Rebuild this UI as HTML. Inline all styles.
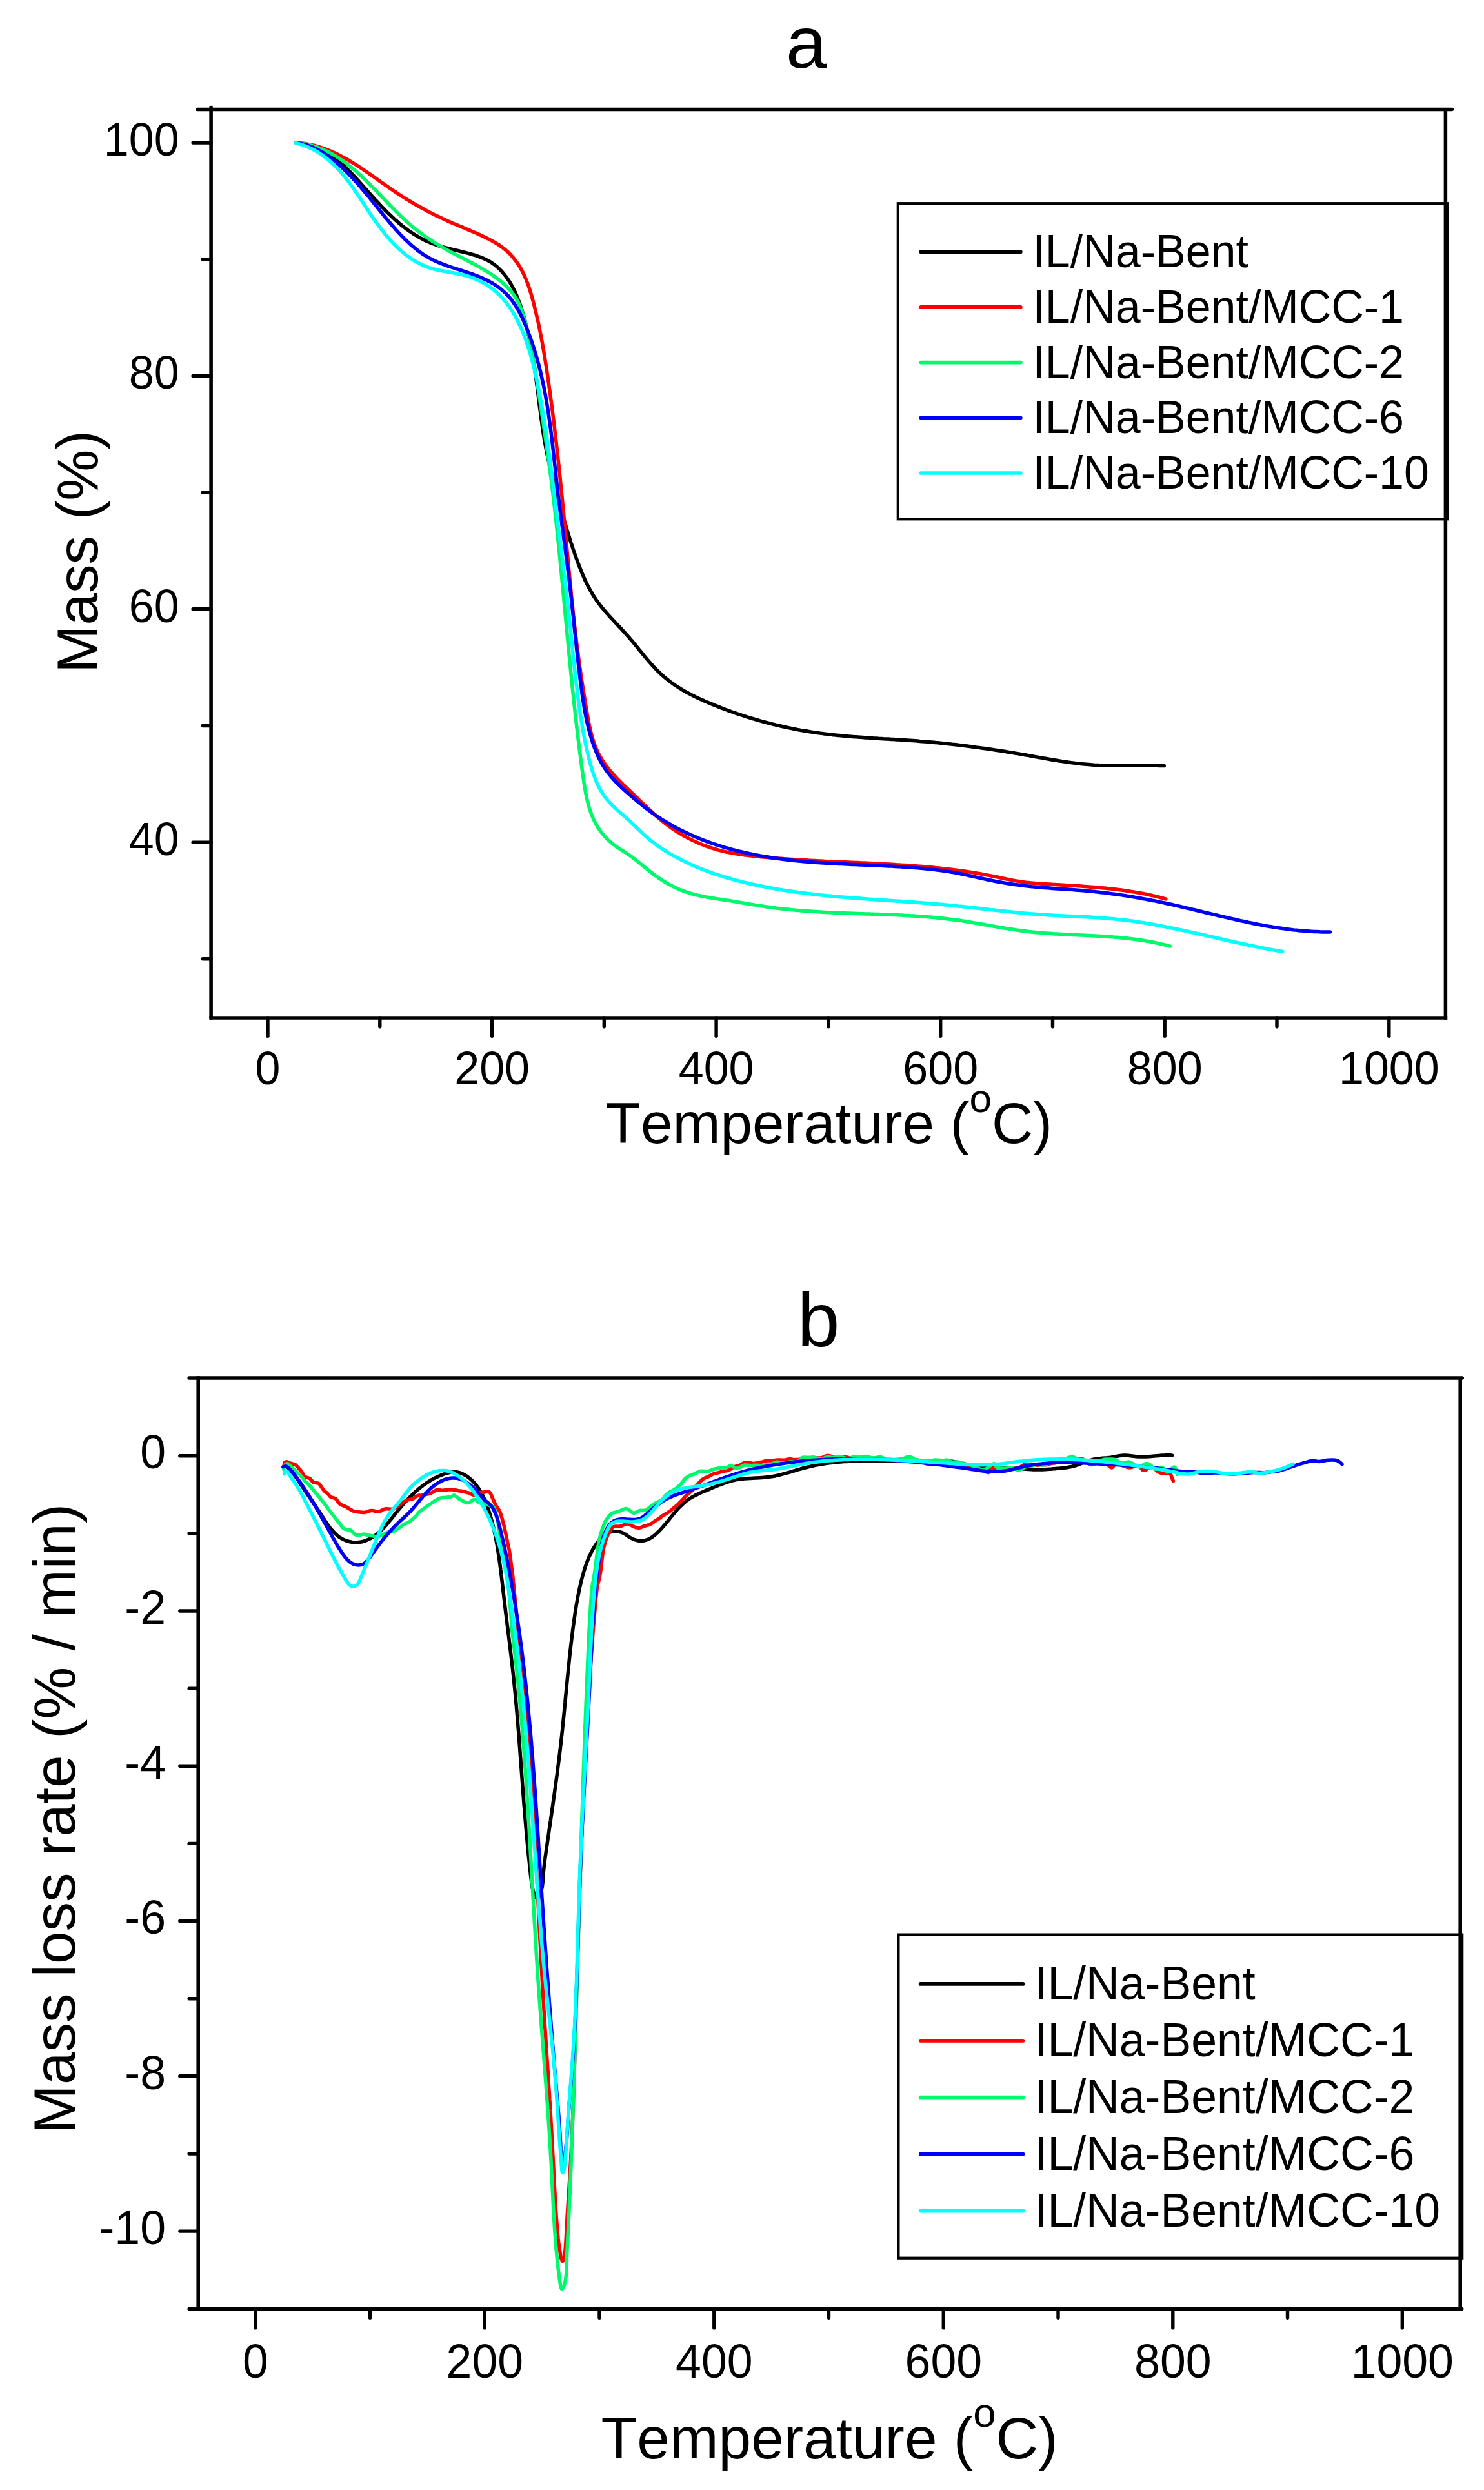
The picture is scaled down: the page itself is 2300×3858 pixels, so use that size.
<!DOCTYPE html>
<html lang="en"><head><meta charset="utf-8"><title>TGA and DTG curves</title>
<style>html,body{margin:0;padding:0;background:#fff}svg{display:block}text{font-family:"Liberation Sans", Arial, Helvetica, sans-serif;fill:#000;font-kerning:none}</style>
</head><body>
<svg width="2300" height="3858" viewBox="0 0 2300 3858">
<rect width="2300" height="3858" fill="#fff"/>
<g id="panel-a">
<path d="M458.8 221.0C460.1 221.2 461.4 221.3 462.7 221.5C464.1 221.7 465.4 221.9 466.7 222.2C468.0 222.4 469.3 222.7 470.6 222.9C471.9 223.2 473.2 223.5 474.5 223.9C475.8 224.2 477.1 224.6 478.4 224.9C479.7 225.3 481.0 225.7 482.3 226.1C483.5 226.5 484.8 227.0 486.0 227.4C487.3 227.9 488.6 228.4 489.8 228.9C491.0 229.4 492.3 229.9 493.5 230.4C494.7 231.0 495.9 231.5 497.1 232.1C498.4 232.7 499.6 233.3 500.7 233.9C501.9 234.5 503.1 235.1 504.3 235.8C505.5 236.4 506.6 237.1 507.8 237.8C508.9 238.5 510.0 239.2 511.2 239.9C512.3 240.7 513.4 241.4 514.5 242.1C515.6 242.9 516.7 243.7 517.8 244.5C518.9 245.3 519.9 246.1 521.0 246.9C522.1 247.7 523.1 248.5 524.2 249.4C525.2 250.2 526.2 251.1 527.2 251.9C528.3 252.8 529.3 253.7 530.3 254.6C531.3 255.5 532.3 256.4 533.3 257.3C534.2 258.2 535.2 259.1 536.2 260.0C537.1 260.9 538.1 261.9 539.1 262.8C540.0 263.8 540.9 264.7 541.9 265.7C542.8 266.6 543.8 267.6 544.7 268.5C545.6 269.5 546.5 270.5 547.4 271.5C548.4 272.4 549.3 273.4 550.2 274.4C551.1 275.4 552.0 276.4 552.9 277.4C553.8 278.4 554.7 279.3 555.6 280.3C556.5 281.3 557.4 282.3 558.3 283.3C559.2 284.3 560.0 285.3 560.9 286.3C561.8 287.3 562.7 288.3 563.6 289.3C564.5 290.3 565.4 291.3 566.3 292.3C567.2 293.3 568.1 294.3 568.9 295.3C569.8 296.3 570.7 297.3 571.6 298.3C572.5 299.3 573.4 300.3 574.3 301.3C575.2 302.3 576.1 303.3 577.0 304.3C577.9 305.3 578.8 306.3 579.7 307.3C580.6 308.3 581.5 309.3 582.4 310.2C583.3 311.2 584.2 312.2 585.1 313.2C586.0 314.2 586.9 315.2 587.9 316.1C588.8 317.1 589.7 318.1 590.6 319.1C591.5 320.0 592.5 321.0 593.4 321.9C594.3 322.9 595.3 323.9 596.2 324.8C597.1 325.8 598.1 326.7 599.0 327.7C600.0 328.6 600.9 329.6 601.9 330.5C602.8 331.4 603.8 332.4 604.8 333.3C605.7 334.2 606.7 335.1 607.7 336.0C608.7 337.0 609.6 337.9 610.6 338.8C611.6 339.7 612.6 340.6 613.6 341.5C614.6 342.3 615.6 343.2 616.6 344.1C617.7 345.0 618.7 345.8 619.7 346.7C620.7 347.6 621.8 348.4 622.8 349.3C623.8 350.1 624.9 350.9 626.0 351.7C627.0 352.6 628.1 353.4 629.1 354.2C630.2 355.0 631.3 355.8 632.4 356.6C633.5 357.4 634.6 358.1 635.7 358.9C636.8 359.7 637.9 360.4 639.0 361.1C640.1 361.9 641.2 362.6 642.4 363.3C643.5 364.0 644.6 364.7 645.8 365.4C646.9 366.1 648.1 366.8 649.2 367.4C650.4 368.1 651.6 368.8 652.8 369.4C653.9 370.0 655.1 370.6 656.3 371.2C657.5 371.8 658.7 372.4 659.9 373.0C661.1 373.6 662.4 374.1 663.6 374.6C664.8 375.2 666.1 375.7 667.3 376.2C668.5 376.7 669.8 377.2 671.0 377.7C672.3 378.1 673.6 378.6 674.8 379.0C676.1 379.5 677.4 379.9 678.6 380.3C679.9 380.7 681.2 381.1 682.5 381.5C683.7 381.9 685.0 382.2 686.3 382.6C687.6 383.0 688.9 383.3 690.2 383.7C691.5 384.0 692.8 384.4 694.1 384.7C695.4 385.0 696.7 385.4 698.0 385.7C699.3 386.0 700.6 386.3 701.9 386.6C703.2 387.0 704.5 387.3 705.8 387.6C707.1 387.9 708.4 388.2 709.7 388.5C711.0 388.8 712.3 389.1 713.6 389.5C714.9 389.8 716.2 390.1 717.5 390.4C718.8 390.7 720.1 391.1 721.4 391.4C722.7 391.7 724.0 392.1 725.3 392.4C726.6 392.7 727.8 393.1 729.1 393.4C730.4 393.8 731.7 394.2 733.0 394.5C734.3 394.9 735.6 395.3 736.8 395.7C738.1 396.1 739.4 396.6 740.6 397.0C741.9 397.4 743.2 397.9 744.4 398.4C745.7 398.8 746.9 399.3 748.2 399.9C749.4 400.4 750.6 400.9 751.8 401.5C753.0 402.0 754.2 402.6 755.4 403.3C756.6 403.9 757.8 404.5 758.9 405.2C760.1 405.9 761.2 406.6 762.4 407.3C763.5 408.0 764.6 408.8 765.6 409.6C766.7 410.4 767.8 411.2 768.8 412.1C769.8 412.9 770.9 413.8 771.8 414.7C772.8 415.6 773.8 416.5 774.7 417.5C775.7 418.4 776.6 419.4 777.5 420.4C778.4 421.4 779.3 422.4 780.2 423.4C781.0 424.4 781.9 425.5 782.7 426.5C783.5 427.6 784.3 428.7 785.1 429.7C785.9 430.8 786.7 431.9 787.4 433.0C788.2 434.1 788.9 435.3 789.6 436.4C790.3 437.5 791.0 438.7 791.7 439.8C792.4 441.0 793.0 442.2 793.7 443.3C794.3 444.5 794.9 445.7 795.5 446.9C796.1 448.1 796.7 449.3 797.3 450.5C797.9 451.7 798.5 452.9 799.0 454.1C799.6 455.3 800.1 456.6 800.6 457.8C801.2 459.0 801.7 460.3 802.2 461.5C802.7 462.7 803.2 464.0 803.6 465.2C804.1 466.5 804.6 467.7 805.0 469.0C805.5 470.3 805.9 471.5 806.4 472.8C806.8 474.1 807.2 475.3 807.6 476.6C808.1 477.9 808.5 479.2 808.9 480.4C809.3 481.7 809.7 483.0 810.0 484.3C810.4 485.5 810.8 486.8 811.2 488.1C811.6 489.4 811.9 490.7 812.3 492.0C812.7 493.3 813.0 494.6 813.4 495.8C813.7 497.1 814.1 498.4 814.4 499.7C814.8 501.0 815.1 502.3 815.4 503.6C815.8 504.9 816.1 506.2 816.4 507.5C816.7 508.8 817.0 510.1 817.3 511.4C817.6 512.7 818.0 514.0 818.3 515.3C818.6 516.6 818.8 517.9 819.1 519.2C819.4 520.5 819.7 521.9 820.0 523.2C820.3 524.5 820.6 525.8 820.8 527.1C821.1 528.4 821.4 529.7 821.6 531.0C821.9 532.3 822.2 533.6 822.4 535.0C822.7 536.3 822.9 537.6 823.2 538.9C823.4 540.2 823.7 541.5 823.9 542.9C824.1 544.2 824.4 545.5 824.6 546.8C824.8 548.1 825.1 549.4 825.3 550.8C825.5 552.1 825.7 553.4 826.0 554.7C826.2 556.0 826.4 557.4 826.6 558.7C826.8 560.0 827.0 561.3 827.3 562.7C827.5 564.0 827.7 565.3 827.9 566.6C828.1 567.9 828.3 569.3 828.5 570.6C828.7 571.9 828.9 573.2 829.1 574.6C829.3 575.9 829.4 577.2 829.6 578.5C829.8 579.9 830.0 581.2 830.2 582.5C830.4 583.8 830.6 585.2 830.8 586.5C830.9 587.8 831.1 589.1 831.3 590.5C831.5 591.8 831.7 593.1 831.8 594.5C832.0 595.8 832.2 597.1 832.4 598.4C832.5 599.8 832.7 601.1 832.9 602.4C833.0 603.7 833.2 605.1 833.4 606.4C833.6 607.7 833.7 609.1 833.9 610.4C834.1 611.7 834.2 613.0 834.4 614.4C834.6 615.7 834.7 617.0 834.9 618.3C835.1 619.7 835.2 621.0 835.4 622.3C835.6 623.7 835.8 625.0 835.9 626.3C836.1 627.6 836.3 629.0 836.4 630.3C836.6 631.6 836.8 633.0 836.9 634.3C837.1 635.6 837.3 636.9 837.5 638.3C837.6 639.6 837.8 640.9 838.0 642.2C838.1 643.6 838.3 644.9 838.5 646.2C838.7 647.6 838.9 648.9 839.0 650.2C839.2 651.5 839.4 652.9 839.6 654.2C839.8 655.5 840.0 656.8 840.1 658.2C840.3 659.5 840.5 660.8 840.7 662.1C840.9 663.5 841.1 664.8 841.3 666.1C841.5 667.4 841.7 668.8 841.9 670.1C842.1 671.4 842.3 672.7 842.5 674.0C842.8 675.4 843.0 676.7 843.2 678.0C843.4 679.3 843.6 680.7 843.9 682.0C844.1 683.3 844.3 684.6 844.5 685.9C844.8 687.2 845.0 688.6 845.3 689.9C845.5 691.2 845.7 692.5 846.0 693.8C846.2 695.1 846.5 696.5 846.8 697.8C847.0 699.1 847.3 700.4 847.6 701.7C847.8 703.0 848.1 704.3 848.4 705.6C848.6 706.9 848.9 708.3 849.2 709.6C849.5 710.9 849.8 712.2 850.1 713.5C850.4 714.8 850.7 716.1 851.0 717.4C851.3 718.7 851.6 720.0 851.9 721.3C852.2 722.6 852.5 723.9 852.8 725.2C853.1 726.5 853.4 727.8 853.7 729.1C854.0 730.4 854.4 731.7 854.7 733.0C855.0 734.3 855.3 735.6 855.6 736.9C856.0 738.2 856.3 739.5 856.6 740.8C857.0 742.1 857.3 743.4 857.6 744.7C858.0 746.0 858.3 747.3 858.6 748.6C859.0 749.9 859.3 751.2 859.6 752.5C860.0 753.8 860.3 755.1 860.7 756.4C861.0 757.7 861.4 759.0 861.7 760.2C862.1 761.5 862.4 762.8 862.8 764.1C863.1 765.4 863.5 766.7 863.8 768.0C864.2 769.3 864.5 770.6 864.9 771.9C865.2 773.2 865.6 774.5 865.9 775.8C866.3 777.0 866.6 778.3 867.0 779.6C867.3 780.9 867.7 782.2 868.0 783.5C868.4 784.8 868.8 786.1 869.1 787.4C869.5 788.7 869.8 789.9 870.2 791.2C870.6 792.5 870.9 793.8 871.3 795.1C871.6 796.4 872.0 797.7 872.4 799.0C872.7 800.3 873.1 801.5 873.5 802.8C873.8 804.1 874.2 805.4 874.6 806.7C874.9 808.0 875.3 809.3 875.7 810.5C876.1 811.8 876.4 813.1 876.8 814.4C877.2 815.7 877.6 817.0 878.0 818.2C878.4 819.5 878.7 820.8 879.1 822.1C879.5 823.4 879.9 824.7 880.3 825.9C880.7 827.2 881.1 828.5 881.5 829.8C881.9 831.1 882.3 832.3 882.7 833.6C883.1 834.9 883.5 836.2 883.9 837.4C884.3 838.7 884.7 840.0 885.1 841.3C885.5 842.5 885.9 843.8 886.4 845.1C886.8 846.3 887.2 847.6 887.6 848.9C888.1 850.2 888.5 851.4 888.9 852.7C889.3 854.0 889.8 855.2 890.2 856.5C890.7 857.8 891.1 859.0 891.5 860.3C892.0 861.5 892.4 862.8 892.9 864.1C893.3 865.3 893.8 866.6 894.3 867.8C894.7 869.1 895.2 870.4 895.6 871.6C896.1 872.9 896.6 874.1 897.1 875.4C897.5 876.6 898.0 877.9 898.5 879.1C899.0 880.4 899.5 881.6 900.0 882.8C900.5 884.1 901.0 885.3 901.5 886.6C902.0 887.8 902.5 889.0 903.0 890.3C903.6 891.5 904.1 892.7 904.6 894.0C905.2 895.2 905.7 896.4 906.3 897.6C906.8 898.8 907.4 900.1 908.0 901.3C908.6 902.5 909.1 903.7 909.7 904.9C910.3 906.1 910.9 907.3 911.5 908.5C912.2 909.7 912.8 910.8 913.4 912.0C914.1 913.2 914.7 914.4 915.4 915.5C916.0 916.7 916.7 917.9 917.4 919.0C918.0 920.2 918.7 921.3 919.5 922.4C920.2 923.6 920.9 924.7 921.6 925.8C922.3 926.9 923.1 928.1 923.9 929.2C924.6 930.3 925.4 931.3 926.2 932.4C927.0 933.5 927.8 934.6 928.6 935.7C929.4 936.7 930.2 937.8 931.0 938.8C931.8 939.9 932.7 940.9 933.5 942.0C934.4 943.0 935.2 944.0 936.1 945.1C937.0 946.1 937.8 947.1 938.7 948.1C939.6 949.1 940.5 950.1 941.4 951.1C942.2 952.1 943.1 953.1 944.0 954.1C944.9 955.1 945.8 956.1 946.7 957.1C947.6 958.1 948.5 959.1 949.5 960.0C950.4 961.0 951.3 962.0 952.2 963.0C953.1 964.0 954.0 964.9 954.9 965.9C955.9 966.9 956.8 967.9 957.7 968.8C958.6 969.8 959.5 970.8 960.4 971.8C961.4 972.7 962.3 973.7 963.2 974.7C964.1 975.7 965.0 976.7 965.9 977.6C966.8 978.6 967.7 979.6 968.6 980.6C969.5 981.6 970.4 982.6 971.3 983.6C972.2 984.6 973.1 985.6 974.0 986.6C974.9 987.6 975.8 988.6 976.6 989.6C977.5 990.6 978.4 991.6 979.2 992.7C980.1 993.7 981.0 994.7 981.8 995.7C982.7 996.8 983.5 997.8 984.4 998.8C985.2 999.9 986.1 1000.9 986.9 1002.0C987.8 1003.0 988.6 1004.0 989.4 1005.1C990.3 1006.1 991.1 1007.2 992.0 1008.2C992.8 1009.2 993.7 1010.3 994.5 1011.3C995.3 1012.3 996.2 1013.4 997.0 1014.4C997.9 1015.5 998.7 1016.5 999.6 1017.5C1000.4 1018.6 1001.3 1019.6 1002.2 1020.6C1003.0 1021.6 1003.9 1022.7 1004.8 1023.7C1005.6 1024.7 1006.5 1025.7 1007.4 1026.7C1008.3 1027.7 1009.1 1028.7 1010.0 1029.7C1010.9 1030.7 1011.8 1031.7 1012.7 1032.7C1013.7 1033.7 1014.6 1034.7 1015.5 1035.6C1016.4 1036.6 1017.4 1037.5 1018.3 1038.5C1019.2 1039.4 1020.2 1040.4 1021.2 1041.3C1022.1 1042.2 1023.1 1043.2 1024.1 1044.1C1025.1 1045.0 1026.0 1045.9 1027.1 1046.8C1028.1 1047.7 1029.1 1048.5 1030.1 1049.4C1031.1 1050.3 1032.1 1051.1 1033.2 1051.9C1034.2 1052.8 1035.3 1053.6 1036.3 1054.4C1037.4 1055.3 1038.5 1056.1 1039.5 1056.9C1040.6 1057.7 1041.7 1058.4 1042.8 1059.2C1043.9 1060.0 1045.0 1060.8 1046.1 1061.5C1047.2 1062.3 1048.3 1063.0 1049.4 1063.7C1050.6 1064.5 1051.7 1065.2 1052.8 1065.9C1053.9 1066.6 1055.1 1067.3 1056.2 1068.0C1057.4 1068.7 1058.5 1069.4 1059.7 1070.0C1060.9 1070.7 1062.0 1071.4 1063.2 1072.0C1064.4 1072.7 1065.5 1073.3 1066.7 1074.0C1067.9 1074.6 1069.1 1075.2 1070.3 1075.8C1071.4 1076.5 1072.6 1077.1 1073.8 1077.7C1075.0 1078.3 1076.2 1078.9 1077.4 1079.5C1078.6 1080.0 1079.8 1080.6 1081.0 1081.2C1082.3 1081.8 1083.5 1082.3 1084.7 1082.9C1085.9 1083.5 1087.1 1084.0 1088.3 1084.6C1089.6 1085.1 1090.8 1085.6 1092.0 1086.2C1093.2 1086.7 1094.5 1087.3 1095.7 1087.8C1096.9 1088.3 1098.2 1088.8 1099.4 1089.4C1100.6 1089.9 1101.9 1090.4 1103.1 1090.9C1104.3 1091.4 1105.6 1091.9 1106.8 1092.4C1108.1 1092.9 1109.3 1093.4 1110.5 1093.9C1111.8 1094.4 1113.0 1094.9 1114.3 1095.4C1115.5 1095.9 1116.8 1096.4 1118.0 1096.9C1119.3 1097.3 1120.5 1097.8 1121.8 1098.3C1123.0 1098.8 1124.3 1099.2 1125.5 1099.7C1126.8 1100.2 1128.0 1100.6 1129.3 1101.1C1130.6 1101.6 1131.8 1102.0 1133.1 1102.5C1134.3 1102.9 1135.6 1103.4 1136.9 1103.8C1138.1 1104.2 1139.4 1104.7 1140.6 1105.1C1141.9 1105.6 1143.2 1106.0 1144.4 1106.4C1145.7 1106.9 1147.0 1107.3 1148.3 1107.7C1149.5 1108.1 1150.8 1108.5 1152.1 1109.0C1153.3 1109.4 1154.6 1109.8 1155.9 1110.2C1157.2 1110.6 1158.4 1111.0 1159.7 1111.4C1161.0 1111.8 1162.3 1112.2 1163.6 1112.6C1164.8 1113.0 1166.1 1113.4 1167.4 1113.7C1168.7 1114.1 1170.0 1114.5 1171.3 1114.9C1172.5 1115.3 1173.8 1115.6 1175.1 1116.0C1176.4 1116.4 1177.7 1116.7 1179.0 1117.1C1180.3 1117.4 1181.6 1117.8 1182.8 1118.2C1184.1 1118.5 1185.4 1118.9 1186.7 1119.2C1188.0 1119.6 1189.3 1119.9 1190.6 1120.2C1191.9 1120.6 1193.2 1120.9 1194.5 1121.2C1195.8 1121.6 1197.1 1121.9 1198.4 1122.2C1199.7 1122.5 1201.0 1122.9 1202.3 1123.2C1203.6 1123.5 1204.9 1123.8 1206.2 1124.1C1207.5 1124.4 1208.8 1124.7 1210.1 1125.0C1211.4 1125.3 1212.7 1125.6 1214.0 1125.9C1215.3 1126.2 1216.6 1126.5 1217.9 1126.8C1219.3 1127.1 1220.6 1127.3 1221.9 1127.6C1223.2 1127.9 1224.5 1128.2 1225.8 1128.4C1227.1 1128.7 1228.4 1129.0 1229.7 1129.2C1231.1 1129.5 1232.4 1129.7 1233.7 1130.0C1235.0 1130.2 1236.3 1130.5 1237.6 1130.7C1238.9 1131.0 1240.3 1131.2 1241.6 1131.5C1242.9 1131.7 1244.2 1131.9 1245.5 1132.2C1246.8 1132.4 1248.2 1132.6 1249.5 1132.8C1250.8 1133.1 1252.1 1133.3 1253.5 1133.5C1254.8 1133.7 1256.1 1133.9 1257.4 1134.1C1258.7 1134.3 1260.1 1134.5 1261.4 1134.7C1262.7 1134.9 1264.0 1135.1 1265.4 1135.3C1266.7 1135.5 1268.0 1135.7 1269.3 1135.9C1270.7 1136.1 1272.0 1136.2 1273.3 1136.4C1274.6 1136.6 1276.0 1136.8 1277.3 1136.9C1278.6 1137.1 1280.0 1137.3 1281.3 1137.4C1282.6 1137.6 1283.9 1137.7 1285.3 1137.9C1286.6 1138.1 1287.9 1138.2 1289.3 1138.4C1290.6 1138.5 1291.9 1138.6 1293.3 1138.8C1294.6 1138.9 1295.9 1139.1 1297.2 1139.2C1298.6 1139.3 1299.9 1139.5 1301.2 1139.6C1302.6 1139.7 1303.9 1139.9 1305.2 1140.0C1306.6 1140.1 1307.9 1140.2 1309.2 1140.4C1310.6 1140.5 1311.9 1140.6 1313.2 1140.7C1314.6 1140.8 1315.9 1140.9 1317.2 1141.1C1318.6 1141.2 1319.9 1141.3 1321.2 1141.4C1322.6 1141.5 1323.9 1141.6 1325.2 1141.7C1326.6 1141.8 1327.9 1141.9 1329.3 1142.0C1330.6 1142.1 1331.9 1142.2 1333.3 1142.3C1334.6 1142.4 1335.9 1142.5 1337.3 1142.6C1338.6 1142.7 1339.9 1142.8 1341.3 1142.9C1342.6 1143.0 1343.9 1143.0 1345.3 1143.1C1346.6 1143.2 1347.9 1143.3 1349.3 1143.4C1350.6 1143.5 1352.0 1143.6 1353.3 1143.7C1354.6 1143.7 1356.0 1143.8 1357.3 1143.9C1358.6 1144.0 1360.0 1144.1 1361.3 1144.2C1362.6 1144.2 1364.0 1144.3 1365.3 1144.4C1366.7 1144.5 1368.0 1144.6 1369.3 1144.7C1370.7 1144.7 1372.0 1144.8 1373.3 1144.9C1374.7 1145.0 1376.0 1145.1 1377.3 1145.1C1378.7 1145.2 1380.0 1145.3 1381.3 1145.4C1382.7 1145.5 1384.0 1145.6 1385.4 1145.6C1386.7 1145.7 1388.0 1145.8 1389.4 1145.9C1390.7 1146.0 1392.0 1146.0 1393.4 1146.1C1394.7 1146.2 1396.0 1146.3 1397.4 1146.4C1398.7 1146.5 1400.1 1146.6 1401.4 1146.6C1402.7 1146.7 1404.1 1146.8 1405.4 1146.9C1406.7 1147.0 1408.1 1147.1 1409.4 1147.2C1410.7 1147.3 1412.1 1147.4 1413.4 1147.5C1414.7 1147.6 1416.1 1147.6 1417.4 1147.7C1418.7 1147.8 1420.1 1147.9 1421.4 1148.0C1422.8 1148.1 1424.1 1148.2 1425.4 1148.4C1426.8 1148.5 1428.1 1148.6 1429.4 1148.7C1430.8 1148.8 1432.1 1148.9 1433.4 1149.0C1434.8 1149.1 1436.1 1149.2 1437.4 1149.3C1438.8 1149.5 1440.1 1149.6 1441.4 1149.7C1442.8 1149.8 1444.1 1149.9 1445.4 1150.1C1446.8 1150.2 1448.1 1150.3 1449.4 1150.4C1450.8 1150.6 1452.1 1150.7 1453.4 1150.8C1454.8 1150.9 1456.1 1151.1 1457.4 1151.2C1458.8 1151.3 1460.1 1151.5 1461.4 1151.6C1462.7 1151.8 1464.1 1151.9 1465.4 1152.0C1466.7 1152.2 1468.1 1152.3 1469.4 1152.5C1470.7 1152.6 1472.1 1152.8 1473.4 1152.9C1474.7 1153.1 1476.1 1153.2 1477.4 1153.4C1478.7 1153.5 1480.0 1153.7 1481.4 1153.8C1482.7 1154.0 1484.0 1154.1 1485.4 1154.3C1486.7 1154.4 1488.0 1154.6 1489.4 1154.8C1490.7 1154.9 1492.0 1155.1 1493.3 1155.3C1494.7 1155.4 1496.0 1155.6 1497.3 1155.8C1498.6 1155.9 1500.0 1156.1 1501.3 1156.3C1502.6 1156.4 1504.0 1156.6 1505.3 1156.8C1506.6 1157.0 1507.9 1157.1 1509.3 1157.3C1510.6 1157.5 1511.9 1157.7 1513.2 1157.9C1514.6 1158.0 1515.9 1158.2 1517.2 1158.4C1518.6 1158.6 1519.9 1158.8 1521.2 1159.0C1522.5 1159.1 1523.9 1159.3 1525.2 1159.5C1526.5 1159.7 1527.8 1159.9 1529.2 1160.1C1530.5 1160.3 1531.8 1160.5 1533.1 1160.7C1534.5 1160.9 1535.8 1161.1 1537.1 1161.3C1538.4 1161.5 1539.7 1161.7 1541.1 1161.9C1542.4 1162.1 1543.7 1162.3 1545.0 1162.5C1546.4 1162.7 1547.7 1162.9 1549.0 1163.1C1550.3 1163.3 1551.7 1163.5 1553.0 1163.7C1554.3 1163.9 1555.6 1164.1 1556.9 1164.3C1558.3 1164.6 1559.6 1164.8 1560.9 1165.0C1562.2 1165.2 1563.5 1165.4 1564.9 1165.6C1566.2 1165.9 1567.5 1166.1 1568.8 1166.3C1570.2 1166.5 1571.5 1166.7 1572.8 1167.0C1574.1 1167.2 1575.4 1167.4 1576.8 1167.6C1578.1 1167.9 1579.4 1168.1 1580.7 1168.3C1582.0 1168.5 1583.3 1168.8 1584.7 1169.0C1586.0 1169.2 1587.3 1169.4 1588.6 1169.7C1589.9 1169.9 1591.3 1170.1 1592.6 1170.4C1593.9 1170.6 1595.2 1170.8 1596.5 1171.1C1597.8 1171.3 1599.2 1171.6 1600.5 1171.8C1601.8 1172.0 1603.1 1172.3 1604.4 1172.5C1605.8 1172.7 1607.1 1173.0 1608.4 1173.2C1609.7 1173.5 1611.0 1173.7 1612.3 1173.9C1613.7 1174.2 1615.0 1174.4 1616.3 1174.6C1617.6 1174.9 1618.9 1175.1 1620.2 1175.3C1621.6 1175.6 1622.9 1175.8 1624.2 1176.0C1625.5 1176.3 1626.8 1176.5 1628.2 1176.7C1629.5 1176.9 1630.8 1177.2 1632.1 1177.4C1633.4 1177.6 1634.8 1177.8 1636.1 1178.0C1637.4 1178.3 1638.7 1178.5 1640.0 1178.7C1641.4 1178.9 1642.7 1179.1 1644.0 1179.3C1645.3 1179.5 1646.7 1179.7 1648.0 1179.9C1649.3 1180.1 1650.6 1180.3 1652.0 1180.5C1653.3 1180.7 1654.6 1180.9 1655.9 1181.1C1657.3 1181.3 1658.6 1181.4 1659.9 1181.6C1661.2 1181.8 1662.6 1182.0 1663.9 1182.1C1665.2 1182.3 1666.5 1182.5 1667.9 1182.6C1669.2 1182.8 1670.5 1182.9 1671.9 1183.1C1673.2 1183.2 1674.5 1183.4 1675.9 1183.5C1677.2 1183.7 1678.5 1183.8 1679.9 1183.9C1681.2 1184.0 1682.5 1184.2 1683.9 1184.3C1685.2 1184.4 1686.5 1184.5 1687.9 1184.6C1689.2 1184.7 1690.5 1184.8 1691.9 1184.9C1693.2 1185.0 1694.5 1185.1 1695.9 1185.2C1697.2 1185.2 1698.5 1185.3 1699.9 1185.4C1701.2 1185.5 1702.6 1185.5 1703.9 1185.6C1705.2 1185.6 1706.6 1185.7 1707.9 1185.7C1709.2 1185.8 1710.6 1185.8 1711.9 1185.9C1713.3 1185.9 1714.6 1186.0 1715.9 1186.0C1717.3 1186.0 1718.6 1186.1 1719.9 1186.1C1721.3 1186.1 1722.6 1186.1 1724.0 1186.2C1725.3 1186.2 1726.6 1186.2 1728.0 1186.2C1729.3 1186.2 1730.7 1186.2 1732.0 1186.2C1733.3 1186.2 1734.7 1186.3 1736.0 1186.3C1737.3 1186.3 1738.7 1186.3 1740.0 1186.3C1741.4 1186.3 1742.7 1186.3 1744.0 1186.3C1745.4 1186.3 1746.7 1186.3 1748.1 1186.3C1749.4 1186.3 1750.7 1186.2 1752.1 1186.2C1753.4 1186.2 1754.7 1186.2 1756.1 1186.2C1757.4 1186.2 1758.8 1186.2 1760.1 1186.2C1761.4 1186.2 1762.8 1186.2 1764.1 1186.2C1765.5 1186.2 1766.8 1186.2 1768.1 1186.2C1769.5 1186.2 1770.8 1186.2 1772.1 1186.2C1773.5 1186.2 1774.8 1186.2 1776.2 1186.2C1777.5 1186.2 1778.8 1186.2 1780.2 1186.2C1781.5 1186.2 1782.9 1186.2 1784.2 1186.2C1785.5 1186.2 1786.9 1186.2 1788.2 1186.3C1789.6 1186.3 1790.9 1186.3 1792.2 1186.3C1793.6 1186.3 1794.9 1186.4 1796.2 1186.4C1797.6 1186.4 1798.9 1186.4 1800.3 1186.5C1801.6 1186.5 1802.9 1186.6 1804.3 1186.6" fill="none" stroke="#000000" stroke-width="5.5" stroke-linecap="round" stroke-linejoin="round"/>
<path d="M458.6 221.1C460.0 221.1 461.3 221.2 462.6 221.3C464.0 221.5 465.3 221.6 466.6 221.7C468.0 221.9 469.3 222.1 470.6 222.2C471.9 222.4 473.3 222.6 474.6 222.8C475.9 223.1 477.2 223.3 478.5 223.6C479.8 223.8 481.2 224.1 482.5 224.4C483.8 224.7 485.1 225.0 486.4 225.3C487.7 225.6 489.0 226.0 490.2 226.3C491.5 226.7 492.8 227.1 494.1 227.4C495.4 227.8 496.7 228.2 497.9 228.7C499.2 229.1 500.5 229.5 501.7 229.9C503.0 230.4 504.2 230.9 505.5 231.3C506.7 231.8 508.0 232.3 509.2 232.8C510.5 233.3 511.7 233.8 512.9 234.3C514.2 234.9 515.4 235.4 516.6 236.0C517.8 236.5 519.0 237.1 520.2 237.6C521.5 238.2 522.7 238.8 523.9 239.4C525.1 240.0 526.2 240.6 527.4 241.2C528.6 241.8 529.8 242.5 531.0 243.1C532.2 243.7 533.3 244.4 534.5 245.0C535.7 245.7 536.8 246.3 538.0 247.0C539.2 247.7 540.3 248.3 541.5 249.0C542.6 249.7 543.8 250.4 544.9 251.1C546.0 251.8 547.2 252.5 548.3 253.2C549.5 253.9 550.6 254.6 551.7 255.3C552.8 256.0 554.0 256.8 555.1 257.5C556.2 258.2 557.3 259.0 558.4 259.7C559.6 260.4 560.7 261.2 561.8 261.9C562.9 262.7 564.0 263.4 565.1 264.2C566.2 264.9 567.3 265.7 568.4 266.4C569.5 267.2 570.6 268.0 571.7 268.7C572.8 269.5 573.9 270.3 575.0 271.0C576.1 271.8 577.2 272.6 578.3 273.3C579.4 274.1 580.5 274.9 581.6 275.6C582.7 276.4 583.8 277.2 584.9 278.0C585.9 278.7 587.0 279.5 588.1 280.3C589.2 281.1 590.3 281.8 591.4 282.6C592.5 283.4 593.6 284.2 594.7 284.9C595.8 285.7 596.9 286.5 598.0 287.2C599.1 288.0 600.1 288.8 601.2 289.5C602.3 290.3 603.4 291.1 604.5 291.8C605.6 292.6 606.7 293.3 607.9 294.1C609.0 294.9 610.1 295.6 611.2 296.4C612.3 297.1 613.4 297.8 614.5 298.6C615.6 299.3 616.7 300.1 617.9 300.8C619.0 301.5 620.1 302.3 621.2 303.0C622.3 303.7 623.5 304.4 624.6 305.1C625.7 305.9 626.9 306.6 628.0 307.3C629.1 308.0 630.3 308.7 631.4 309.4C632.6 310.1 633.7 310.8 634.8 311.5C636.0 312.2 637.1 312.8 638.3 313.5C639.4 314.2 640.6 314.9 641.8 315.6C642.9 316.2 644.1 316.9 645.2 317.6C646.4 318.2 647.6 318.9 648.7 319.5C649.9 320.2 651.1 320.9 652.2 321.5C653.4 322.2 654.6 322.8 655.7 323.4C656.9 324.1 658.1 324.7 659.3 325.3C660.5 326.0 661.6 326.6 662.8 327.2C664.0 327.8 665.2 328.5 666.4 329.1C667.6 329.7 668.8 330.3 670.0 330.9C671.1 331.5 672.3 332.1 673.5 332.7C674.7 333.3 675.9 333.9 677.1 334.5C678.3 335.1 679.5 335.6 680.8 336.2C682.0 336.8 683.2 337.4 684.4 337.9C685.6 338.5 686.8 339.1 688.0 339.6C689.2 340.2 690.4 340.8 691.7 341.3C692.9 341.9 694.1 342.4 695.3 343.0C696.5 343.5 697.8 344.0 699.0 344.6C700.2 345.1 701.5 345.6 702.7 346.2C703.9 346.7 705.1 347.2 706.4 347.8C707.6 348.3 708.8 348.8 710.1 349.3C711.3 349.8 712.5 350.4 713.8 350.9C715.0 351.4 716.2 351.9 717.5 352.4C718.7 353.0 719.9 353.5 721.2 354.0C722.4 354.5 723.6 355.0 724.9 355.6C726.1 356.1 727.3 356.6 728.6 357.1C729.8 357.7 731.0 358.2 732.2 358.7C733.5 359.2 734.7 359.8 735.9 360.3C737.1 360.9 738.4 361.4 739.6 361.9C740.8 362.5 742.0 363.0 743.2 363.6C744.5 364.2 745.7 364.7 746.9 365.3C748.1 365.8 749.3 366.4 750.5 367.0C751.7 367.6 752.9 368.2 754.1 368.8C755.3 369.4 756.5 370.0 757.7 370.6C758.9 371.2 760.1 371.8 761.2 372.4C762.4 373.1 763.6 373.7 764.8 374.4C765.9 375.0 767.1 375.7 768.2 376.4C769.4 377.1 770.5 377.8 771.6 378.5C772.8 379.2 773.9 380.0 775.0 380.7C776.1 381.5 777.2 382.3 778.3 383.1C779.3 383.9 780.4 384.7 781.4 385.5C782.5 386.3 783.5 387.2 784.5 388.1C785.5 388.9 786.5 389.8 787.5 390.8C788.5 391.7 789.4 392.6 790.4 393.6C791.3 394.5 792.2 395.5 793.1 396.5C794.0 397.5 794.9 398.5 795.7 399.5C796.6 400.6 797.4 401.6 798.2 402.7C799.1 403.7 799.9 404.8 800.6 405.9C801.4 407.0 802.2 408.1 802.9 409.2C803.7 410.3 804.4 411.4 805.1 412.6C805.8 413.7 806.5 414.9 807.1 416.0C807.8 417.2 808.4 418.4 809.1 419.5C809.7 420.7 810.3 421.9 810.9 423.1C811.5 424.3 812.1 425.5 812.6 426.7C813.2 428.0 813.7 429.2 814.2 430.4C814.8 431.6 815.3 432.9 815.8 434.1C816.3 435.4 816.8 436.6 817.2 437.9C817.7 439.1 818.2 440.4 818.6 441.6C819.1 442.9 819.5 444.1 819.9 445.4C820.4 446.7 820.8 448.0 821.2 449.2C821.6 450.5 822.0 451.8 822.4 453.1C822.8 454.3 823.2 455.6 823.5 456.9C823.9 458.2 824.3 459.5 824.6 460.8C825.0 462.1 825.3 463.3 825.7 464.6C826.0 465.9 826.4 467.2 826.7 468.5C827.1 469.8 827.4 471.1 827.7 472.4C828.1 473.7 828.4 475.0 828.7 476.3C829.0 477.6 829.4 478.9 829.7 480.2C830.0 481.5 830.3 482.8 830.6 484.1C830.9 485.4 831.2 486.7 831.5 488.0C831.8 489.3 832.1 490.6 832.4 491.9C832.7 493.2 833.0 494.5 833.3 495.8C833.6 497.1 833.9 498.4 834.2 499.7C834.5 501.0 834.7 502.4 835.0 503.7C835.3 505.0 835.6 506.3 835.8 507.6C836.1 508.9 836.4 510.2 836.6 511.5C836.9 512.8 837.2 514.2 837.4 515.5C837.7 516.8 837.9 518.1 838.2 519.4C838.5 520.7 838.7 522.0 839.0 523.3C839.2 524.7 839.4 526.0 839.7 527.3C839.9 528.6 840.2 529.9 840.4 531.2C840.7 532.6 840.9 533.9 841.1 535.2C841.4 536.5 841.6 537.8 841.8 539.1C842.0 540.5 842.3 541.8 842.5 543.1C842.7 544.4 843.0 545.7 843.2 547.1C843.4 548.4 843.6 549.7 843.8 551.0C844.0 552.3 844.3 553.6 844.5 555.0C844.7 556.3 844.9 557.6 845.1 558.9C845.3 560.3 845.5 561.6 845.7 562.9C846.0 564.2 846.2 565.5 846.4 566.9C846.6 568.2 846.8 569.5 847.0 570.8C847.2 572.2 847.4 573.5 847.6 574.8C847.8 576.1 848.0 577.4 848.2 578.8C848.4 580.1 848.6 581.4 848.8 582.7C849.0 584.1 849.1 585.4 849.3 586.7C849.5 588.0 849.7 589.4 849.9 590.7C850.1 592.0 850.3 593.3 850.5 594.7C850.7 596.0 850.9 597.3 851.0 598.6C851.2 599.9 851.4 601.3 851.6 602.6C851.8 603.9 852.0 605.2 852.2 606.6C852.3 607.9 852.5 609.2 852.7 610.6C852.9 611.9 853.1 613.2 853.2 614.5C853.4 615.9 853.6 617.2 853.8 618.5C854.0 619.8 854.1 621.2 854.3 622.5C854.5 623.8 854.7 625.1 854.8 626.5C855.0 627.8 855.2 629.1 855.4 630.4C855.5 631.8 855.7 633.1 855.9 634.4C856.0 635.7 856.2 637.1 856.4 638.4C856.6 639.7 856.7 641.1 856.9 642.4C857.1 643.7 857.2 645.0 857.4 646.4C857.6 647.7 857.7 649.0 857.9 650.3C858.1 651.7 858.2 653.0 858.4 654.3C858.5 655.7 858.7 657.0 858.9 658.3C859.0 659.6 859.2 661.0 859.4 662.3C859.5 663.6 859.7 665.0 859.8 666.3C860.0 667.6 860.1 668.9 860.3 670.3C860.5 671.6 860.6 672.9 860.8 674.3C860.9 675.6 861.1 676.9 861.2 678.2C861.4 679.6 861.5 680.9 861.7 682.2C861.9 683.6 862.0 684.9 862.2 686.2C862.3 687.5 862.5 688.9 862.6 690.2C862.8 691.5 862.9 692.9 863.1 694.2C863.2 695.5 863.4 696.8 863.5 698.2C863.7 699.5 863.8 700.8 864.0 702.2C864.1 703.5 864.2 704.8 864.4 706.2C864.5 707.5 864.7 708.8 864.8 710.1C865.0 711.5 865.1 712.8 865.3 714.1C865.4 715.5 865.5 716.8 865.7 718.1C865.8 719.5 866.0 720.8 866.1 722.1C866.3 723.4 866.4 724.8 866.5 726.1C866.7 727.4 866.8 728.8 867.0 730.1C867.1 731.4 867.2 732.8 867.4 734.1C867.5 735.4 867.7 736.8 867.8 738.1C867.9 739.4 868.1 740.7 868.2 742.1C868.3 743.4 868.5 744.7 868.6 746.1C868.8 747.4 868.9 748.7 869.0 750.1C869.2 751.4 869.3 752.7 869.4 754.1C869.6 755.4 869.7 756.7 869.8 758.0C870.0 759.4 870.1 760.7 870.2 762.0C870.4 763.4 870.5 764.7 870.6 766.0C870.8 767.4 870.9 768.7 871.0 770.0C871.2 771.4 871.3 772.7 871.4 774.0C871.6 775.4 871.7 776.7 871.8 778.0C871.9 779.3 872.1 780.7 872.2 782.0C872.3 783.3 872.5 784.7 872.6 786.0C872.7 787.3 872.8 788.7 873.0 790.0C873.1 791.3 873.2 792.7 873.4 794.0C873.5 795.3 873.6 796.7 873.7 798.0C873.9 799.3 874.0 800.7 874.1 802.0C874.3 803.3 874.4 804.6 874.5 806.0C874.6 807.3 874.8 808.6 874.9 810.0C875.0 811.3 875.1 812.6 875.3 814.0C875.4 815.3 875.5 816.6 875.6 818.0C875.8 819.3 875.9 820.6 876.0 822.0C876.1 823.3 876.3 824.6 876.4 826.0C876.5 827.3 876.7 828.6 876.8 830.0C876.9 831.3 877.0 832.6 877.2 833.9C877.3 835.3 877.4 836.6 877.5 837.9C877.6 839.3 877.8 840.6 877.9 841.9C878.0 843.3 878.1 844.6 878.3 845.9C878.4 847.3 878.5 848.6 878.6 849.9C878.8 851.3 878.9 852.6 879.0 853.9C879.1 855.3 879.3 856.6 879.4 857.9C879.5 859.3 879.6 860.6 879.8 861.9C879.9 863.3 880.0 864.6 880.1 865.9C880.3 867.2 880.4 868.6 880.5 869.9C880.6 871.2 880.8 872.6 880.9 873.9C881.0 875.2 881.1 876.6 881.3 877.9C881.4 879.2 881.5 880.6 881.6 881.9C881.8 883.2 881.9 884.6 882.0 885.9C882.1 887.2 882.3 888.6 882.4 889.9C882.5 891.2 882.7 892.6 882.8 893.9C882.9 895.2 883.0 896.5 883.2 897.9C883.3 899.2 883.4 900.5 883.5 901.9C883.7 903.2 883.8 904.5 883.9 905.9C884.1 907.2 884.2 908.5 884.3 909.9C884.5 911.2 884.6 912.5 884.7 913.9C884.9 915.2 885.0 916.5 885.1 917.9C885.2 919.2 885.4 920.5 885.5 921.8C885.6 923.2 885.8 924.5 885.9 925.8C886.0 927.2 886.2 928.5 886.3 929.8C886.5 931.2 886.6 932.5 886.7 933.8C886.9 935.2 887.0 936.5 887.1 937.8C887.3 939.1 887.4 940.5 887.6 941.8C887.7 943.1 887.8 944.5 888.0 945.8C888.1 947.1 888.3 948.5 888.4 949.8C888.5 951.1 888.7 952.5 888.8 953.8C889.0 955.1 889.1 956.4 889.3 957.8C889.4 959.1 889.6 960.4 889.7 961.8C889.8 963.1 890.0 964.4 890.1 965.7C890.3 967.1 890.4 968.4 890.6 969.7C890.7 971.1 890.9 972.4 891.0 973.7C891.2 975.1 891.3 976.4 891.5 977.7C891.7 979.0 891.8 980.4 892.0 981.7C892.1 983.0 892.3 984.4 892.4 985.7C892.6 987.0 892.8 988.3 892.9 989.7C893.1 991.0 893.2 992.3 893.4 993.7C893.6 995.0 893.7 996.3 893.9 997.6C894.0 999.0 894.2 1000.3 894.4 1001.6C894.5 1002.9 894.7 1004.3 894.9 1005.6C895.1 1006.9 895.2 1008.3 895.4 1009.6C895.6 1010.9 895.7 1012.2 895.9 1013.6C896.1 1014.9 896.3 1016.2 896.4 1017.5C896.6 1018.9 896.8 1020.2 897.0 1021.5C897.1 1022.8 897.3 1024.2 897.5 1025.5C897.7 1026.8 897.9 1028.1 898.1 1029.5C898.2 1030.8 898.4 1032.1 898.6 1033.4C898.8 1034.8 899.0 1036.1 899.2 1037.4C899.4 1038.7 899.6 1040.1 899.7 1041.4C899.9 1042.7 900.1 1044.0 900.3 1045.4C900.5 1046.7 900.7 1048.0 900.9 1049.3C901.1 1050.7 901.3 1052.0 901.5 1053.3C901.7 1054.6 901.9 1055.9 902.1 1057.3C902.3 1058.6 902.5 1059.9 902.7 1061.2C902.9 1062.6 903.1 1063.9 903.3 1065.2C903.6 1066.5 903.8 1067.8 904.0 1069.2C904.2 1070.5 904.4 1071.8 904.6 1073.1C904.8 1074.5 905.0 1075.8 905.2 1077.1C905.5 1078.4 905.7 1079.7 905.9 1081.1C906.1 1082.4 906.3 1083.7 906.5 1085.0C906.7 1086.3 907.0 1087.7 907.2 1089.0C907.4 1090.3 907.6 1091.6 907.8 1092.9C908.1 1094.3 908.3 1095.6 908.5 1096.9C908.7 1098.2 909.0 1099.5 909.2 1100.8C909.4 1102.2 909.6 1103.5 909.9 1104.8C910.1 1106.1 910.3 1107.4 910.5 1108.8C910.8 1110.1 911.0 1111.4 911.2 1112.7C911.5 1114.0 911.7 1115.3 912.0 1116.7C912.2 1118.0 912.5 1119.3 912.7 1120.6C913.0 1121.9 913.3 1123.2 913.5 1124.5C913.8 1125.8 914.1 1127.1 914.4 1128.5C914.7 1129.8 915.0 1131.1 915.3 1132.4C915.6 1133.7 915.9 1135.0 916.3 1136.3C916.6 1137.6 916.9 1138.8 917.3 1140.1C917.6 1141.4 918.0 1142.7 918.4 1144.0C918.8 1145.3 919.2 1146.6 919.6 1147.8C920.0 1149.1 920.4 1150.4 920.9 1151.6C921.3 1152.9 921.8 1154.2 922.2 1155.4C922.7 1156.7 923.2 1157.9 923.7 1159.1C924.2 1160.4 924.8 1161.6 925.3 1162.8C925.9 1164.0 926.4 1165.2 927.0 1166.4C927.6 1167.6 928.2 1168.8 928.9 1170.0C929.5 1171.2 930.2 1172.4 930.8 1173.5C931.5 1174.7 932.2 1175.8 932.9 1176.9C933.6 1178.1 934.3 1179.2 935.1 1180.3C935.8 1181.4 936.6 1182.5 937.4 1183.6C938.2 1184.7 938.9 1185.8 939.7 1186.8C940.6 1187.9 941.4 1189.0 942.2 1190.0C943.0 1191.1 943.9 1192.1 944.7 1193.1C945.6 1194.2 946.4 1195.2 947.3 1196.2C948.2 1197.2 949.1 1198.2 950.0 1199.2C950.9 1200.2 951.8 1201.2 952.7 1202.2C953.6 1203.2 954.5 1204.2 955.4 1205.1C956.3 1206.1 957.3 1207.1 958.2 1208.0C959.1 1209.0 960.1 1209.9 961.0 1210.9C961.9 1211.8 962.9 1212.8 963.8 1213.7C964.8 1214.7 965.8 1215.6 966.7 1216.5C967.7 1217.5 968.6 1218.4 969.6 1219.3C970.6 1220.2 971.5 1221.2 972.5 1222.1C973.5 1223.0 974.4 1223.9 975.4 1224.9C976.4 1225.8 977.3 1226.7 978.3 1227.6C979.3 1228.5 980.3 1229.5 981.2 1230.4C982.2 1231.3 983.2 1232.2 984.1 1233.1C985.1 1234.1 986.1 1235.0 987.0 1235.9C988.0 1236.8 989.0 1237.8 989.9 1238.7C990.9 1239.6 991.8 1240.6 992.8 1241.5C993.8 1242.4 994.7 1243.3 995.7 1244.3C996.7 1245.2 997.6 1246.1 998.6 1247.0C999.6 1248.0 1000.5 1248.9 1001.5 1249.8C1002.5 1250.7 1003.4 1251.7 1004.4 1252.6C1005.4 1253.5 1006.4 1254.4 1007.4 1255.3C1008.3 1256.2 1009.3 1257.1 1010.3 1258.0C1011.3 1258.9 1012.3 1259.8 1013.3 1260.7C1014.3 1261.6 1015.3 1262.5 1016.3 1263.4C1017.3 1264.3 1018.3 1265.2 1019.3 1266.1C1020.3 1266.9 1021.3 1267.8 1022.3 1268.7C1023.4 1269.5 1024.4 1270.4 1025.4 1271.2C1026.4 1272.1 1027.5 1272.9 1028.5 1273.8C1029.6 1274.6 1030.6 1275.4 1031.7 1276.2C1032.7 1277.1 1033.8 1277.9 1034.9 1278.7C1036.0 1279.5 1037.0 1280.3 1038.1 1281.0C1039.2 1281.8 1040.3 1282.6 1041.4 1283.4C1042.5 1284.1 1043.6 1284.9 1044.7 1285.6C1045.8 1286.4 1046.9 1287.1 1048.1 1287.8C1049.2 1288.6 1050.3 1289.3 1051.5 1290.0C1052.6 1290.7 1053.7 1291.4 1054.9 1292.1C1056.0 1292.7 1057.2 1293.4 1058.3 1294.1C1059.5 1294.8 1060.7 1295.4 1061.8 1296.1C1063.0 1296.7 1064.2 1297.3 1065.4 1298.0C1066.6 1298.6 1067.7 1299.2 1068.9 1299.8C1070.1 1300.4 1071.3 1301.0 1072.5 1301.6C1073.7 1302.2 1074.9 1302.8 1076.1 1303.3C1077.4 1303.9 1078.6 1304.5 1079.8 1305.0C1081.0 1305.6 1082.2 1306.1 1083.5 1306.6C1084.7 1307.1 1085.9 1307.7 1087.2 1308.2C1088.4 1308.7 1089.7 1309.2 1090.9 1309.6C1092.2 1310.1 1093.4 1310.6 1094.7 1311.0C1095.9 1311.5 1097.2 1312.0 1098.4 1312.4C1099.7 1312.8 1101.0 1313.3 1102.3 1313.7C1103.5 1314.1 1104.8 1314.5 1106.1 1314.9C1107.4 1315.3 1108.6 1315.7 1109.9 1316.0C1111.2 1316.4 1112.5 1316.8 1113.8 1317.1C1115.1 1317.5 1116.4 1317.8 1117.7 1318.1C1119.0 1318.5 1120.3 1318.8 1121.6 1319.1C1122.9 1319.4 1124.2 1319.7 1125.5 1320.0C1126.8 1320.3 1128.1 1320.5 1129.4 1320.8C1130.7 1321.1 1132.0 1321.3 1133.4 1321.5C1134.7 1321.8 1136.0 1322.0 1137.3 1322.3C1138.6 1322.5 1139.9 1322.7 1141.3 1322.9C1142.6 1323.1 1143.9 1323.3 1145.2 1323.5C1146.6 1323.7 1147.9 1323.9 1149.2 1324.1C1150.5 1324.3 1151.9 1324.5 1153.2 1324.7C1154.5 1324.8 1155.8 1325.0 1157.2 1325.2C1158.5 1325.3 1159.8 1325.5 1161.1 1325.6C1162.5 1325.8 1163.8 1326.0 1165.1 1326.1C1166.5 1326.3 1167.8 1326.4 1169.1 1326.5C1170.4 1326.7 1171.8 1326.8 1173.1 1327.0C1174.4 1327.1 1175.8 1327.2 1177.1 1327.4C1178.4 1327.5 1179.8 1327.6 1181.1 1327.8C1182.4 1327.9 1183.8 1328.0 1185.1 1328.2C1186.4 1328.3 1187.8 1328.4 1189.1 1328.5C1190.4 1328.7 1191.8 1328.8 1193.1 1328.9C1194.4 1329.0 1195.8 1329.1 1197.1 1329.2C1198.4 1329.3 1199.7 1329.5 1201.1 1329.6C1202.4 1329.7 1203.7 1329.8 1205.1 1329.9C1206.4 1330.0 1207.7 1330.1 1209.1 1330.2C1210.4 1330.3 1211.8 1330.4 1213.1 1330.5C1214.4 1330.6 1215.8 1330.7 1217.1 1330.8C1218.4 1330.9 1219.8 1331.0 1221.1 1331.1C1222.4 1331.2 1223.8 1331.3 1225.1 1331.4C1226.4 1331.5 1227.8 1331.5 1229.1 1331.6C1230.4 1331.7 1231.8 1331.8 1233.1 1331.9C1234.4 1332.0 1235.8 1332.1 1237.1 1332.1C1238.4 1332.2 1239.8 1332.3 1241.1 1332.4C1242.5 1332.5 1243.8 1332.5 1245.1 1332.6C1246.5 1332.7 1247.8 1332.8 1249.1 1332.8C1250.5 1332.9 1251.8 1333.0 1253.1 1333.1C1254.5 1333.1 1255.8 1333.2 1257.1 1333.3C1258.5 1333.4 1259.8 1333.4 1261.2 1333.5C1262.5 1333.6 1263.8 1333.6 1265.2 1333.7C1266.5 1333.8 1267.8 1333.8 1269.2 1333.9C1270.5 1334.0 1271.8 1334.0 1273.2 1334.1C1274.5 1334.2 1275.9 1334.2 1277.2 1334.3C1278.5 1334.3 1279.9 1334.4 1281.2 1334.5C1282.5 1334.5 1283.9 1334.6 1285.2 1334.7C1286.5 1334.7 1287.9 1334.8 1289.2 1334.8C1290.6 1334.9 1291.9 1335.0 1293.2 1335.0C1294.6 1335.1 1295.9 1335.1 1297.2 1335.2C1298.6 1335.3 1299.9 1335.3 1301.2 1335.4C1302.6 1335.4 1303.9 1335.5 1305.3 1335.6C1306.6 1335.6 1307.9 1335.7 1309.3 1335.7C1310.6 1335.8 1311.9 1335.8 1313.3 1335.9C1314.6 1336.0 1315.9 1336.0 1317.3 1336.1C1318.6 1336.1 1320.0 1336.2 1321.3 1336.2C1322.6 1336.3 1324.0 1336.4 1325.3 1336.4C1326.6 1336.5 1328.0 1336.5 1329.3 1336.6C1330.6 1336.7 1332.0 1336.7 1333.3 1336.8C1334.7 1336.8 1336.0 1336.9 1337.3 1337.0C1338.7 1337.0 1340.0 1337.1 1341.3 1337.1C1342.7 1337.2 1344.0 1337.3 1345.3 1337.3C1346.7 1337.4 1348.0 1337.4 1349.4 1337.5C1350.7 1337.6 1352.0 1337.6 1353.4 1337.7C1354.7 1337.8 1356.0 1337.8 1357.4 1337.9C1358.7 1338.0 1360.0 1338.0 1361.4 1338.1C1362.7 1338.2 1364.1 1338.2 1365.4 1338.3C1366.7 1338.4 1368.1 1338.4 1369.4 1338.5C1370.7 1338.6 1372.1 1338.7 1373.4 1338.7C1374.7 1338.8 1376.1 1338.9 1377.4 1338.9C1378.7 1339.0 1380.1 1339.1 1381.4 1339.2C1382.8 1339.3 1384.1 1339.3 1385.4 1339.4C1386.8 1339.5 1388.1 1339.6 1389.4 1339.7C1390.8 1339.7 1392.1 1339.8 1393.4 1339.9C1394.8 1340.0 1396.1 1340.1 1397.4 1340.2C1398.8 1340.2 1400.1 1340.3 1401.4 1340.4C1402.8 1340.5 1404.1 1340.6 1405.5 1340.7C1406.8 1340.8 1408.1 1340.9 1409.5 1341.0C1410.8 1341.1 1412.1 1341.2 1413.5 1341.3C1414.8 1341.4 1416.1 1341.5 1417.5 1341.6C1418.8 1341.7 1420.1 1341.8 1421.5 1341.9C1422.8 1342.0 1424.1 1342.1 1425.5 1342.2C1426.8 1342.3 1428.1 1342.4 1429.5 1342.5C1430.8 1342.7 1432.1 1342.8 1433.5 1342.9C1434.8 1343.0 1436.1 1343.1 1437.5 1343.2C1438.8 1343.4 1440.1 1343.5 1441.5 1343.6C1442.8 1343.7 1444.1 1343.9 1445.4 1344.0C1446.8 1344.1 1448.1 1344.3 1449.4 1344.4C1450.8 1344.5 1452.1 1344.7 1453.4 1344.8C1454.8 1344.9 1456.1 1345.1 1457.4 1345.2C1458.8 1345.4 1460.1 1345.5 1461.4 1345.7C1462.7 1345.8 1464.1 1346.0 1465.4 1346.1C1466.7 1346.3 1468.1 1346.4 1469.4 1346.6C1470.7 1346.7 1472.0 1346.9 1473.4 1347.1C1474.7 1347.2 1476.0 1347.4 1477.4 1347.6C1478.7 1347.7 1480.0 1347.9 1481.3 1348.1C1482.7 1348.2 1484.0 1348.4 1485.3 1348.6C1486.6 1348.8 1488.0 1349.0 1489.3 1349.1C1490.6 1349.3 1491.9 1349.5 1493.3 1349.7C1494.6 1349.9 1495.9 1350.1 1497.2 1350.3C1498.6 1350.5 1499.9 1350.7 1501.2 1350.9C1502.5 1351.1 1503.8 1351.3 1505.2 1351.5C1506.5 1351.7 1507.8 1351.9 1509.1 1352.1C1510.5 1352.4 1511.8 1352.6 1513.1 1352.8C1514.4 1353.0 1515.7 1353.3 1517.0 1353.5C1518.4 1353.7 1519.7 1353.9 1521.0 1354.2C1522.3 1354.4 1523.6 1354.6 1524.9 1354.9C1526.3 1355.1 1527.6 1355.4 1528.9 1355.6C1530.2 1355.9 1531.5 1356.1 1532.8 1356.4C1534.1 1356.6 1535.5 1356.9 1536.8 1357.2C1538.1 1357.4 1539.4 1357.7 1540.7 1358.0C1542.0 1358.2 1543.3 1358.5 1544.6 1358.8C1545.9 1359.0 1547.3 1359.3 1548.6 1359.6C1549.9 1359.9 1551.2 1360.1 1552.5 1360.4C1553.8 1360.7 1555.1 1361.0 1556.4 1361.2C1557.7 1361.5 1559.0 1361.8 1560.4 1362.1C1561.7 1362.3 1563.0 1362.6 1564.3 1362.8C1565.6 1363.1 1566.9 1363.4 1568.2 1363.6C1569.5 1363.9 1570.9 1364.1 1572.2 1364.4C1573.5 1364.6 1574.8 1364.8 1576.1 1365.1C1577.4 1365.3 1578.8 1365.5 1580.1 1365.7C1581.4 1365.9 1582.7 1366.1 1584.0 1366.3C1585.4 1366.5 1586.7 1366.7 1588.0 1366.9C1589.3 1367.1 1590.7 1367.2 1592.0 1367.4C1593.3 1367.5 1594.7 1367.7 1596.0 1367.8C1597.3 1368.0 1598.7 1368.1 1600.0 1368.2C1601.3 1368.3 1602.7 1368.4 1604.0 1368.5C1605.3 1368.6 1606.7 1368.7 1608.0 1368.8C1609.3 1368.9 1610.7 1369.0 1612.0 1369.1C1613.3 1369.2 1614.7 1369.3 1616.0 1369.4C1617.3 1369.5 1618.7 1369.5 1620.0 1369.6C1621.3 1369.7 1622.7 1369.8 1624.0 1369.9C1625.3 1370.0 1626.7 1370.0 1628.0 1370.1C1629.3 1370.2 1630.7 1370.3 1632.0 1370.4C1633.4 1370.4 1634.7 1370.5 1636.0 1370.6C1637.4 1370.7 1638.7 1370.8 1640.0 1370.8C1641.4 1370.9 1642.7 1371.0 1644.0 1371.1C1645.4 1371.2 1646.7 1371.2 1648.0 1371.3C1649.4 1371.4 1650.7 1371.5 1652.1 1371.6C1653.4 1371.6 1654.7 1371.7 1656.1 1371.8C1657.4 1371.9 1658.7 1372.0 1660.1 1372.1C1661.4 1372.1 1662.7 1372.2 1664.1 1372.3C1665.4 1372.4 1666.7 1372.5 1668.1 1372.6C1669.4 1372.7 1670.7 1372.7 1672.1 1372.8C1673.4 1372.9 1674.7 1373.0 1676.1 1373.1C1677.4 1373.2 1678.7 1373.3 1680.1 1373.4C1681.4 1373.5 1682.8 1373.6 1684.1 1373.7C1685.4 1373.8 1686.8 1373.9 1688.1 1374.0C1689.4 1374.1 1690.8 1374.2 1692.1 1374.3C1693.4 1374.4 1694.8 1374.5 1696.1 1374.6C1697.4 1374.7 1698.8 1374.8 1700.1 1375.0C1701.4 1375.1 1702.8 1375.2 1704.1 1375.3C1705.4 1375.4 1706.8 1375.6 1708.1 1375.7C1709.4 1375.8 1710.7 1375.9 1712.1 1376.1C1713.4 1376.2 1714.7 1376.3 1716.1 1376.5C1717.4 1376.6 1718.7 1376.7 1720.1 1376.9C1721.4 1377.0 1722.7 1377.2 1724.1 1377.3C1725.4 1377.5 1726.7 1377.6 1728.0 1377.8C1729.4 1377.9 1730.7 1378.1 1732.0 1378.3C1733.4 1378.4 1734.7 1378.6 1736.0 1378.8C1737.3 1379.0 1738.7 1379.1 1740.0 1379.3C1741.3 1379.5 1742.6 1379.7 1744.0 1379.9C1745.3 1380.1 1746.6 1380.2 1747.9 1380.4C1749.3 1380.6 1750.6 1380.8 1751.9 1381.1C1753.2 1381.3 1754.5 1381.5 1755.9 1381.7C1757.2 1381.9 1758.5 1382.1 1759.8 1382.4C1761.1 1382.6 1762.5 1382.8 1763.8 1383.0C1765.1 1383.3 1766.4 1383.5 1767.7 1383.8C1769.0 1384.0 1770.3 1384.3 1771.7 1384.5C1773.0 1384.8 1774.3 1385.0 1775.6 1385.3C1776.9 1385.6 1778.2 1385.9 1779.5 1386.1C1780.8 1386.4 1782.1 1386.7 1783.4 1387.0C1784.7 1387.3 1786.1 1387.6 1787.4 1387.9C1788.7 1388.2 1790.0 1388.5 1791.3 1388.8C1792.6 1389.1 1793.9 1389.5 1795.2 1389.8C1796.5 1390.1 1797.7 1390.5 1799.0 1390.8C1800.3 1391.1 1801.6 1391.5 1802.9 1391.8C1804.2 1392.2 1805.5 1392.6 1806.8 1392.9" fill="none" stroke="#ff0000" stroke-width="5.5" stroke-linecap="round" stroke-linejoin="round"/>
<path d="M458.6 221.1C459.9 221.2 461.3 221.3 462.6 221.5C463.9 221.6 465.2 221.8 466.6 222.0C467.9 222.2 469.2 222.4 470.5 222.6C471.8 222.8 473.1 223.1 474.5 223.3C475.8 223.6 477.1 223.9 478.4 224.2C479.7 224.5 481.0 224.8 482.3 225.2C483.5 225.5 484.8 225.9 486.1 226.3C487.4 226.7 488.7 227.1 489.9 227.5C491.2 227.9 492.5 228.4 493.7 228.8C495.0 229.3 496.2 229.8 497.4 230.3C498.7 230.8 499.9 231.3 501.1 231.8C502.4 232.4 503.6 232.9 504.8 233.5C506.0 234.1 507.2 234.7 508.4 235.3C509.6 235.9 510.8 236.5 511.9 237.1C513.1 237.7 514.3 238.4 515.5 239.0C516.6 239.7 517.8 240.4 518.9 241.1C520.1 241.7 521.2 242.4 522.3 243.2C523.5 243.9 524.6 244.6 525.7 245.3C526.8 246.1 527.9 246.8 529.0 247.6C530.1 248.3 531.2 249.1 532.3 249.9C533.4 250.7 534.5 251.4 535.5 252.2C536.6 253.0 537.7 253.9 538.7 254.7C539.8 255.5 540.8 256.3 541.9 257.1C542.9 258.0 544.0 258.8 545.0 259.7C546.0 260.5 547.0 261.4 548.1 262.2C549.1 263.1 550.1 264.0 551.1 264.9C552.1 265.7 553.1 266.6 554.1 267.5C555.1 268.4 556.1 269.3 557.1 270.2C558.1 271.1 559.0 272.0 560.0 272.9C561.0 273.8 562.0 274.8 562.9 275.7C563.9 276.6 564.9 277.5 565.8 278.4C566.8 279.4 567.7 280.3 568.7 281.2C569.7 282.2 570.6 283.1 571.6 284.1C572.5 285.0 573.4 286.0 574.4 286.9C575.3 287.9 576.3 288.8 577.2 289.8C578.1 290.7 579.1 291.7 580.0 292.6C580.9 293.6 581.9 294.5 582.8 295.5C583.7 296.5 584.6 297.4 585.6 298.4C586.5 299.4 587.4 300.3 588.3 301.3C589.3 302.2 590.2 303.2 591.1 304.2C592.0 305.1 593.0 306.1 593.9 307.1C594.8 308.0 595.7 309.0 596.7 310.0C597.6 310.9 598.5 311.9 599.4 312.9C600.4 313.8 601.3 314.8 602.2 315.8C603.1 316.7 604.1 317.7 605.0 318.6C605.9 319.6 606.9 320.6 607.8 321.5C608.7 322.5 609.7 323.4 610.6 324.4C611.5 325.3 612.5 326.3 613.4 327.2C614.4 328.2 615.3 329.1 616.3 330.0C617.2 331.0 618.2 331.9 619.1 332.8C620.1 333.8 621.1 334.7 622.0 335.6C623.0 336.5 624.0 337.5 624.9 338.4C625.9 339.3 626.9 340.2 627.9 341.1C628.9 342.0 629.8 342.9 630.8 343.8C631.8 344.7 632.8 345.6 633.8 346.4C634.8 347.3 635.9 348.2 636.9 349.1C637.9 349.9 638.9 350.8 639.9 351.6C641.0 352.5 642.0 353.3 643.0 354.2C644.1 355.0 645.1 355.9 646.2 356.7C647.2 357.5 648.3 358.3 649.4 359.1C650.4 359.9 651.5 360.7 652.6 361.5C653.6 362.3 654.7 363.1 655.8 363.9C656.9 364.7 658.0 365.4 659.1 366.2C660.2 367.0 661.3 367.7 662.4 368.5C663.5 369.2 664.6 370.0 665.7 370.7C666.8 371.5 667.9 372.2 669.0 372.9C670.2 373.7 671.3 374.4 672.4 375.1C673.6 375.8 674.7 376.5 675.8 377.2C677.0 377.9 678.1 378.6 679.2 379.3C680.4 380.0 681.5 380.7 682.7 381.4C683.8 382.0 685.0 382.7 686.1 383.4C687.3 384.1 688.5 384.7 689.6 385.4C690.8 386.0 691.9 386.7 693.1 387.3C694.3 388.0 695.4 388.6 696.6 389.3C697.8 389.9 699.0 390.5 700.2 391.2C701.3 391.8 702.5 392.4 703.7 393.1C704.9 393.7 706.1 394.3 707.2 394.9C708.4 395.5 709.6 396.2 710.8 396.8C712.0 397.4 713.2 398.0 714.4 398.6C715.5 399.2 716.7 399.8 717.9 400.4C719.1 401.0 720.3 401.7 721.5 402.3C722.7 402.9 723.9 403.5 725.0 404.1C726.2 404.7 727.4 405.3 728.6 406.0C729.8 406.6 731.0 407.2 732.1 407.8C733.3 408.5 734.5 409.1 735.7 409.7C736.9 410.4 738.0 411.0 739.2 411.6C740.4 412.3 741.5 412.9 742.7 413.6C743.9 414.2 745.0 414.9 746.2 415.6C747.4 416.2 748.5 416.9 749.7 417.6C750.8 418.3 751.9 419.0 753.1 419.7C754.2 420.4 755.4 421.1 756.5 421.8C757.6 422.5 758.7 423.2 759.9 423.9C761.0 424.7 762.1 425.4 763.2 426.2C764.3 426.9 765.4 427.7 766.5 428.5C767.6 429.3 768.6 430.0 769.7 430.8C770.8 431.6 771.8 432.4 772.9 433.3C774.0 434.1 775.0 434.9 776.0 435.8C777.1 436.6 778.1 437.5 779.1 438.4C780.1 439.2 781.1 440.1 782.1 441.0C783.1 441.9 784.0 442.8 785.0 443.8C785.9 444.7 786.9 445.7 787.8 446.6C788.7 447.6 789.6 448.6 790.5 449.6C791.4 450.6 792.3 451.6 793.1 452.7C793.9 453.7 794.8 454.8 795.5 455.8C796.3 456.9 797.1 458.0 797.8 459.1C798.6 460.2 799.3 461.4 800.0 462.5C800.7 463.7 801.3 464.8 801.9 466.0C802.6 467.2 803.2 468.4 803.8 469.6C804.3 470.8 804.9 472.0 805.4 473.2C806.0 474.4 806.5 475.7 807.0 476.9C807.5 478.2 807.9 479.4 808.4 480.7C808.8 481.9 809.3 483.2 809.7 484.4C810.1 485.7 810.6 487.0 811.0 488.3C811.4 489.5 811.7 490.8 812.1 492.1C812.5 493.4 812.9 494.7 813.2 495.9C813.6 497.2 814.0 498.5 814.3 499.8C814.7 501.1 815.0 502.4 815.3 503.7C815.7 505.0 816.0 506.3 816.3 507.6C816.7 508.9 817.0 510.2 817.3 511.5C817.6 512.8 817.9 514.0 818.2 515.4C818.5 516.7 818.8 518.0 819.1 519.3C819.4 520.6 819.7 521.9 820.0 523.2C820.3 524.5 820.6 525.8 820.8 527.1C821.1 528.4 821.4 529.7 821.7 531.0C821.9 532.3 822.2 533.6 822.5 534.9C822.7 536.2 823.0 537.6 823.2 538.9C823.5 540.2 823.7 541.5 824.0 542.8C824.2 544.1 824.5 545.4 824.7 546.7C825.0 548.1 825.2 549.4 825.5 550.7C825.7 552.0 825.9 553.3 826.2 554.6C826.4 555.9 826.7 557.3 826.9 558.6C827.1 559.9 827.3 561.2 827.6 562.5C827.8 563.8 828.0 565.2 828.3 566.5C828.5 567.8 828.7 569.1 828.9 570.4C829.2 571.7 829.4 573.1 829.6 574.4C829.8 575.7 830.0 577.0 830.3 578.3C830.5 579.7 830.7 581.0 830.9 582.3C831.1 583.6 831.3 584.9 831.5 586.2C831.8 587.6 832.0 588.9 832.2 590.2C832.4 591.5 832.6 592.8 832.8 594.2C833.0 595.5 833.2 596.8 833.4 598.1C833.6 599.4 833.8 600.8 834.0 602.1C834.2 603.4 834.4 604.7 834.6 606.0C834.8 607.4 835.0 608.7 835.2 610.0C835.4 611.3 835.6 612.7 835.8 614.0C836.0 615.3 836.2 616.6 836.4 617.9C836.6 619.3 836.8 620.6 837.0 621.9C837.2 623.2 837.4 624.5 837.6 625.9C837.8 627.2 838.0 628.5 838.2 629.8C838.4 631.2 838.6 632.5 838.8 633.8C839.0 635.1 839.2 636.4 839.4 637.8C839.6 639.1 839.8 640.4 839.9 641.7C840.1 643.0 840.3 644.4 840.5 645.7C840.7 647.0 840.9 648.3 841.1 649.7C841.3 651.0 841.5 652.3 841.7 653.6C841.9 654.9 842.1 656.3 842.3 657.6C842.5 658.9 842.7 660.2 842.9 661.6C843.0 662.9 843.2 664.2 843.4 665.5C843.6 666.8 843.8 668.2 844.0 669.5C844.2 670.8 844.4 672.1 844.6 673.5C844.8 674.8 845.0 676.1 845.2 677.4C845.4 678.7 845.6 680.1 845.8 681.4C845.9 682.7 846.1 684.0 846.3 685.4C846.5 686.7 846.7 688.0 846.9 689.3C847.1 690.6 847.3 692.0 847.5 693.3C847.7 694.6 847.8 695.9 848.0 697.3C848.2 698.6 848.4 699.9 848.6 701.2C848.8 702.5 849.0 703.9 849.2 705.2C849.3 706.5 849.5 707.8 849.7 709.2C849.9 710.5 850.1 711.8 850.3 713.1C850.4 714.5 850.6 715.8 850.8 717.1C851.0 718.4 851.2 719.8 851.3 721.1C851.5 722.4 851.7 723.7 851.9 725.1C852.1 726.4 852.2 727.7 852.4 729.0C852.6 730.3 852.8 731.7 852.9 733.0C853.1 734.3 853.3 735.6 853.4 737.0C853.6 738.3 853.8 739.6 854.0 740.9C854.1 742.3 854.3 743.6 854.5 744.9C854.6 746.2 854.8 747.6 855.0 748.9C855.1 750.2 855.3 751.6 855.5 752.9C855.6 754.2 855.8 755.5 856.0 756.9C856.1 758.2 856.3 759.5 856.4 760.8C856.6 762.2 856.8 763.5 856.9 764.8C857.1 766.1 857.2 767.5 857.4 768.8C857.6 770.1 857.7 771.4 857.9 772.8C858.0 774.1 858.2 775.4 858.3 776.8C858.5 778.1 858.6 779.4 858.8 780.7C859.0 782.1 859.1 783.4 859.3 784.7C859.4 786.0 859.6 787.4 859.7 788.7C859.9 790.0 860.0 791.4 860.2 792.7C860.3 794.0 860.5 795.3 860.6 796.7C860.8 798.0 860.9 799.3 861.0 800.7C861.2 802.0 861.3 803.3 861.5 804.6C861.6 806.0 861.8 807.3 861.9 808.6C862.1 809.9 862.2 811.3 862.4 812.6C862.5 813.9 862.6 815.3 862.8 816.6C862.9 817.9 863.1 819.2 863.2 820.6C863.4 821.9 863.5 823.2 863.6 824.6C863.8 825.9 863.9 827.2 864.1 828.5C864.2 829.9 864.3 831.2 864.5 832.5C864.6 833.9 864.7 835.2 864.9 836.5C865.0 837.9 865.2 839.2 865.3 840.5C865.4 841.8 865.6 843.2 865.7 844.5C865.8 845.8 866.0 847.2 866.1 848.5C866.2 849.8 866.4 851.1 866.5 852.5C866.6 853.8 866.8 855.1 866.9 856.5C867.0 857.8 867.2 859.1 867.3 860.4C867.4 861.8 867.6 863.1 867.7 864.4C867.8 865.8 868.0 867.1 868.1 868.4C868.2 869.8 868.4 871.1 868.5 872.4C868.6 873.7 868.8 875.1 868.9 876.4C869.0 877.7 869.1 879.1 869.3 880.4C869.4 881.7 869.5 883.1 869.7 884.4C869.8 885.7 869.9 887.0 870.0 888.4C870.2 889.7 870.3 891.0 870.4 892.4C870.6 893.7 870.7 895.0 870.8 896.4C870.9 897.7 871.1 899.0 871.2 900.3C871.3 901.7 871.5 903.0 871.6 904.3C871.7 905.7 871.8 907.0 872.0 908.3C872.1 909.7 872.2 911.0 872.3 912.3C872.5 913.6 872.6 915.0 872.7 916.3C872.8 917.6 873.0 919.0 873.1 920.3C873.2 921.6 873.4 923.0 873.5 924.3C873.6 925.6 873.7 926.9 873.9 928.3C874.0 929.6 874.1 930.9 874.2 932.3C874.4 933.6 874.5 934.9 874.6 936.3C874.7 937.6 874.9 938.9 875.0 940.2C875.1 941.6 875.2 942.9 875.4 944.2C875.5 945.6 875.6 946.9 875.7 948.2C875.9 949.6 876.0 950.9 876.1 952.2C876.2 953.5 876.4 954.9 876.5 956.2C876.6 957.5 876.7 958.9 876.9 960.2C877.0 961.5 877.1 962.9 877.2 964.2C877.4 965.5 877.5 966.8 877.6 968.2C877.7 969.5 877.9 970.8 878.0 972.2C878.1 973.5 878.3 974.8 878.4 976.2C878.5 977.5 878.6 978.8 878.8 980.2C878.9 981.5 879.0 982.8 879.1 984.1C879.3 985.5 879.4 986.8 879.5 988.1C879.6 989.5 879.8 990.8 879.9 992.1C880.0 993.5 880.2 994.8 880.3 996.1C880.4 997.4 880.5 998.8 880.7 1000.1C880.8 1001.4 880.9 1002.8 881.1 1004.1C881.2 1005.4 881.3 1006.7 881.4 1008.1C881.6 1009.4 881.7 1010.7 881.8 1012.1C882.0 1013.4 882.1 1014.7 882.2 1016.1C882.3 1017.4 882.5 1018.7 882.6 1020.0C882.7 1021.4 882.9 1022.7 883.0 1024.0C883.1 1025.4 883.3 1026.7 883.4 1028.0C883.5 1029.4 883.7 1030.7 883.8 1032.0C883.9 1033.3 884.1 1034.7 884.2 1036.0C884.3 1037.3 884.4 1038.7 884.6 1040.0C884.7 1041.3 884.8 1042.7 885.0 1044.0C885.1 1045.3 885.3 1046.6 885.4 1048.0C885.5 1049.3 885.7 1050.6 885.8 1052.0C885.9 1053.3 886.1 1054.6 886.2 1055.9C886.3 1057.3 886.5 1058.6 886.6 1059.9C886.7 1061.3 886.9 1062.6 887.0 1063.9C887.2 1065.2 887.3 1066.6 887.4 1067.9C887.6 1069.2 887.7 1070.6 887.9 1071.9C888.0 1073.2 888.1 1074.5 888.3 1075.9C888.4 1077.2 888.6 1078.5 888.7 1079.9C888.8 1081.2 889.0 1082.5 889.1 1083.8C889.3 1085.2 889.4 1086.5 889.6 1087.8C889.7 1089.2 889.8 1090.5 890.0 1091.8C890.1 1093.1 890.3 1094.5 890.4 1095.8C890.6 1097.1 890.7 1098.5 890.9 1099.8C891.0 1101.1 891.2 1102.4 891.3 1103.8C891.5 1105.1 891.6 1106.4 891.8 1107.8C891.9 1109.1 892.1 1110.4 892.2 1111.7C892.4 1113.1 892.5 1114.4 892.7 1115.7C892.8 1117.0 893.0 1118.4 893.1 1119.7C893.3 1121.0 893.4 1122.4 893.6 1123.7C893.7 1125.0 893.9 1126.3 894.0 1127.7C894.2 1129.0 894.4 1130.3 894.5 1131.6C894.7 1133.0 894.8 1134.3 895.0 1135.6C895.1 1137.0 895.3 1138.3 895.5 1139.6C895.6 1140.9 895.8 1142.3 895.9 1143.6C896.1 1144.9 896.3 1146.2 896.4 1147.6C896.6 1148.9 896.7 1150.2 896.9 1151.5C897.1 1152.9 897.2 1154.2 897.4 1155.5C897.6 1156.8 897.7 1158.2 897.9 1159.5C898.1 1160.8 898.2 1162.1 898.4 1163.5C898.6 1164.8 898.7 1166.1 898.9 1167.4C899.1 1168.8 899.3 1170.1 899.4 1171.4C899.6 1172.7 899.8 1174.1 899.9 1175.4C900.1 1176.7 900.3 1178.0 900.5 1179.4C900.6 1180.7 900.8 1182.0 901.0 1183.3C901.2 1184.7 901.3 1186.0 901.5 1187.3C901.7 1188.6 901.9 1190.0 902.1 1191.3C902.2 1192.6 902.4 1193.9 902.6 1195.3C902.8 1196.6 903.0 1197.9 903.2 1199.2C903.3 1200.6 903.5 1201.9 903.7 1203.2C903.9 1204.5 904.1 1205.8 904.3 1207.2C904.5 1208.5 904.7 1209.8 904.8 1211.1C905.0 1212.5 905.2 1213.8 905.4 1215.1C905.7 1216.4 905.9 1217.7 906.1 1219.1C906.3 1220.4 906.5 1221.7 906.7 1223.0C907.0 1224.3 907.2 1225.6 907.4 1227.0C907.7 1228.3 907.9 1229.6 908.2 1230.9C908.5 1232.2 908.7 1233.5 909.0 1234.8C909.3 1236.1 909.6 1237.4 909.9 1238.7C910.2 1240.0 910.5 1241.3 910.8 1242.6C911.1 1243.9 911.5 1245.2 911.8 1246.5C912.2 1247.8 912.5 1249.1 912.9 1250.4C913.3 1251.6 913.7 1252.9 914.1 1254.2C914.5 1255.5 915.0 1256.7 915.4 1258.0C915.8 1259.2 916.3 1260.5 916.8 1261.8C917.3 1263.0 917.8 1264.2 918.3 1265.5C918.8 1266.7 919.3 1267.9 919.9 1269.1C920.4 1270.4 921.0 1271.6 921.6 1272.8C922.2 1274.0 922.8 1275.1 923.5 1276.3C924.1 1277.5 924.8 1278.6 925.4 1279.8C926.1 1280.9 926.8 1282.1 927.6 1283.2C928.3 1284.3 929.0 1285.4 929.8 1286.5C930.6 1287.6 931.4 1288.7 932.2 1289.8C933.0 1290.8 933.8 1291.9 934.7 1292.9C935.5 1293.9 936.4 1294.9 937.3 1295.9C938.2 1296.9 939.1 1297.9 940.0 1298.8C941.0 1299.8 941.9 1300.7 942.9 1301.7C943.9 1302.6 944.8 1303.5 945.9 1304.4C946.9 1305.2 947.9 1306.1 948.9 1306.9C949.9 1307.8 951.0 1308.6 952.1 1309.4C953.1 1310.2 954.2 1311.0 955.3 1311.8C956.4 1312.5 957.5 1313.3 958.6 1314.0C959.7 1314.8 960.9 1315.5 962.0 1316.2C963.1 1316.9 964.2 1317.6 965.4 1318.4C966.5 1319.1 967.6 1319.8 968.8 1320.5C969.9 1321.2 971.0 1322.0 972.1 1322.7C973.2 1323.4 974.3 1324.2 975.4 1325.0C976.5 1325.7 977.6 1326.5 978.7 1327.3C979.8 1328.1 980.8 1328.9 981.9 1329.7C983.0 1330.5 984.0 1331.3 985.1 1332.1C986.1 1333.0 987.2 1333.8 988.2 1334.6C989.3 1335.5 990.3 1336.3 991.3 1337.1C992.4 1338.0 993.4 1338.8 994.4 1339.7C995.5 1340.5 996.5 1341.4 997.5 1342.2C998.6 1343.1 999.6 1343.9 1000.6 1344.8C1001.7 1345.6 1002.7 1346.5 1003.7 1347.3C1004.8 1348.1 1005.8 1349.0 1006.9 1349.8C1007.9 1350.6 1009.0 1351.5 1010.0 1352.3C1011.1 1353.1 1012.1 1353.9 1013.2 1354.7C1014.3 1355.5 1015.3 1356.3 1016.4 1357.1C1017.5 1357.9 1018.6 1358.7 1019.7 1359.4C1020.8 1360.2 1021.9 1361.0 1023.0 1361.7C1024.1 1362.4 1025.2 1363.2 1026.3 1363.9C1027.5 1364.6 1028.6 1365.3 1029.7 1366.0C1030.9 1366.7 1032.0 1367.4 1033.2 1368.1C1034.3 1368.8 1035.5 1369.4 1036.7 1370.1C1037.8 1370.7 1039.0 1371.4 1040.2 1372.0C1041.4 1372.6 1042.6 1373.2 1043.7 1373.8C1044.9 1374.4 1046.1 1375.0 1047.4 1375.5C1048.6 1376.1 1049.8 1376.7 1051.0 1377.2C1052.2 1377.7 1053.5 1378.2 1054.7 1378.7C1055.9 1379.3 1057.2 1379.7 1058.4 1380.2C1059.7 1380.7 1060.9 1381.1 1062.2 1381.6C1063.5 1382.0 1064.7 1382.4 1066.0 1382.8C1067.3 1383.3 1068.6 1383.6 1069.8 1384.0C1071.1 1384.4 1072.4 1384.8 1073.7 1385.1C1075.0 1385.5 1076.3 1385.8 1077.6 1386.1C1078.9 1386.5 1080.2 1386.8 1081.5 1387.1C1082.8 1387.4 1084.1 1387.7 1085.4 1388.0C1086.7 1388.3 1088.0 1388.5 1089.3 1388.8C1090.6 1389.1 1091.9 1389.3 1093.2 1389.6C1094.5 1389.8 1095.9 1390.1 1097.2 1390.3C1098.5 1390.5 1099.8 1390.8 1101.1 1391.0C1102.4 1391.2 1103.8 1391.4 1105.1 1391.6C1106.4 1391.9 1107.7 1392.1 1109.0 1392.3C1110.3 1392.5 1111.7 1392.7 1113.0 1392.9C1114.3 1393.1 1115.6 1393.3 1117.0 1393.5C1118.3 1393.7 1119.6 1393.9 1120.9 1394.1C1122.2 1394.3 1123.6 1394.5 1124.9 1394.7C1126.2 1394.9 1127.5 1395.1 1128.8 1395.3C1130.2 1395.5 1131.5 1395.7 1132.8 1395.9C1134.1 1396.2 1135.4 1396.4 1136.8 1396.6C1138.1 1396.8 1139.4 1397.0 1140.7 1397.2C1142.0 1397.5 1143.3 1397.7 1144.7 1397.9C1146.0 1398.1 1147.3 1398.4 1148.6 1398.6C1149.9 1398.8 1151.2 1399.0 1152.6 1399.2C1153.9 1399.5 1155.2 1399.7 1156.5 1399.9C1157.8 1400.1 1159.1 1400.4 1160.5 1400.6C1161.8 1400.8 1163.1 1401.0 1164.4 1401.3C1165.7 1401.5 1167.1 1401.7 1168.4 1401.9C1169.7 1402.1 1171.0 1402.3 1172.3 1402.6C1173.6 1402.8 1175.0 1403.0 1176.3 1403.2C1177.6 1403.4 1178.9 1403.6 1180.2 1403.8C1181.6 1404.0 1182.9 1404.2 1184.2 1404.4C1185.5 1404.6 1186.9 1404.8 1188.2 1405.0C1189.5 1405.2 1190.8 1405.4 1192.1 1405.5C1193.5 1405.7 1194.8 1405.9 1196.1 1406.1C1197.4 1406.3 1198.8 1406.4 1200.1 1406.6C1201.4 1406.8 1202.7 1406.9 1204.1 1407.1C1205.4 1407.3 1206.7 1407.4 1208.1 1407.6C1209.4 1407.7 1210.7 1407.9 1212.0 1408.0C1213.4 1408.2 1214.7 1408.3 1216.0 1408.5C1217.3 1408.6 1218.7 1408.8 1220.0 1408.9C1221.3 1409.0 1222.7 1409.2 1224.0 1409.3C1225.3 1409.4 1226.6 1409.6 1228.0 1409.7C1229.3 1409.8 1230.6 1410.0 1232.0 1410.1C1233.3 1410.2 1234.6 1410.3 1236.0 1410.4C1237.3 1410.6 1238.6 1410.7 1240.0 1410.8C1241.3 1410.9 1242.6 1411.0 1243.9 1411.1C1245.3 1411.2 1246.6 1411.3 1247.9 1411.4C1249.3 1411.5 1250.6 1411.6 1251.9 1411.7C1253.3 1411.8 1254.6 1411.9 1255.9 1412.0C1257.3 1412.1 1258.6 1412.2 1259.9 1412.3C1261.3 1412.4 1262.6 1412.5 1263.9 1412.5C1265.3 1412.6 1266.6 1412.7 1267.9 1412.8C1269.3 1412.9 1270.6 1413.0 1271.9 1413.0C1273.3 1413.1 1274.6 1413.2 1275.9 1413.3C1277.3 1413.3 1278.6 1413.4 1279.9 1413.5C1281.3 1413.5 1282.6 1413.6 1283.9 1413.7C1285.3 1413.7 1286.6 1413.8 1288.0 1413.9C1289.3 1413.9 1290.6 1414.0 1292.0 1414.1C1293.3 1414.1 1294.6 1414.2 1296.0 1414.2C1297.3 1414.3 1298.6 1414.4 1300.0 1414.4C1301.3 1414.5 1302.6 1414.5 1304.0 1414.6C1305.3 1414.6 1306.6 1414.7 1308.0 1414.7C1309.3 1414.8 1310.6 1414.8 1312.0 1414.9C1313.3 1414.9 1314.6 1415.0 1316.0 1415.0C1317.3 1415.1 1318.7 1415.1 1320.0 1415.2C1321.3 1415.2 1322.7 1415.3 1324.0 1415.3C1325.3 1415.4 1326.7 1415.4 1328.0 1415.5C1329.3 1415.5 1330.7 1415.6 1332.0 1415.6C1333.3 1415.6 1334.7 1415.7 1336.0 1415.7C1337.3 1415.8 1338.7 1415.8 1340.0 1415.9C1341.4 1415.9 1342.7 1416.0 1344.0 1416.0C1345.4 1416.0 1346.7 1416.1 1348.0 1416.1C1349.4 1416.2 1350.7 1416.2 1352.0 1416.3C1353.4 1416.3 1354.7 1416.4 1356.0 1416.4C1357.4 1416.4 1358.7 1416.5 1360.1 1416.5C1361.4 1416.6 1362.7 1416.6 1364.1 1416.7C1365.4 1416.7 1366.7 1416.8 1368.1 1416.8C1369.4 1416.9 1370.7 1416.9 1372.1 1417.0C1373.4 1417.0 1374.7 1417.1 1376.1 1417.1C1377.4 1417.2 1378.7 1417.2 1380.1 1417.3C1381.4 1417.3 1382.7 1417.4 1384.1 1417.5C1385.4 1417.5 1386.8 1417.6 1388.1 1417.6C1389.4 1417.7 1390.8 1417.8 1392.1 1417.8C1393.4 1417.9 1394.8 1417.9 1396.1 1418.0C1397.4 1418.1 1398.8 1418.1 1400.1 1418.2C1401.4 1418.3 1402.8 1418.4 1404.1 1418.4C1405.4 1418.5 1406.8 1418.6 1408.1 1418.6C1409.4 1418.7 1410.8 1418.8 1412.1 1418.9C1413.4 1419.0 1414.8 1419.0 1416.1 1419.1C1417.4 1419.2 1418.8 1419.3 1420.1 1419.4C1421.4 1419.5 1422.8 1419.6 1424.1 1419.7C1425.4 1419.7 1426.8 1419.8 1428.1 1419.9C1429.4 1420.0 1430.8 1420.1 1432.1 1420.2C1433.4 1420.3 1434.8 1420.4 1436.1 1420.5C1437.4 1420.7 1438.8 1420.8 1440.1 1420.9C1441.4 1421.0 1442.8 1421.1 1444.1 1421.2C1445.4 1421.3 1446.7 1421.5 1448.1 1421.6C1449.4 1421.7 1450.7 1421.8 1452.1 1422.0C1453.4 1422.1 1454.7 1422.2 1456.1 1422.4C1457.4 1422.5 1458.7 1422.7 1460.0 1422.8C1461.4 1422.9 1462.7 1423.1 1464.0 1423.2C1465.4 1423.4 1466.7 1423.5 1468.0 1423.7C1469.3 1423.9 1470.7 1424.0 1472.0 1424.2C1473.3 1424.3 1474.6 1424.5 1476.0 1424.7C1477.3 1424.9 1478.6 1425.0 1479.9 1425.2C1481.3 1425.4 1482.6 1425.6 1483.9 1425.8C1485.2 1426.0 1486.5 1426.1 1487.9 1426.3C1489.2 1426.5 1490.5 1426.7 1491.8 1426.9C1493.2 1427.1 1494.5 1427.3 1495.8 1427.5C1497.1 1427.8 1498.4 1428.0 1499.8 1428.2C1501.1 1428.4 1502.4 1428.6 1503.7 1428.8C1505.0 1429.0 1506.3 1429.3 1507.7 1429.5C1509.0 1429.7 1510.3 1429.9 1511.6 1430.2C1512.9 1430.4 1514.2 1430.6 1515.6 1430.8C1516.9 1431.1 1518.2 1431.3 1519.5 1431.5C1520.8 1431.8 1522.1 1432.0 1523.5 1432.2C1524.8 1432.4 1526.1 1432.7 1527.4 1432.9C1528.7 1433.1 1530.0 1433.4 1531.4 1433.6C1532.7 1433.8 1534.0 1434.1 1535.3 1434.3C1536.6 1434.5 1537.9 1434.8 1539.2 1435.0C1540.6 1435.2 1541.9 1435.5 1543.2 1435.7C1544.5 1435.9 1545.8 1436.2 1547.1 1436.4C1548.5 1436.6 1549.8 1436.8 1551.1 1437.1C1552.4 1437.3 1553.7 1437.5 1555.0 1437.7C1556.4 1438.0 1557.7 1438.2 1559.0 1438.4C1560.3 1438.6 1561.6 1438.8 1563.0 1439.0C1564.3 1439.3 1565.6 1439.5 1566.9 1439.7C1568.2 1439.9 1569.6 1440.1 1570.9 1440.3C1572.2 1440.5 1573.5 1440.7 1574.8 1440.9C1576.2 1441.1 1577.5 1441.3 1578.8 1441.4C1580.1 1441.6 1581.5 1441.8 1582.8 1442.0C1584.1 1442.2 1585.4 1442.3 1586.8 1442.5C1588.1 1442.7 1589.4 1442.9 1590.7 1443.0C1592.1 1443.2 1593.4 1443.3 1594.7 1443.5C1596.0 1443.6 1597.4 1443.8 1598.7 1443.9C1600.0 1444.1 1601.4 1444.2 1602.7 1444.3C1604.0 1444.5 1605.3 1444.6 1606.7 1444.7C1608.0 1444.8 1609.3 1445.0 1610.7 1445.1C1612.0 1445.2 1613.3 1445.3 1614.7 1445.4C1616.0 1445.5 1617.3 1445.6 1618.7 1445.8C1620.0 1445.9 1621.3 1446.0 1622.6 1446.1C1624.0 1446.2 1625.3 1446.2 1626.6 1446.3C1628.0 1446.4 1629.3 1446.5 1630.6 1446.6C1632.0 1446.7 1633.3 1446.8 1634.6 1446.9C1636.0 1446.9 1637.3 1447.0 1638.6 1447.1C1640.0 1447.2 1641.3 1447.3 1642.6 1447.3C1644.0 1447.4 1645.3 1447.5 1646.7 1447.6C1648.0 1447.6 1649.3 1447.7 1650.7 1447.8C1652.0 1447.8 1653.3 1447.9 1654.7 1448.0C1656.0 1448.0 1657.3 1448.1 1658.7 1448.2C1660.0 1448.2 1661.3 1448.3 1662.7 1448.4C1664.0 1448.4 1665.3 1448.5 1666.7 1448.5C1668.0 1448.6 1669.3 1448.7 1670.7 1448.7C1672.0 1448.8 1673.3 1448.9 1674.7 1448.9C1676.0 1449.0 1677.3 1449.0 1678.7 1449.1C1680.0 1449.2 1681.3 1449.2 1682.7 1449.3C1684.0 1449.4 1685.4 1449.4 1686.7 1449.5C1688.0 1449.6 1689.4 1449.6 1690.7 1449.7C1692.0 1449.8 1693.4 1449.8 1694.7 1449.9C1696.0 1450.0 1697.4 1450.0 1698.7 1450.1C1700.0 1450.2 1701.4 1450.3 1702.7 1450.3C1704.0 1450.4 1705.4 1450.5 1706.7 1450.6C1708.0 1450.7 1709.4 1450.7 1710.7 1450.8C1712.0 1450.9 1713.4 1451.0 1714.7 1451.1C1716.0 1451.2 1717.4 1451.3 1718.7 1451.4C1720.0 1451.4 1721.4 1451.5 1722.7 1451.6C1724.0 1451.7 1725.4 1451.8 1726.7 1452.0C1728.0 1452.1 1729.4 1452.2 1730.7 1452.3C1732.0 1452.4 1733.4 1452.5 1734.7 1452.6C1736.0 1452.8 1737.3 1452.9 1738.7 1453.0C1740.0 1453.1 1741.3 1453.3 1742.7 1453.4C1744.0 1453.5 1745.3 1453.7 1746.6 1453.8C1748.0 1454.0 1749.3 1454.1 1750.6 1454.3C1752.0 1454.4 1753.3 1454.6 1754.6 1454.8C1755.9 1454.9 1757.3 1455.1 1758.6 1455.3C1759.9 1455.4 1761.2 1455.6 1762.6 1455.8C1763.9 1456.0 1765.2 1456.2 1766.5 1456.4C1767.8 1456.6 1769.2 1456.8 1770.5 1457.0C1771.8 1457.2 1773.1 1457.4 1774.4 1457.6C1775.8 1457.8 1777.1 1458.1 1778.4 1458.3C1779.7 1458.5 1781.0 1458.8 1782.3 1459.0C1783.7 1459.2 1785.0 1459.5 1786.3 1459.7C1787.6 1460.0 1788.9 1460.3 1790.2 1460.5C1791.5 1460.8 1792.8 1461.1 1794.1 1461.4C1795.4 1461.7 1796.7 1461.9 1798.0 1462.2C1799.3 1462.5 1800.6 1462.8 1801.9 1463.2C1803.2 1463.5 1804.5 1463.8 1805.8 1464.1C1807.1 1464.5 1808.4 1464.8 1809.7 1465.1C1811.0 1465.5 1812.3 1465.8 1813.6 1466.2" fill="none" stroke="#00f96c" stroke-width="5.5" stroke-linecap="round" stroke-linejoin="round"/>
<path d="M458.8 221.1C460.1 221.3 461.4 221.5 462.7 221.7C464.1 221.9 465.4 222.2 466.7 222.5C468.0 222.7 469.3 223.0 470.6 223.4C471.9 223.7 473.2 224.1 474.4 224.5C475.7 224.8 477.0 225.3 478.2 225.7C479.5 226.1 480.8 226.6 482.0 227.1C483.2 227.6 484.5 228.1 485.7 228.6C486.9 229.2 488.1 229.7 489.4 230.3C490.6 230.9 491.7 231.5 492.9 232.1C494.1 232.7 495.3 233.4 496.5 234.0C497.6 234.7 498.8 235.3 499.9 236.0C501.1 236.7 502.2 237.4 503.3 238.2C504.4 238.9 505.5 239.6 506.6 240.4C507.7 241.1 508.8 241.9 509.9 242.7C511.0 243.5 512.1 244.3 513.1 245.1C514.2 245.9 515.3 246.7 516.3 247.5C517.4 248.4 518.4 249.2 519.4 250.1C520.4 250.9 521.5 251.8 522.5 252.7C523.5 253.5 524.5 254.4 525.5 255.3C526.5 256.2 527.5 257.1 528.5 258.0C529.4 258.9 530.4 259.8 531.4 260.7C532.4 261.7 533.3 262.6 534.3 263.5C535.2 264.4 536.2 265.4 537.1 266.3C538.1 267.3 539.0 268.2 540.0 269.2C540.9 270.1 541.8 271.1 542.7 272.1C543.7 273.0 544.6 274.0 545.5 275.0C546.4 275.9 547.3 276.9 548.2 277.9C549.1 278.9 550.0 279.9 550.9 280.9C551.8 281.8 552.7 282.8 553.6 283.8C554.5 284.8 555.4 285.8 556.3 286.8C557.1 287.9 558.0 288.9 558.9 289.9C559.8 290.9 560.6 291.9 561.5 292.9C562.4 293.9 563.2 295.0 564.1 296.0C564.9 297.0 565.8 298.0 566.7 299.1C567.5 300.1 568.4 301.1 569.2 302.1C570.1 303.2 570.9 304.2 571.8 305.2C572.6 306.3 573.5 307.3 574.3 308.3C575.1 309.4 576.0 310.4 576.8 311.5C577.7 312.5 578.5 313.5 579.3 314.6C580.2 315.6 581.0 316.7 581.9 317.7C582.7 318.7 583.5 319.8 584.4 320.8C585.2 321.9 586.0 322.9 586.9 323.9C587.7 325.0 588.6 326.0 589.4 327.1C590.2 328.1 591.1 329.1 591.9 330.2C592.8 331.2 593.6 332.3 594.4 333.3C595.3 334.3 596.1 335.4 597.0 336.4C597.8 337.4 598.7 338.5 599.5 339.5C600.4 340.5 601.2 341.5 602.1 342.6C602.9 343.6 603.8 344.6 604.7 345.6C605.5 346.7 606.4 347.7 607.3 348.7C608.1 349.7 609.0 350.7 609.9 351.7C610.8 352.7 611.7 353.7 612.6 354.7C613.4 355.7 614.3 356.7 615.2 357.7C616.1 358.7 617.0 359.7 617.9 360.7C618.9 361.6 619.8 362.6 620.7 363.6C621.6 364.5 622.5 365.5 623.5 366.5C624.4 367.4 625.3 368.4 626.3 369.3C627.2 370.3 628.2 371.2 629.2 372.1C630.1 373.0 631.1 374.0 632.1 374.9C633.0 375.8 634.0 376.7 635.0 377.6C636.0 378.5 637.0 379.4 638.0 380.2C639.0 381.1 640.0 382.0 641.1 382.8C642.1 383.7 643.1 384.6 644.2 385.4C645.2 386.2 646.3 387.0 647.3 387.9C648.4 388.7 649.5 389.5 650.5 390.2C651.6 391.0 652.7 391.8 653.8 392.6C654.9 393.3 656.0 394.1 657.1 394.8C658.3 395.5 659.4 396.2 660.5 396.9C661.7 397.6 662.8 398.3 664.0 399.0C665.1 399.6 666.3 400.3 667.5 400.9C668.7 401.6 669.9 402.2 671.0 402.8C672.2 403.3 673.5 403.9 674.7 404.5C675.9 405.0 677.1 405.6 678.3 406.1C679.6 406.6 680.8 407.2 682.0 407.7C683.3 408.2 684.5 408.7 685.8 409.1C687.0 409.6 688.3 410.1 689.5 410.5C690.8 411.0 692.0 411.4 693.3 411.9C694.5 412.3 695.8 412.8 697.1 413.2C698.3 413.6 699.6 414.0 700.9 414.5C702.1 414.9 703.4 415.3 704.7 415.7C706.0 416.1 707.2 416.5 708.5 416.9C709.8 417.3 711.0 417.7 712.3 418.1C713.6 418.5 714.9 419.0 716.1 419.4C717.4 419.8 718.7 420.2 720.0 420.6C721.2 421.0 722.5 421.4 723.8 421.9C725.0 422.3 726.3 422.7 727.5 423.2C728.8 423.6 730.1 424.0 731.3 424.5C732.6 424.9 733.8 425.4 735.1 425.9C736.3 426.3 737.6 426.8 738.8 427.3C740.1 427.8 741.3 428.3 742.6 428.8C743.8 429.3 745.0 429.8 746.2 430.4C747.5 430.9 748.7 431.4 749.9 432.0C751.1 432.6 752.3 433.1 753.5 433.7C754.7 434.3 755.9 434.9 757.1 435.5C758.3 436.1 759.5 436.8 760.6 437.4C761.8 438.1 763.0 438.7 764.1 439.4C765.3 440.1 766.4 440.8 767.5 441.5C768.6 442.3 769.7 443.0 770.8 443.8C771.9 444.5 773.0 445.3 774.1 446.1C775.2 446.9 776.2 447.7 777.2 448.6C778.3 449.4 779.3 450.3 780.3 451.2C781.3 452.1 782.3 453.0 783.2 453.9C784.2 454.9 785.1 455.8 786.0 456.8C787.0 457.8 787.9 458.7 788.7 459.8C789.6 460.8 790.5 461.8 791.3 462.8C792.2 463.9 793.0 464.9 793.8 466.0C794.6 467.1 795.4 468.1 796.1 469.2C796.9 470.3 797.6 471.4 798.4 472.5C799.1 473.7 799.8 474.8 800.5 475.9C801.2 477.1 801.9 478.2 802.6 479.4C803.3 480.5 803.9 481.7 804.6 482.9C805.2 484.0 805.8 485.2 806.4 486.4C807.0 487.6 807.6 488.8 808.2 490.0C808.8 491.2 809.4 492.4 810.0 493.6C810.5 494.8 811.1 496.0 811.6 497.3C812.2 498.5 812.7 499.7 813.2 500.9C813.7 502.2 814.2 503.4 814.8 504.6C815.3 505.9 815.8 507.1 816.3 508.3C816.8 509.6 817.2 510.8 817.7 512.1C818.2 513.3 818.7 514.6 819.2 515.8C819.6 517.1 820.1 518.3 820.6 519.6C821.0 520.8 821.5 522.1 821.9 523.3C822.4 524.6 822.8 525.9 823.3 527.1C823.7 528.4 824.2 529.6 824.6 530.9C825.0 532.2 825.4 533.4 825.9 534.7C826.3 536.0 826.7 537.2 827.1 538.5C827.5 539.8 827.9 541.1 828.3 542.3C828.7 543.6 829.1 544.9 829.5 546.2C829.9 547.4 830.3 548.7 830.7 550.0C831.0 551.3 831.4 552.6 831.8 553.8C832.2 555.1 832.5 556.4 832.9 557.7C833.2 559.0 833.6 560.3 833.9 561.6C834.3 562.9 834.6 564.1 835.0 565.4C835.3 566.7 835.7 568.0 836.0 569.3C836.3 570.6 836.6 571.9 837.0 573.2C837.3 574.5 837.6 575.8 837.9 577.1C838.2 578.4 838.5 579.7 838.8 581.0C839.1 582.3 839.4 583.6 839.7 584.9C840.0 586.2 840.3 587.5 840.6 588.8C840.9 590.1 841.2 591.4 841.5 592.7C841.7 594.0 842.0 595.4 842.3 596.7C842.6 598.0 842.8 599.3 843.1 600.6C843.3 601.9 843.6 603.2 843.9 604.5C844.1 605.8 844.4 607.1 844.6 608.5C844.9 609.8 845.1 611.1 845.4 612.4C845.6 613.7 845.8 615.0 846.1 616.3C846.3 617.7 846.5 619.0 846.8 620.3C847.0 621.6 847.2 622.9 847.4 624.2C847.7 625.6 847.9 626.9 848.1 628.2C848.3 629.5 848.5 630.8 848.7 632.2C848.9 633.5 849.1 634.8 849.4 636.1C849.6 637.4 849.8 638.8 850.0 640.1C850.2 641.4 850.4 642.7 850.5 644.0C850.7 645.4 850.9 646.7 851.1 648.0C851.3 649.3 851.5 650.7 851.7 652.0C851.9 653.3 852.0 654.6 852.2 655.9C852.4 657.3 852.6 658.6 852.8 659.9C852.9 661.2 853.1 662.6 853.3 663.9C853.5 665.2 853.6 666.5 853.8 667.9C854.0 669.2 854.1 670.5 854.3 671.8C854.5 673.2 854.6 674.5 854.8 675.8C855.0 677.2 855.1 678.5 855.3 679.8C855.4 681.1 855.6 682.5 855.7 683.8C855.9 685.1 856.1 686.4 856.2 687.8C856.4 689.1 856.5 690.4 856.7 691.7C856.8 693.1 857.0 694.4 857.1 695.7C857.3 697.1 857.4 698.4 857.6 699.7C857.7 701.0 857.9 702.4 858.0 703.7C858.2 705.0 858.3 706.4 858.5 707.7C858.6 709.0 858.8 710.3 858.9 711.7C859.1 713.0 859.2 714.3 859.3 715.7C859.5 717.0 859.6 718.3 859.8 719.6C859.9 721.0 860.1 722.3 860.2 723.6C860.4 724.9 860.5 726.3 860.6 727.6C860.8 728.9 860.9 730.3 861.1 731.6C861.2 732.9 861.4 734.2 861.5 735.6C861.7 736.9 861.8 738.2 862.0 739.6C862.1 740.9 862.2 742.2 862.4 743.5C862.5 744.9 862.7 746.2 862.8 747.5C863.0 748.9 863.1 750.2 863.3 751.5C863.4 752.8 863.6 754.2 863.7 755.5C863.9 756.8 864.0 758.1 864.2 759.5C864.4 760.8 864.5 762.1 864.7 763.5C864.8 764.8 865.0 766.1 865.1 767.4C865.3 768.8 865.5 770.1 865.6 771.4C865.8 772.7 865.9 774.1 866.1 775.4C866.3 776.7 866.4 778.0 866.6 779.4C866.8 780.7 866.9 782.0 867.1 783.4C867.3 784.7 867.4 786.0 867.6 787.3C867.8 788.7 867.9 790.0 868.1 791.3C868.3 792.6 868.4 794.0 868.6 795.3C868.8 796.6 869.0 797.9 869.1 799.3C869.3 800.6 869.5 801.9 869.7 803.2C869.8 804.6 870.0 805.9 870.2 807.2C870.3 808.5 870.5 809.9 870.7 811.2C870.9 812.5 871.0 813.8 871.2 815.2C871.4 816.5 871.6 817.8 871.8 819.1C871.9 820.5 872.1 821.8 872.3 823.1C872.5 824.4 872.6 825.7 872.8 827.1C873.0 828.4 873.2 829.7 873.3 831.0C873.5 832.4 873.7 833.7 873.9 835.0C874.1 836.3 874.2 837.7 874.4 839.0C874.6 840.3 874.8 841.6 874.9 843.0C875.1 844.3 875.3 845.6 875.5 846.9C875.7 848.3 875.8 849.6 876.0 850.9C876.2 852.2 876.4 853.6 876.5 854.9C876.7 856.2 876.9 857.5 877.1 858.9C877.2 860.2 877.4 861.5 877.6 862.8C877.7 864.2 877.9 865.5 878.1 866.8C878.3 868.1 878.4 869.5 878.6 870.8C878.8 872.1 878.9 873.4 879.1 874.8C879.3 876.1 879.5 877.4 879.6 878.7C879.8 880.1 880.0 881.4 880.1 882.7C880.3 884.0 880.5 885.4 880.6 886.7C880.8 888.0 881.0 889.3 881.1 890.7C881.3 892.0 881.4 893.3 881.6 894.6C881.8 896.0 881.9 897.3 882.1 898.6C882.2 900.0 882.4 901.3 882.5 902.6C882.7 903.9 882.9 905.3 883.0 906.6C883.2 907.9 883.3 909.2 883.5 910.6C883.6 911.9 883.8 913.2 883.9 914.6C884.1 915.9 884.2 917.2 884.4 918.5C884.5 919.9 884.7 921.2 884.8 922.5C885.0 923.8 885.1 925.2 885.3 926.5C885.4 927.8 885.6 929.2 885.7 930.5C885.9 931.8 886.0 933.1 886.1 934.5C886.3 935.8 886.4 937.1 886.6 938.5C886.7 939.8 886.9 941.1 887.0 942.4C887.2 943.8 887.3 945.1 887.4 946.4C887.6 947.8 887.7 949.1 887.9 950.4C888.0 951.7 888.1 953.1 888.3 954.4C888.4 955.7 888.6 957.1 888.7 958.4C888.9 959.7 889.0 961.0 889.1 962.4C889.3 963.7 889.4 965.0 889.6 966.4C889.7 967.7 889.8 969.0 890.0 970.3C890.1 971.7 890.3 973.0 890.4 974.3C890.5 975.7 890.7 977.0 890.8 978.3C891.0 979.6 891.1 981.0 891.3 982.3C891.4 983.6 891.5 985.0 891.7 986.3C891.8 987.6 892.0 988.9 892.1 990.3C892.2 991.6 892.4 992.9 892.5 994.3C892.7 995.6 892.8 996.9 893.0 998.2C893.1 999.6 893.3 1000.9 893.4 1002.2C893.5 1003.6 893.7 1004.9 893.8 1006.2C894.0 1007.5 894.1 1008.9 894.3 1010.2C894.4 1011.5 894.6 1012.9 894.7 1014.2C894.9 1015.5 895.0 1016.8 895.2 1018.2C895.3 1019.5 895.5 1020.8 895.6 1022.2C895.8 1023.5 895.9 1024.8 896.1 1026.1C896.2 1027.5 896.4 1028.8 896.5 1030.1C896.7 1031.4 896.8 1032.8 897.0 1034.1C897.1 1035.4 897.3 1036.7 897.5 1038.1C897.6 1039.4 897.8 1040.7 897.9 1042.1C898.1 1043.4 898.3 1044.7 898.4 1046.0C898.6 1047.4 898.8 1048.7 898.9 1050.0C899.1 1051.3 899.2 1052.7 899.4 1054.0C899.6 1055.3 899.7 1056.6 899.9 1058.0C900.1 1059.3 900.3 1060.6 900.4 1061.9C900.6 1063.3 900.8 1064.6 900.9 1065.9C901.1 1067.2 901.3 1068.6 901.5 1069.9C901.7 1071.2 901.8 1072.5 902.0 1073.9C902.2 1075.2 902.4 1076.5 902.6 1077.8C902.8 1079.2 903.0 1080.5 903.2 1081.8C903.4 1083.1 903.6 1084.4 903.8 1085.8C904.0 1087.1 904.2 1088.4 904.4 1089.7C904.6 1091.0 904.8 1092.4 905.0 1093.7C905.2 1095.0 905.5 1096.3 905.7 1097.6C905.9 1098.9 906.2 1100.3 906.4 1101.6C906.6 1102.9 906.9 1104.2 907.1 1105.5C907.4 1106.8 907.6 1108.1 907.9 1109.5C908.1 1110.8 908.4 1112.1 908.7 1113.4C909.0 1114.7 909.2 1116.0 909.5 1117.3C909.8 1118.6 910.1 1119.9 910.4 1121.2C910.7 1122.5 911.0 1123.8 911.3 1125.1C911.6 1126.4 911.9 1127.7 912.3 1129.0C912.6 1130.3 912.9 1131.6 913.3 1132.9C913.6 1134.2 914.0 1135.5 914.3 1136.8C914.7 1138.0 915.0 1139.3 915.4 1140.6C915.8 1141.9 916.2 1143.2 916.6 1144.5C917.0 1145.7 917.4 1147.0 917.8 1148.3C918.2 1149.5 918.6 1150.8 919.1 1152.1C919.5 1153.3 919.9 1154.6 920.4 1155.9C920.8 1157.1 921.3 1158.4 921.8 1159.6C922.3 1160.9 922.8 1162.1 923.3 1163.3C923.8 1164.6 924.3 1165.8 924.8 1167.0C925.3 1168.3 925.9 1169.5 926.4 1170.7C927.0 1171.9 927.6 1173.1 928.2 1174.3C928.8 1175.5 929.4 1176.7 930.0 1177.9C930.6 1179.1 931.2 1180.3 931.9 1181.4C932.5 1182.6 933.2 1183.7 933.9 1184.9C934.6 1186.0 935.3 1187.2 936.0 1188.3C936.7 1189.4 937.4 1190.5 938.2 1191.6C939.0 1192.7 939.7 1193.8 940.5 1194.9C941.3 1196.0 942.1 1197.1 942.9 1198.1C943.8 1199.2 944.6 1200.2 945.4 1201.2C946.3 1202.3 947.1 1203.3 948.0 1204.3C948.9 1205.3 949.8 1206.3 950.7 1207.3C951.6 1208.3 952.5 1209.3 953.4 1210.3C954.3 1211.2 955.3 1212.2 956.2 1213.1C957.1 1214.1 958.1 1215.0 959.0 1216.0C960.0 1216.9 960.9 1217.8 961.9 1218.8C962.9 1219.7 963.8 1220.6 964.8 1221.5C965.8 1222.4 966.8 1223.3 967.8 1224.2C968.8 1225.1 969.8 1226.0 970.8 1226.9C971.8 1227.8 972.8 1228.6 973.8 1229.5C974.8 1230.4 975.8 1231.3 976.8 1232.1C977.8 1233.0 978.8 1233.9 979.9 1234.8C980.9 1235.6 981.9 1236.5 982.9 1237.3C983.9 1238.2 985.0 1239.1 986.0 1239.9C987.0 1240.8 988.0 1241.6 989.1 1242.5C990.1 1243.3 991.1 1244.2 992.2 1245.0C993.2 1245.9 994.2 1246.7 995.3 1247.6C996.3 1248.4 997.4 1249.2 998.4 1250.1C999.5 1250.9 1000.5 1251.7 1001.6 1252.5C1002.6 1253.3 1003.7 1254.1 1004.8 1254.9C1005.8 1255.8 1006.9 1256.6 1008.0 1257.3C1009.1 1258.1 1010.1 1258.9 1011.2 1259.7C1012.3 1260.5 1013.4 1261.2 1014.5 1262.0C1015.6 1262.8 1016.7 1263.5 1017.8 1264.3C1018.9 1265.0 1020.0 1265.8 1021.1 1266.5C1022.3 1267.2 1023.4 1268.0 1024.5 1268.7C1025.6 1269.4 1026.8 1270.1 1027.9 1270.8C1029.0 1271.5 1030.2 1272.2 1031.3 1272.9C1032.4 1273.6 1033.6 1274.3 1034.7 1275.0C1035.9 1275.7 1037.0 1276.4 1038.2 1277.0C1039.4 1277.7 1040.5 1278.3 1041.7 1279.0C1042.8 1279.7 1044.0 1280.3 1045.2 1280.9C1046.4 1281.6 1047.5 1282.2 1048.7 1282.8C1049.9 1283.5 1051.1 1284.1 1052.3 1284.7C1053.5 1285.3 1054.6 1285.9 1055.8 1286.5C1057.0 1287.1 1058.2 1287.7 1059.4 1288.3C1060.6 1288.9 1061.8 1289.5 1063.0 1290.0C1064.2 1290.6 1065.5 1291.2 1066.7 1291.7C1067.9 1292.3 1069.1 1292.9 1070.3 1293.4C1071.5 1294.0 1072.8 1294.5 1074.0 1295.0C1075.2 1295.6 1076.4 1296.1 1077.7 1296.6C1078.9 1297.1 1080.1 1297.7 1081.4 1298.2C1082.6 1298.7 1083.8 1299.2 1085.1 1299.7C1086.3 1300.2 1087.6 1300.7 1088.8 1301.2C1090.0 1301.6 1091.3 1302.1 1092.5 1302.6C1093.8 1303.1 1095.0 1303.5 1096.3 1304.0C1097.5 1304.5 1098.8 1304.9 1100.1 1305.4C1101.3 1305.8 1102.6 1306.3 1103.8 1306.7C1105.1 1307.1 1106.4 1307.6 1107.6 1308.0C1108.9 1308.4 1110.2 1308.8 1111.4 1309.2C1112.7 1309.7 1114.0 1310.1 1115.3 1310.5C1116.5 1310.9 1117.8 1311.3 1119.1 1311.7C1120.4 1312.1 1121.6 1312.4 1122.9 1312.8C1124.2 1313.2 1125.5 1313.6 1126.8 1313.9C1128.1 1314.3 1129.3 1314.7 1130.6 1315.0C1131.9 1315.4 1133.2 1315.7 1134.5 1316.1C1135.8 1316.4 1137.1 1316.8 1138.4 1317.1C1139.7 1317.5 1141.0 1317.8 1142.3 1318.1C1143.5 1318.5 1144.8 1318.8 1146.1 1319.1C1147.4 1319.4 1148.7 1319.7 1150.0 1320.0C1151.3 1320.3 1152.6 1320.6 1153.9 1320.9C1155.2 1321.2 1156.5 1321.5 1157.9 1321.8C1159.2 1322.1 1160.5 1322.4 1161.8 1322.7C1163.1 1322.9 1164.4 1323.2 1165.7 1323.5C1167.0 1323.8 1168.3 1324.0 1169.6 1324.3C1170.9 1324.5 1172.2 1324.8 1173.6 1325.0C1174.9 1325.3 1176.2 1325.5 1177.5 1325.8C1178.8 1326.0 1180.1 1326.3 1181.4 1326.5C1182.8 1326.7 1184.1 1327.0 1185.4 1327.2C1186.7 1327.4 1188.0 1327.6 1189.3 1327.8C1190.7 1328.1 1192.0 1328.3 1193.3 1328.5C1194.6 1328.7 1195.9 1328.9 1197.3 1329.1C1198.6 1329.3 1199.9 1329.5 1201.2 1329.7C1202.6 1329.9 1203.9 1330.1 1205.2 1330.2C1206.5 1330.4 1207.8 1330.6 1209.2 1330.8C1210.5 1331.0 1211.8 1331.1 1213.1 1331.3C1214.5 1331.5 1215.8 1331.6 1217.1 1331.8C1218.5 1332.0 1219.8 1332.1 1221.1 1332.3C1222.4 1332.4 1223.8 1332.6 1225.1 1332.7C1226.4 1332.9 1227.7 1333.0 1229.1 1333.2C1230.4 1333.3 1231.7 1333.4 1233.1 1333.6C1234.4 1333.7 1235.7 1333.8 1237.0 1334.0C1238.4 1334.1 1239.7 1334.2 1241.0 1334.3C1242.4 1334.5 1243.7 1334.6 1245.0 1334.7C1246.4 1334.8 1247.7 1334.9 1249.0 1335.1C1250.4 1335.2 1251.7 1335.3 1253.0 1335.4C1254.4 1335.5 1255.7 1335.6 1257.0 1335.7C1258.3 1335.8 1259.7 1335.9 1261.0 1336.0C1262.3 1336.1 1263.7 1336.2 1265.0 1336.3C1266.3 1336.4 1267.7 1336.5 1269.0 1336.6C1270.3 1336.7 1271.7 1336.8 1273.0 1336.8C1274.3 1336.9 1275.7 1337.0 1277.0 1337.1C1278.3 1337.2 1279.7 1337.3 1281.0 1337.3C1282.3 1337.4 1283.7 1337.5 1285.0 1337.6C1286.3 1337.7 1287.7 1337.7 1289.0 1337.8C1290.3 1337.9 1291.7 1337.9 1293.0 1338.0C1294.4 1338.1 1295.7 1338.2 1297.0 1338.2C1298.4 1338.3 1299.7 1338.4 1301.0 1338.4C1302.4 1338.5 1303.7 1338.6 1305.0 1338.6C1306.4 1338.7 1307.7 1338.7 1309.0 1338.8C1310.4 1338.9 1311.7 1338.9 1313.0 1339.0C1314.4 1339.1 1315.7 1339.1 1317.0 1339.2C1318.4 1339.2 1319.7 1339.3 1321.0 1339.4C1322.4 1339.4 1323.7 1339.5 1325.0 1339.5C1326.4 1339.6 1327.7 1339.6 1329.1 1339.7C1330.4 1339.8 1331.7 1339.8 1333.1 1339.9C1334.4 1339.9 1335.7 1340.0 1337.1 1340.0C1338.4 1340.1 1339.7 1340.2 1341.1 1340.2C1342.4 1340.3 1343.7 1340.3 1345.1 1340.4C1346.4 1340.4 1347.7 1340.5 1349.1 1340.6C1350.4 1340.6 1351.7 1340.7 1353.1 1340.7C1354.4 1340.8 1355.8 1340.8 1357.1 1340.9C1358.4 1341.0 1359.8 1341.0 1361.1 1341.1C1362.4 1341.1 1363.8 1341.2 1365.1 1341.3C1366.4 1341.3 1367.8 1341.4 1369.1 1341.5C1370.4 1341.5 1371.8 1341.6 1373.1 1341.7C1374.4 1341.7 1375.8 1341.8 1377.1 1341.9C1378.4 1341.9 1379.8 1342.0 1381.1 1342.1C1382.4 1342.1 1383.8 1342.2 1385.1 1342.3C1386.4 1342.4 1387.8 1342.4 1389.1 1342.5C1390.4 1342.6 1391.8 1342.7 1393.1 1342.7C1394.4 1342.8 1395.8 1342.9 1397.1 1343.0C1398.4 1343.1 1399.8 1343.2 1401.1 1343.2C1402.4 1343.3 1403.8 1343.4 1405.1 1343.5C1406.4 1343.6 1407.8 1343.7 1409.1 1343.8C1410.4 1343.9 1411.8 1344.0 1413.1 1344.1C1414.4 1344.2 1415.8 1344.3 1417.1 1344.4C1418.4 1344.5 1419.8 1344.6 1421.1 1344.7C1422.4 1344.8 1423.8 1344.9 1425.1 1345.0C1426.4 1345.2 1427.8 1345.3 1429.1 1345.4C1430.4 1345.5 1431.8 1345.7 1433.1 1345.8C1434.4 1345.9 1435.7 1346.0 1437.1 1346.2C1438.4 1346.3 1439.7 1346.5 1441.1 1346.6C1442.4 1346.7 1443.7 1346.9 1445.0 1347.0C1446.4 1347.2 1447.7 1347.4 1449.0 1347.5C1450.3 1347.7 1451.7 1347.8 1453.0 1348.0C1454.3 1348.2 1455.7 1348.4 1457.0 1348.5C1458.3 1348.7 1459.6 1348.9 1460.9 1349.1C1462.3 1349.3 1463.6 1349.5 1464.9 1349.7C1466.2 1349.9 1467.6 1350.1 1468.9 1350.3C1470.2 1350.5 1471.5 1350.7 1472.8 1350.9C1474.1 1351.1 1475.5 1351.3 1476.8 1351.6C1478.1 1351.8 1479.4 1352.0 1480.7 1352.3C1482.0 1352.5 1483.4 1352.8 1484.7 1353.0C1486.0 1353.3 1487.3 1353.5 1488.6 1353.8C1489.9 1354.1 1491.2 1354.3 1492.5 1354.6C1493.8 1354.9 1495.1 1355.1 1496.5 1355.4C1497.8 1355.7 1499.1 1356.0 1500.4 1356.3C1501.7 1356.6 1503.0 1356.8 1504.3 1357.1C1505.6 1357.4 1506.9 1357.7 1508.2 1358.0C1509.5 1358.3 1510.8 1358.6 1512.1 1358.9C1513.4 1359.2 1514.7 1359.5 1516.0 1359.7C1517.3 1360.0 1518.6 1360.3 1519.9 1360.6C1521.2 1360.9 1522.5 1361.2 1523.8 1361.5C1525.2 1361.8 1526.5 1362.1 1527.8 1362.3C1529.1 1362.6 1530.4 1362.9 1531.7 1363.2C1533.0 1363.5 1534.3 1363.7 1535.6 1364.0C1536.9 1364.3 1538.2 1364.5 1539.5 1364.8C1540.8 1365.1 1542.2 1365.3 1543.5 1365.6C1544.8 1365.8 1546.1 1366.1 1547.4 1366.3C1548.7 1366.5 1550.0 1366.8 1551.4 1367.0C1552.7 1367.2 1554.0 1367.5 1555.3 1367.7C1556.6 1367.9 1557.9 1368.1 1559.3 1368.4C1560.6 1368.6 1561.9 1368.8 1563.2 1369.0C1564.5 1369.2 1565.9 1369.4 1567.2 1369.6C1568.5 1369.8 1569.8 1370.0 1571.1 1370.2C1572.5 1370.4 1573.8 1370.6 1575.1 1370.8C1576.4 1371.0 1577.8 1371.1 1579.1 1371.3C1580.4 1371.5 1581.7 1371.7 1583.1 1371.8C1584.4 1372.0 1585.7 1372.2 1587.0 1372.3C1588.4 1372.5 1589.7 1372.6 1591.0 1372.8C1592.3 1373.0 1593.7 1373.1 1595.0 1373.3C1596.3 1373.4 1597.7 1373.5 1599.0 1373.7C1600.3 1373.8 1601.6 1374.0 1603.0 1374.1C1604.3 1374.2 1605.6 1374.4 1607.0 1374.5C1608.3 1374.6 1609.6 1374.7 1611.0 1374.9C1612.3 1375.0 1613.6 1375.1 1614.9 1375.2C1616.3 1375.3 1617.6 1375.4 1618.9 1375.5C1620.3 1375.6 1621.6 1375.7 1622.9 1375.8C1624.3 1375.9 1625.6 1376.0 1626.9 1376.1C1628.3 1376.2 1629.6 1376.3 1630.9 1376.4C1632.3 1376.5 1633.6 1376.6 1634.9 1376.7C1636.3 1376.8 1637.6 1376.9 1638.9 1377.0C1640.3 1377.1 1641.6 1377.1 1642.9 1377.2C1644.3 1377.3 1645.6 1377.4 1646.9 1377.5C1648.3 1377.6 1649.6 1377.7 1650.9 1377.7C1652.3 1377.8 1653.6 1377.9 1654.9 1378.0C1656.3 1378.1 1657.6 1378.2 1658.9 1378.3C1660.3 1378.4 1661.6 1378.5 1662.9 1378.6C1664.3 1378.7 1665.6 1378.8 1666.9 1378.9C1668.3 1379.0 1669.6 1379.1 1670.9 1379.2C1672.3 1379.3 1673.6 1379.4 1674.9 1379.5C1676.2 1379.6 1677.6 1379.7 1678.9 1379.8C1680.2 1379.9 1681.6 1380.1 1682.9 1380.2C1684.2 1380.3 1685.6 1380.4 1686.9 1380.6C1688.2 1380.7 1689.6 1380.8 1690.9 1380.9C1692.2 1381.1 1693.5 1381.2 1694.9 1381.3C1696.2 1381.5 1697.5 1381.6 1698.9 1381.8C1700.2 1381.9 1701.5 1382.1 1702.8 1382.2C1704.2 1382.4 1705.5 1382.5 1706.8 1382.7C1708.2 1382.8 1709.5 1383.0 1710.8 1383.1C1712.1 1383.3 1713.5 1383.5 1714.8 1383.6C1716.1 1383.8 1717.4 1384.0 1718.8 1384.1C1720.1 1384.3 1721.4 1384.5 1722.7 1384.7C1724.1 1384.8 1725.4 1385.0 1726.7 1385.2C1728.0 1385.4 1729.4 1385.6 1730.7 1385.8C1732.0 1385.9 1733.3 1386.1 1734.6 1386.3C1736.0 1386.5 1737.3 1386.7 1738.6 1386.9C1739.9 1387.1 1741.3 1387.3 1742.6 1387.5C1743.9 1387.7 1745.2 1387.9 1746.5 1388.1C1747.9 1388.3 1749.2 1388.6 1750.5 1388.8C1751.8 1389.0 1753.1 1389.2 1754.4 1389.4C1755.8 1389.6 1757.1 1389.9 1758.4 1390.1C1759.7 1390.3 1761.0 1390.5 1762.3 1390.8C1763.7 1391.0 1765.0 1391.2 1766.3 1391.5C1767.6 1391.7 1768.9 1391.9 1770.2 1392.2C1771.6 1392.4 1772.9 1392.7 1774.2 1392.9C1775.5 1393.1 1776.8 1393.4 1778.1 1393.6C1779.4 1393.9 1780.7 1394.1 1782.1 1394.4C1783.4 1394.6 1784.7 1394.9 1786.0 1395.2C1787.3 1395.4 1788.6 1395.7 1789.9 1395.9C1791.2 1396.2 1792.5 1396.5 1793.9 1396.7C1795.2 1397.0 1796.5 1397.3 1797.8 1397.6C1799.1 1397.8 1800.4 1398.1 1801.7 1398.4C1803.0 1398.7 1804.3 1398.9 1805.6 1399.2C1806.9 1399.5 1808.2 1399.8 1809.5 1400.1C1810.8 1400.4 1812.1 1400.6 1813.5 1400.9C1814.8 1401.2 1816.1 1401.5 1817.4 1401.8C1818.7 1402.1 1820.0 1402.4 1821.3 1402.7C1822.6 1403.0 1823.9 1403.3 1825.2 1403.6C1826.5 1403.9 1827.8 1404.2 1829.1 1404.5C1830.4 1404.8 1831.7 1405.1 1833.0 1405.4C1834.3 1405.7 1835.6 1406.0 1836.9 1406.3C1838.2 1406.6 1839.5 1406.9 1840.8 1407.2C1842.1 1407.5 1843.4 1407.9 1844.7 1408.2C1846.0 1408.5 1847.3 1408.8 1848.6 1409.1C1849.9 1409.4 1851.2 1409.7 1852.5 1410.0C1853.8 1410.3 1855.1 1410.7 1856.4 1411.0C1857.7 1411.3 1859.0 1411.6 1860.3 1411.9C1861.6 1412.2 1862.9 1412.5 1864.2 1412.8C1865.5 1413.2 1866.8 1413.5 1868.1 1413.8C1869.4 1414.1 1870.7 1414.4 1872.0 1414.7C1873.3 1415.0 1874.6 1415.4 1875.9 1415.7C1877.2 1416.0 1878.5 1416.3 1879.8 1416.6C1881.1 1416.9 1882.4 1417.2 1883.7 1417.5C1885.0 1417.8 1886.3 1418.2 1887.6 1418.5C1888.9 1418.8 1890.2 1419.1 1891.5 1419.4C1892.8 1419.7 1894.1 1420.0 1895.4 1420.3C1896.7 1420.6 1898.0 1420.9 1899.3 1421.2C1900.6 1421.5 1901.9 1421.8 1903.2 1422.1C1904.5 1422.4 1905.8 1422.7 1907.1 1423.0C1908.4 1423.3 1909.7 1423.6 1911.0 1423.9C1912.3 1424.2 1913.6 1424.5 1914.9 1424.8C1916.2 1425.1 1917.5 1425.4 1918.8 1425.7C1920.1 1426.0 1921.4 1426.3 1922.7 1426.6C1924.0 1426.9 1925.3 1427.1 1926.6 1427.4C1927.9 1427.7 1929.2 1428.0 1930.6 1428.3C1931.9 1428.5 1933.2 1428.8 1934.5 1429.1C1935.8 1429.4 1937.1 1429.6 1938.4 1429.9C1939.7 1430.2 1941.0 1430.4 1942.3 1430.7C1943.6 1431.0 1945.0 1431.2 1946.3 1431.5C1947.6 1431.8 1948.9 1432.0 1950.2 1432.3C1951.5 1432.5 1952.8 1432.8 1954.1 1433.0C1955.4 1433.3 1956.8 1433.5 1958.1 1433.8C1959.4 1434.0 1960.7 1434.2 1962.0 1434.5C1963.3 1434.7 1964.6 1434.9 1966.0 1435.2C1967.3 1435.4 1968.6 1435.6 1969.9 1435.8C1971.2 1436.1 1972.6 1436.3 1973.9 1436.5C1975.2 1436.7 1976.5 1436.9 1977.8 1437.1C1979.1 1437.3 1980.5 1437.5 1981.8 1437.7C1983.1 1437.9 1984.4 1438.1 1985.8 1438.3C1987.1 1438.5 1988.4 1438.7 1989.7 1438.9C1991.0 1439.1 1992.4 1439.3 1993.7 1439.4C1995.0 1439.6 1996.3 1439.8 1997.7 1439.9C1999.0 1440.1 2000.3 1440.3 2001.7 1440.4C2003.0 1440.6 2004.3 1440.7 2005.6 1440.9C2007.0 1441.0 2008.3 1441.2 2009.6 1441.3C2010.9 1441.4 2012.3 1441.6 2013.6 1441.7C2014.9 1441.8 2016.3 1442.0 2017.6 1442.1C2018.9 1442.2 2020.3 1442.3 2021.6 1442.4C2022.9 1442.5 2024.3 1442.6 2025.6 1442.7C2026.9 1442.8 2028.3 1442.9 2029.6 1443.0C2030.9 1443.1 2032.3 1443.2 2033.6 1443.2C2034.9 1443.3 2036.3 1443.4 2037.6 1443.4C2038.9 1443.5 2040.3 1443.6 2041.6 1443.6C2042.9 1443.7 2044.3 1443.7 2045.6 1443.8C2046.9 1443.8 2048.3 1443.8 2049.6 1443.9C2050.9 1443.9 2052.3 1443.9 2053.6 1443.9C2055.0 1443.9 2056.3 1443.9 2057.6 1444.0C2059.0 1444.0 2060.3 1443.9 2061.6 1443.9" fill="none" stroke="#0000fa" stroke-width="5.5" stroke-linecap="round" stroke-linejoin="round"/>
<path d="M458.3 221.4C459.6 221.8 460.9 222.1 462.2 222.5C463.5 222.8 464.8 223.2 466.0 223.6C467.3 224.1 468.6 224.5 469.8 224.9C471.1 225.4 472.3 225.9 473.6 226.3C474.8 226.8 476.1 227.3 477.3 227.9C478.5 228.4 479.7 229.0 480.9 229.5C482.1 230.1 483.3 230.7 484.5 231.3C485.7 231.9 486.9 232.5 488.1 233.2C489.2 233.8 490.4 234.5 491.5 235.2C492.7 235.9 493.8 236.6 495.0 237.3C496.1 238.0 497.2 238.8 498.3 239.5C499.4 240.3 500.5 241.0 501.6 241.8C502.6 242.6 503.7 243.4 504.8 244.2C505.8 245.1 506.9 245.9 507.9 246.7C508.9 247.6 509.9 248.4 511.0 249.3C512.0 250.2 513.0 251.1 513.9 252.0C514.9 252.9 515.9 253.8 516.9 254.7C517.8 255.7 518.8 256.6 519.7 257.5C520.7 258.5 521.6 259.5 522.5 260.4C523.4 261.4 524.3 262.4 525.2 263.4C526.1 264.3 527.0 265.3 527.9 266.3C528.8 267.3 529.7 268.4 530.5 269.4C531.4 270.4 532.2 271.4 533.1 272.5C533.9 273.5 534.8 274.5 535.6 275.6C536.4 276.6 537.2 277.7 538.1 278.7C538.9 279.8 539.7 280.9 540.5 281.9C541.3 283.0 542.1 284.1 542.9 285.2C543.7 286.2 544.4 287.3 545.2 288.4C546.0 289.5 546.8 290.6 547.5 291.7C548.3 292.8 549.1 293.9 549.8 295.0C550.6 296.1 551.3 297.2 552.1 298.3C552.8 299.4 553.6 300.5 554.3 301.6C555.1 302.7 555.8 303.8 556.6 304.9C557.3 306.0 558.0 307.2 558.8 308.3C559.5 309.4 560.2 310.5 561.0 311.6C561.7 312.7 562.4 313.8 563.2 315.0C563.9 316.1 564.6 317.2 565.4 318.3C566.1 319.4 566.8 320.5 567.6 321.7C568.3 322.8 569.0 323.9 569.8 325.0C570.5 326.1 571.3 327.2 572.0 328.3C572.7 329.5 573.5 330.6 574.2 331.7C575.0 332.8 575.7 333.9 576.5 335.0C577.2 336.1 578.0 337.2 578.7 338.3C579.5 339.4 580.2 340.5 581.0 341.6C581.8 342.7 582.5 343.8 583.3 344.9C584.1 346.0 584.9 347.0 585.7 348.1C586.4 349.2 587.2 350.3 588.0 351.4C588.8 352.4 589.6 353.5 590.4 354.6C591.3 355.6 592.1 356.7 592.9 357.7C593.7 358.8 594.5 359.8 595.4 360.9C596.2 361.9 597.1 363.0 597.9 364.0C598.8 365.0 599.6 366.0 600.5 367.1C601.3 368.1 602.2 369.1 603.1 370.1C604.0 371.1 604.9 372.1 605.8 373.1C606.7 374.1 607.6 375.0 608.5 376.0C609.4 377.0 610.3 378.0 611.3 378.9C612.2 379.9 613.2 380.8 614.1 381.7C615.1 382.7 616.0 383.6 617.0 384.5C618.0 385.4 619.0 386.3 619.9 387.2C620.9 388.1 621.9 389.0 623.0 389.9C624.0 390.7 625.0 391.6 626.0 392.4C627.1 393.3 628.1 394.1 629.2 394.9C630.2 395.8 631.3 396.6 632.4 397.3C633.5 398.1 634.5 398.9 635.6 399.7C636.7 400.4 637.9 401.2 639.0 401.9C640.1 402.6 641.2 403.3 642.4 404.0C643.5 404.7 644.7 405.4 645.8 406.0C647.0 406.7 648.2 407.3 649.4 407.9C650.6 408.5 651.8 409.1 653.0 409.7C654.2 410.3 655.4 410.8 656.6 411.4C657.8 411.9 659.1 412.4 660.3 412.9C661.6 413.4 662.8 413.8 664.1 414.3C665.3 414.7 666.6 415.1 667.9 415.5C669.2 415.9 670.4 416.3 671.7 416.7C673.0 417.0 674.3 417.3 675.6 417.7C676.9 418.0 678.2 418.3 679.5 418.6C680.8 418.8 682.1 419.1 683.4 419.4C684.7 419.6 686.1 419.9 687.4 420.1C688.7 420.4 690.0 420.6 691.3 420.8C692.6 421.1 693.9 421.3 695.3 421.5C696.6 421.8 697.9 422.0 699.2 422.2C700.5 422.4 701.8 422.7 703.2 422.9C704.5 423.1 705.8 423.4 707.1 423.6C708.4 423.9 709.7 424.1 711.0 424.4C712.3 424.7 713.6 425.0 714.9 425.3C716.2 425.6 717.5 425.9 718.8 426.2C720.1 426.5 721.4 426.9 722.7 427.2C724.0 427.6 725.3 428.0 726.5 428.4C727.8 428.8 729.1 429.2 730.3 429.7C731.6 430.1 732.9 430.6 734.1 431.1C735.3 431.6 736.6 432.1 737.8 432.6C739.0 433.2 740.2 433.7 741.4 434.3C742.6 434.9 743.8 435.5 745.0 436.1C746.2 436.7 747.4 437.3 748.6 438.0C749.7 438.6 750.9 439.3 752.0 440.0C753.2 440.7 754.3 441.4 755.4 442.1C756.5 442.8 757.6 443.6 758.7 444.4C759.8 445.1 760.9 445.9 762.0 446.7C763.1 447.5 764.1 448.3 765.2 449.2C766.2 450.0 767.2 450.8 768.2 451.7C769.3 452.6 770.2 453.5 771.2 454.4C772.2 455.3 773.2 456.2 774.1 457.1C775.1 458.1 776.0 459.0 777.0 460.0C777.9 461.0 778.8 461.9 779.7 462.9C780.6 463.9 781.4 465.0 782.3 466.0C783.1 467.0 784.0 468.0 784.8 469.1C785.6 470.1 786.4 471.2 787.2 472.3C788.0 473.4 788.8 474.4 789.6 475.5C790.3 476.6 791.1 477.7 791.8 478.9C792.5 480.0 793.3 481.1 794.0 482.2C794.7 483.4 795.4 484.5 796.1 485.7C796.7 486.8 797.4 488.0 798.1 489.1C798.7 490.3 799.4 491.5 800.0 492.6C800.6 493.8 801.2 495.0 801.8 496.2C802.4 497.4 803.0 498.6 803.6 499.8C804.2 501.0 804.8 502.2 805.4 503.4C805.9 504.6 806.5 505.8 807.0 507.0C807.6 508.3 808.1 509.5 808.6 510.7C809.2 511.9 809.7 513.2 810.2 514.4C810.7 515.6 811.2 516.9 811.7 518.1C812.2 519.4 812.6 520.6 813.1 521.9C813.6 523.1 814.0 524.4 814.5 525.6C815.0 526.9 815.4 528.1 815.8 529.4C816.3 530.7 816.7 531.9 817.1 533.2C817.6 534.5 818.0 535.7 818.4 537.0C818.8 538.3 819.2 539.5 819.6 540.8C820.0 542.1 820.4 543.4 820.8 544.7C821.1 545.9 821.5 547.2 821.9 548.5C822.3 549.8 822.6 551.1 823.0 552.4C823.4 553.6 823.7 554.9 824.1 556.2C824.4 557.5 824.8 558.8 825.1 560.1C825.5 561.4 825.8 562.7 826.1 564.0C826.5 565.3 826.8 566.6 827.1 567.8C827.4 569.1 827.8 570.4 828.1 571.7C828.4 573.0 828.7 574.3 829.0 575.6C829.3 576.9 829.6 578.2 829.9 579.5C830.2 580.8 830.5 582.1 830.8 583.4C831.1 584.8 831.4 586.1 831.7 587.4C831.9 588.7 832.2 590.0 832.5 591.3C832.8 592.6 833.0 593.9 833.3 595.2C833.6 596.5 833.9 597.8 834.1 599.1C834.4 600.4 834.6 601.7 834.9 603.1C835.2 604.4 835.4 605.7 835.7 607.0C835.9 608.3 836.2 609.6 836.4 610.9C836.7 612.2 836.9 613.6 837.2 614.9C837.4 616.2 837.7 617.5 837.9 618.8C838.1 620.1 838.4 621.4 838.6 622.7C838.9 624.1 839.1 625.4 839.3 626.7C839.6 628.0 839.8 629.3 840.0 630.6C840.2 632.0 840.5 633.3 840.7 634.6C840.9 635.9 841.1 637.2 841.4 638.5C841.6 639.9 841.8 641.2 842.0 642.5C842.2 643.8 842.5 645.1 842.7 646.4C842.9 647.8 843.1 649.1 843.3 650.4C843.5 651.7 843.7 653.0 844.0 654.4C844.2 655.7 844.4 657.0 844.6 658.3C844.8 659.6 845.0 661.0 845.2 662.3C845.4 663.6 845.6 664.9 845.8 666.2C846.0 667.6 846.2 668.9 846.4 670.2C846.6 671.5 846.8 672.8 847.0 674.2C847.2 675.5 847.4 676.8 847.6 678.1C847.8 679.5 848.0 680.8 848.1 682.1C848.3 683.4 848.5 684.7 848.7 686.1C848.9 687.4 849.1 688.7 849.3 690.0C849.5 691.4 849.6 692.7 849.8 694.0C850.0 695.3 850.2 696.6 850.4 698.0C850.6 699.3 850.7 700.6 850.9 701.9C851.1 703.3 851.3 704.6 851.5 705.9C851.6 707.2 851.8 708.6 852.0 709.9C852.2 711.2 852.3 712.5 852.5 713.9C852.7 715.2 852.9 716.5 853.0 717.8C853.2 719.2 853.4 720.5 853.6 721.8C853.7 723.1 853.9 724.5 854.1 725.8C854.2 727.1 854.4 728.4 854.6 729.8C854.8 731.1 854.9 732.4 855.1 733.7C855.3 735.1 855.4 736.4 855.6 737.7C855.8 739.0 855.9 740.4 856.1 741.7C856.3 743.0 856.4 744.3 856.6 745.7C856.8 747.0 856.9 748.3 857.1 749.6C857.3 751.0 857.4 752.3 857.6 753.6C857.8 754.9 857.9 756.3 858.1 757.6C858.3 758.9 858.4 760.2 858.6 761.6C858.7 762.9 858.9 764.2 859.1 765.5C859.2 766.9 859.4 768.2 859.6 769.5C859.7 770.8 859.9 772.2 860.1 773.5C860.2 774.8 860.4 776.1 860.5 777.5C860.7 778.8 860.9 780.1 861.0 781.5C861.2 782.8 861.4 784.1 861.5 785.4C861.7 786.8 861.9 788.1 862.0 789.4C862.2 790.7 862.3 792.1 862.5 793.4C862.7 794.7 862.8 796.0 863.0 797.4C863.2 798.7 863.3 800.0 863.5 801.3C863.7 802.7 863.8 804.0 864.0 805.3C864.2 806.6 864.3 808.0 864.5 809.3C864.7 810.6 864.8 811.9 865.0 813.3C865.2 814.6 865.3 815.9 865.5 817.2C865.7 818.6 865.8 819.9 866.0 821.2C866.2 822.5 866.3 823.9 866.5 825.2C866.7 826.5 866.9 827.8 867.0 829.2C867.2 830.5 867.4 831.8 867.5 833.1C867.7 834.5 867.9 835.8 868.0 837.1C868.2 838.4 868.4 839.8 868.5 841.1C868.7 842.4 868.9 843.7 869.1 845.1C869.2 846.4 869.4 847.7 869.6 849.0C869.7 850.4 869.9 851.7 870.1 853.0C870.2 854.3 870.4 855.7 870.6 857.0C870.7 858.3 870.9 859.6 871.1 861.0C871.2 862.3 871.4 863.6 871.6 864.9C871.7 866.3 871.9 867.6 872.1 868.9C872.3 870.2 872.4 871.6 872.6 872.9C872.8 874.2 872.9 875.5 873.1 876.9C873.2 878.2 873.4 879.5 873.6 880.8C873.7 882.2 873.9 883.5 874.1 884.8C874.2 886.2 874.4 887.5 874.6 888.8C874.7 890.1 874.9 891.5 875.1 892.8C875.2 894.1 875.4 895.4 875.5 896.8C875.7 898.1 875.9 899.4 876.0 900.7C876.2 902.1 876.3 903.4 876.5 904.7C876.7 906.0 876.8 907.4 877.0 908.7C877.1 910.0 877.3 911.3 877.4 912.7C877.6 914.0 877.7 915.3 877.9 916.7C878.1 918.0 878.2 919.3 878.4 920.6C878.5 922.0 878.7 923.3 878.8 924.6C879.0 925.9 879.1 927.3 879.3 928.6C879.4 929.9 879.6 931.3 879.7 932.6C879.9 933.9 880.0 935.2 880.1 936.6C880.3 937.9 880.4 939.2 880.6 940.6C880.7 941.9 880.9 943.2 881.0 944.5C881.2 945.9 881.3 947.2 881.4 948.5C881.6 949.8 881.7 951.2 881.9 952.5C882.0 953.8 882.1 955.2 882.3 956.5C882.4 957.8 882.6 959.1 882.7 960.5C882.8 961.8 883.0 963.1 883.1 964.5C883.3 965.8 883.4 967.1 883.5 968.4C883.7 969.8 883.8 971.1 883.9 972.4C884.1 973.8 884.2 975.1 884.3 976.4C884.5 977.7 884.6 979.1 884.8 980.4C884.9 981.7 885.0 983.1 885.2 984.4C885.3 985.7 885.4 987.1 885.6 988.4C885.7 989.7 885.8 991.0 886.0 992.4C886.1 993.7 886.3 995.0 886.4 996.4C886.5 997.7 886.7 999.0 886.8 1000.3C886.9 1001.7 887.1 1003.0 887.2 1004.3C887.3 1005.7 887.5 1007.0 887.6 1008.3C887.8 1009.6 887.9 1011.0 888.0 1012.3C888.2 1013.6 888.3 1015.0 888.5 1016.3C888.6 1017.6 888.7 1018.9 888.9 1020.3C889.0 1021.6 889.2 1022.9 889.3 1024.3C889.4 1025.6 889.6 1026.9 889.7 1028.2C889.9 1029.6 890.0 1030.9 890.2 1032.2C890.3 1033.6 890.4 1034.9 890.6 1036.2C890.7 1037.5 890.9 1038.9 891.0 1040.2C891.2 1041.5 891.3 1042.8 891.5 1044.2C891.6 1045.5 891.8 1046.8 891.9 1048.2C892.1 1049.5 892.2 1050.8 892.4 1052.1C892.5 1053.5 892.7 1054.8 892.9 1056.1C893.0 1057.4 893.2 1058.8 893.3 1060.1C893.5 1061.4 893.6 1062.7 893.8 1064.1C894.0 1065.4 894.1 1066.7 894.3 1068.1C894.5 1069.4 894.6 1070.7 894.8 1072.0C895.0 1073.4 895.1 1074.7 895.3 1076.0C895.5 1077.3 895.6 1078.7 895.8 1080.0C896.0 1081.3 896.1 1082.6 896.3 1084.0C896.5 1085.3 896.7 1086.6 896.8 1087.9C897.0 1089.3 897.2 1090.6 897.4 1091.9C897.6 1093.2 897.7 1094.5 897.9 1095.9C898.1 1097.2 898.3 1098.5 898.5 1099.8C898.7 1101.2 898.9 1102.5 899.1 1103.8C899.3 1105.1 899.4 1106.4 899.6 1107.8C899.8 1109.1 900.0 1110.4 900.2 1111.7C900.4 1113.1 900.6 1114.4 900.9 1115.7C901.1 1117.0 901.3 1118.3 901.5 1119.6C901.7 1121.0 901.9 1122.3 902.1 1123.6C902.3 1124.9 902.6 1126.2 902.8 1127.6C903.0 1128.9 903.2 1130.2 903.5 1131.5C903.7 1132.8 903.9 1134.1 904.2 1135.5C904.4 1136.8 904.6 1138.1 904.9 1139.4C905.1 1140.7 905.4 1142.0 905.6 1143.3C905.9 1144.6 906.1 1146.0 906.4 1147.3C906.7 1148.6 906.9 1149.9 907.2 1151.2C907.5 1152.5 907.7 1153.8 908.0 1155.1C908.3 1156.4 908.6 1157.7 908.9 1159.0C909.2 1160.3 909.5 1161.6 909.8 1162.9C910.1 1164.2 910.4 1165.5 910.7 1166.8C911.0 1168.1 911.3 1169.4 911.6 1170.7C911.9 1172.0 912.2 1173.3 912.6 1174.6C912.9 1175.9 913.2 1177.2 913.6 1178.5C913.9 1179.8 914.3 1181.1 914.6 1182.4C915.0 1183.7 915.3 1184.9 915.7 1186.2C916.1 1187.5 916.5 1188.8 916.8 1190.1C917.2 1191.4 917.6 1192.6 918.0 1193.9C918.4 1195.2 918.8 1196.5 919.3 1197.7C919.7 1199.0 920.1 1200.2 920.6 1201.5C921.0 1202.8 921.5 1204.0 922.0 1205.3C922.4 1206.5 922.9 1207.8 923.4 1209.0C923.9 1210.2 924.5 1211.5 925.0 1212.7C925.5 1213.9 926.1 1215.1 926.7 1216.3C927.2 1217.5 927.8 1218.7 928.4 1219.9C929.0 1221.1 929.7 1222.3 930.3 1223.4C931.0 1224.6 931.7 1225.8 932.3 1226.9C933.0 1228.1 933.8 1229.2 934.5 1230.3C935.2 1231.4 936.0 1232.5 936.8 1233.6C937.6 1234.7 938.4 1235.7 939.2 1236.8C940.0 1237.8 940.9 1238.9 941.7 1239.9C942.6 1240.9 943.5 1241.9 944.4 1242.9C945.3 1243.9 946.2 1244.8 947.1 1245.8C948.1 1246.8 949.0 1247.7 950.0 1248.6C950.9 1249.6 951.9 1250.5 952.8 1251.4C953.8 1252.3 954.8 1253.3 955.8 1254.2C956.8 1255.1 957.8 1256.0 958.7 1256.8C959.7 1257.7 960.7 1258.6 961.7 1259.5C962.7 1260.4 963.7 1261.3 964.8 1262.2C965.8 1263.0 966.8 1263.9 967.8 1264.8C968.8 1265.7 969.8 1266.6 970.8 1267.5C971.8 1268.3 972.8 1269.2 973.8 1270.1C974.7 1271.0 975.7 1271.9 976.7 1272.8C977.7 1273.7 978.7 1274.6 979.6 1275.6C980.6 1276.5 981.6 1277.4 982.5 1278.3C983.5 1279.3 984.5 1280.2 985.4 1281.1C986.4 1282.0 987.3 1283.0 988.3 1283.9C989.3 1284.8 990.2 1285.8 991.2 1286.7C992.2 1287.6 993.1 1288.5 994.1 1289.4C995.1 1290.4 996.0 1291.3 997.0 1292.2C998.0 1293.1 999.0 1294.0 1000.0 1294.9C1001.0 1295.8 1002.0 1296.7 1003.0 1297.5C1004.0 1298.4 1005.0 1299.3 1006.0 1300.1C1007.0 1301.0 1008.1 1301.9 1009.1 1302.7C1010.2 1303.5 1011.2 1304.4 1012.3 1305.2C1013.3 1306.0 1014.4 1306.8 1015.5 1307.6C1016.5 1308.4 1017.6 1309.2 1018.7 1310.0C1019.8 1310.7 1020.9 1311.5 1022.0 1312.3C1023.1 1313.0 1024.2 1313.8 1025.3 1314.5C1026.4 1315.3 1027.5 1316.0 1028.6 1316.7C1029.7 1317.5 1030.9 1318.2 1032.0 1318.9C1033.1 1319.6 1034.3 1320.3 1035.4 1321.0C1036.5 1321.7 1037.7 1322.4 1038.8 1323.1C1040.0 1323.7 1041.2 1324.4 1042.3 1325.1C1043.5 1325.7 1044.6 1326.4 1045.8 1327.0C1047.0 1327.7 1048.2 1328.3 1049.3 1328.9C1050.5 1329.6 1051.7 1330.2 1052.9 1330.8C1054.1 1331.4 1055.2 1332.0 1056.4 1332.6C1057.6 1333.2 1058.8 1333.8 1060.0 1334.4C1061.2 1335.0 1062.4 1335.6 1063.6 1336.2C1064.8 1336.7 1066.1 1337.3 1067.3 1337.9C1068.5 1338.4 1069.7 1339.0 1070.9 1339.5C1072.1 1340.1 1073.3 1340.6 1074.6 1341.2C1075.8 1341.7 1077.0 1342.2 1078.3 1342.7C1079.5 1343.3 1080.7 1343.8 1081.9 1344.3C1083.2 1344.8 1084.4 1345.3 1085.7 1345.8C1086.9 1346.3 1088.1 1346.8 1089.4 1347.3C1090.6 1347.8 1091.9 1348.2 1093.1 1348.7C1094.4 1349.2 1095.6 1349.7 1096.9 1350.1C1098.1 1350.6 1099.4 1351.0 1100.7 1351.5C1101.9 1351.9 1103.2 1352.4 1104.4 1352.8C1105.7 1353.3 1107.0 1353.7 1108.2 1354.1C1109.5 1354.5 1110.8 1355.0 1112.0 1355.4C1113.3 1355.8 1114.6 1356.2 1115.8 1356.6C1117.1 1357.0 1118.4 1357.4 1119.7 1357.8C1120.9 1358.2 1122.2 1358.6 1123.5 1359.0C1124.8 1359.4 1126.1 1359.8 1127.3 1360.1C1128.6 1360.5 1129.9 1360.9 1131.2 1361.2C1132.5 1361.6 1133.8 1362.0 1135.0 1362.3C1136.3 1362.7 1137.6 1363.0 1138.9 1363.4C1140.2 1363.7 1141.5 1364.1 1142.8 1364.4C1144.1 1364.8 1145.4 1365.1 1146.7 1365.4C1148.0 1365.8 1149.2 1366.1 1150.5 1366.4C1151.8 1366.7 1153.1 1367.0 1154.4 1367.4C1155.7 1367.7 1157.0 1368.0 1158.3 1368.3C1159.6 1368.6 1160.9 1368.9 1162.2 1369.2C1163.5 1369.5 1164.8 1369.8 1166.1 1370.1C1167.5 1370.4 1168.8 1370.7 1170.1 1370.9C1171.4 1371.2 1172.7 1371.5 1174.0 1371.8C1175.3 1372.1 1176.6 1372.3 1177.9 1372.6C1179.2 1372.9 1180.5 1373.1 1181.8 1373.4C1183.1 1373.7 1184.5 1373.9 1185.8 1374.2C1187.1 1374.4 1188.4 1374.7 1189.7 1374.9C1191.0 1375.2 1192.3 1375.4 1193.6 1375.7C1194.9 1375.9 1196.3 1376.1 1197.6 1376.4C1198.9 1376.6 1200.2 1376.8 1201.5 1377.1C1202.8 1377.3 1204.2 1377.5 1205.5 1377.8C1206.8 1378.0 1208.1 1378.2 1209.4 1378.4C1210.7 1378.6 1212.1 1378.8 1213.4 1379.1C1214.7 1379.3 1216.0 1379.5 1217.3 1379.7C1218.7 1379.9 1220.0 1380.1 1221.3 1380.3C1222.6 1380.5 1223.9 1380.7 1225.3 1380.9C1226.6 1381.1 1227.9 1381.3 1229.2 1381.5C1230.6 1381.7 1231.9 1381.8 1233.2 1382.0C1234.5 1382.2 1235.8 1382.4 1237.2 1382.6C1238.5 1382.8 1239.8 1382.9 1241.1 1383.1C1242.5 1383.3 1243.8 1383.4 1245.1 1383.6C1246.4 1383.8 1247.8 1384.0 1249.1 1384.1C1250.4 1384.3 1251.7 1384.4 1253.1 1384.6C1254.4 1384.8 1255.7 1384.9 1257.0 1385.1C1258.4 1385.2 1259.7 1385.4 1261.0 1385.5C1262.4 1385.7 1263.7 1385.8 1265.0 1386.0C1266.3 1386.1 1267.7 1386.3 1269.0 1386.4C1270.3 1386.6 1271.7 1386.7 1273.0 1386.9C1274.3 1387.0 1275.6 1387.1 1277.0 1387.3C1278.3 1387.4 1279.6 1387.5 1281.0 1387.7C1282.3 1387.8 1283.6 1387.9 1284.9 1388.1C1286.3 1388.2 1287.6 1388.3 1288.9 1388.4C1290.3 1388.6 1291.6 1388.7 1292.9 1388.8C1294.3 1388.9 1295.6 1389.1 1296.9 1389.2C1298.2 1389.3 1299.6 1389.4 1300.9 1389.5C1302.2 1389.7 1303.6 1389.8 1304.9 1389.9C1306.2 1390.0 1307.6 1390.1 1308.9 1390.2C1310.2 1390.3 1311.6 1390.5 1312.9 1390.6C1314.2 1390.7 1315.5 1390.8 1316.9 1390.9C1318.2 1391.0 1319.5 1391.1 1320.9 1391.2C1322.2 1391.3 1323.5 1391.4 1324.9 1391.5C1326.2 1391.6 1327.5 1391.7 1328.9 1391.8C1330.2 1391.9 1331.5 1392.0 1332.9 1392.1C1334.2 1392.2 1335.5 1392.3 1336.9 1392.4C1338.2 1392.5 1339.5 1392.6 1340.9 1392.7C1342.2 1392.8 1343.5 1392.9 1344.8 1393.0C1346.2 1393.1 1347.5 1393.2 1348.8 1393.3C1350.2 1393.4 1351.5 1393.5 1352.8 1393.6C1354.2 1393.7 1355.5 1393.8 1356.8 1393.9C1358.2 1394.0 1359.5 1394.0 1360.8 1394.1C1362.2 1394.2 1363.5 1394.3 1364.8 1394.4C1366.2 1394.5 1367.5 1394.6 1368.8 1394.7C1370.2 1394.8 1371.5 1394.9 1372.8 1395.0C1374.2 1395.1 1375.5 1395.1 1376.8 1395.2C1378.2 1395.3 1379.5 1395.4 1380.8 1395.5C1382.2 1395.6 1383.5 1395.7 1384.8 1395.8C1386.2 1395.9 1387.5 1396.0 1388.8 1396.0C1390.2 1396.1 1391.5 1396.2 1392.8 1396.3C1394.2 1396.4 1395.5 1396.5 1396.8 1396.6C1398.2 1396.7 1399.5 1396.8 1400.8 1396.9C1402.2 1397.0 1403.5 1397.1 1404.8 1397.2C1406.1 1397.2 1407.5 1397.3 1408.8 1397.4C1410.1 1397.5 1411.5 1397.6 1412.8 1397.7C1414.1 1397.8 1415.5 1397.9 1416.8 1398.0C1418.1 1398.1 1419.5 1398.2 1420.8 1398.3C1422.1 1398.4 1423.5 1398.5 1424.8 1398.6C1426.1 1398.7 1427.5 1398.8 1428.8 1398.9C1430.1 1399.0 1431.5 1399.1 1432.8 1399.2C1434.1 1399.3 1435.5 1399.4 1436.8 1399.5C1438.1 1399.6 1439.5 1399.7 1440.8 1399.8C1442.1 1400.0 1443.4 1400.1 1444.8 1400.2C1446.1 1400.3 1447.4 1400.4 1448.8 1400.5C1450.1 1400.6 1451.4 1400.7 1452.8 1400.8C1454.1 1401.0 1455.4 1401.1 1456.8 1401.2C1458.1 1401.3 1459.4 1401.4 1460.7 1401.5C1462.1 1401.7 1463.4 1401.8 1464.7 1401.9C1466.1 1402.0 1467.4 1402.2 1468.7 1402.3C1470.1 1402.4 1471.4 1402.5 1472.7 1402.7C1474.0 1402.8 1475.4 1402.9 1476.7 1403.1C1478.0 1403.2 1479.4 1403.3 1480.7 1403.5C1482.0 1403.6 1483.4 1403.7 1484.7 1403.9C1486.0 1404.0 1487.3 1404.1 1488.7 1404.3C1490.0 1404.4 1491.3 1404.6 1492.7 1404.7C1494.0 1404.9 1495.3 1405.0 1496.6 1405.1C1498.0 1405.3 1499.3 1405.4 1500.6 1405.6C1501.9 1405.7 1503.3 1405.9 1504.6 1406.0C1505.9 1406.2 1507.3 1406.3 1508.6 1406.4C1509.9 1406.6 1511.2 1406.7 1512.6 1406.9C1513.9 1407.0 1515.2 1407.2 1516.6 1407.3C1517.9 1407.5 1519.2 1407.6 1520.5 1407.8C1521.9 1407.9 1523.2 1408.1 1524.5 1408.2C1525.8 1408.4 1527.2 1408.5 1528.5 1408.7C1529.8 1408.8 1531.2 1409.0 1532.5 1409.1C1533.8 1409.3 1535.1 1409.4 1536.5 1409.6C1537.8 1409.7 1539.1 1409.9 1540.4 1410.0C1541.8 1410.2 1543.1 1410.3 1544.4 1410.5C1545.8 1410.6 1547.1 1410.7 1548.4 1410.9C1549.7 1411.0 1551.1 1411.2 1552.4 1411.3C1553.7 1411.5 1555.1 1411.6 1556.4 1411.8C1557.7 1411.9 1559.0 1412.0 1560.4 1412.2C1561.7 1412.3 1563.0 1412.5 1564.4 1412.6C1565.7 1412.7 1567.0 1412.9 1568.3 1413.0C1569.7 1413.2 1571.0 1413.3 1572.3 1413.4C1573.7 1413.6 1575.0 1413.7 1576.3 1413.8C1577.6 1414.0 1579.0 1414.1 1580.3 1414.2C1581.6 1414.3 1583.0 1414.5 1584.3 1414.6C1585.6 1414.7 1587.0 1414.8 1588.3 1415.0C1589.6 1415.1 1590.9 1415.2 1592.3 1415.3C1593.6 1415.4 1594.9 1415.6 1596.3 1415.7C1597.6 1415.8 1598.9 1415.9 1600.3 1416.0C1601.6 1416.1 1602.9 1416.2 1604.3 1416.3C1605.6 1416.4 1606.9 1416.5 1608.2 1416.6C1609.6 1416.7 1610.9 1416.8 1612.2 1416.9C1613.6 1417.0 1614.9 1417.1 1616.2 1417.2C1617.6 1417.3 1618.9 1417.4 1620.2 1417.5C1621.6 1417.6 1622.9 1417.7 1624.2 1417.7C1625.6 1417.8 1626.9 1417.9 1628.2 1418.0C1629.6 1418.1 1630.9 1418.1 1632.2 1418.2C1633.6 1418.3 1634.9 1418.4 1636.2 1418.4C1637.6 1418.5 1638.9 1418.6 1640.2 1418.6C1641.6 1418.7 1642.9 1418.8 1644.2 1418.9C1645.6 1418.9 1646.9 1419.0 1648.2 1419.1C1649.6 1419.1 1650.9 1419.2 1652.3 1419.2C1653.6 1419.3 1654.9 1419.4 1656.3 1419.4C1657.6 1419.5 1658.9 1419.6 1660.3 1419.6C1661.6 1419.7 1662.9 1419.8 1664.3 1419.8C1665.6 1419.9 1666.9 1419.9 1668.3 1420.0C1669.6 1420.1 1670.9 1420.1 1672.3 1420.2C1673.6 1420.3 1674.9 1420.3 1676.3 1420.4C1677.6 1420.5 1678.9 1420.5 1680.3 1420.6C1681.6 1420.7 1682.9 1420.7 1684.3 1420.8C1685.6 1420.9 1686.9 1421.0 1688.3 1421.0C1689.6 1421.1 1690.9 1421.2 1692.3 1421.3C1693.6 1421.3 1694.9 1421.4 1696.3 1421.5C1697.6 1421.6 1698.9 1421.7 1700.3 1421.7C1701.6 1421.8 1702.9 1421.9 1704.3 1422.0C1705.6 1422.1 1706.9 1422.2 1708.3 1422.3C1709.6 1422.4 1710.9 1422.5 1712.3 1422.6C1713.6 1422.7 1714.9 1422.8 1716.3 1422.9C1717.6 1423.0 1718.9 1423.1 1720.3 1423.2C1721.6 1423.4 1722.9 1423.5 1724.2 1423.6C1725.6 1423.7 1726.9 1423.8 1728.2 1424.0C1729.6 1424.1 1730.9 1424.2 1732.2 1424.4C1733.6 1424.5 1734.9 1424.7 1736.2 1424.8C1737.5 1425.0 1738.9 1425.1 1740.2 1425.3C1741.5 1425.4 1742.8 1425.6 1744.2 1425.7C1745.5 1425.9 1746.8 1426.1 1748.1 1426.2C1749.5 1426.4 1750.8 1426.6 1752.1 1426.8C1753.4 1426.9 1754.8 1427.1 1756.1 1427.3C1757.4 1427.5 1758.7 1427.7 1760.1 1427.9C1761.4 1428.1 1762.7 1428.3 1764.0 1428.5C1765.3 1428.7 1766.7 1428.9 1768.0 1429.1C1769.3 1429.3 1770.6 1429.5 1771.9 1429.7C1773.3 1429.9 1774.6 1430.1 1775.9 1430.4C1777.2 1430.6 1778.5 1430.8 1779.8 1431.0C1781.2 1431.3 1782.5 1431.5 1783.8 1431.7C1785.1 1431.9 1786.4 1432.2 1787.7 1432.4C1789.1 1432.6 1790.4 1432.9 1791.7 1433.1C1793.0 1433.4 1794.3 1433.6 1795.6 1433.9C1796.9 1434.1 1798.2 1434.4 1799.6 1434.6C1800.9 1434.9 1802.2 1435.1 1803.5 1435.4C1804.8 1435.6 1806.1 1435.9 1807.4 1436.1C1808.7 1436.4 1810.0 1436.7 1811.4 1436.9C1812.7 1437.2 1814.0 1437.5 1815.3 1437.7C1816.6 1438.0 1817.9 1438.3 1819.2 1438.5C1820.5 1438.8 1821.8 1439.1 1823.1 1439.4C1824.4 1439.6 1825.7 1439.9 1827.1 1440.2C1828.4 1440.5 1829.7 1440.7 1831.0 1441.0C1832.3 1441.3 1833.6 1441.6 1834.9 1441.9C1836.2 1442.2 1837.5 1442.4 1838.8 1442.7C1840.1 1443.0 1841.4 1443.3 1842.7 1443.6C1844.0 1443.9 1845.3 1444.2 1846.6 1444.5C1847.9 1444.7 1849.2 1445.0 1850.5 1445.3C1851.8 1445.6 1853.1 1445.9 1854.4 1446.2C1855.8 1446.5 1857.1 1446.8 1858.4 1447.1C1859.7 1447.4 1861.0 1447.7 1862.3 1448.0C1863.6 1448.3 1864.9 1448.6 1866.2 1448.9C1867.5 1449.2 1868.8 1449.5 1870.1 1449.8C1871.4 1450.1 1872.7 1450.4 1874.0 1450.6C1875.3 1450.9 1876.6 1451.2 1877.9 1451.5C1879.2 1451.8 1880.5 1452.1 1881.8 1452.4C1883.1 1452.7 1884.4 1453.0 1885.7 1453.3C1887.0 1453.6 1888.3 1453.9 1889.6 1454.2C1890.9 1454.5 1892.2 1454.8 1893.5 1455.1C1894.8 1455.4 1896.1 1455.7 1897.4 1456.0C1898.7 1456.3 1900.0 1456.6 1901.3 1456.9C1902.6 1457.2 1903.9 1457.5 1905.2 1457.8C1906.5 1458.1 1907.9 1458.4 1909.2 1458.7C1910.5 1458.9 1911.8 1459.2 1913.1 1459.5C1914.4 1459.8 1915.7 1460.1 1917.0 1460.4C1918.3 1460.7 1919.6 1461.0 1920.9 1461.3C1922.2 1461.5 1923.5 1461.8 1924.8 1462.1C1926.1 1462.4 1927.4 1462.7 1928.7 1463.0C1930.0 1463.2 1931.3 1463.5 1932.6 1463.8C1933.9 1464.1 1935.3 1464.4 1936.6 1464.6C1937.9 1464.9 1939.2 1465.2 1940.5 1465.5C1941.8 1465.7 1943.1 1466.0 1944.4 1466.3C1945.7 1466.5 1947.0 1466.8 1948.3 1467.1C1949.6 1467.3 1951.0 1467.6 1952.3 1467.8C1953.6 1468.1 1954.9 1468.4 1956.2 1468.6C1957.5 1468.9 1958.8 1469.1 1960.1 1469.4C1961.4 1469.6 1962.8 1469.9 1964.1 1470.1C1965.4 1470.4 1966.7 1470.6 1968.0 1470.9C1969.3 1471.1 1970.6 1471.3 1972.0 1471.6C1973.3 1471.8 1974.6 1472.0 1975.9 1472.3C1977.2 1472.5 1978.5 1472.7 1979.8 1473.0C1981.2 1473.2 1982.5 1473.4 1983.8 1473.6C1985.1 1473.8 1986.4 1474.1 1987.8 1474.3" fill="none" stroke="#00ffff" stroke-width="5.5" stroke-linecap="round" stroke-linejoin="round"/>
<line x1="327.1" y1="166.5" x2="327.1" y2="1577.0" stroke="#000" stroke-width="5.6" stroke-linecap="round"/>
<line x1="2240.4" y1="169.5" x2="2240.4" y2="1579.8" stroke="#000" stroke-width="5.5" stroke-linecap="butt"/>
<line x1="324.3" y1="1577.0" x2="2243.2" y2="1577.0" stroke="#000" stroke-width="5.5" stroke-linecap="butt"/>
<line x1="305.8" y1="169.5" x2="2250.3" y2="169.5" stroke="#000" stroke-width="5.5" stroke-linecap="round"/>
<line x1="327.1" y1="1485.8" x2="314.2" y2="1485.8" stroke="#000" stroke-width="5.4" stroke-linecap="round"/>
<line x1="327.1" y1="1305.1" x2="299.1" y2="1305.1" stroke="#000" stroke-width="5.4" stroke-linecap="round"/>
<text transform="translate(277.6 1324.8) scale(1 1.040)" font-size="70.0" text-anchor="end">40</text>
<line x1="327.1" y1="1124.5" x2="314.2" y2="1124.5" stroke="#000" stroke-width="5.4" stroke-linecap="round"/>
<line x1="327.1" y1="943.8" x2="299.1" y2="943.8" stroke="#000" stroke-width="5.4" stroke-linecap="round"/>
<text transform="translate(277.6 963.5) scale(1 1.040)" font-size="70.0" text-anchor="end">60</text>
<line x1="327.1" y1="763.1" x2="314.2" y2="763.1" stroke="#000" stroke-width="5.4" stroke-linecap="round"/>
<line x1="327.1" y1="582.4" x2="299.1" y2="582.4" stroke="#000" stroke-width="5.4" stroke-linecap="round"/>
<text transform="translate(277.6 602.1) scale(1 1.040)" font-size="70.0" text-anchor="end">80</text>
<line x1="327.1" y1="401.8" x2="314.2" y2="401.8" stroke="#000" stroke-width="5.4" stroke-linecap="round"/>
<line x1="327.1" y1="221.1" x2="299.1" y2="221.1" stroke="#000" stroke-width="5.4" stroke-linecap="round"/>
<text transform="translate(277.6 240.8) scale(1 1.040)" font-size="70.0" text-anchor="end">100</text>
<line x1="415.0" y1="1577.0" x2="415.0" y2="1605.3" stroke="#000" stroke-width="5.4" stroke-linecap="round"/>
<text transform="translate(415.0 1680.0) scale(1 1.040)" font-size="70.0" text-anchor="middle">0</text>
<line x1="588.8" y1="1577.0" x2="588.8" y2="1590.7" stroke="#000" stroke-width="5.4" stroke-linecap="round"/>
<line x1="762.6" y1="1577.0" x2="762.6" y2="1605.3" stroke="#000" stroke-width="5.4" stroke-linecap="round"/>
<text transform="translate(762.6 1680.0) scale(1 1.040)" font-size="70.0" text-anchor="middle">200</text>
<line x1="936.3" y1="1577.0" x2="936.3" y2="1590.7" stroke="#000" stroke-width="5.4" stroke-linecap="round"/>
<line x1="1110.1" y1="1577.0" x2="1110.1" y2="1605.3" stroke="#000" stroke-width="5.4" stroke-linecap="round"/>
<text transform="translate(1110.1 1680.0) scale(1 1.040)" font-size="70.0" text-anchor="middle">400</text>
<line x1="1283.9" y1="1577.0" x2="1283.9" y2="1590.7" stroke="#000" stroke-width="5.4" stroke-linecap="round"/>
<line x1="1457.7" y1="1577.0" x2="1457.7" y2="1605.3" stroke="#000" stroke-width="5.4" stroke-linecap="round"/>
<text transform="translate(1457.7 1680.0) scale(1 1.040)" font-size="70.0" text-anchor="middle">600</text>
<line x1="1631.5" y1="1577.0" x2="1631.5" y2="1590.7" stroke="#000" stroke-width="5.4" stroke-linecap="round"/>
<line x1="1805.2" y1="1577.0" x2="1805.2" y2="1605.3" stroke="#000" stroke-width="5.4" stroke-linecap="round"/>
<text transform="translate(1805.2 1680.0) scale(1 1.040)" font-size="70.0" text-anchor="middle">800</text>
<line x1="1979.0" y1="1577.0" x2="1979.0" y2="1590.7" stroke="#000" stroke-width="5.4" stroke-linecap="round"/>
<line x1="2152.8" y1="1577.0" x2="2152.8" y2="1605.3" stroke="#000" stroke-width="5.4" stroke-linecap="round"/>
<text transform="translate(2152.8 1680.0) scale(1 1.040)" font-size="70.0" text-anchor="middle">1000</text>
<text x="1249.6" y="105.0" font-size="114.0" text-anchor="middle">a</text>
<text x="938.6" y="1771.4" font-size="89">Temperature (<tspan font-size="62" dy="-48">o</tspan><tspan dy="48">C)</tspan></text>
<text transform="translate(150.5 1042.7) rotate(-90)" font-size="89">Mass (%)</text>
<rect x="1391.7" y="315.1" width="851.9" height="489.3" fill="none" stroke="#000" stroke-width="4"/>
<line x1="1427.4" y1="390.2" x2="1581.8" y2="390.2" stroke="#000000" stroke-width="5.7" stroke-linecap="round"/>
<text transform="translate(1600.4 414.3) scale(1 1.030)" font-size="70.0" text-anchor="start">IL/Na-Bent</text>
<line x1="1427.4" y1="475.9" x2="1581.8" y2="475.9" stroke="#ff0000" stroke-width="5.7" stroke-linecap="round"/>
<text transform="translate(1600.4 500.0) scale(1 1.030)" font-size="70.0" text-anchor="start">IL/Na-Bent/MCC-1</text>
<line x1="1427.4" y1="561.6" x2="1581.8" y2="561.6" stroke="#00f96c" stroke-width="5.7" stroke-linecap="round"/>
<text transform="translate(1600.4 585.7) scale(1 1.030)" font-size="70.0" text-anchor="start">IL/Na-Bent/MCC-2</text>
<line x1="1427.4" y1="647.3" x2="1581.8" y2="647.3" stroke="#0000fa" stroke-width="5.7" stroke-linecap="round"/>
<text transform="translate(1600.4 671.4) scale(1 1.030)" font-size="70.0" text-anchor="start">IL/Na-Bent/MCC-6</text>
<line x1="1427.4" y1="733.0" x2="1581.8" y2="733.0" stroke="#00ffff" stroke-width="5.7" stroke-linecap="round"/>
<text transform="translate(1600.4 757.1) scale(1 1.030)" font-size="70.0" text-anchor="start">IL/Na-Bent/MCC-10</text>
</g>
<g id="panel-b">
<path d="M438.9 2273.0C440.2 2272.7 441.5 2272.0 442.8 2272.2C444.0 2272.3 445.2 2273.2 446.3 2273.9C447.4 2274.7 448.3 2275.7 449.2 2276.7C450.1 2277.7 451.0 2278.7 451.8 2279.7C452.7 2280.7 453.5 2281.8 454.4 2282.8C455.2 2283.9 456.0 2285.0 456.8 2286.0C457.6 2287.1 458.3 2288.2 459.1 2289.3C459.9 2290.4 460.6 2291.5 461.4 2292.6C462.1 2293.7 462.9 2294.8 463.6 2295.9C464.4 2297.0 465.1 2298.1 465.8 2299.3C466.6 2300.4 467.3 2301.5 468.1 2302.6C468.8 2303.7 469.6 2304.8 470.3 2305.9C471.1 2307.0 471.8 2308.1 472.6 2309.2C473.3 2310.3 474.1 2311.4 474.8 2312.5C475.6 2313.6 476.3 2314.8 477.1 2315.9C477.8 2317.0 478.6 2318.1 479.3 2319.2C480.1 2320.3 480.8 2321.4 481.6 2322.5C482.3 2323.6 483.1 2324.7 483.8 2325.8C484.6 2326.9 485.3 2328.0 486.1 2329.1C486.8 2330.2 487.6 2331.3 488.3 2332.4C489.1 2333.5 489.8 2334.7 490.5 2335.8C491.3 2336.9 492.0 2338.0 492.8 2339.1C493.5 2340.2 494.2 2341.3 495.0 2342.5C495.7 2343.6 496.4 2344.7 497.1 2345.8C497.9 2346.9 498.6 2348.1 499.3 2349.2C500.0 2350.3 500.7 2351.4 501.5 2352.6C502.2 2353.7 502.9 2354.8 503.6 2355.9C504.4 2357.0 505.1 2358.2 505.9 2359.3C506.6 2360.4 507.4 2361.5 508.1 2362.6C508.9 2363.7 509.7 2364.7 510.5 2365.8C511.3 2366.9 512.1 2367.9 513.0 2369.0C513.8 2370.0 514.7 2371.0 515.6 2372.0C516.4 2373.0 517.4 2374.0 518.3 2375.0C519.2 2375.9 520.2 2376.8 521.2 2377.7C522.2 2378.6 523.2 2379.5 524.3 2380.3C525.3 2381.1 526.4 2381.9 527.6 2382.6C528.7 2383.3 529.8 2384.0 531.0 2384.6C532.2 2385.2 533.4 2385.8 534.6 2386.3C535.9 2386.8 537.1 2387.3 538.4 2387.7C539.7 2388.1 541.0 2388.5 542.3 2388.8C543.6 2389.1 544.9 2389.3 546.2 2389.5C547.5 2389.6 548.9 2389.8 550.2 2389.8C551.5 2389.9 552.9 2389.8 554.2 2389.8C555.5 2389.7 556.9 2389.5 558.2 2389.3C559.5 2389.1 560.8 2388.8 562.1 2388.5C563.4 2388.1 564.7 2387.7 565.9 2387.3C567.2 2386.9 568.4 2386.4 569.7 2385.8C570.9 2385.3 572.1 2384.7 573.3 2384.1C574.5 2383.5 575.6 2382.8 576.8 2382.1C577.9 2381.4 579.0 2380.7 580.1 2380.0C581.2 2379.2 582.3 2378.4 583.4 2377.6C584.4 2376.8 585.5 2375.9 586.5 2375.1C587.5 2374.2 588.5 2373.3 589.5 2372.4C590.5 2371.5 591.4 2370.6 592.4 2369.7C593.3 2368.7 594.3 2367.7 595.2 2366.8C596.1 2365.8 597.0 2364.8 597.8 2363.8C598.7 2362.8 599.6 2361.8 600.5 2360.7C601.3 2359.7 602.2 2358.7 603.0 2357.7C603.8 2356.6 604.7 2355.6 605.5 2354.5C606.3 2353.5 607.2 2352.4 608.0 2351.4C608.8 2350.3 609.6 2349.3 610.5 2348.2C611.3 2347.2 612.1 2346.1 613.0 2345.1C613.8 2344.0 614.6 2343.0 615.5 2342.0C616.3 2340.9 617.2 2339.9 618.0 2338.9C618.9 2337.8 619.7 2336.8 620.6 2335.8C621.4 2334.8 622.3 2333.8 623.2 2332.7C624.1 2331.7 624.9 2330.7 625.8 2329.7C626.7 2328.7 627.6 2327.7 628.5 2326.7C629.4 2325.8 630.3 2324.8 631.2 2323.8C632.1 2322.8 633.1 2321.9 634.0 2320.9C634.9 2319.9 635.9 2319.0 636.8 2318.1C637.8 2317.1 638.7 2316.2 639.7 2315.3C640.6 2314.3 641.6 2313.4 642.6 2312.5C643.6 2311.6 644.6 2310.7 645.6 2309.8C646.6 2308.9 647.6 2308.1 648.6 2307.2C649.6 2306.3 650.7 2305.5 651.7 2304.7C652.8 2303.8 653.8 2303.0 654.9 2302.2C655.9 2301.4 657.0 2300.6 658.1 2299.8C659.2 2299.0 660.3 2298.3 661.4 2297.5C662.5 2296.8 663.6 2296.0 664.7 2295.3C665.9 2294.6 667.0 2293.9 668.2 2293.2C669.3 2292.6 670.5 2291.9 671.6 2291.3C672.8 2290.6 674.0 2290.0 675.2 2289.4C676.4 2288.8 677.6 2288.2 678.8 2287.7C680.0 2287.1 681.3 2286.6 682.5 2286.1C683.7 2285.6 685.0 2285.1 686.2 2284.6C687.5 2284.2 688.7 2283.8 690.0 2283.3C691.3 2282.9 692.6 2282.5 693.9 2282.2C695.1 2281.8 696.4 2281.5 697.7 2281.2C699.1 2281.0 700.4 2280.7 701.7 2280.6C703.0 2280.5 704.4 2280.5 705.7 2280.6C707.0 2280.7 708.4 2280.9 709.7 2281.2C711.0 2281.5 712.3 2281.8 713.5 2282.2C714.8 2282.7 716.1 2283.2 717.3 2283.7C718.5 2284.3 719.7 2284.9 720.8 2285.6C722.0 2286.2 723.1 2286.9 724.2 2287.7C725.3 2288.5 726.4 2289.3 727.4 2290.1C728.5 2290.9 729.5 2291.8 730.5 2292.7C731.4 2293.6 732.4 2294.6 733.3 2295.5C734.2 2296.5 735.1 2297.5 736.0 2298.5C736.9 2299.5 737.7 2300.6 738.5 2301.6C739.3 2302.7 740.1 2303.8 740.9 2304.8C741.7 2305.9 742.4 2307.1 743.1 2308.2C743.8 2309.3 744.5 2310.5 745.2 2311.6C745.9 2312.8 746.5 2313.9 747.1 2315.1C747.8 2316.3 748.4 2317.5 748.9 2318.7C749.5 2319.9 750.1 2321.1 750.6 2322.3C751.2 2323.5 751.7 2324.8 752.2 2326.0C752.7 2327.2 753.2 2328.5 753.7 2329.7C754.2 2331.0 754.6 2332.2 755.1 2333.5C755.5 2334.8 756.0 2336.0 756.4 2337.3C756.8 2338.5 757.3 2339.8 757.7 2341.1C758.1 2342.4 758.5 2343.6 758.9 2344.9C759.3 2346.2 759.7 2347.5 760.0 2348.7C760.4 2350.0 760.8 2351.3 761.1 2352.6C761.5 2353.9 761.9 2355.2 762.2 2356.5C762.6 2357.7 762.9 2359.0 763.2 2360.3C763.6 2361.6 763.9 2362.9 764.2 2364.2C764.5 2365.5 764.8 2366.8 765.1 2368.1C765.4 2369.4 765.7 2370.7 766.0 2372.0C766.3 2373.3 766.6 2374.6 766.9 2375.9C767.1 2377.3 767.4 2378.6 767.7 2379.9C767.9 2381.2 768.2 2382.5 768.5 2383.8C768.7 2385.1 769.0 2386.4 769.2 2387.7C769.4 2389.1 769.7 2390.4 769.9 2391.7C770.2 2393.0 770.4 2394.3 770.6 2395.6C770.8 2396.9 771.0 2398.3 771.3 2399.6C771.5 2400.9 771.7 2402.2 771.9 2403.5C772.1 2404.9 772.3 2406.2 772.5 2407.5C772.7 2408.8 772.9 2410.1 773.1 2411.5C773.3 2412.8 773.5 2414.1 773.7 2415.4C773.9 2416.8 774.1 2418.1 774.2 2419.4C774.4 2420.7 774.6 2422.0 774.8 2423.4C775.0 2424.7 775.1 2426.0 775.3 2427.3C775.5 2428.7 775.7 2430.0 775.8 2431.3C776.0 2432.6 776.2 2434.0 776.3 2435.3C776.5 2436.6 776.7 2437.9 776.8 2439.3C777.0 2440.6 777.2 2441.9 777.3 2443.3C777.5 2444.6 777.6 2445.9 777.8 2447.2C777.9 2448.6 778.1 2449.9 778.3 2451.2C778.4 2452.5 778.6 2453.9 778.7 2455.2C778.9 2456.5 779.0 2457.8 779.2 2459.2C779.3 2460.5 779.5 2461.8 779.7 2463.2C779.8 2464.5 780.0 2465.8 780.1 2467.1C780.3 2468.5 780.4 2469.8 780.6 2471.1C780.7 2472.4 780.9 2473.8 781.0 2475.1C781.2 2476.4 781.3 2477.8 781.5 2479.1C781.7 2480.4 781.8 2481.7 782.0 2483.1C782.1 2484.4 782.3 2485.7 782.5 2487.0C782.6 2488.4 782.8 2489.7 782.9 2491.0C783.1 2492.3 783.3 2493.7 783.4 2495.0C783.6 2496.3 783.7 2497.6 783.9 2499.0C784.1 2500.3 784.2 2501.6 784.4 2503.0C784.6 2504.3 784.7 2505.6 784.9 2506.9C785.1 2508.3 785.2 2509.6 785.4 2510.9C785.5 2512.2 785.7 2513.6 785.9 2514.9C786.0 2516.2 786.2 2517.5 786.4 2518.9C786.5 2520.2 786.7 2521.5 786.9 2522.8C787.0 2524.2 787.2 2525.5 787.4 2526.8C787.5 2528.1 787.7 2529.5 787.9 2530.8C788.0 2532.1 788.2 2533.4 788.4 2534.8C788.5 2536.1 788.7 2537.4 788.8 2538.7C789.0 2540.1 789.2 2541.4 789.3 2542.7C789.5 2544.1 789.7 2545.4 789.8 2546.7C790.0 2548.0 790.2 2549.4 790.3 2550.7C790.5 2552.0 790.6 2553.3 790.8 2554.7C791.0 2556.0 791.1 2557.3 791.3 2558.6C791.4 2560.0 791.6 2561.3 791.8 2562.6C791.9 2563.9 792.1 2565.3 792.2 2566.6C792.4 2567.9 792.6 2569.3 792.7 2570.6C792.9 2571.9 793.0 2573.2 793.2 2574.6C793.3 2575.9 793.5 2577.2 793.6 2578.5C793.8 2579.9 794.0 2581.2 794.1 2582.5C794.3 2583.8 794.4 2585.2 794.6 2586.5C794.7 2587.8 794.9 2589.2 795.0 2590.5C795.2 2591.8 795.3 2593.1 795.4 2594.5C795.6 2595.8 795.7 2597.1 795.9 2598.5C796.0 2599.8 796.2 2601.1 796.3 2602.4C796.4 2603.8 796.6 2605.1 796.7 2606.4C796.9 2607.8 797.0 2609.1 797.1 2610.4C797.3 2611.7 797.4 2613.1 797.5 2614.4C797.7 2615.7 797.8 2617.1 797.9 2618.4C798.1 2619.7 798.2 2621.0 798.3 2622.4C798.5 2623.7 798.6 2625.0 798.7 2626.4C798.8 2627.7 799.0 2629.0 799.1 2630.4C799.2 2631.7 799.3 2633.0 799.5 2634.3C799.6 2635.7 799.7 2637.0 799.8 2638.3C800.0 2639.7 800.1 2641.0 800.2 2642.3C800.3 2643.7 800.4 2645.0 800.5 2646.3C800.7 2647.7 800.8 2649.0 800.9 2650.3C801.0 2651.6 801.1 2653.0 801.2 2654.3C801.4 2655.6 801.5 2657.0 801.6 2658.3C801.7 2659.6 801.8 2661.0 801.9 2662.3C802.0 2663.6 802.2 2665.0 802.3 2666.3C802.4 2667.6 802.5 2669.0 802.6 2670.3C802.7 2671.6 802.8 2672.9 802.9 2674.3C803.0 2675.6 803.1 2676.9 803.2 2678.3C803.3 2679.6 803.5 2680.9 803.6 2682.3C803.7 2683.6 803.8 2684.9 803.9 2686.3C804.0 2687.6 804.1 2688.9 804.2 2690.3C804.3 2691.6 804.4 2692.9 804.5 2694.3C804.6 2695.6 804.7 2696.9 804.8 2698.3C804.9 2699.6 805.0 2700.9 805.1 2702.2C805.2 2703.6 805.3 2704.9 805.4 2706.2C805.5 2707.6 805.6 2708.9 805.7 2710.2C805.8 2711.6 805.9 2712.9 806.0 2714.2C806.1 2715.6 806.2 2716.9 806.3 2718.2C806.4 2719.6 806.5 2720.9 806.6 2722.2C806.7 2723.6 806.8 2724.9 806.9 2726.2C807.0 2727.6 807.1 2728.9 807.2 2730.2C807.3 2731.6 807.4 2732.9 807.5 2734.2C807.6 2735.6 807.7 2736.9 807.8 2738.2C807.9 2739.6 808.0 2740.9 808.1 2742.2C808.2 2743.5 808.3 2744.9 808.4 2746.2C808.5 2747.5 808.6 2748.9 808.7 2750.2C808.8 2751.5 808.9 2752.9 809.0 2754.2C809.1 2755.5 809.2 2756.9 809.3 2758.2C809.4 2759.5 809.5 2760.9 809.6 2762.2C809.7 2763.5 809.8 2764.9 809.9 2766.2C810.0 2767.5 810.1 2768.9 810.2 2770.2C810.3 2771.5 810.4 2772.9 810.5 2774.2C810.6 2775.5 810.7 2776.9 810.8 2778.2C810.9 2779.5 811.0 2780.9 811.1 2782.2C811.2 2783.5 811.3 2784.8 811.4 2786.2C811.5 2787.5 811.6 2788.8 811.7 2790.2C811.8 2791.5 811.9 2792.8 812.0 2794.2C812.1 2795.5 812.2 2796.8 812.3 2798.2C812.5 2799.5 812.6 2800.8 812.7 2802.2C812.8 2803.5 812.9 2804.8 813.0 2806.2C813.1 2807.5 813.2 2808.8 813.3 2810.2C813.4 2811.5 813.5 2812.8 813.7 2814.1C813.8 2815.5 813.9 2816.8 814.0 2818.1C814.1 2819.5 814.2 2820.8 814.3 2822.1C814.4 2823.5 814.6 2824.8 814.7 2826.1C814.8 2827.5 814.9 2828.8 815.0 2830.1C815.1 2831.4 815.2 2832.8 815.4 2834.1C815.5 2835.4 815.6 2836.8 815.7 2838.1C815.8 2839.4 816.0 2840.8 816.1 2842.1C816.2 2843.4 816.3 2844.8 816.4 2846.1C816.6 2847.4 816.7 2848.7 816.8 2850.1C816.9 2851.4 817.1 2852.7 817.2 2854.1C817.3 2855.4 817.4 2856.7 817.6 2858.1C817.7 2859.4 817.8 2860.7 818.0 2862.0C818.1 2863.4 818.2 2864.7 818.3 2866.0C818.5 2867.4 818.6 2868.7 818.7 2870.0C818.9 2871.4 819.0 2872.7 819.1 2874.0C819.3 2875.3 819.4 2876.7 819.5 2878.0C819.7 2879.3 819.8 2880.7 820.0 2882.0C820.1 2883.3 820.2 2884.6 820.4 2886.0C820.5 2887.3 820.7 2888.6 820.8 2890.0C820.9 2891.3 821.1 2892.6 821.2 2893.9C821.4 2895.3 821.5 2896.6 821.7 2897.9C821.8 2899.3 821.9 2900.6 822.1 2901.9C822.2 2903.2 822.4 2904.6 822.5 2905.9C822.7 2907.2 822.8 2908.6 823.0 2909.9C823.1 2911.2 823.3 2912.5 823.5 2913.9C823.6 2915.2 823.8 2916.5 824.0 2917.8C824.1 2919.2 824.3 2920.5 824.5 2921.8C824.8 2923.1 825.0 2924.4 825.3 2925.7C825.6 2927.0 825.9 2928.3 826.2 2929.6C826.6 2930.9 827.0 2932.2 827.5 2933.4C827.9 2934.7 828.3 2936.0 829.0 2937.2C829.6 2938.3 830.4 2940.1 831.3 2940.3C832.2 2940.5 833.7 2939.3 834.5 2938.5C835.4 2937.6 836.0 2936.2 836.6 2935.0C837.2 2933.8 837.7 2932.6 838.2 2931.3C838.6 2930.1 839.0 2928.8 839.4 2927.5C839.7 2926.2 840.0 2924.9 840.2 2923.6C840.5 2922.3 840.7 2921.0 840.8 2919.6C841.0 2918.3 841.1 2917.0 841.2 2915.7C841.4 2914.3 841.5 2913.0 841.5 2911.7C841.6 2910.3 841.7 2909.0 841.8 2907.7C841.9 2906.3 842.0 2905.0 842.1 2903.7C842.2 2902.3 842.3 2901.0 842.4 2899.7C842.5 2898.3 842.7 2897.0 842.8 2895.7C843.0 2894.4 843.1 2893.0 843.2 2891.7C843.4 2890.4 843.6 2889.0 843.7 2887.7C843.9 2886.4 844.1 2885.1 844.2 2883.7C844.4 2882.4 844.6 2881.1 844.8 2879.8C844.9 2878.4 845.1 2877.1 845.3 2875.8C845.5 2874.5 845.7 2873.2 845.9 2871.8C846.1 2870.5 846.3 2869.2 846.5 2867.9C846.6 2866.5 846.8 2865.2 847.0 2863.9C847.2 2862.6 847.4 2861.3 847.6 2859.9C847.8 2858.6 848.0 2857.3 848.2 2856.0C848.4 2854.6 848.6 2853.3 848.7 2852.0C848.9 2850.7 849.1 2849.4 849.3 2848.0C849.5 2846.7 849.7 2845.4 849.9 2844.1C850.1 2842.7 850.3 2841.4 850.5 2840.1C850.7 2838.8 850.9 2837.5 851.0 2836.1C851.2 2834.8 851.4 2833.5 851.6 2832.2C851.8 2830.8 852.0 2829.5 852.2 2828.2C852.4 2826.9 852.6 2825.6 852.8 2824.2C853.0 2822.9 853.2 2821.6 853.4 2820.3C853.5 2818.9 853.7 2817.6 853.9 2816.3C854.1 2815.0 854.3 2813.7 854.5 2812.3C854.7 2811.0 854.9 2809.7 855.1 2808.4C855.3 2807.0 855.4 2805.7 855.6 2804.4C855.8 2803.1 856.0 2801.8 856.2 2800.4C856.4 2799.1 856.6 2797.8 856.8 2796.5C857.0 2795.1 857.2 2793.8 857.3 2792.5C857.5 2791.2 857.7 2789.8 857.9 2788.5C858.1 2787.2 858.3 2785.9 858.5 2784.6C858.6 2783.2 858.8 2781.9 859.0 2780.6C859.2 2779.3 859.4 2777.9 859.6 2776.6C859.8 2775.3 859.9 2774.0 860.1 2772.6C860.3 2771.3 860.5 2770.0 860.7 2768.7C860.9 2767.4 861.0 2766.0 861.2 2764.7C861.4 2763.4 861.6 2762.1 861.8 2760.7C861.9 2759.4 862.1 2758.1 862.3 2756.8C862.5 2755.4 862.7 2754.1 862.8 2752.8C863.0 2751.5 863.2 2750.1 863.4 2748.8C863.5 2747.5 863.7 2746.2 863.9 2744.8C864.1 2743.5 864.2 2742.2 864.4 2740.9C864.6 2739.5 864.7 2738.2 864.9 2736.9C865.1 2735.6 865.3 2734.2 865.4 2732.9C865.6 2731.6 865.8 2730.3 865.9 2728.9C866.1 2727.6 866.3 2726.3 866.4 2725.0C866.6 2723.6 866.8 2722.3 866.9 2721.0C867.1 2719.7 867.2 2718.3 867.4 2717.0C867.6 2715.7 867.7 2714.4 867.9 2713.0C868.0 2711.7 868.2 2710.4 868.4 2709.1C868.5 2707.7 868.7 2706.4 868.8 2705.1C869.0 2703.7 869.1 2702.4 869.3 2701.1C869.4 2699.8 869.6 2698.4 869.7 2697.1C869.9 2695.8 870.0 2694.5 870.2 2693.1C870.3 2691.8 870.5 2690.5 870.6 2689.1C870.8 2687.8 870.9 2686.5 871.0 2685.2C871.2 2683.8 871.3 2682.5 871.5 2681.2C871.6 2679.8 871.8 2678.5 871.9 2677.2C872.0 2675.9 872.2 2674.5 872.3 2673.2C872.4 2671.9 872.6 2670.5 872.7 2669.2C872.9 2667.9 873.0 2666.6 873.1 2665.2C873.3 2663.9 873.4 2662.6 873.5 2661.2C873.7 2659.9 873.8 2658.6 873.9 2657.2C874.1 2655.9 874.2 2654.6 874.3 2653.3C874.4 2651.9 874.6 2650.6 874.7 2649.3C874.8 2647.9 875.0 2646.6 875.1 2645.3C875.2 2644.0 875.3 2642.6 875.5 2641.3C875.6 2640.0 875.7 2638.6 875.9 2637.3C876.0 2636.0 876.1 2634.6 876.2 2633.3C876.4 2632.0 876.5 2630.7 876.6 2629.3C876.8 2628.0 876.9 2626.7 877.0 2625.3C877.1 2624.0 877.3 2622.7 877.4 2621.3C877.5 2620.0 877.6 2618.7 877.8 2617.4C877.9 2616.0 878.0 2614.7 878.2 2613.4C878.3 2612.0 878.4 2610.7 878.5 2609.4C878.7 2608.0 878.8 2606.7 878.9 2605.4C879.1 2604.1 879.2 2602.7 879.3 2601.4C879.4 2600.1 879.6 2598.7 879.7 2597.4C879.8 2596.1 880.0 2594.7 880.1 2593.4C880.2 2592.1 880.4 2590.8 880.5 2589.4C880.6 2588.1 880.8 2586.8 880.9 2585.4C881.0 2584.1 881.2 2582.8 881.3 2581.5C881.4 2580.1 881.6 2578.8 881.7 2577.5C881.9 2576.1 882.0 2574.8 882.1 2573.5C882.3 2572.2 882.4 2570.8 882.5 2569.5C882.7 2568.2 882.8 2566.8 883.0 2565.5C883.1 2564.2 883.3 2562.9 883.4 2561.5C883.6 2560.2 883.7 2558.9 883.8 2557.5C884.0 2556.2 884.1 2554.9 884.3 2553.6C884.4 2552.2 884.6 2550.9 884.7 2549.6C884.9 2548.3 885.1 2546.9 885.2 2545.6C885.4 2544.3 885.5 2542.9 885.7 2541.6C885.8 2540.3 886.0 2539.0 886.2 2537.6C886.3 2536.3 886.5 2535.0 886.7 2533.7C886.8 2532.3 887.0 2531.0 887.2 2529.7C887.3 2528.4 887.5 2527.0 887.7 2525.7C887.8 2524.4 888.0 2523.1 888.2 2521.7C888.4 2520.4 888.5 2519.1 888.7 2517.8C888.9 2516.4 889.1 2515.1 889.3 2513.8C889.4 2512.5 889.6 2511.1 889.8 2509.8C890.0 2508.5 890.2 2507.2 890.4 2505.9C890.6 2504.5 890.8 2503.2 891.0 2501.9C891.1 2500.6 891.3 2499.2 891.5 2497.9C891.7 2496.6 892.0 2495.3 892.2 2494.0C892.4 2492.6 892.6 2491.3 892.8 2490.0C893.0 2488.7 893.2 2487.4 893.4 2486.0C893.7 2484.7 893.9 2483.4 894.1 2482.1C894.4 2480.8 894.6 2479.5 894.8 2478.2C895.1 2476.8 895.3 2475.5 895.6 2474.2C895.8 2472.9 896.1 2471.6 896.3 2470.3C896.6 2469.0 896.8 2467.7 897.1 2466.3C897.4 2465.0 897.7 2463.7 897.9 2462.4C898.2 2461.1 898.5 2459.8 898.8 2458.5C899.1 2457.2 899.4 2455.9 899.7 2454.6C900.0 2453.3 900.3 2452.0 900.6 2450.7C900.9 2449.4 901.3 2448.1 901.6 2446.8C901.9 2445.5 902.3 2444.2 902.6 2442.9C903.0 2441.7 903.3 2440.4 903.7 2439.1C904.0 2437.8 904.4 2436.5 904.8 2435.2C905.2 2433.9 905.6 2432.7 905.9 2431.4C906.3 2430.1 906.7 2428.8 907.2 2427.6C907.6 2426.3 908.0 2425.0 908.5 2423.8C908.9 2422.5 909.4 2421.3 909.8 2420.0C910.3 2418.8 910.8 2417.5 911.3 2416.3C911.8 2415.0 912.3 2413.8 912.8 2412.6C913.4 2411.4 913.9 2410.1 914.5 2408.9C915.1 2407.7 915.7 2406.5 916.3 2405.3C916.9 2404.2 917.5 2403.0 918.2 2401.8C918.8 2400.6 919.5 2399.5 920.2 2398.3C920.9 2397.2 921.6 2396.1 922.3 2395.0C923.1 2393.9 923.8 2392.8 924.6 2391.7C925.4 2390.6 926.2 2389.5 927.0 2388.5C927.9 2387.4 928.7 2386.4 929.6 2385.4C930.5 2384.4 931.4 2383.4 932.4 2382.5C933.3 2381.6 934.3 2380.7 935.4 2379.8C936.4 2379.0 937.5 2378.2 938.6 2377.5C939.7 2376.7 940.9 2376.0 942.1 2375.4C943.3 2374.9 944.5 2374.3 945.8 2373.9C947.0 2373.5 948.3 2373.2 949.7 2373.0C951.0 2372.8 952.3 2372.7 953.6 2372.7C955.0 2372.7 956.3 2372.8 957.6 2372.9C959.0 2373.1 960.3 2373.4 961.6 2373.8C962.8 2374.1 964.1 2374.6 965.3 2375.1C966.5 2375.7 967.7 2376.3 968.8 2377.0C970.0 2377.7 971.1 2378.5 972.2 2379.3C973.3 2380.0 974.4 2380.8 975.5 2381.5C976.6 2382.2 977.8 2383.0 978.9 2383.6C980.1 2384.2 981.3 2384.7 982.6 2385.2C983.8 2385.7 985.1 2386.1 986.4 2386.4C987.7 2386.8 989.0 2387.0 990.3 2387.2C991.7 2387.4 993.0 2387.5 994.3 2387.4C995.7 2387.4 997.0 2387.2 998.3 2387.0C999.6 2386.7 1000.9 2386.4 1002.2 2385.9C1003.4 2385.5 1004.7 2385.0 1005.9 2384.4C1007.1 2383.8 1008.2 2383.1 1009.3 2382.4C1010.5 2381.7 1011.6 2380.9 1012.6 2380.1C1013.7 2379.3 1014.7 2378.5 1015.7 2377.6C1016.8 2376.7 1017.8 2375.8 1018.7 2374.9C1019.7 2374.0 1020.7 2373.1 1021.6 2372.1C1022.5 2371.2 1023.5 2370.2 1024.4 2369.2C1025.3 2368.2 1026.2 2367.2 1027.1 2366.2C1027.9 2365.2 1028.8 2364.2 1029.7 2363.2C1030.6 2362.2 1031.4 2361.2 1032.3 2360.1C1033.1 2359.1 1034.0 2358.1 1034.8 2357.0C1035.6 2356.0 1036.5 2355.0 1037.3 2353.9C1038.1 2352.9 1039.0 2351.8 1039.8 2350.8C1040.7 2349.8 1041.5 2348.7 1042.3 2347.7C1043.2 2346.6 1044.0 2345.6 1044.9 2344.6C1045.7 2343.6 1046.6 2342.5 1047.5 2341.5C1048.3 2340.5 1049.2 2339.5 1050.1 2338.5C1051.0 2337.5 1051.9 2336.5 1052.8 2335.6C1053.8 2334.6 1054.7 2333.6 1055.7 2332.7C1056.6 2331.8 1057.6 2330.9 1058.6 2330.0C1059.6 2329.1 1060.6 2328.2 1061.6 2327.3C1062.6 2326.5 1063.7 2325.7 1064.8 2324.9C1065.8 2324.1 1066.9 2323.3 1068.0 2322.6C1069.1 2321.8 1070.3 2321.1 1071.4 2320.4C1072.6 2319.7 1073.7 2319.1 1074.9 2318.4C1076.1 2317.8 1077.2 2317.2 1078.4 2316.5C1079.6 2315.9 1080.8 2315.4 1082.0 2314.8C1083.2 2314.2 1084.5 2313.6 1085.7 2313.1C1086.9 2312.5 1088.1 2312.0 1089.3 2311.5C1090.6 2310.9 1091.8 2310.4 1093.0 2309.9C1094.3 2309.4 1095.5 2308.9 1096.7 2308.4C1098.0 2307.9 1099.2 2307.4 1100.4 2306.9C1101.7 2306.4 1102.9 2305.8 1104.1 2305.3C1105.4 2304.8 1106.6 2304.3 1107.9 2303.8C1109.1 2303.3 1110.3 2302.8 1111.6 2302.3C1112.8 2301.8 1114.0 2301.3 1115.3 2300.8C1116.5 2300.3 1117.8 2299.8 1119.0 2299.3C1120.3 2298.9 1121.5 2298.4 1122.8 2297.9C1124.0 2297.5 1125.3 2297.1 1126.6 2296.6C1127.8 2296.2 1129.1 2295.8 1130.4 2295.4C1131.7 2295.0 1132.9 2294.7 1134.2 2294.3C1135.5 2294.0 1136.8 2293.7 1138.1 2293.4C1139.4 2293.1 1140.7 2292.8 1142.1 2292.6C1143.4 2292.4 1144.7 2292.2 1146.0 2292.0C1147.3 2291.8 1148.7 2291.6 1150.0 2291.5C1151.3 2291.3 1152.7 2291.2 1154.0 2291.1C1155.3 2291.0 1156.6 2290.9 1158.0 2290.8C1159.3 2290.7 1160.6 2290.6 1162.0 2290.5C1163.3 2290.4 1164.6 2290.4 1166.0 2290.3C1167.3 2290.2 1168.7 2290.2 1170.0 2290.1C1171.3 2290.1 1172.7 2290.0 1174.0 2289.9C1175.3 2289.8 1176.7 2289.8 1178.0 2289.7C1179.3 2289.6 1180.7 2289.5 1182.0 2289.4C1183.3 2289.3 1184.7 2289.2 1186.0 2289.1C1187.3 2288.9 1188.6 2288.8 1190.0 2288.6C1191.3 2288.5 1192.6 2288.3 1193.9 2288.1C1195.3 2287.9 1196.6 2287.7 1197.9 2287.5C1199.2 2287.3 1200.5 2287.0 1201.8 2286.7C1203.1 2286.5 1204.4 2286.2 1205.7 2285.9C1207.1 2285.6 1208.3 2285.3 1209.6 2284.9C1210.9 2284.6 1212.2 2284.3 1213.5 2283.9C1214.8 2283.6 1216.1 2283.2 1217.4 2282.9C1218.7 2282.5 1220.0 2282.1 1221.2 2281.7C1222.5 2281.4 1223.8 2281.0 1225.1 2280.6C1226.4 2280.2 1227.6 2279.8 1228.9 2279.5C1230.2 2279.1 1231.5 2278.7 1232.8 2278.3C1234.0 2277.9 1235.3 2277.6 1236.6 2277.2C1237.9 2276.8 1239.2 2276.5 1240.5 2276.1C1241.7 2275.7 1243.0 2275.4 1244.3 2275.0C1245.6 2274.7 1246.9 2274.3 1248.2 2274.0C1249.5 2273.7 1250.8 2273.3 1252.1 2273.0C1253.4 2272.7 1254.7 2272.4 1256.0 2272.1C1257.3 2271.8 1258.6 2271.5 1259.9 2271.2C1261.2 2270.9 1262.5 2270.6 1263.8 2270.4C1265.1 2270.1 1266.4 2269.8 1267.7 2269.6C1269.1 2269.3 1270.4 2269.1 1271.7 2268.9C1273.0 2268.6 1274.3 2268.4 1275.6 2268.2C1277.0 2268.0 1278.3 2267.8 1279.6 2267.6C1280.9 2267.4 1282.2 2267.2 1283.6 2267.0C1284.9 2266.9 1286.2 2266.7 1287.5 2266.5C1288.9 2266.4 1290.2 2266.2 1291.5 2266.1C1292.9 2265.9 1294.2 2265.8 1295.5 2265.7C1296.8 2265.5 1298.2 2265.4 1299.5 2265.3C1300.8 2265.2 1302.2 2265.0 1303.5 2264.9C1304.8 2264.8 1306.2 2264.7 1307.5 2264.6C1308.8 2264.6 1310.2 2264.5 1311.5 2264.4C1312.8 2264.3 1314.2 2264.2 1315.5 2264.2C1316.8 2264.1 1318.2 2264.0 1319.5 2264.0C1320.8 2263.9 1322.2 2263.8 1323.5 2263.8C1324.8 2263.7 1326.2 2263.7 1327.5 2263.6C1328.8 2263.6 1330.2 2263.6 1331.5 2263.5C1332.8 2263.5 1334.2 2263.5 1335.5 2263.4C1336.9 2263.4 1338.2 2263.4 1339.5 2263.4C1340.9 2263.3 1342.2 2263.3 1343.5 2263.3C1344.9 2263.3 1346.2 2263.3 1347.5 2263.3C1348.9 2263.3 1350.2 2263.2 1351.6 2263.2C1352.9 2263.2 1354.2 2263.2 1355.6 2263.2C1356.9 2263.2 1358.2 2263.2 1359.6 2263.2C1360.9 2263.2 1362.2 2263.2 1363.6 2263.2C1364.9 2263.2 1366.2 2263.2 1367.6 2263.2C1368.9 2263.3 1370.3 2263.3 1371.6 2263.3C1372.9 2263.3 1374.3 2263.3 1375.6 2263.3C1376.9 2263.3 1378.3 2263.3 1379.6 2263.3C1380.9 2263.3 1382.3 2263.3 1383.6 2263.3C1384.9 2263.3 1386.3 2263.3 1387.6 2263.3C1389.0 2263.4 1390.3 2263.4 1391.6 2263.4C1393.0 2263.4 1394.3 2263.4 1395.6 2263.4C1397.0 2263.4 1398.3 2263.4 1399.6 2263.4C1401.0 2263.4 1402.3 2263.4 1403.7 2263.4C1405.0 2263.4 1406.3 2263.4 1407.7 2263.5C1409.0 2263.5 1410.3 2263.5 1411.7 2263.5C1413.0 2263.5 1414.3 2263.5 1415.7 2263.5C1417.0 2263.5 1418.3 2263.5 1419.7 2263.5C1421.0 2263.5 1422.4 2263.5 1423.7 2263.5C1425.0 2263.5 1426.4 2263.5 1427.7 2263.6C1429.0 2263.6 1430.4 2263.6 1431.7 2263.6C1433.0 2263.6 1434.4 2263.6 1435.7 2263.6C1437.1 2263.6 1438.4 2263.6 1439.7 2263.6C1441.1 2263.6 1442.4 2263.6 1443.7 2263.6C1445.1 2263.6 1446.4 2263.6 1447.7 2263.6C1449.1 2263.6 1450.4 2263.6 1451.7 2263.6C1453.1 2263.6 1454.4 2263.6 1455.8 2263.7C1457.1 2263.7 1458.4 2263.7 1459.8 2263.7C1461.1 2263.7 1462.4 2263.7 1463.8 2263.7C1465.1 2263.7 1466.4 2263.8 1467.8 2263.8C1469.1 2263.9 1470.4 2263.9 1471.8 2264.0C1473.1 2264.1 1474.4 2264.2 1475.8 2264.3C1477.1 2264.4 1478.4 2264.6 1479.8 2264.8C1481.1 2264.9 1482.4 2265.2 1483.7 2265.4C1485.0 2265.6 1486.3 2265.9 1487.6 2266.2C1488.9 2266.5 1490.2 2266.8 1491.5 2267.1C1492.8 2267.5 1494.1 2267.8 1495.4 2268.2C1496.7 2268.5 1498.0 2268.9 1499.3 2269.2C1500.6 2269.5 1501.9 2269.9 1503.2 2270.2C1504.5 2270.6 1505.7 2270.9 1507.1 2271.2C1508.4 2271.5 1509.7 2271.8 1511.0 2272.0C1512.3 2272.3 1513.6 2272.5 1514.9 2272.7C1516.2 2272.9 1517.6 2273.1 1518.9 2273.3C1520.2 2273.5 1521.5 2273.6 1522.9 2273.7C1524.2 2273.8 1525.5 2274.0 1526.9 2274.0C1528.2 2274.1 1529.5 2274.2 1530.9 2274.3C1532.2 2274.3 1533.5 2274.3 1534.9 2274.4C1536.2 2274.4 1537.5 2274.4 1538.9 2274.4C1540.2 2274.4 1541.6 2274.4 1542.9 2274.3C1544.2 2274.3 1545.6 2274.3 1546.9 2274.3C1548.2 2274.2 1549.6 2274.2 1550.9 2274.2C1552.2 2274.2 1553.6 2274.1 1554.9 2274.1C1556.2 2274.1 1557.6 2274.1 1558.9 2274.1C1560.3 2274.1 1561.6 2274.1 1562.9 2274.1C1564.3 2274.2 1565.6 2274.2 1566.9 2274.3C1568.3 2274.3 1569.6 2274.4 1570.9 2274.5C1572.3 2274.6 1573.6 2274.7 1574.9 2274.8C1576.3 2274.9 1577.6 2275.0 1578.9 2275.1C1580.3 2275.3 1581.6 2275.4 1582.9 2275.5C1584.2 2275.6 1585.6 2275.8 1586.9 2275.9C1588.2 2276.0 1589.6 2276.1 1590.9 2276.3C1592.2 2276.4 1593.6 2276.5 1594.9 2276.6C1596.2 2276.7 1597.6 2276.8 1598.9 2276.8C1600.2 2276.9 1601.6 2277.0 1602.9 2277.0C1604.2 2277.1 1605.6 2277.1 1606.9 2277.1C1608.2 2277.1 1609.6 2277.1 1610.9 2277.1C1612.2 2277.1 1613.6 2277.0 1614.9 2277.0C1616.2 2277.0 1617.6 2276.9 1618.9 2276.8C1620.3 2276.8 1621.6 2276.7 1622.9 2276.6C1624.3 2276.5 1625.6 2276.4 1626.9 2276.3C1628.2 2276.2 1629.6 2276.1 1630.9 2276.0C1632.2 2275.9 1633.6 2275.8 1634.9 2275.7C1636.2 2275.5 1637.6 2275.4 1638.9 2275.3C1640.2 2275.2 1641.6 2275.1 1642.9 2274.9C1644.2 2274.8 1645.6 2274.7 1646.9 2274.6C1648.2 2274.4 1649.5 2274.3 1650.9 2274.1C1652.2 2273.9 1653.5 2273.8 1654.8 2273.5C1656.2 2273.3 1657.5 2273.1 1658.8 2272.8C1660.1 2272.6 1661.4 2272.3 1662.7 2272.0C1664.0 2271.6 1665.3 2271.3 1666.5 2270.9C1667.8 2270.5 1669.1 2270.0 1670.3 2269.6C1671.6 2269.1 1672.8 2268.6 1674.1 2268.1C1675.3 2267.6 1676.5 2267.1 1677.8 2266.6C1679.0 2266.1 1680.3 2265.6 1681.5 2265.1C1682.8 2264.7 1684.0 2264.2 1685.3 2263.8C1686.6 2263.4 1687.8 2263.0 1689.1 2262.6C1690.4 2262.3 1691.7 2261.9 1693.0 2261.6C1694.3 2261.3 1695.6 2261.0 1696.9 2260.8C1698.2 2260.5 1699.5 2260.3 1700.9 2260.1C1702.2 2259.9 1703.5 2259.8 1704.8 2259.7C1706.2 2259.5 1707.5 2259.4 1708.8 2259.3C1710.2 2259.2 1711.5 2259.1 1712.8 2259.0C1714.2 2258.9 1715.5 2258.8 1716.8 2258.6C1718.2 2258.5 1719.5 2258.3 1720.8 2258.2C1722.1 2258.0 1723.4 2257.7 1724.8 2257.5C1726.1 2257.3 1727.4 2257.0 1728.7 2256.8C1730.0 2256.5 1731.3 2256.3 1732.6 2256.0C1734.0 2255.8 1735.3 2255.6 1736.6 2255.4C1737.9 2255.3 1739.3 2255.1 1740.6 2255.0C1741.9 2255.0 1743.3 2255.0 1744.6 2255.0C1745.9 2255.0 1747.3 2255.1 1748.6 2255.2C1749.9 2255.4 1751.3 2255.5 1752.6 2255.7C1753.9 2255.9 1755.2 2256.1 1756.6 2256.2C1757.9 2256.4 1759.2 2256.6 1760.5 2256.7C1761.9 2256.8 1763.2 2256.9 1764.5 2257.0C1765.9 2257.1 1767.2 2257.1 1768.5 2257.1C1769.9 2257.1 1771.2 2257.1 1772.5 2257.1C1773.9 2257.1 1775.2 2257.0 1776.5 2257.0C1777.9 2256.9 1779.2 2256.8 1780.5 2256.7C1781.9 2256.6 1783.2 2256.5 1784.5 2256.4C1785.9 2256.3 1787.2 2256.2 1788.5 2256.1C1789.9 2256.0 1791.2 2255.8 1792.5 2255.7C1793.9 2255.6 1795.2 2255.5 1796.5 2255.4C1797.9 2255.3 1799.2 2255.2 1800.5 2255.1C1801.9 2255.0 1803.2 2255.0 1804.5 2254.9C1805.9 2254.9 1807.2 2254.8 1808.5 2254.8C1809.9 2254.8 1811.2 2254.8 1812.5 2254.8C1813.9 2254.8 1815.2 2254.9 1816.5 2255.0" fill="none" stroke="#000000" stroke-width="5.5" stroke-linecap="round" stroke-linejoin="round"/>
<path d="M440.2 2270.4C440.5 2269.0 440.3 2266.9 441.1 2266.0C441.9 2265.1 443.8 2264.8 445.1 2264.9C446.4 2265.0 447.7 2266.2 449.0 2266.7C450.3 2267.2 451.7 2267.5 453.1 2267.9C454.5 2268.3 456.0 2268.4 457.3 2269.1C458.7 2269.9 459.9 2271.4 461.1 2272.7C462.3 2273.9 463.4 2275.4 464.5 2276.6C465.5 2277.7 466.6 2278.7 467.4 2279.8C468.2 2280.9 468.7 2282.2 469.4 2283.5C470.1 2284.7 470.5 2286.2 471.6 2287.2C472.7 2288.2 474.4 2288.7 475.9 2289.3C477.2 2289.9 478.8 2289.9 480.0 2290.6C481.1 2291.3 481.7 2292.6 482.6 2293.5C483.6 2294.6 484.4 2295.9 485.6 2296.6C486.8 2297.2 488.3 2297.2 489.7 2297.5C491.1 2297.8 492.8 2297.7 494.1 2298.5C495.4 2299.4 496.4 2301.2 497.3 2302.5C498.3 2303.9 498.9 2305.3 499.9 2306.6C500.8 2308.0 501.9 2309.4 503.1 2310.5C504.3 2311.6 505.7 2312.3 506.8 2313.3C507.8 2314.2 508.7 2315.2 509.6 2316.2C510.5 2317.2 511.1 2318.6 512.2 2319.3C513.3 2320.1 514.8 2320.0 516.1 2320.5C517.6 2321.0 519.3 2321.4 520.5 2322.3C521.8 2323.4 522.6 2325.3 523.7 2326.6C524.7 2327.8 525.5 2329.1 526.6 2330.0C527.6 2330.9 528.9 2331.4 530.1 2332.0C531.5 2332.7 533.0 2333.2 534.4 2333.8C535.8 2334.5 537.3 2335.2 538.7 2336.0C540.1 2336.8 541.5 2337.9 542.8 2338.7C544.2 2339.5 545.5 2340.4 546.9 2341.0C548.2 2341.5 549.7 2341.8 551.1 2342.1C552.6 2342.4 554.1 2342.5 555.6 2342.7C557.1 2342.9 558.7 2343.1 560.2 2343.2C561.6 2343.3 563.2 2343.6 564.6 2343.5C566.1 2343.4 567.6 2342.9 569.1 2342.4C570.6 2342.0 571.9 2341.0 573.4 2340.7C574.9 2340.4 576.4 2340.4 577.8 2340.6C579.3 2340.7 580.6 2341.5 582.0 2341.7C583.4 2342.0 584.9 2342.4 586.3 2342.3C587.7 2342.1 589.1 2341.4 590.5 2340.9C591.9 2340.3 593.1 2339.2 594.6 2338.7C596.0 2338.2 597.6 2337.9 599.1 2337.8C600.5 2337.7 602.1 2338.0 603.6 2338.1C605.0 2338.2 606.4 2338.5 607.9 2338.3C609.3 2338.2 610.7 2337.8 612.0 2337.2C613.5 2336.6 614.8 2335.6 616.1 2334.6C617.4 2333.6 618.5 2332.4 619.8 2331.4C621.0 2330.4 622.3 2329.4 623.6 2328.5C624.9 2327.6 626.3 2326.6 627.7 2325.9C629.1 2325.1 630.5 2324.4 632.0 2323.9C633.4 2323.5 634.9 2323.6 636.3 2323.2C637.7 2322.9 639.2 2322.5 640.5 2321.8C642.0 2321.0 643.3 2319.5 644.7 2318.7C646.1 2318.0 647.5 2317.3 649.0 2317.0C650.4 2316.7 651.9 2317.1 653.3 2316.9C654.8 2316.8 656.3 2316.3 657.7 2316.0C659.2 2315.7 660.6 2315.4 662.1 2315.1C663.5 2314.8 664.9 2314.6 666.3 2314.1C667.7 2313.6 669.0 2312.9 670.4 2312.1C671.8 2311.3 673.2 2310.1 674.7 2309.4C676.1 2308.8 677.6 2308.4 679.1 2308.3C680.6 2308.2 682.1 2308.9 683.6 2309.1C685.2 2309.2 686.7 2309.2 688.2 2309.1C689.7 2309.0 691.2 2308.6 692.7 2308.3C694.2 2308.1 695.7 2307.8 697.2 2307.7C698.7 2307.7 700.2 2307.8 701.7 2308.0C703.2 2308.1 704.7 2308.5 706.1 2308.8C707.6 2309.0 709.0 2309.4 710.4 2309.7C711.9 2309.9 713.5 2310.0 714.9 2310.2C716.4 2310.5 717.9 2310.8 719.3 2311.2C720.7 2311.5 722.1 2311.9 723.4 2312.3C724.8 2312.7 726.3 2313.0 727.7 2313.6C729.0 2314.1 730.3 2315.0 731.7 2315.5C733.0 2316.1 734.4 2316.9 735.8 2316.9C737.2 2316.8 738.7 2315.8 739.9 2315.0C741.2 2314.3 742.2 2312.8 743.5 2312.4C744.8 2312.0 746.3 2312.5 747.8 2312.3C749.2 2312.2 750.7 2311.8 752.1 2311.5C753.6 2311.2 755.1 2310.4 756.4 2310.7C757.7 2311.0 759.0 2312.1 759.9 2313.2C760.8 2314.3 761.1 2315.8 761.6 2317.1C762.2 2318.5 762.8 2319.8 763.4 2321.2C764.0 2322.6 764.6 2324.0 765.3 2325.4C765.9 2326.8 766.5 2328.3 767.2 2329.8C767.9 2331.2 768.7 2332.7 769.5 2334.0C770.3 2335.3 771.3 2336.5 772.1 2337.7C772.9 2339.0 773.7 2340.2 774.4 2341.5C775.0 2342.8 775.5 2344.2 776.0 2345.6C776.5 2347.0 776.9 2348.4 777.3 2349.8C777.7 2351.3 778.1 2352.7 778.5 2354.2C778.9 2355.6 779.3 2357.1 779.7 2358.6C780.1 2360.0 780.5 2361.5 780.9 2363.0C781.2 2364.4 781.6 2365.9 781.9 2367.4C782.3 2368.9 782.6 2370.3 782.9 2371.8C783.2 2373.3 783.6 2374.8 783.9 2376.3C784.2 2377.8 784.5 2379.3 784.8 2380.8C785.1 2382.3 785.4 2383.7 785.7 2385.2C786.0 2386.7 786.3 2388.2 786.6 2389.6C787.0 2391.1 787.3 2392.6 787.6 2394.1C787.9 2395.6 788.3 2397.1 788.6 2398.6C788.9 2400.1 789.2 2401.5 789.5 2403.0C789.8 2404.5 790.0 2406.0 790.2 2407.5C790.5 2409.0 790.7 2410.5 790.9 2412.0C791.1 2413.5 791.2 2415.0 791.4 2416.5C791.6 2418.0 791.8 2419.5 792.0 2421.0C792.2 2422.5 792.3 2424.0 792.5 2425.5C792.7 2427.1 793.0 2428.6 793.2 2430.1C793.4 2431.6 793.6 2433.1 793.8 2434.6C794.0 2436.1 794.2 2437.6 794.4 2439.1C794.6 2440.6 794.7 2442.1 794.9 2443.6C795.1 2445.1 795.2 2446.6 795.4 2448.1C795.5 2449.6 795.7 2451.2 795.8 2452.7C796.0 2454.2 796.1 2455.7 796.2 2457.2C796.4 2458.7 796.5 2460.2 796.7 2461.7C796.8 2463.2 797.0 2464.7 797.1 2466.3C797.3 2467.8 797.4 2469.3 797.6 2470.8C797.7 2472.3 797.9 2473.8 798.0 2475.3C798.2 2476.8 798.3 2478.3 798.5 2479.8C798.6 2481.3 798.8 2482.9 798.9 2484.4C799.1 2485.9 799.3 2487.4 799.4 2488.9C799.6 2490.4 799.7 2491.9 799.9 2493.4C800.0 2494.9 800.2 2496.4 800.3 2497.9C800.5 2499.4 800.6 2501.0 800.8 2502.5C800.9 2504.0 801.0 2504.9 801.2 2507.0C801.6 2511.8 802.7 2525.7 803.3 2531.1C803.6 2533.7 803.8 2535.0 804.0 2537.0C804.2 2539.0 804.5 2541.0 804.7 2543.0C805.0 2545.0 805.2 2547.0 805.4 2549.0C805.7 2551.0 805.9 2553.0 806.1 2555.0C806.3 2557.0 806.6 2559.0 806.8 2561.0C807.0 2563.0 807.2 2565.0 807.4 2567.0C807.7 2569.0 807.9 2570.9 808.1 2572.9C808.3 2574.9 808.5 2576.9 808.7 2578.9C809.0 2580.9 809.2 2582.9 809.4 2584.9C809.6 2586.9 809.8 2588.9 810.0 2590.9C810.2 2592.9 810.4 2594.9 810.6 2596.9C810.8 2598.9 811.0 2600.9 811.2 2602.9C811.4 2604.9 811.6 2606.9 811.8 2608.9C812.0 2610.9 812.2 2612.9 812.4 2614.9C812.6 2616.9 812.7 2618.9 812.9 2620.9C813.1 2622.9 813.3 2624.9 813.5 2626.9C813.7 2628.9 813.9 2630.9 814.0 2632.9C814.2 2634.9 814.4 2636.9 814.6 2638.9C814.8 2640.9 814.9 2642.9 815.1 2644.9C815.3 2646.9 815.5 2648.9 815.6 2650.9C815.8 2652.9 816.0 2654.9 816.1 2656.9C816.3 2658.9 816.5 2660.9 816.6 2662.9C816.8 2664.9 817.0 2666.9 817.1 2668.9C817.3 2670.9 817.5 2672.9 817.6 2674.9C817.8 2676.9 817.9 2678.9 818.1 2680.9C818.3 2682.9 818.4 2684.9 818.6 2686.9C818.7 2688.9 818.9 2690.9 819.0 2692.9C819.2 2694.9 819.3 2696.9 819.5 2698.9C819.6 2700.9 819.8 2702.9 819.9 2704.9C820.1 2706.9 820.2 2708.9 820.4 2710.9C820.5 2712.9 820.7 2714.9 820.8 2717.0C821.0 2719.0 821.1 2721.0 821.2 2723.0C821.4 2725.0 821.5 2727.0 821.7 2729.0C821.8 2731.0 821.9 2733.0 822.1 2735.0C822.2 2737.0 822.4 2739.0 822.5 2741.0C822.6 2743.0 822.8 2745.0 822.9 2747.0C823.0 2749.0 823.2 2751.0 823.3 2753.0C823.4 2755.0 823.5 2757.0 823.7 2759.0C823.8 2761.0 823.9 2763.0 824.1 2765.0C824.2 2767.0 824.3 2769.0 824.4 2771.0C824.6 2773.1 824.7 2775.1 824.8 2777.1C824.9 2779.1 825.1 2781.1 825.2 2783.1C825.3 2785.1 825.4 2787.1 825.5 2789.1C825.7 2791.1 825.8 2793.1 825.9 2795.1C826.0 2797.1 826.1 2799.1 826.3 2801.1C826.4 2803.1 826.5 2805.1 826.6 2807.1C826.7 2809.1 826.8 2811.1 826.9 2813.1C827.1 2815.1 827.2 2817.1 827.3 2819.2C827.4 2821.2 827.5 2823.2 827.6 2825.2C827.7 2827.2 827.9 2829.2 828.0 2831.2C828.1 2833.2 828.2 2835.2 828.3 2837.2C828.4 2839.2 828.5 2841.2 828.6 2843.2C828.7 2845.2 828.8 2847.2 828.9 2849.2C829.1 2851.2 829.2 2853.2 829.3 2855.2C829.4 2857.2 829.5 2859.3 829.6 2861.3C829.7 2863.3 829.8 2865.3 829.9 2867.3C830.0 2869.3 830.1 2871.3 830.2 2873.3C830.3 2875.3 830.4 2877.3 830.5 2879.3C830.6 2881.3 830.7 2883.3 830.8 2885.3C830.9 2887.3 831.1 2889.3 831.2 2891.3C831.3 2893.3 831.4 2895.3 831.5 2897.4C831.6 2899.4 831.7 2901.4 831.8 2903.4C831.9 2905.4 832.0 2907.4 832.1 2909.4C832.2 2911.4 832.3 2913.4 832.4 2915.4C832.5 2917.4 832.6 2919.4 832.7 2921.4C832.8 2923.4 832.9 2925.4 833.0 2927.4C833.1 2929.4 833.2 2931.4 833.3 2933.5C833.4 2935.5 833.5 2937.5 833.6 2939.5C833.7 2941.5 833.8 2943.5 833.9 2945.5C834.0 2947.5 834.1 2949.5 834.2 2951.5C834.3 2953.5 834.4 2955.5 834.5 2957.5C834.6 2959.5 834.7 2961.5 834.8 2963.5C834.9 2965.5 835.0 2967.5 835.1 2969.6C835.2 2971.6 835.3 2973.6 835.4 2975.6C835.5 2977.6 835.6 2979.6 835.7 2981.6C835.8 2983.6 835.9 2985.6 836.0 2987.6C836.1 2989.6 836.2 2991.6 836.3 2993.6C836.4 2995.6 836.5 2997.6 836.6 2999.6C836.7 3001.6 836.8 3003.6 836.9 3005.6C837.1 3007.7 837.2 3009.7 837.3 3011.7C837.4 3013.7 837.5 3015.7 837.6 3017.7C837.7 3019.7 837.8 3021.7 837.9 3023.7C838.0 3025.7 838.1 3027.7 838.2 3029.7C838.3 3031.7 838.4 3033.7 838.5 3035.7C838.6 3037.7 838.8 3039.7 838.9 3041.7C839.0 3043.7 839.1 3045.8 839.2 3047.8C839.3 3049.8 839.4 3051.8 839.5 3053.8C839.6 3055.8 839.7 3057.8 839.9 3059.8C840.0 3061.8 840.1 3063.8 840.2 3065.8C840.3 3067.8 840.4 3069.8 840.5 3071.8C840.7 3073.8 840.8 3075.8 840.9 3077.8C841.0 3079.8 841.1 3081.8 841.2 3083.8C841.4 3085.8 841.5 3087.9 841.6 3089.9C841.7 3091.9 841.8 3093.9 842.0 3095.9C842.1 3097.9 842.2 3099.9 842.3 3101.9C842.4 3103.9 842.6 3105.9 842.7 3107.9C842.8 3109.9 842.9 3111.9 843.0 3113.9C843.2 3115.9 843.3 3117.9 843.4 3119.9C843.5 3121.9 843.7 3123.9 843.8 3125.9C843.9 3127.9 844.0 3129.9 844.2 3131.9C844.3 3133.9 844.4 3136.0 844.5 3138.0C844.7 3140.0 844.8 3142.0 844.9 3144.0C845.1 3146.0 845.2 3148.0 845.3 3150.0C845.4 3152.0 845.6 3154.0 845.7 3156.0C845.8 3158.0 845.9 3160.0 846.1 3162.0C846.2 3164.0 846.3 3166.0 846.5 3168.0C846.6 3170.0 846.7 3172.0 846.8 3174.0C847.0 3176.0 847.1 3178.0 847.2 3180.0C847.4 3182.0 847.5 3184.0 847.6 3186.1C847.7 3188.1 847.9 3190.1 848.0 3192.1C848.1 3194.1 848.3 3196.1 848.4 3198.1C848.5 3200.1 848.7 3202.1 848.8 3204.1C848.9 3206.1 849.0 3208.1 849.2 3210.1C849.3 3212.1 849.4 3214.1 849.6 3216.1C849.7 3218.1 849.8 3220.1 849.9 3222.1C850.1 3224.1 850.2 3226.1 850.3 3228.1C850.4 3230.1 850.6 3232.1 850.7 3234.1C850.8 3236.1 851.0 3238.2 851.1 3240.2C851.2 3242.2 851.3 3244.2 851.5 3246.2C851.6 3248.2 851.7 3250.2 851.8 3252.2C852.0 3254.2 852.1 3256.2 852.2 3258.2C852.3 3260.2 852.5 3262.2 852.6 3264.2C852.7 3266.2 852.8 3268.2 852.9 3270.2C853.1 3272.2 853.2 3274.2 853.3 3276.2C853.4 3278.2 853.6 3280.2 853.7 3282.2C853.8 3284.3 853.9 3286.3 854.0 3288.3C854.1 3290.3 854.3 3292.3 854.4 3294.3C854.5 3296.3 854.6 3298.3 854.7 3300.3C854.9 3302.3 855.0 3304.3 855.1 3306.3C855.2 3308.3 855.3 3310.3 855.4 3312.3C855.5 3314.3 855.6 3316.3 855.8 3318.3C855.9 3320.3 856.0 3322.3 856.1 3324.3C856.2 3326.3 856.3 3328.4 856.4 3330.4C856.5 3332.4 856.6 3334.4 856.7 3336.4C856.9 3338.4 857.0 3340.4 857.1 3342.4C857.2 3344.4 857.3 3346.4 857.4 3348.4C857.5 3350.4 857.6 3352.4 857.7 3354.4C857.8 3356.4 857.9 3358.4 858.0 3360.4C858.1 3362.4 858.2 3364.4 858.3 3366.5C858.4 3368.5 858.5 3370.5 858.6 3372.5C858.7 3374.5 858.8 3376.5 858.9 3378.5C859.0 3380.5 859.1 3382.5 859.2 3384.5C859.3 3386.5 859.4 3388.5 859.5 3390.5C859.6 3392.5 859.8 3394.5 859.9 3396.5C860.0 3398.5 860.1 3400.5 860.2 3402.5C860.3 3404.6 860.4 3406.6 860.6 3408.6C860.7 3410.6 860.8 3412.6 860.9 3414.6C861.0 3416.6 861.2 3418.6 861.3 3420.6C861.4 3422.6 861.6 3424.6 861.7 3426.6C861.8 3428.6 862.0 3430.6 862.1 3432.6C862.2 3434.6 862.4 3436.6 862.5 3438.6C862.7 3440.6 862.8 3442.6 863.0 3444.6C863.1 3446.6 863.3 3448.6 863.5 3450.6C863.6 3452.6 863.8 3454.6 864.0 3456.6C864.2 3458.6 864.3 3460.6 864.5 3462.6C864.7 3464.6 864.9 3466.6 865.1 3468.6C865.4 3470.6 865.6 3472.6 865.8 3474.6C866.1 3476.6 866.3 3478.6 866.6 3480.6C866.9 3482.6 867.2 3484.6 867.5 3486.5C867.8 3488.5 868.1 3490.5 868.5 3492.5C868.8 3494.5 869.0 3496.5 869.6 3498.4C870.2 3500.2 871.1 3503.6 871.9 3503.6C872.6 3503.6 873.5 3500.0 874.0 3498.1C874.6 3496.1 874.9 3494.1 875.2 3492.1C875.5 3490.2 875.8 3488.2 876.0 3486.2C876.2 3484.2 876.4 3482.2 876.5 3480.2C876.7 3478.2 876.8 3476.2 876.9 3474.2C877.1 3472.2 877.1 3470.2 877.3 3468.1C877.4 3466.1 877.4 3464.1 877.6 3462.1C877.7 3460.1 877.8 3458.1 877.9 3456.1C878.0 3454.1 878.1 3452.1 878.2 3450.1C878.3 3448.1 878.4 3446.1 878.5 3444.1C878.6 3442.1 878.8 3440.1 878.9 3438.1C879.0 3436.1 879.1 3434.1 879.2 3432.1C879.4 3430.1 879.5 3428.0 879.6 3426.0C879.7 3424.0 879.9 3422.0 880.0 3420.0C880.1 3418.0 880.2 3416.0 880.4 3414.0C880.5 3412.0 880.6 3410.0 880.8 3408.0C880.9 3406.0 881.0 3404.0 881.1 3402.0C881.3 3400.0 881.4 3398.0 881.5 3396.0C881.7 3394.0 881.8 3392.0 881.9 3390.0C882.1 3388.0 882.2 3386.0 882.3 3384.0C882.4 3382.0 882.6 3380.0 882.7 3378.0C882.8 3375.9 882.9 3373.9 883.1 3371.9C883.2 3369.9 883.3 3367.9 883.4 3365.9C883.6 3363.9 883.7 3361.9 883.8 3359.9C883.9 3357.9 884.0 3355.9 884.1 3353.9C884.3 3351.9 884.4 3349.9 884.5 3347.9C884.6 3345.9 884.7 3343.9 884.8 3341.9C884.9 3339.9 885.0 3337.9 885.1 3335.9C885.2 3333.8 885.3 3331.8 885.4 3329.8C885.5 3327.8 885.6 3325.8 885.7 3323.8C885.8 3321.8 885.9 3319.8 886.0 3317.8C886.1 3315.8 886.2 3313.8 886.3 3311.8C886.4 3309.8 886.5 3307.8 886.6 3305.8C886.7 3303.8 886.7 3301.8 886.8 3299.7C886.9 3297.7 887.0 3295.7 887.1 3293.7C887.2 3291.7 887.3 3289.7 887.3 3287.7C887.4 3285.7 887.5 3283.7 887.6 3281.7C887.7 3279.7 887.7 3277.7 887.8 3275.7C887.9 3273.7 888.0 3271.7 888.1 3269.7C888.1 3267.6 888.2 3265.6 888.3 3263.6C888.4 3261.6 888.4 3259.6 888.5 3257.6C888.6 3255.6 888.6 3253.6 888.7 3251.6C888.8 3249.6 888.9 3247.6 888.9 3245.6C889.0 3243.6 889.1 3241.6 889.1 3239.6C889.2 3237.5 889.3 3235.5 889.3 3233.5C889.4 3231.5 889.5 3229.5 889.5 3227.5C889.6 3225.5 889.7 3223.5 889.7 3221.5C889.8 3219.5 889.9 3217.5 889.9 3215.5C890.0 3213.5 890.0 3211.5 890.1 3209.4C890.2 3207.4 890.2 3205.4 890.3 3203.4C890.4 3201.4 890.4 3199.4 890.5 3197.4C890.5 3195.4 890.6 3193.4 890.7 3191.4C890.7 3189.4 890.8 3187.4 890.8 3185.4C890.9 3183.4 890.9 3181.3 891.0 3179.3C891.1 3177.3 891.1 3175.3 891.2 3173.3C891.2 3171.3 891.3 3169.3 891.4 3167.3C891.4 3165.3 891.5 3163.3 891.5 3161.3C891.6 3159.3 891.6 3157.3 891.7 3155.3C891.8 3153.2 891.8 3151.2 891.9 3149.2C891.9 3147.2 892.0 3145.2 892.1 3143.2C892.1 3141.2 892.2 3139.2 892.2 3137.2C892.3 3135.2 892.3 3133.2 892.4 3131.2C892.5 3129.2 892.5 3127.2 892.6 3125.1C892.6 3123.1 892.7 3121.1 892.7 3119.1C892.8 3117.1 892.9 3115.1 892.9 3113.1C893.0 3111.1 893.0 3109.1 893.1 3107.1C893.1 3105.1 893.2 3103.1 893.3 3101.1C893.3 3099.1 893.4 3097.0 893.4 3095.0C893.5 3093.0 893.5 3091.0 893.6 3089.0C893.7 3087.0 893.7 3085.0 893.8 3083.0C893.8 3081.0 893.9 3079.0 894.0 3077.0C894.0 3075.0 894.1 3073.0 894.1 3071.0C894.2 3068.9 894.2 3066.9 894.3 3064.9C894.4 3062.9 894.4 3060.9 894.5 3058.9C894.5 3056.9 894.6 3054.9 894.7 3052.9C894.7 3050.9 894.8 3048.9 894.8 3046.9C894.9 3044.9 895.0 3042.9 895.0 3040.8C895.1 3038.8 895.1 3036.8 895.2 3034.8C895.2 3032.8 895.3 3030.8 895.4 3028.8C895.4 3026.8 895.5 3024.8 895.5 3022.8C895.6 3020.8 895.7 3018.8 895.7 3016.8C895.8 3014.8 895.9 3012.7 895.9 3010.7C896.0 3008.7 896.0 3006.7 896.1 3004.7C896.2 3002.7 896.2 3000.7 896.3 2998.7C896.3 2996.7 896.4 2994.7 896.5 2992.7C896.5 2990.7 896.6 2988.7 896.7 2986.7C896.7 2984.6 896.8 2982.6 896.8 2980.6C896.9 2978.6 897.0 2976.6 897.0 2974.6C897.1 2972.6 897.2 2970.6 897.2 2968.6C897.3 2966.6 897.4 2964.6 897.4 2962.6C897.5 2960.6 897.5 2958.6 897.6 2956.6C897.7 2954.5 897.7 2952.5 897.8 2950.5C897.9 2948.5 897.9 2946.5 898.0 2944.5C898.1 2942.5 898.1 2940.5 898.2 2938.5C898.3 2936.5 898.3 2934.5 898.4 2932.5C898.5 2930.5 898.5 2928.5 898.6 2926.4C898.7 2924.4 898.7 2922.4 898.8 2920.4C898.9 2918.4 898.9 2916.4 899.0 2914.4C899.1 2912.4 899.2 2910.4 899.2 2908.4C899.3 2906.4 899.4 2904.4 899.4 2902.4C899.5 2900.4 899.6 2898.4 899.7 2896.3C899.7 2894.3 899.8 2892.3 899.9 2890.3C899.9 2888.3 900.0 2886.3 900.1 2884.3C900.2 2882.3 900.2 2880.3 900.3 2878.3C900.4 2876.3 900.5 2874.3 900.5 2872.3C900.6 2870.3 900.7 2868.3 900.8 2866.2C900.8 2864.2 900.9 2862.2 901.0 2860.2C901.1 2858.2 901.1 2856.2 901.2 2854.2C901.3 2852.2 901.4 2850.2 901.4 2848.2C901.5 2846.2 901.6 2844.2 901.7 2842.2C901.8 2840.2 901.8 2838.2 901.9 2836.1C902.0 2834.1 902.1 2832.1 902.2 2830.1C902.2 2828.1 902.3 2826.1 902.4 2824.1C902.5 2822.1 902.6 2820.1 902.6 2818.1C902.7 2816.1 902.8 2814.1 902.9 2812.1C903.0 2810.1 903.1 2808.1 903.1 2806.1C903.2 2804.0 903.3 2802.0 903.4 2800.0C903.5 2798.0 903.6 2796.0 903.7 2794.0C903.7 2792.0 903.8 2790.0 903.9 2788.0C904.0 2786.0 904.1 2784.0 904.2 2782.0C904.3 2780.0 904.4 2778.0 904.5 2776.0C904.5 2774.0 904.6 2772.0 904.7 2769.9C904.8 2767.9 904.9 2765.9 905.0 2763.9C905.1 2761.9 905.2 2759.9 905.3 2757.9C905.4 2755.9 905.5 2753.9 905.6 2751.9C905.7 2749.9 905.8 2747.9 905.8 2745.9C905.9 2743.9 906.0 2741.9 906.1 2739.9C906.2 2737.9 906.3 2735.8 906.4 2733.8C906.5 2731.8 906.6 2729.8 906.7 2727.8C906.8 2725.8 906.9 2723.8 907.0 2721.8C907.1 2719.8 907.2 2717.8 907.3 2715.8C907.4 2713.8 907.5 2711.8 907.6 2709.8C907.7 2707.8 907.9 2705.8 908.0 2703.8C908.1 2701.8 908.2 2699.7 908.3 2697.7C908.4 2695.7 908.5 2693.7 908.6 2691.7C908.7 2689.7 908.8 2687.7 908.9 2685.7C909.0 2683.7 909.1 2681.7 909.2 2679.7C909.4 2677.7 909.5 2675.7 909.6 2673.7C909.7 2671.7 909.8 2669.7 909.9 2667.7C910.0 2665.7 910.1 2663.7 910.3 2661.7C910.4 2659.6 910.5 2657.6 910.6 2655.6C910.7 2653.6 910.8 2651.6 911.0 2649.6C911.1 2647.6 911.2 2645.6 911.3 2643.6C911.4 2641.6 911.6 2639.6 911.7 2637.6C911.8 2635.6 911.9 2633.6 912.0 2631.6C912.2 2629.6 912.3 2627.6 912.4 2625.6C912.5 2623.6 912.7 2621.6 912.8 2619.6C912.9 2617.6 913.0 2615.6 913.2 2613.5C913.3 2611.5 913.4 2609.5 913.5 2607.5C913.7 2605.5 913.8 2603.5 913.9 2601.5C914.1 2599.5 914.2 2597.5 914.3 2595.5C914.5 2593.5 914.6 2591.5 914.7 2589.5C914.9 2587.5 915.0 2585.5 915.1 2583.5C915.3 2581.5 915.4 2579.5 915.5 2577.5C915.7 2575.5 915.8 2573.5 916.0 2571.5C916.1 2569.5 916.2 2567.5 916.4 2565.5C916.5 2563.5 916.7 2561.5 916.8 2559.5C916.9 2557.5 917.1 2555.5 917.2 2553.4C917.4 2551.4 917.5 2549.4 917.7 2547.4C917.8 2545.4 918.0 2543.4 918.1 2541.4C918.3 2539.4 918.4 2537.4 918.6 2535.4C918.7 2533.4 918.9 2531.4 919.0 2529.4C919.2 2527.4 919.2 2526.5 919.5 2523.4C920.4 2513.1 924.3 2465.2 926.0 2456.1C926.5 2453.7 926.9 2453.2 927.3 2451.7C927.7 2450.2 928.1 2448.7 928.4 2447.2C928.8 2445.8 929.1 2444.3 929.4 2442.8C929.7 2441.3 929.9 2439.8 930.2 2438.4C930.5 2436.9 930.7 2435.4 930.9 2433.9C931.1 2432.4 931.3 2430.9 931.5 2429.4C931.7 2427.9 931.9 2426.4 932.0 2424.9C932.2 2423.4 932.4 2421.9 932.5 2420.4C932.7 2418.9 932.9 2417.4 933.0 2415.9C933.2 2414.4 933.4 2412.9 933.6 2411.4C933.8 2409.9 934.0 2408.4 934.2 2406.9C934.4 2405.4 934.6 2403.9 934.9 2402.4C935.1 2400.9 935.4 2399.4 935.7 2397.9C936.1 2396.5 936.4 2395.0 936.8 2393.6C937.1 2392.2 937.5 2390.7 938.0 2389.3C938.4 2387.9 938.9 2386.5 939.4 2385.0C939.9 2383.6 940.5 2382.2 941.0 2380.8C941.6 2379.3 942.2 2377.9 942.9 2376.5C943.6 2375.1 944.3 2373.7 945.0 2372.4C945.8 2371.2 946.6 2369.9 947.6 2368.8C948.5 2367.6 949.6 2366.3 950.8 2365.7C952.1 2365.0 953.6 2365.0 955.0 2364.9C956.5 2364.8 958.0 2365.3 959.5 2365.2C961.0 2365.0 962.5 2364.5 964.0 2363.9C965.5 2363.4 966.9 2362.3 968.4 2361.8C969.9 2361.3 971.5 2360.9 972.9 2361.1C974.4 2361.3 975.8 2362.1 977.2 2362.8C978.5 2363.4 979.9 2364.3 981.2 2364.9C982.6 2365.5 984.1 2366.1 985.5 2366.5C987.0 2366.9 988.5 2367.4 990.0 2367.3C991.5 2367.3 993.0 2366.7 994.4 2366.2C995.8 2365.7 997.2 2364.9 998.6 2364.4C999.9 2363.9 1001.3 2363.7 1002.7 2363.3C1004.1 2362.9 1005.5 2362.7 1006.9 2362.1C1008.3 2361.5 1009.6 2360.6 1011.0 2359.7C1012.3 2358.8 1013.6 2357.7 1014.9 2356.8C1016.2 2355.9 1017.5 2355.3 1018.7 2354.5C1020.0 2353.7 1021.3 2352.9 1022.5 2352.0C1023.7 2351.1 1025.0 2350.0 1026.2 2349.1C1027.4 2348.2 1028.7 2347.4 1029.9 2346.6C1031.2 2345.9 1032.4 2345.3 1033.6 2344.5C1034.9 2343.7 1036.1 2342.9 1037.3 2342.0C1038.5 2341.2 1039.8 2340.2 1040.9 2339.3C1042.1 2338.3 1043.3 2337.2 1044.5 2336.3C1045.6 2335.3 1046.8 2334.4 1047.9 2333.5C1049.0 2332.5 1050.1 2331.5 1051.2 2330.5C1052.3 2329.4 1053.3 2328.3 1054.4 2327.2C1055.4 2326.1 1056.5 2325.0 1057.5 2323.9C1058.6 2322.8 1059.7 2321.6 1060.7 2320.4C1061.8 2319.2 1062.9 2317.9 1064.1 2316.8C1065.2 2315.7 1066.4 2314.8 1067.5 2313.8C1068.7 2312.9 1069.9 2312.0 1071.0 2311.0C1072.1 2309.9 1073.2 2308.7 1074.3 2307.5C1075.4 2306.4 1076.4 2305.2 1077.4 2304.1C1078.4 2303.0 1079.3 2301.8 1080.3 2300.7C1081.2 2299.7 1082.2 2298.7 1083.1 2297.7C1084.1 2296.6 1085.2 2295.6 1086.2 2294.6C1087.3 2293.6 1088.4 2292.4 1089.7 2291.5C1090.9 2290.7 1092.2 2290.1 1093.5 2289.5C1094.9 2289.0 1096.3 2288.6 1097.6 2288.0C1099.0 2287.3 1100.4 2286.3 1101.8 2285.6C1103.2 2284.9 1104.6 2284.1 1106.1 2283.6C1107.5 2283.1 1108.9 2282.9 1110.4 2282.5C1111.8 2282.1 1113.2 2281.7 1114.7 2281.3C1116.1 2280.9 1117.6 2280.4 1119.1 2280.0C1120.5 2279.7 1122.0 2279.4 1123.5 2279.1C1124.9 2278.8 1126.4 2278.8 1127.9 2278.3C1129.4 2277.9 1130.8 2277.2 1132.2 2276.4C1133.7 2275.6 1135.0 2274.2 1136.4 2273.4C1137.8 2272.7 1139.2 2272.2 1140.6 2271.8C1142.0 2271.4 1143.4 2271.4 1144.8 2270.9C1146.2 2270.5 1147.6 2269.7 1149.0 2268.9C1150.4 2268.2 1151.8 2267.2 1153.3 2266.6C1154.7 2266.1 1156.2 2265.6 1157.7 2265.6C1159.2 2265.5 1160.7 2266.1 1162.2 2266.4C1163.8 2266.7 1165.3 2267.5 1166.8 2267.6C1168.3 2267.6 1169.8 2267.2 1171.3 2267.0C1172.8 2266.7 1174.3 2266.1 1175.8 2265.8C1177.3 2265.5 1178.9 2265.5 1180.4 2265.2C1181.9 2264.9 1183.3 2264.4 1184.9 2264.0C1186.3 2263.6 1187.8 2263.2 1189.3 2263.0C1190.8 2262.8 1192.3 2262.9 1193.8 2262.9C1195.3 2262.9 1196.8 2262.8 1198.3 2262.7C1199.9 2262.6 1201.4 2262.5 1202.9 2262.3C1204.4 2262.2 1205.9 2262.0 1207.4 2261.9C1208.9 2261.9 1210.4 2262.1 1211.9 2262.2C1213.4 2262.2 1215.0 2262.4 1216.5 2262.2C1218.0 2262.0 1219.5 2261.2 1221.0 2261.0C1222.5 2260.7 1224.0 2260.7 1225.5 2260.8C1227.0 2261.0 1228.5 2261.6 1230.1 2261.7C1231.6 2261.8 1233.1 2261.5 1234.6 2261.5C1236.1 2261.4 1237.6 2261.4 1239.1 2261.2C1240.6 2261.1 1242.0 2260.8 1243.5 2260.4C1245.0 2260.1 1246.5 2259.3 1248.0 2259.0C1249.5 2258.8 1251.1 2258.8 1252.6 2258.6C1254.1 2258.5 1255.6 2258.2 1257.1 2258.2C1258.6 2258.1 1260.1 2258.2 1261.7 2258.3C1263.2 2258.4 1264.7 2258.7 1266.2 2258.9C1267.7 2259.0 1269.2 2259.2 1270.7 2259.1C1272.2 2259.0 1273.7 2258.7 1275.2 2258.2C1276.8 2257.7 1278.2 2256.4 1279.7 2256.0C1281.2 2255.5 1282.7 2255.3 1284.2 2255.4C1285.8 2255.5 1287.3 2256.5 1288.8 2256.8C1290.3 2257.1 1291.8 2257.2 1293.3 2257.2C1294.8 2257.2 1296.3 2256.8 1297.8 2256.8C1299.4 2256.7 1300.9 2256.9 1302.4 2256.9C1303.9 2256.9 1305.4 2256.7 1306.9 2256.9C1308.4 2257.0 1309.9 2257.3 1311.5 2257.6C1313.0 2257.9 1314.5 2258.6 1316.0 2258.8C1317.5 2258.9 1319.0 2258.7 1320.5 2258.5C1322.0 2258.3 1323.5 2257.7 1325.0 2257.4C1326.5 2257.2 1328.1 2257.1 1329.6 2257.2C1331.1 2257.3 1332.6 2258.0 1334.1 2258.1C1335.6 2258.2 1337.1 2258.0 1338.6 2257.9C1340.1 2257.7 1341.6 2257.2 1343.1 2257.3C1344.6 2257.4 1346.1 2258.2 1347.6 2258.6C1349.1 2259.0 1350.6 2259.4 1352.1 2259.6C1353.6 2259.8 1355.1 2259.7 1356.6 2259.7C1358.1 2259.7 1359.6 2259.8 1361.1 2259.8C1362.6 2259.9 1364.2 2259.8 1365.7 2259.9C1367.2 2260.0 1368.7 2260.2 1370.2 2260.6C1371.7 2260.9 1373.2 2261.7 1374.7 2261.9C1376.2 2262.2 1377.7 2262.1 1379.2 2262.1C1380.7 2262.0 1382.3 2261.6 1383.8 2261.7C1385.3 2261.8 1386.8 2262.4 1388.3 2262.8C1389.8 2263.2 1391.3 2263.7 1392.8 2263.8C1394.3 2263.9 1395.8 2263.6 1397.4 2263.3C1398.9 2263.1 1400.4 2262.5 1401.9 2262.3C1403.4 2262.1 1404.9 2261.9 1406.4 2262.0C1407.9 2262.0 1409.5 2262.4 1411.0 2262.8C1412.5 2263.2 1414.0 2264.0 1415.5 2264.4C1417.0 2264.8 1418.5 2265.2 1420.0 2265.2C1421.5 2265.3 1423.0 2264.8 1424.5 2264.7C1425.9 2264.6 1427.4 2264.4 1428.8 2264.7C1430.2 2265.0 1431.5 2265.8 1432.9 2266.4C1434.3 2267.0 1435.6 2267.9 1437.1 2268.4C1438.5 2268.8 1440.0 2269.2 1441.5 2269.2C1442.9 2269.2 1444.5 2269.0 1445.8 2268.4C1447.2 2267.9 1448.4 2266.8 1449.7 2266.0C1451.1 2265.1 1452.3 2263.8 1453.7 2263.2C1455.1 2262.6 1456.7 2262.3 1458.2 2262.4C1459.7 2262.6 1461.2 2263.5 1462.6 2264.1C1464.1 2264.7 1465.5 2265.6 1467.0 2266.1C1468.4 2266.6 1469.8 2266.9 1471.3 2267.1C1472.8 2267.4 1474.3 2267.7 1475.8 2267.8C1477.3 2267.9 1478.8 2267.9 1480.3 2267.8C1481.8 2267.8 1483.3 2267.4 1484.8 2267.5C1486.3 2267.5 1487.8 2267.7 1489.3 2268.0C1490.8 2268.3 1492.3 2268.8 1493.8 2269.2C1495.2 2269.5 1496.7 2269.7 1498.2 2270.2C1499.7 2270.6 1501.1 2271.2 1502.6 2271.8C1504.1 2272.4 1505.5 2273.6 1507.0 2274.0C1508.4 2274.5 1510.0 2274.5 1511.5 2274.6C1513.0 2274.8 1514.5 2274.6 1516.0 2274.9C1517.5 2275.2 1519.0 2275.9 1520.4 2276.4C1521.7 2277.0 1523.0 2277.5 1524.3 2278.2C1525.5 2278.9 1526.5 2279.8 1527.8 2280.4C1529.1 2280.9 1530.8 2281.9 1532.0 2281.6C1533.2 2281.3 1534.0 2279.7 1535.0 2278.7C1536.0 2277.5 1536.6 2275.4 1537.8 2274.7C1539.0 2274.0 1540.7 2273.9 1542.1 2274.2C1543.5 2274.6 1544.7 2276.5 1546.1 2277.3C1547.4 2278.1 1548.8 2279.1 1550.2 2279.3C1551.7 2279.5 1553.2 2279.1 1554.6 2278.6C1556.1 2278.2 1557.4 2277.2 1558.7 2276.5C1560.2 2275.8 1561.6 2274.9 1563.1 2274.4C1564.6 2274.0 1566.1 2273.8 1567.6 2273.7C1569.1 2273.7 1570.7 2273.9 1572.2 2274.0C1573.6 2274.1 1575.1 2274.4 1576.6 2274.2C1578.0 2274.1 1579.5 2273.6 1580.8 2273.0C1582.3 2272.4 1583.6 2271.2 1585.1 2270.5C1586.5 2269.9 1588.0 2269.3 1589.5 2269.1C1591.0 2268.9 1592.5 2269.1 1594.0 2269.0C1595.6 2268.9 1597.1 2268.4 1598.6 2268.4C1600.1 2268.5 1601.6 2268.9 1603.1 2269.2C1604.6 2269.5 1606.1 2270.2 1607.6 2270.2C1609.1 2270.2 1610.6 2269.6 1612.2 2269.5C1613.7 2269.4 1615.2 2269.5 1616.7 2269.5C1618.2 2269.6 1619.7 2270.0 1621.2 2269.8C1622.7 2269.6 1624.2 2268.8 1625.7 2268.4C1627.2 2267.9 1628.7 2267.5 1630.2 2267.2C1631.7 2267.0 1633.2 2267.0 1634.6 2266.8C1636.1 2266.6 1637.6 2266.3 1639.1 2266.0C1640.6 2265.6 1642.0 2265.1 1643.5 2264.7C1645.0 2264.3 1646.5 2263.7 1648.0 2263.5C1649.5 2263.3 1651.0 2263.7 1652.5 2263.6C1654.0 2263.4 1655.5 2263.1 1657.0 2262.7C1658.5 2262.2 1660.0 2261.3 1661.5 2260.9C1663.0 2260.6 1664.5 2260.7 1666.0 2260.5C1667.5 2260.3 1669.0 2260.0 1670.5 2259.9C1672.0 2259.8 1673.5 2259.7 1675.0 2260.0C1676.5 2260.2 1678.0 2260.6 1679.3 2261.3C1680.6 2262.0 1681.7 2263.0 1682.9 2263.9C1684.2 2265.0 1685.4 2266.5 1686.8 2267.5C1688.1 2268.3 1689.7 2269.2 1691.2 2269.4C1692.7 2269.5 1694.2 2268.8 1695.7 2268.4C1697.2 2268.0 1698.7 2267.4 1700.2 2267.0C1701.7 2266.7 1703.2 2266.5 1704.7 2266.2C1706.1 2266.0 1707.7 2265.6 1709.2 2265.7C1710.6 2265.7 1712.3 2265.9 1713.6 2266.4C1714.9 2267.0 1716.0 2268.0 1717.1 2269.0C1718.1 2270.1 1718.7 2271.7 1719.8 2272.5C1720.9 2273.3 1722.5 2274.2 1723.7 2273.9C1724.9 2273.5 1725.7 2271.3 1726.9 2270.1C1728.1 2269.0 1729.5 2267.2 1730.9 2267.0C1732.2 2266.8 1733.7 2268.1 1735.1 2268.8C1736.6 2269.4 1737.9 2270.2 1739.4 2270.7C1740.8 2271.3 1742.4 2271.5 1743.9 2272.0C1745.3 2272.5 1746.7 2273.3 1748.2 2273.6C1749.6 2273.9 1751.1 2274.0 1752.5 2273.8C1754.0 2273.6 1755.5 2273.0 1756.9 2272.5C1758.2 2272.0 1759.3 2271.0 1760.6 2270.7C1761.9 2270.5 1763.5 2270.4 1764.7 2271.0C1766.0 2271.5 1767.0 2273.1 1768.1 2274.2C1769.2 2275.4 1770.0 2277.4 1771.3 2278.0C1772.6 2278.5 1774.3 2278.1 1775.7 2277.6C1777.1 2277.0 1778.3 2275.2 1779.8 2274.6C1781.2 2273.9 1782.7 2273.4 1784.1 2273.5C1785.6 2273.6 1787.0 2274.6 1788.3 2275.3C1789.6 2276.0 1790.7 2277.0 1791.9 2277.8C1793.1 2278.7 1794.1 2279.8 1795.4 2280.6C1796.6 2281.3 1797.9 2281.9 1799.3 2282.2C1800.7 2282.6 1802.3 2282.5 1803.8 2282.6C1805.2 2282.7 1806.7 2282.9 1808.2 2282.9C1809.6 2282.9 1811.4 2282.2 1812.6 2282.7C1813.7 2283.2 1814.5 2284.7 1815.1 2285.9C1815.8 2287.2 1816.0 2288.8 1816.5 2290.3C1817.1 2291.7 1817.8 2293.1 1818.4 2294.6" fill="none" stroke="#ff0000" stroke-width="5.5" stroke-linecap="round" stroke-linejoin="round"/>
<path d="M440.2 2277.8C440.0 2276.4 439.4 2274.9 439.7 2273.5C440.0 2272.0 441.1 2270.2 442.2 2269.3C443.4 2268.4 445.2 2267.6 446.4 2267.9C447.8 2268.2 449.0 2270.3 450.2 2271.5C451.3 2272.5 452.3 2273.7 453.4 2274.7C454.4 2275.6 455.5 2276.4 456.6 2277.4C457.7 2278.4 458.7 2279.7 459.8 2280.7C460.9 2281.7 462.0 2282.5 463.1 2283.5C464.2 2284.5 465.3 2285.4 466.3 2286.6C467.5 2287.8 468.5 2289.2 469.5 2290.5C470.5 2291.8 471.5 2293.2 472.6 2294.4C473.5 2295.5 474.6 2296.5 475.6 2297.4C476.5 2298.4 477.6 2299.2 478.5 2300.2C479.6 2301.3 480.5 2302.5 481.5 2303.7C482.5 2305.0 483.6 2306.2 484.6 2307.4C485.6 2308.6 486.6 2309.8 487.6 2311.0C488.5 2312.1 489.5 2313.3 490.5 2314.4C491.4 2315.5 492.3 2316.7 493.3 2317.8C494.2 2319.0 495.1 2320.2 496.0 2321.4C496.9 2322.5 497.9 2323.6 498.8 2324.7C499.7 2325.8 500.7 2326.8 501.6 2328.0C502.5 2329.2 503.5 2330.4 504.4 2331.7C505.3 2333.0 506.2 2334.3 507.2 2335.7C508.1 2337.0 509.0 2338.3 510.0 2339.6C510.9 2340.9 511.8 2342.1 512.8 2343.3C513.7 2344.5 514.6 2345.7 515.6 2346.9C516.5 2348.1 517.5 2349.2 518.4 2350.4C519.3 2351.6 520.3 2352.9 521.2 2354.1C522.1 2355.3 523.1 2356.5 524.0 2357.7C524.9 2358.8 525.8 2359.8 526.8 2361.0C527.7 2362.2 528.5 2363.5 529.6 2364.7C530.6 2366.0 531.7 2367.6 533.1 2368.5C534.3 2369.3 536.0 2369.6 537.5 2369.9C539.0 2370.2 540.6 2370.0 542.0 2370.4C543.3 2370.9 544.5 2371.7 545.6 2372.6C546.7 2373.5 547.5 2374.7 548.6 2375.7C549.6 2376.6 550.7 2377.8 552.0 2378.3C553.3 2378.8 554.9 2378.9 556.3 2378.8C557.7 2378.7 559.0 2377.9 560.4 2377.6C561.8 2377.3 563.3 2377.0 564.7 2377.1C566.2 2377.2 567.5 2378.1 569.0 2378.4C570.4 2378.8 572.0 2379.0 573.5 2379.2C574.9 2379.5 576.5 2379.4 577.9 2379.8C579.3 2380.1 580.6 2380.9 582.0 2381.1C583.5 2381.2 585.0 2381.1 586.5 2380.7C587.9 2380.3 589.3 2379.5 590.7 2378.9C592.1 2378.3 593.6 2377.7 595.0 2377.0C596.4 2376.4 597.9 2375.4 599.3 2374.9C600.7 2374.3 602.2 2373.9 603.6 2373.7C605.0 2373.4 606.5 2373.7 607.8 2373.4C609.3 2373.0 610.7 2372.3 612.1 2371.6C613.5 2370.8 614.9 2369.6 616.3 2368.7C617.6 2367.9 618.9 2367.2 620.1 2366.3C621.3 2365.4 622.4 2364.3 623.7 2363.4C624.9 2362.5 626.2 2361.7 627.6 2361.0C628.9 2360.4 630.3 2360.1 631.6 2359.5C632.9 2358.8 634.3 2358.0 635.5 2357.1C636.7 2356.2 637.9 2355.0 639.0 2354.1C640.1 2353.1 641.2 2352.4 642.2 2351.4C643.3 2350.5 644.3 2349.4 645.3 2348.2C646.3 2347.0 647.3 2345.5 648.4 2344.3C649.4 2343.1 650.5 2342.1 651.7 2341.1C652.8 2340.2 654.0 2339.6 655.2 2338.8C656.4 2337.9 657.7 2337.0 658.9 2336.1C660.1 2335.2 661.3 2334.2 662.5 2333.2C663.7 2332.4 664.9 2331.5 666.1 2330.7C667.3 2330.0 668.5 2329.3 669.7 2328.5C671.0 2327.6 672.2 2326.7 673.5 2325.9C674.8 2325.0 676.2 2324.1 677.5 2323.3C678.9 2322.6 680.3 2321.8 681.8 2321.3C683.2 2320.9 684.7 2320.7 686.2 2320.6C687.7 2320.4 689.2 2320.4 690.7 2320.2C692.2 2320.1 693.7 2320.0 695.2 2319.7C696.7 2319.5 698.2 2319.2 699.7 2318.7C701.2 2318.2 702.7 2316.6 704.0 2316.8C705.3 2316.9 706.4 2318.3 707.5 2319.2C708.7 2320.1 709.7 2321.2 710.9 2322.0C712.2 2322.9 713.8 2323.5 715.2 2324.3C716.6 2325.1 718.0 2326.1 719.5 2326.8C720.9 2327.5 722.4 2328.4 723.9 2328.5C725.4 2328.6 726.9 2328.0 728.3 2327.4C729.8 2326.7 730.9 2325.0 732.3 2324.4C733.7 2323.8 735.3 2323.3 736.6 2323.6C737.9 2323.9 738.9 2325.6 740.2 2326.5C741.4 2327.3 742.5 2328.2 743.9 2328.6C745.2 2329.1 746.7 2329.1 748.1 2329.4C749.5 2329.7 751.0 2329.9 752.4 2330.4C753.9 2330.8 755.4 2331.4 756.9 2331.9C758.4 2332.4 760.0 2332.6 761.4 2333.2C762.8 2333.7 764.2 2334.2 765.1 2335.2C766.0 2336.3 766.2 2337.9 766.7 2339.3C767.2 2340.7 767.7 2342.2 768.2 2343.6C768.6 2345.0 769.0 2346.4 769.4 2347.9C769.8 2349.3 770.1 2350.8 770.4 2352.3C770.7 2353.8 771.0 2355.3 771.3 2356.8C771.6 2358.3 771.9 2359.8 772.2 2361.3C772.5 2362.7 772.7 2364.2 773.0 2365.7C773.3 2367.2 773.5 2368.7 773.7 2370.2C774.0 2371.7 774.2 2373.2 774.4 2374.7C774.6 2376.2 774.8 2377.7 775.0 2379.2C775.2 2380.7 775.4 2382.3 775.6 2383.8C775.8 2385.3 776.0 2386.8 776.2 2388.3C776.5 2389.8 776.7 2391.2 777.0 2392.7C777.3 2394.2 777.6 2395.7 777.9 2397.2C778.3 2398.7 778.6 2400.2 778.9 2401.7C779.2 2403.2 779.5 2404.7 779.8 2406.2C780.1 2407.6 780.4 2409.1 780.6 2410.6C780.9 2412.1 781.2 2413.6 781.4 2415.1C781.7 2416.5 782.0 2418.0 782.3 2419.5C782.5 2421.1 782.8 2422.6 783.1 2424.1C783.3 2425.6 783.6 2427.1 783.9 2428.5C784.2 2430.0 784.5 2431.5 784.7 2433.0C785.0 2434.5 785.2 2436.0 785.5 2437.5C785.7 2439.0 785.9 2440.5 786.1 2442.0C786.3 2443.5 786.5 2445.0 786.7 2446.5C786.8 2448.1 787.0 2449.6 787.2 2451.1C787.3 2452.6 787.5 2454.1 787.7 2455.6C787.8 2457.1 788.0 2458.6 788.1 2460.1C788.3 2461.6 788.4 2463.1 788.6 2464.6C788.7 2466.2 788.9 2467.7 789.0 2469.2C789.2 2470.7 789.3 2472.2 789.5 2473.7C789.6 2475.2 789.7 2476.8 789.9 2478.3C790.0 2479.8 790.2 2481.3 790.3 2482.8C790.4 2484.3 790.6 2485.8 790.7 2487.3C790.8 2488.9 791.0 2490.4 791.1 2491.9C791.2 2493.4 791.3 2494.9 791.4 2496.4C791.6 2497.9 791.6 2498.9 791.8 2501.0C792.2 2505.8 793.0 2519.8 793.5 2525.1C793.8 2527.8 794.0 2529.1 794.3 2531.1C794.5 2533.1 794.8 2535.1 795.0 2537.1C795.3 2539.1 795.5 2541.1 795.7 2543.1C796.0 2545.1 796.2 2547.1 796.5 2549.1C796.7 2551.1 796.9 2553.1 797.2 2555.0C797.4 2557.0 797.6 2559.0 797.9 2561.0C798.1 2563.0 798.3 2565.0 798.6 2567.0C798.8 2569.0 799.0 2571.0 799.2 2573.0C799.4 2575.0 799.7 2577.0 799.9 2579.0C800.1 2581.0 800.3 2583.0 800.5 2585.0C800.8 2587.0 801.0 2589.0 801.2 2591.0C801.4 2593.0 801.6 2595.0 801.8 2597.0C802.0 2599.0 802.2 2601.0 802.4 2603.0C802.6 2605.0 802.8 2607.0 803.0 2609.0C803.2 2611.0 803.4 2613.0 803.6 2615.0C803.8 2617.0 804.0 2619.0 804.2 2621.0C804.4 2623.0 804.6 2625.0 804.8 2627.0C805.0 2629.0 805.2 2631.1 805.3 2633.1C805.5 2635.1 805.7 2637.1 805.9 2639.1C806.1 2641.1 806.3 2643.1 806.5 2645.1C806.6 2647.1 806.8 2649.1 807.0 2651.1C807.2 2653.1 807.3 2655.1 807.5 2657.1C807.7 2659.1 807.9 2661.1 808.0 2663.1C808.2 2665.1 808.4 2667.1 808.6 2669.1C808.7 2671.1 808.9 2673.1 809.1 2675.1C809.2 2677.1 809.4 2679.1 809.6 2681.1C809.7 2683.1 809.9 2685.1 810.0 2687.2C810.2 2689.2 810.4 2691.2 810.5 2693.2C810.7 2695.2 810.8 2697.2 811.0 2699.2C811.2 2701.2 811.3 2703.2 811.5 2705.2C811.6 2707.2 811.8 2709.2 811.9 2711.2C812.1 2713.2 812.2 2715.2 812.4 2717.2C812.5 2719.2 812.7 2721.2 812.8 2723.2C813.0 2725.2 813.1 2727.3 813.3 2729.3C813.4 2731.3 813.5 2733.3 813.7 2735.3C813.8 2737.3 814.0 2739.3 814.1 2741.3C814.3 2743.3 814.4 2745.3 814.5 2747.3C814.7 2749.3 814.8 2751.3 815.0 2753.3C815.1 2755.3 815.2 2757.3 815.4 2759.4C815.5 2761.4 815.6 2763.4 815.8 2765.4C815.9 2767.4 816.0 2769.4 816.2 2771.4C816.3 2773.4 816.4 2775.4 816.6 2777.4C816.7 2779.4 816.8 2781.4 817.0 2783.4C817.1 2785.4 817.2 2787.4 817.3 2789.5C817.5 2791.5 817.6 2793.5 817.7 2795.5C817.8 2797.5 818.0 2799.5 818.1 2801.5C818.2 2803.5 818.3 2805.5 818.5 2807.5C818.6 2809.5 818.7 2811.5 818.8 2813.5C819.0 2815.5 819.1 2817.6 819.2 2819.6C819.3 2821.6 819.5 2823.6 819.6 2825.6C819.7 2827.6 819.8 2829.6 819.9 2831.6C820.1 2833.6 820.2 2835.6 820.3 2837.6C820.4 2839.6 820.5 2841.6 820.6 2843.7C820.8 2845.7 820.9 2847.7 821.0 2849.7C821.1 2851.7 821.2 2853.7 821.4 2855.7C821.5 2857.7 821.6 2859.7 821.7 2861.7C821.8 2863.7 821.9 2865.7 822.1 2867.7C822.2 2869.8 822.3 2871.8 822.4 2873.8C822.5 2875.8 822.6 2877.8 822.7 2879.8C822.9 2881.8 823.0 2883.8 823.1 2885.8C823.2 2887.8 823.3 2889.8 823.4 2891.8C823.5 2893.8 823.7 2895.9 823.8 2897.9C823.9 2899.9 824.0 2901.9 824.1 2903.9C824.2 2905.9 824.3 2907.9 824.5 2909.9C824.6 2911.9 824.7 2913.9 824.8 2915.9C824.9 2917.9 825.0 2920.0 825.1 2922.0C825.2 2924.0 825.4 2926.0 825.5 2928.0C825.6 2930.0 825.7 2932.0 825.8 2934.0C825.9 2936.0 826.0 2938.0 826.2 2940.0C826.3 2942.0 826.4 2944.0 826.5 2946.1C826.6 2948.1 826.7 2950.1 826.8 2952.1C827.0 2954.1 827.1 2956.1 827.2 2958.1C827.3 2960.1 827.4 2962.1 827.5 2964.1C827.7 2966.1 827.8 2968.1 827.9 2970.1C828.0 2972.2 828.1 2974.2 828.2 2976.2C828.4 2978.2 828.5 2980.2 828.6 2982.2C828.7 2984.2 828.8 2986.2 829.0 2988.2C829.1 2990.2 829.2 2992.2 829.3 2994.2C829.4 2996.2 829.5 2998.3 829.7 3000.3C829.8 3002.3 829.9 3004.3 830.0 3006.3C830.2 3008.3 830.3 3010.3 830.4 3012.3C830.5 3014.3 830.6 3016.3 830.8 3018.3C830.9 3020.3 831.0 3022.3 831.1 3024.4C831.3 3026.4 831.4 3028.4 831.5 3030.4C831.6 3032.4 831.8 3034.4 831.9 3036.4C832.0 3038.4 832.2 3040.4 832.3 3042.4C832.4 3044.4 832.5 3046.4 832.7 3048.4C832.8 3050.4 832.9 3052.4 833.1 3054.5C833.2 3056.5 833.3 3058.5 833.5 3060.5C833.6 3062.5 833.7 3064.5 833.9 3066.5C834.0 3068.5 834.2 3070.5 834.3 3072.5C834.4 3074.5 834.6 3076.5 834.7 3078.5C834.8 3080.5 835.0 3082.5 835.1 3084.6C835.3 3086.6 835.4 3088.6 835.5 3090.6C835.7 3092.6 835.8 3094.6 836.0 3096.6C836.1 3098.6 836.3 3100.6 836.4 3102.6C836.6 3104.6 836.7 3106.6 836.9 3108.6C837.0 3110.6 837.2 3112.6 837.3 3114.6C837.5 3116.6 837.6 3118.7 837.8 3120.7C837.9 3122.7 838.1 3124.7 838.2 3126.7C838.4 3128.7 838.5 3130.7 838.7 3132.7C838.8 3134.7 839.0 3136.7 839.1 3138.7C839.3 3140.7 839.4 3142.7 839.6 3144.7C839.7 3146.7 839.9 3148.7 840.0 3150.7C840.2 3152.7 840.3 3154.7 840.5 3156.8C840.7 3158.8 840.8 3160.8 841.0 3162.8C841.1 3164.8 841.3 3166.8 841.4 3168.8C841.6 3170.8 841.7 3172.8 841.9 3174.8C842.0 3176.8 842.2 3178.8 842.4 3180.8C842.5 3182.8 842.7 3184.8 842.8 3186.8C843.0 3188.8 843.1 3190.8 843.3 3192.8C843.4 3194.8 843.6 3196.9 843.8 3198.9C843.9 3200.9 844.1 3202.9 844.2 3204.9C844.4 3206.9 844.5 3208.9 844.7 3210.9C844.8 3212.9 845.0 3214.9 845.1 3216.9C845.3 3218.9 845.4 3220.9 845.6 3222.9C845.8 3224.9 845.9 3226.9 846.1 3228.9C846.2 3230.9 846.4 3232.9 846.5 3235.0C846.7 3237.0 846.8 3239.0 847.0 3241.0C847.1 3243.0 847.3 3245.0 847.4 3247.0C847.5 3249.0 847.7 3251.0 847.8 3253.0C848.0 3255.0 848.1 3257.0 848.3 3259.0C848.4 3261.0 848.6 3263.0 848.7 3265.0C848.9 3267.0 849.0 3269.1 849.1 3271.1C849.3 3273.1 849.4 3275.1 849.6 3277.1C849.7 3279.1 849.8 3281.1 850.0 3283.1C850.1 3285.1 850.3 3287.1 850.4 3289.1C850.5 3291.1 850.7 3293.1 850.8 3295.1C850.9 3297.1 851.1 3299.1 851.2 3301.2C851.3 3303.2 851.4 3305.2 851.6 3307.2C851.7 3309.2 851.8 3311.2 852.0 3313.2C852.1 3315.2 852.2 3317.2 852.3 3319.2C852.5 3321.2 852.6 3323.2 852.7 3325.2C852.8 3327.2 852.9 3329.3 853.1 3331.3C853.2 3333.3 853.3 3335.3 853.4 3337.3C853.5 3339.3 853.6 3341.3 853.7 3343.3C853.9 3345.3 854.0 3347.3 854.1 3349.3C854.2 3351.3 854.3 3353.4 854.4 3355.4C854.5 3357.4 854.6 3359.4 854.7 3361.4C854.8 3363.4 854.9 3365.4 855.0 3367.4C855.1 3369.4 855.2 3371.4 855.3 3373.4C855.4 3375.4 855.5 3377.5 855.6 3379.5C855.7 3381.5 855.8 3383.5 855.9 3385.5C856.0 3387.5 856.1 3389.5 856.2 3391.5C856.3 3393.5 856.4 3395.5 856.5 3397.5C856.6 3399.6 856.7 3401.6 856.8 3403.6C856.9 3405.6 857.0 3407.6 857.1 3409.6C857.2 3411.6 857.3 3413.6 857.4 3415.6C857.5 3417.6 857.6 3419.6 857.7 3421.6C857.8 3423.7 857.9 3425.7 858.0 3427.7C858.1 3429.7 858.3 3431.7 858.4 3433.7C858.5 3435.7 858.6 3437.7 858.7 3439.7C858.9 3441.7 859.0 3443.7 859.1 3445.7C859.2 3447.7 859.4 3449.8 859.5 3451.8C859.6 3453.8 859.8 3455.8 859.9 3457.8C860.0 3459.8 860.2 3461.8 860.3 3463.8C860.5 3465.8 860.6 3467.8 860.8 3469.8C860.9 3471.8 861.1 3473.8 861.3 3475.8C861.4 3477.8 861.6 3479.8 861.8 3481.8C861.9 3483.8 862.1 3485.8 862.3 3487.8C862.5 3489.9 862.7 3491.9 862.9 3493.9C863.1 3495.9 863.3 3497.9 863.5 3499.9C863.7 3501.9 863.9 3503.9 864.1 3505.9C864.3 3507.9 864.5 3509.9 864.8 3511.9C865.0 3513.9 865.2 3515.8 865.5 3517.8C865.7 3519.8 866.0 3521.8 866.2 3523.8C866.5 3525.8 866.8 3527.8 867.0 3529.8C867.3 3531.8 867.6 3533.8 867.9 3535.8C868.1 3537.8 868.2 3539.9 868.8 3541.8C869.3 3543.6 870.0 3547.0 870.9 3547.1C871.7 3547.1 873.1 3543.8 873.9 3542.0C874.7 3540.1 875.2 3538.1 875.7 3536.2C876.1 3534.2 876.5 3532.3 876.8 3530.3C877.1 3528.3 877.3 3526.3 877.5 3524.3C877.7 3522.3 877.8 3520.3 877.9 3518.3C878.0 3516.3 878.1 3514.2 878.1 3512.2C878.2 3510.2 878.2 3508.2 878.3 3506.2C878.3 3504.2 878.4 3502.2 878.5 3500.2C878.5 3498.2 878.6 3496.2 878.7 3494.1C878.7 3492.1 878.8 3490.1 878.9 3488.1C879.0 3486.1 879.1 3484.1 879.2 3482.1C879.3 3480.1 879.4 3478.1 879.5 3476.1C879.6 3474.1 879.7 3472.0 879.8 3470.0C879.9 3468.0 880.0 3466.0 880.1 3464.0C880.2 3462.0 880.3 3460.0 880.4 3458.0C880.5 3456.0 880.6 3454.0 880.7 3452.0C880.8 3450.0 880.9 3447.9 881.0 3445.9C881.1 3443.9 881.2 3441.9 881.3 3439.9C881.4 3437.9 881.5 3435.9 881.6 3433.9C881.7 3431.9 881.8 3429.9 881.9 3427.9C882.0 3425.8 882.1 3423.8 882.2 3421.8C882.3 3419.8 882.3 3417.8 882.4 3415.8C882.5 3413.8 882.6 3411.8 882.7 3409.8C882.8 3407.8 882.9 3405.8 883.0 3403.7C883.1 3401.7 883.2 3399.7 883.3 3397.7C883.3 3395.7 883.4 3393.7 883.5 3391.7C883.6 3389.7 883.7 3387.7 883.8 3385.7C883.9 3383.7 883.9 3381.6 884.0 3379.6C884.1 3377.6 884.2 3375.6 884.3 3373.6C884.4 3371.6 884.4 3369.6 884.5 3367.6C884.6 3365.6 884.7 3363.6 884.8 3361.6C884.8 3359.5 884.9 3357.5 885.0 3355.5C885.1 3353.5 885.2 3351.5 885.2 3349.5C885.3 3347.5 885.4 3345.5 885.5 3343.5C885.6 3341.5 885.6 3339.4 885.7 3337.4C885.8 3335.4 885.9 3333.4 885.9 3331.4C886.0 3329.4 886.1 3327.4 886.2 3325.4C886.2 3323.4 886.3 3321.4 886.4 3319.3C886.5 3317.3 886.5 3315.3 886.6 3313.3C886.7 3311.3 886.8 3309.3 886.8 3307.3C886.9 3305.3 887.0 3303.3 887.0 3301.3C887.1 3299.3 887.2 3297.2 887.3 3295.2C887.3 3293.2 887.4 3291.2 887.5 3289.2C887.5 3287.2 887.6 3285.2 887.7 3283.2C887.7 3281.2 887.8 3279.2 887.9 3277.1C888.0 3275.1 888.0 3273.1 888.1 3271.1C888.2 3269.1 888.2 3267.1 888.3 3265.1C888.4 3263.1 888.4 3261.1 888.5 3259.1C888.6 3257.0 888.6 3255.0 888.7 3253.0C888.8 3251.0 888.8 3249.0 888.9 3247.0C889.0 3245.0 889.0 3243.0 889.1 3241.0C889.2 3239.0 889.2 3236.9 889.3 3234.9C889.4 3232.9 889.4 3230.9 889.5 3228.9C889.5 3226.9 889.6 3224.9 889.7 3222.9C889.7 3220.9 889.8 3218.9 889.9 3216.8C889.9 3214.8 890.0 3212.8 890.1 3210.8C890.1 3208.8 890.2 3206.8 890.2 3204.8C890.3 3202.8 890.4 3200.8 890.4 3198.7C890.5 3196.7 890.6 3194.7 890.6 3192.7C890.7 3190.7 890.7 3188.7 890.8 3186.7C890.9 3184.7 890.9 3182.7 891.0 3180.7C891.1 3178.6 891.1 3176.6 891.2 3174.6C891.2 3172.6 891.3 3170.6 891.4 3168.6C891.4 3166.6 891.5 3164.6 891.6 3162.6C891.6 3160.6 891.7 3158.5 891.7 3156.5C891.8 3154.5 891.9 3152.5 891.9 3150.5C892.0 3148.5 892.0 3146.5 892.1 3144.5C892.2 3142.5 892.2 3140.5 892.3 3138.4C892.3 3136.4 892.4 3134.4 892.5 3132.4C892.5 3130.4 892.6 3128.4 892.6 3126.4C892.7 3124.4 892.8 3122.4 892.8 3120.4C892.9 3118.3 892.9 3116.3 893.0 3114.3C893.1 3112.3 893.1 3110.3 893.2 3108.3C893.2 3106.3 893.3 3104.3 893.4 3102.3C893.4 3100.3 893.5 3098.2 893.5 3096.2C893.6 3094.2 893.7 3092.2 893.7 3090.2C893.8 3088.2 893.8 3086.2 893.9 3084.2C894.0 3082.2 894.0 3080.1 894.1 3078.1C894.1 3076.1 894.2 3074.1 894.2 3072.1C894.3 3070.1 894.4 3068.1 894.4 3066.1C894.5 3064.1 894.5 3062.1 894.6 3060.0C894.7 3058.0 894.7 3056.0 894.8 3054.0C894.8 3052.0 894.9 3050.0 895.0 3048.0C895.0 3046.0 895.1 3044.0 895.1 3042.0C895.2 3039.9 895.2 3037.9 895.3 3035.9C895.4 3033.9 895.4 3031.9 895.5 3029.9C895.5 3027.9 895.6 3025.9 895.7 3023.9C895.7 3021.9 895.8 3019.8 895.8 3017.8C895.9 3015.8 895.9 3013.8 896.0 3011.8C896.1 3009.8 896.1 3007.8 896.2 3005.8C896.2 3003.8 896.3 3001.7 896.4 2999.7C896.4 2997.7 896.5 2995.7 896.5 2993.7C896.6 2991.7 896.6 2989.7 896.7 2987.7C896.8 2985.7 896.8 2983.7 896.9 2981.6C896.9 2979.6 897.0 2977.6 897.1 2975.6C897.1 2973.6 897.2 2971.6 897.2 2969.6C897.3 2967.6 897.4 2965.6 897.4 2963.6C897.5 2961.5 897.5 2959.5 897.6 2957.5C897.7 2955.5 897.7 2953.5 897.8 2951.5C897.8 2949.5 897.9 2947.5 897.9 2945.5C898.0 2943.5 898.1 2941.4 898.1 2939.4C898.2 2937.4 898.2 2935.4 898.3 2933.4C898.4 2931.4 898.4 2929.4 898.5 2927.4C898.5 2925.4 898.6 2923.3 898.7 2921.3C898.7 2919.3 898.8 2917.3 898.8 2915.3C898.9 2913.3 899.0 2911.3 899.0 2909.3C899.1 2907.3 899.1 2905.3 899.2 2903.2C899.3 2901.2 899.3 2899.2 899.4 2897.2C899.4 2895.2 899.5 2893.2 899.6 2891.2C899.6 2889.2 899.7 2887.2 899.8 2885.2C899.8 2883.1 899.9 2881.1 899.9 2879.1C900.0 2877.1 900.1 2875.1 900.1 2873.1C900.2 2871.1 900.2 2869.1 900.3 2867.1C900.4 2865.1 900.4 2863.0 900.5 2861.0C900.6 2859.0 900.6 2857.0 900.7 2855.0C900.7 2853.0 900.8 2851.0 900.9 2849.0C900.9 2847.0 901.0 2845.0 901.1 2842.9C901.1 2840.9 901.2 2838.9 901.3 2836.9C901.3 2834.9 901.4 2832.9 901.4 2830.9C901.5 2828.9 901.6 2826.9 901.6 2824.9C901.7 2822.8 901.8 2820.8 901.8 2818.8C901.9 2816.8 902.0 2814.8 902.0 2812.8C902.1 2810.8 902.2 2808.8 902.2 2806.8C902.3 2804.8 902.3 2802.7 902.4 2800.7C902.5 2798.7 902.5 2796.7 902.6 2794.7C902.7 2792.7 902.7 2790.7 902.8 2788.7C902.9 2786.7 902.9 2784.6 903.0 2782.6C903.1 2780.6 903.1 2778.6 903.2 2776.6C903.3 2774.6 903.3 2772.6 903.4 2770.6C903.5 2768.6 903.5 2766.6 903.6 2764.6C903.7 2762.5 903.8 2760.5 903.8 2758.5C903.9 2756.5 904.0 2754.5 904.0 2752.5C904.1 2750.5 904.2 2748.5 904.2 2746.5C904.3 2744.5 904.4 2742.4 904.4 2740.4C904.5 2738.4 904.6 2736.4 904.7 2734.4C904.7 2732.4 904.8 2730.4 904.9 2728.4C904.9 2726.4 905.0 2724.4 905.1 2722.3C905.2 2720.3 905.2 2718.3 905.3 2716.3C905.4 2714.3 905.4 2712.3 905.5 2710.3C905.6 2708.3 905.7 2706.3 905.7 2704.3C905.8 2702.2 905.9 2700.2 906.0 2698.2C906.0 2696.2 906.1 2694.2 906.2 2692.2C906.2 2690.2 906.3 2688.2 906.4 2686.2C906.5 2684.2 906.5 2682.1 906.6 2680.1C906.7 2678.1 906.8 2676.1 906.8 2674.1C906.9 2672.1 907.0 2670.1 907.1 2668.1C907.2 2666.1 907.2 2664.1 907.3 2662.0C907.4 2660.0 907.5 2658.0 907.5 2656.0C907.6 2654.0 907.7 2652.0 907.8 2650.0C907.9 2648.0 907.9 2646.0 908.0 2644.0C908.1 2642.0 908.2 2639.9 908.2 2637.9C908.3 2635.9 908.4 2633.9 908.5 2631.9C908.6 2629.9 908.7 2627.9 908.7 2625.9C908.8 2623.9 908.9 2621.9 909.0 2619.8C909.1 2617.8 909.1 2615.8 909.2 2613.8C909.3 2611.8 909.4 2609.8 909.5 2607.8C909.6 2605.8 909.6 2603.8 909.7 2601.8C909.8 2599.8 909.9 2597.7 910.0 2595.7C910.1 2593.7 910.1 2591.7 910.2 2589.7C910.3 2587.7 910.4 2585.7 910.5 2583.7C910.6 2581.7 910.7 2579.7 910.7 2577.7C910.8 2575.6 910.9 2573.6 911.0 2571.6C911.1 2569.6 911.2 2567.6 911.3 2565.6C911.4 2563.6 911.4 2561.6 911.5 2559.6C911.6 2557.6 911.7 2555.6 911.8 2553.5C911.9 2551.5 912.0 2549.5 912.1 2547.5C912.2 2545.5 912.3 2543.5 912.3 2541.5C912.4 2539.5 912.5 2537.5 912.6 2535.5C912.7 2533.5 912.8 2531.4 912.9 2529.4C913.0 2527.4 913.0 2526.5 913.2 2523.4C913.8 2513.1 916.6 2465.2 918.0 2456.1C918.3 2453.7 918.6 2453.1 918.9 2451.7C919.3 2450.2 919.6 2448.7 919.8 2447.2C920.1 2445.7 920.4 2444.2 920.6 2442.7C920.9 2441.2 921.1 2439.7 921.3 2438.2C921.6 2436.8 921.8 2435.3 922.0 2433.8C922.2 2432.3 922.4 2430.8 922.6 2429.3C922.8 2427.8 923.0 2426.3 923.2 2424.8C923.4 2423.3 923.5 2421.8 923.7 2420.3C923.9 2418.8 924.1 2417.3 924.3 2415.8C924.4 2414.3 924.6 2412.8 924.8 2411.3C925.0 2409.8 925.2 2408.3 925.4 2406.8C925.6 2405.3 925.8 2403.8 926.0 2402.3C926.2 2400.8 926.5 2399.3 926.7 2397.8C926.9 2396.3 927.2 2394.8 927.4 2393.3C927.7 2391.9 928.0 2390.4 928.3 2389.0C928.6 2387.5 928.9 2386.1 929.2 2384.6C929.5 2383.1 929.9 2381.6 930.2 2380.1C930.6 2378.7 931.0 2377.2 931.4 2375.7C931.8 2374.3 932.2 2372.9 932.7 2371.4C933.1 2370.0 933.6 2368.6 934.1 2367.2C934.7 2365.7 935.2 2364.3 935.8 2362.9C936.3 2361.5 936.9 2360.1 937.6 2358.7C938.3 2357.4 939.0 2356.0 939.8 2354.8C940.6 2353.5 941.4 2352.4 942.4 2351.2C943.3 2350.0 944.3 2348.8 945.4 2347.7C946.5 2346.6 947.6 2345.3 948.9 2344.6C950.1 2343.9 951.4 2343.8 952.7 2343.4C954.0 2343.0 955.4 2342.9 956.8 2342.5C958.3 2342.0 959.7 2341.3 961.1 2340.7C962.6 2340.1 964.1 2339.5 965.6 2339.0C967.1 2338.4 968.7 2337.4 970.1 2337.4C971.6 2337.5 973.1 2338.3 974.5 2339.2C975.9 2340.1 977.1 2342.0 978.6 2342.9C979.9 2343.7 981.5 2344.4 983.0 2344.3C984.5 2344.2 986.0 2343.0 987.5 2342.3C988.9 2341.7 990.4 2340.8 991.9 2340.5C993.4 2340.2 994.9 2340.5 996.4 2340.4C997.9 2340.3 999.4 2340.3 1000.8 2339.7C1002.2 2339.2 1003.5 2337.9 1004.8 2337.0C1006.1 2336.0 1007.2 2335.0 1008.5 2334.1C1009.7 2333.2 1010.9 2332.5 1012.2 2331.6C1013.5 2330.7 1014.7 2329.7 1016.1 2328.9C1017.3 2328.1 1018.6 2327.4 1019.9 2326.8C1021.2 2326.2 1022.4 2326.1 1023.6 2325.5C1024.8 2324.8 1025.9 2323.7 1027.0 2322.6C1028.1 2321.4 1029.1 2319.7 1030.2 2318.5C1031.3 2317.2 1032.3 2316.0 1033.5 2315.0C1034.6 2314.0 1035.9 2313.3 1037.1 2312.5C1038.3 2311.7 1039.5 2310.9 1040.8 2310.3C1042.1 2309.6 1043.4 2309.2 1044.6 2308.5C1045.9 2307.7 1047.1 2306.8 1048.3 2305.8C1049.4 2304.9 1050.5 2303.8 1051.6 2302.8C1052.7 2301.8 1053.8 2301.0 1054.8 2299.9C1055.9 2298.8 1056.8 2297.6 1057.9 2296.3C1058.9 2294.9 1059.9 2293.4 1061.1 2292.1C1062.1 2290.9 1063.3 2289.8 1064.5 2288.9C1065.7 2288.0 1067.0 2287.3 1068.3 2286.7C1069.5 2286.1 1070.9 2285.6 1072.2 2285.1C1073.6 2284.6 1075.0 2284.2 1076.4 2283.6C1077.9 2282.9 1079.3 2281.8 1080.8 2281.2C1082.2 2280.5 1083.7 2279.8 1085.2 2279.5C1086.6 2279.2 1088.1 2279.2 1089.6 2279.3C1091.1 2279.3 1092.5 2279.7 1094.0 2279.7C1095.5 2279.7 1097.0 2279.8 1098.4 2279.5C1099.9 2279.1 1101.3 2278.1 1102.8 2277.6C1104.3 2277.0 1105.8 2276.4 1107.3 2276.0C1108.8 2275.7 1110.3 2275.8 1111.8 2275.5C1113.3 2275.2 1114.8 2274.4 1116.3 2274.2C1117.8 2273.9 1119.3 2274.0 1120.8 2274.0C1122.2 2274.1 1123.6 2274.7 1125.0 2274.4C1126.4 2274.1 1127.7 2272.8 1129.1 2272.2C1130.5 2271.6 1132.1 2270.4 1133.5 2270.6C1134.8 2270.8 1135.9 2272.4 1137.2 2273.1C1138.5 2273.9 1139.8 2274.9 1141.2 2275.0C1142.6 2275.2 1144.2 2274.7 1145.6 2274.2C1147.0 2273.7 1148.3 2272.6 1149.7 2271.9C1151.1 2271.2 1152.5 2270.3 1153.9 2270.0C1155.4 2269.7 1156.9 2270.1 1158.4 2270.2C1159.9 2270.3 1161.4 2270.5 1162.9 2270.6C1164.4 2270.7 1166.0 2270.6 1167.5 2270.6C1169.0 2270.5 1170.5 2270.4 1172.0 2270.3C1173.5 2270.3 1175.0 2270.4 1176.5 2270.5C1178.0 2270.5 1179.5 2270.6 1181.0 2270.5C1182.5 2270.4 1184.0 2269.9 1185.5 2269.8C1187.0 2269.6 1188.5 2269.7 1190.0 2269.6C1191.5 2269.4 1193.0 2269.4 1194.4 2269.0C1196.0 2268.6 1197.4 2267.7 1198.9 2267.1C1200.4 2266.5 1201.8 2265.5 1203.3 2265.3C1204.8 2265.1 1206.3 2265.6 1207.8 2265.8C1209.3 2266.0 1210.8 2266.4 1212.3 2266.4C1213.8 2266.4 1215.3 2266.0 1216.8 2265.8C1218.3 2265.7 1219.8 2265.8 1221.3 2265.7C1222.9 2265.5 1224.3 2265.1 1225.9 2264.9C1227.3 2264.8 1228.9 2264.7 1230.4 2264.8C1231.9 2265.0 1233.5 2266.0 1234.8 2265.7C1236.2 2265.4 1237.4 2263.9 1238.6 2262.9C1239.8 2261.7 1240.6 2259.9 1241.9 2259.1C1243.1 2258.3 1244.7 2258.1 1246.1 2258.0C1247.6 2257.9 1249.1 2258.3 1250.6 2258.4C1252.1 2258.5 1253.6 2258.8 1255.1 2258.8C1256.6 2258.7 1258.1 2258.4 1259.6 2258.4C1261.1 2258.4 1262.6 2258.4 1264.1 2258.8C1265.6 2259.1 1267.1 2260.0 1268.6 2260.3C1270.1 2260.6 1271.7 2260.8 1273.2 2260.6C1274.7 2260.4 1276.2 2259.6 1277.6 2259.1C1279.1 2258.6 1280.6 2257.7 1282.1 2257.5C1283.6 2257.3 1285.1 2257.7 1286.6 2257.9C1288.1 2258.0 1289.7 2258.5 1291.2 2258.4C1292.7 2258.3 1294.2 2257.6 1295.7 2257.3C1297.2 2256.9 1298.7 2256.4 1300.2 2256.4C1301.7 2256.4 1303.2 2256.8 1304.7 2257.3C1306.3 2257.7 1307.7 2258.7 1309.3 2259.1C1310.7 2259.5 1312.3 2259.8 1313.8 2259.8C1315.3 2259.7 1316.8 2259.2 1318.3 2258.8C1319.8 2258.4 1321.3 2257.7 1322.8 2257.5C1324.3 2257.2 1325.8 2257.2 1327.4 2257.2C1328.9 2257.1 1330.4 2257.1 1331.9 2257.2C1333.4 2257.2 1334.9 2257.3 1336.4 2257.3C1337.9 2257.3 1339.4 2257.1 1340.9 2257.1C1342.4 2257.1 1344.0 2257.0 1345.4 2257.3C1347.0 2257.5 1348.4 2258.3 1350.0 2258.5C1351.4 2258.8 1353.0 2258.9 1354.5 2258.9C1356.0 2258.8 1357.5 2258.5 1359.0 2258.2C1360.5 2258.0 1362.0 2257.4 1363.5 2257.4C1365.0 2257.5 1366.5 2258.0 1368.0 2258.5C1369.5 2259.0 1371.0 2260.2 1372.5 2260.6C1374.0 2261.0 1375.5 2260.9 1377.0 2261.0C1378.5 2261.1 1380.0 2261.2 1381.5 2261.3C1383.0 2261.3 1384.6 2261.5 1386.1 2261.5C1387.6 2261.5 1389.1 2261.3 1390.5 2261.2C1392.0 2261.1 1393.5 2261.0 1395.0 2260.8C1396.4 2260.6 1397.9 2260.5 1399.4 2260.1C1400.9 2259.7 1402.4 2259.0 1403.9 2258.4C1405.4 2257.9 1406.9 2257.0 1408.4 2257.0C1409.9 2257.0 1411.4 2257.8 1412.8 2258.4C1414.3 2259.0 1415.7 2260.3 1417.2 2260.9C1418.7 2261.4 1420.2 2261.5 1421.7 2261.8C1423.2 2262.1 1424.7 2262.3 1426.2 2262.6C1427.7 2262.8 1429.2 2263.2 1430.7 2263.2C1432.2 2263.3 1433.8 2263.1 1435.3 2263.1C1436.8 2263.1 1438.3 2263.3 1439.8 2263.3C1441.3 2263.3 1442.8 2263.3 1444.3 2263.1C1445.8 2262.9 1447.3 2262.3 1448.8 2262.1C1450.3 2262.0 1451.9 2262.1 1453.4 2262.3C1454.9 2262.5 1456.4 2263.4 1457.9 2263.6C1459.4 2263.7 1460.9 2263.5 1462.4 2263.2C1463.9 2263.0 1465.4 2262.1 1466.9 2262.1C1468.4 2262.1 1469.9 2262.9 1471.4 2263.5C1472.9 2264.0 1474.4 2264.9 1475.9 2265.2C1477.3 2265.5 1478.9 2265.1 1480.3 2265.1C1481.8 2265.1 1483.3 2265.1 1484.8 2265.3C1486.3 2265.4 1487.8 2265.7 1489.3 2266.1C1490.8 2266.6 1492.3 2267.4 1493.8 2267.8C1495.2 2268.3 1496.7 2268.5 1498.2 2268.7C1499.7 2269.0 1501.2 2268.8 1502.7 2269.2C1504.2 2269.7 1505.6 2270.6 1507.1 2271.2C1508.5 2271.9 1509.9 2272.7 1511.3 2273.3C1512.7 2274.0 1514.0 2274.7 1515.4 2275.2C1516.8 2275.7 1518.2 2276.1 1519.6 2276.4C1521.0 2276.6 1522.6 2276.8 1524.0 2276.7C1525.5 2276.6 1527.1 2276.1 1528.5 2275.5C1529.8 2274.9 1531.1 2274.0 1532.2 2273.2C1533.3 2272.4 1534.2 2271.5 1535.2 2270.6C1536.2 2269.9 1537.1 2268.8 1538.2 2268.4C1539.3 2267.9 1540.8 2267.5 1541.6 2268.0C1542.6 2268.5 1542.6 2270.7 1543.3 2271.7C1544.0 2272.8 1544.8 2273.8 1545.9 2274.3C1547.1 2274.9 1548.8 2274.6 1550.2 2274.8C1551.7 2274.9 1553.2 2275.1 1554.7 2275.1C1556.2 2275.2 1557.6 2275.1 1559.1 2275.0C1560.6 2274.9 1562.1 2274.8 1563.5 2274.7C1565.0 2274.6 1566.6 2274.1 1568.0 2274.2C1569.5 2274.4 1571.0 2274.9 1572.4 2275.4C1573.9 2276.0 1575.3 2277.5 1576.9 2277.8C1578.3 2278.1 1579.9 2277.7 1581.4 2277.2C1582.9 2276.6 1584.3 2275.2 1585.9 2274.5C1587.3 2273.7 1588.8 2273.1 1590.2 2272.7C1591.7 2272.3 1593.1 2272.2 1594.6 2272.0C1596.0 2271.8 1597.4 2271.7 1598.9 2271.4C1600.3 2271.0 1601.8 2270.3 1603.2 2269.9C1604.7 2269.5 1606.2 2269.1 1607.7 2269.1C1609.2 2269.0 1610.7 2269.6 1612.2 2269.8C1613.7 2269.9 1615.2 2270.2 1616.7 2270.0C1618.2 2269.8 1619.7 2269.2 1621.1 2268.7C1622.6 2268.1 1624.1 2267.5 1625.5 2266.9C1626.9 2266.4 1628.4 2265.9 1629.8 2265.3C1631.2 2264.8 1632.5 2264.1 1633.9 2263.4C1635.3 2262.8 1636.7 2262.0 1638.1 2261.4C1639.6 2260.8 1641.0 2260.2 1642.5 2260.0C1643.9 2259.8 1645.4 2260.1 1646.9 2260.2C1648.4 2260.2 1649.9 2260.3 1651.4 2260.0C1652.9 2259.7 1654.4 2258.9 1655.9 2258.5C1657.4 2258.0 1658.9 2257.4 1660.4 2257.4C1661.9 2257.3 1663.4 2257.6 1664.9 2258.0C1666.4 2258.5 1667.8 2259.7 1669.3 2260.3C1670.7 2260.8 1672.2 2261.1 1673.7 2261.4C1675.1 2261.6 1676.7 2261.3 1678.1 2261.6C1679.6 2262.0 1681.1 2263.0 1682.6 2263.6C1684.1 2264.3 1685.6 2265.4 1687.1 2265.7C1688.6 2265.9 1690.1 2265.6 1691.6 2265.4C1693.2 2265.2 1694.6 2264.7 1696.2 2264.5C1697.6 2264.2 1699.2 2264.3 1700.6 2264.1C1702.1 2263.9 1703.6 2263.6 1705.1 2263.2C1706.6 2262.8 1708.1 2261.9 1709.6 2261.6C1711.1 2261.2 1712.6 2261.1 1714.1 2261.0C1715.6 2260.9 1717.2 2261.1 1718.7 2261.1C1720.1 2261.1 1721.6 2260.9 1723.1 2260.9C1724.6 2261.0 1726.1 2261.0 1727.5 2261.4C1729.0 2261.9 1730.4 2262.8 1731.9 2263.6C1733.4 2264.4 1734.8 2265.9 1736.4 2266.4C1737.8 2266.9 1739.4 2267.1 1740.9 2267.0C1742.4 2266.8 1743.9 2265.9 1745.4 2265.6C1746.9 2265.3 1748.4 2264.8 1749.9 2265.0C1751.3 2265.2 1752.7 2266.0 1754.1 2266.8C1755.5 2267.6 1756.8 2268.9 1758.2 2269.8C1759.6 2270.7 1761.0 2271.7 1762.5 2272.2C1764.0 2272.7 1765.6 2273.1 1767.0 2272.8C1768.5 2272.5 1769.9 2271.2 1771.3 2270.3C1772.7 2269.5 1774.1 2268.1 1775.5 2267.8C1777.0 2267.4 1778.6 2267.6 1780.0 2268.1C1781.3 2268.6 1782.5 2269.7 1783.7 2270.7C1784.9 2271.7 1785.9 2273.2 1787.2 2274.2C1788.4 2275.1 1789.9 2276.5 1791.4 2276.5C1792.8 2276.6 1794.2 2275.0 1795.7 2274.5C1797.1 2273.9 1798.6 2273.1 1799.9 2273.2C1801.3 2273.4 1802.7 2274.5 1803.9 2275.5C1805.0 2276.4 1805.6 2277.9 1806.6 2278.8C1807.6 2279.7 1808.8 2281.0 1809.9 2281.0C1811.1 2280.9 1812.4 2279.2 1813.5 2278.1C1814.6 2277.2 1815.3 2275.9 1816.4 2275.0C1817.5 2274.1 1818.9 2272.7 1820.0 2272.9C1821.0 2273.1 1822.1 2274.8 1822.8 2275.9C1823.4 2277.2 1823.6 2278.7 1823.9 2280.1C1824.2 2281.6 1824.4 2283.1 1824.6 2284.6" fill="none" stroke="#00f96c" stroke-width="5.5" stroke-linecap="round" stroke-linejoin="round"/>
<path d="M438.9 2272.8C440.2 2272.4 441.4 2271.6 442.7 2271.7C443.9 2271.8 445.2 2272.7 446.3 2273.4C447.3 2274.2 448.2 2275.2 449.2 2276.2C450.1 2277.1 450.9 2278.2 451.8 2279.2C452.7 2280.2 453.5 2281.2 454.4 2282.3C455.2 2283.3 456.1 2284.3 456.9 2285.4C457.7 2286.4 458.5 2287.5 459.3 2288.6C460.1 2289.6 460.9 2290.7 461.7 2291.8C462.5 2292.9 463.3 2294.0 464.0 2295.0C464.8 2296.1 465.6 2297.2 466.3 2298.3C467.1 2299.4 467.8 2300.5 468.6 2301.7C469.3 2302.8 470.1 2303.9 470.8 2305.0C471.5 2306.1 472.3 2307.2 473.0 2308.4C473.7 2309.5 474.4 2310.6 475.2 2311.7C475.9 2312.9 476.6 2314.0 477.3 2315.1C478.0 2316.2 478.7 2317.4 479.4 2318.5C480.1 2319.6 480.8 2320.8 481.5 2321.9C482.2 2323.1 482.9 2324.2 483.6 2325.3C484.3 2326.5 485.0 2327.6 485.7 2328.8C486.4 2329.9 487.0 2331.1 487.7 2332.2C488.4 2333.4 489.1 2334.5 489.8 2335.7C490.4 2336.8 491.1 2338.0 491.8 2339.1C492.5 2340.3 493.1 2341.4 493.8 2342.6C494.5 2343.8 495.1 2344.9 495.8 2346.1C496.4 2347.2 497.1 2348.4 497.8 2349.6C498.4 2350.7 499.1 2351.9 499.7 2353.1C500.4 2354.2 501.0 2355.4 501.7 2356.6C502.3 2357.7 503.0 2358.9 503.6 2360.1C504.3 2361.2 504.9 2362.4 505.6 2363.6C506.2 2364.7 506.9 2365.9 507.5 2367.1C508.2 2368.3 508.8 2369.4 509.4 2370.6C510.1 2371.8 510.7 2372.9 511.4 2374.1C512.0 2375.3 512.6 2376.5 513.3 2377.6C513.9 2378.8 514.6 2380.0 515.2 2381.1C515.9 2382.3 516.5 2383.5 517.2 2384.6C517.8 2385.8 518.5 2387.0 519.2 2388.1C519.8 2389.3 520.5 2390.4 521.2 2391.6C521.9 2392.7 522.5 2393.9 523.2 2395.0C523.9 2396.2 524.6 2397.3 525.3 2398.4C526.0 2399.6 526.7 2400.7 527.5 2401.8C528.2 2403.0 528.9 2404.1 529.6 2405.2C530.4 2406.3 531.1 2407.4 531.9 2408.5C532.6 2409.6 533.4 2410.7 534.2 2411.8C535.0 2412.8 535.8 2413.9 536.7 2414.9C537.6 2415.9 538.5 2416.9 539.5 2417.8C540.4 2418.7 541.5 2419.6 542.5 2420.4C543.6 2421.2 544.8 2421.9 546.0 2422.5C547.1 2423.1 548.4 2423.6 549.7 2424.0C550.9 2424.3 552.3 2424.6 553.6 2424.8C554.9 2424.9 556.3 2424.9 557.6 2424.8C558.9 2424.7 560.3 2424.4 561.5 2423.9C562.7 2423.5 563.9 2422.8 565.0 2422.0C566.1 2421.3 567.1 2420.3 568.0 2419.4C569.0 2418.5 569.8 2417.4 570.7 2416.4C571.5 2415.4 572.3 2414.3 573.1 2413.2C573.9 2412.1 574.6 2411.0 575.4 2409.9C576.2 2408.8 576.9 2407.7 577.7 2406.6C578.5 2405.6 579.3 2404.5 580.1 2403.4C580.8 2402.3 581.6 2401.2 582.4 2400.1C583.2 2399.1 584.0 2398.0 584.8 2396.9C585.6 2395.9 586.4 2394.8 587.2 2393.7C588.0 2392.7 588.8 2391.6 589.6 2390.5C590.5 2389.5 591.3 2388.4 592.1 2387.4C593.0 2386.3 593.8 2385.3 594.6 2384.3C595.5 2383.2 596.3 2382.2 597.2 2381.2C598.0 2380.1 598.9 2379.1 599.8 2378.1C600.6 2377.1 601.5 2376.1 602.4 2375.1C603.3 2374.1 604.1 2373.1 605.0 2372.1C605.9 2371.1 606.8 2370.1 607.7 2369.1C608.7 2368.1 609.6 2367.2 610.5 2366.2C611.4 2365.3 612.4 2364.3 613.3 2363.4C614.3 2362.4 615.2 2361.5 616.2 2360.6C617.2 2359.6 618.1 2358.7 619.1 2357.8C620.1 2356.9 621.1 2356.0 622.0 2355.1C623.0 2354.2 624.0 2353.3 625.0 2352.4C626.0 2351.5 627.0 2350.6 627.9 2349.6C628.9 2348.7 629.9 2347.8 630.8 2346.9C631.8 2346.0 632.8 2345.0 633.7 2344.1C634.6 2343.1 635.6 2342.2 636.5 2341.2C637.4 2340.2 638.3 2339.2 639.2 2338.2C640.1 2337.2 640.9 2336.2 641.8 2335.2C642.7 2334.2 643.5 2333.2 644.4 2332.1C645.2 2331.1 646.1 2330.1 646.9 2329.0C647.8 2328.0 648.6 2327.0 649.5 2325.9C650.3 2324.9 651.1 2323.9 652.0 2322.8C652.9 2321.8 653.7 2320.8 654.6 2319.7C655.4 2318.7 656.3 2317.7 657.2 2316.7C658.1 2315.7 659.0 2314.7 659.9 2313.7C660.8 2312.8 661.7 2311.8 662.6 2310.8C663.6 2309.9 664.5 2308.9 665.5 2308.0C666.5 2307.1 667.5 2306.2 668.5 2305.3C669.5 2304.5 670.5 2303.6 671.5 2302.8C672.6 2301.9 673.7 2301.1 674.7 2300.4C675.8 2299.6 676.9 2298.8 678.1 2298.1C679.2 2297.4 680.3 2296.7 681.5 2296.1C682.7 2295.4 683.9 2294.8 685.1 2294.2C686.3 2293.7 687.5 2293.1 688.8 2292.7C690.0 2292.2 691.3 2291.8 692.6 2291.4C693.8 2291.0 695.1 2290.7 696.5 2290.5C697.8 2290.2 699.1 2290.1 700.4 2290.0C701.8 2289.9 703.1 2289.9 704.4 2289.9C705.8 2290.0 707.1 2290.2 708.4 2290.4C709.7 2290.7 711.0 2291.0 712.3 2291.4C713.6 2291.8 714.8 2292.3 716.0 2292.8C717.3 2293.4 718.5 2294.0 719.6 2294.6C720.8 2295.3 721.9 2296.0 723.1 2296.7C724.2 2297.4 725.3 2298.2 726.3 2299.0C727.4 2299.8 728.5 2300.6 729.5 2301.5C730.5 2302.3 731.5 2303.2 732.5 2304.1C733.5 2305.0 734.5 2305.9 735.4 2306.9C736.3 2307.8 737.3 2308.8 738.2 2309.8C739.1 2310.7 740.0 2311.8 740.8 2312.8C741.7 2313.8 742.6 2314.8 743.4 2315.8C744.3 2316.9 745.1 2317.9 746.0 2318.9C746.9 2319.9 747.8 2320.9 748.7 2321.8C749.7 2322.8 750.6 2323.7 751.6 2324.6C752.6 2325.5 753.7 2326.3 754.7 2327.2C755.7 2328.0 756.8 2328.8 757.8 2329.7C758.8 2330.6 759.8 2331.5 760.7 2332.5C761.5 2333.5 762.4 2334.6 763.1 2335.7C763.9 2336.8 764.5 2338.0 765.1 2339.1C765.8 2340.3 766.3 2341.5 766.9 2342.7C767.5 2344.0 768.0 2345.2 768.5 2346.4C769.0 2347.7 769.4 2348.9 769.9 2350.2C770.3 2351.5 770.7 2352.7 771.1 2354.0C771.5 2355.3 771.9 2356.6 772.3 2357.8C772.6 2359.1 773.0 2360.4 773.3 2361.7C773.7 2363.0 774.0 2364.3 774.3 2365.6C774.6 2366.9 775.0 2368.2 775.3 2369.5C775.6 2370.8 775.9 2372.1 776.2 2373.4C776.6 2374.7 776.9 2376.0 777.2 2377.3C777.5 2378.6 777.8 2379.9 778.1 2381.2C778.4 2382.5 778.7 2383.8 779.0 2385.1C779.3 2386.4 779.6 2387.7 779.9 2389.0C780.2 2390.3 780.5 2391.6 780.8 2392.9C781.1 2394.2 781.4 2395.5 781.7 2396.8C782.0 2398.1 782.3 2399.4 782.5 2400.7C782.8 2402.0 783.1 2403.3 783.4 2404.6C783.7 2405.9 783.9 2407.2 784.2 2408.5C784.5 2409.8 784.8 2411.2 785.0 2412.5C785.3 2413.8 785.6 2415.1 785.9 2416.4C786.1 2417.7 786.4 2419.0 786.7 2420.3C786.9 2421.6 787.2 2422.9 787.4 2424.2C787.7 2425.6 788.0 2426.9 788.2 2428.2C788.5 2429.5 788.7 2430.8 789.0 2432.1C789.2 2433.4 789.5 2434.7 789.7 2436.1C790.0 2437.4 790.2 2438.7 790.5 2440.0C790.7 2441.3 791.0 2442.6 791.2 2443.9C791.4 2445.2 791.7 2446.6 791.9 2447.9C792.2 2449.2 792.4 2450.5 792.6 2451.8C792.9 2453.1 793.1 2454.4 793.3 2455.8C793.6 2457.1 793.8 2458.4 794.0 2459.7C794.3 2461.0 794.5 2462.3 794.7 2463.7C794.9 2465.0 795.2 2466.3 795.4 2467.6C795.6 2468.9 795.8 2470.2 796.1 2471.6C796.3 2472.9 796.5 2474.2 796.7 2475.5C796.9 2476.8 797.2 2478.2 797.4 2479.5C797.6 2480.8 797.8 2482.1 798.0 2483.4C798.2 2484.7 798.4 2486.1 798.6 2487.4C798.9 2488.7 799.1 2490.0 799.3 2491.3C799.5 2492.7 799.7 2494.0 799.9 2495.3C800.1 2496.6 800.3 2497.9 800.5 2499.3C800.7 2500.6 800.9 2501.9 801.1 2503.2C801.3 2504.5 801.5 2505.9 801.7 2507.2C801.9 2508.5 802.1 2509.8 802.3 2511.2C802.5 2512.5 802.7 2513.8 802.9 2515.1C803.1 2516.4 803.3 2517.8 803.5 2519.1C803.7 2520.4 803.8 2521.7 804.0 2523.1C804.2 2524.4 804.4 2525.7 804.6 2527.0C804.8 2528.3 805.0 2529.7 805.2 2531.0C805.3 2532.3 805.5 2533.6 805.7 2535.0C805.9 2536.3 806.1 2537.6 806.2 2538.9C806.4 2540.3 806.6 2541.6 806.8 2542.9C807.0 2544.2 807.1 2545.6 807.3 2546.9C807.5 2548.2 807.7 2549.5 807.8 2550.9C808.0 2552.2 808.2 2553.5 808.4 2554.8C808.5 2556.2 808.7 2557.5 808.9 2558.8C809.0 2560.1 809.2 2561.5 809.4 2562.8C809.5 2564.1 809.7 2565.4 809.9 2566.8C810.0 2568.1 810.2 2569.4 810.4 2570.7C810.5 2572.1 810.7 2573.4 810.8 2574.7C811.0 2576.0 811.2 2577.4 811.3 2578.7C811.5 2580.0 811.6 2581.3 811.8 2582.7C812.0 2584.0 812.1 2585.3 812.3 2586.7C812.4 2588.0 812.6 2589.3 812.7 2590.6C812.9 2592.0 813.0 2593.3 813.2 2594.6C813.3 2595.9 813.5 2597.3 813.6 2598.6C813.8 2599.9 813.9 2601.3 814.1 2602.6C814.2 2603.9 814.4 2605.2 814.5 2606.6C814.7 2607.9 814.8 2609.2 815.0 2610.5C815.1 2611.9 815.3 2613.2 815.4 2614.5C815.5 2615.9 815.7 2617.2 815.8 2618.5C816.0 2619.8 816.1 2621.2 816.2 2622.5C816.4 2623.8 816.5 2625.2 816.7 2626.5C816.8 2627.8 816.9 2629.1 817.1 2630.5C817.2 2631.8 817.3 2633.1 817.5 2634.5C817.6 2635.8 817.7 2637.1 817.9 2638.5C818.0 2639.8 818.1 2641.1 818.3 2642.4C818.4 2643.8 818.5 2645.1 818.7 2646.4C818.8 2647.8 818.9 2649.1 819.0 2650.4C819.2 2651.7 819.3 2653.1 819.4 2654.4C819.6 2655.7 819.7 2657.1 819.8 2658.4C819.9 2659.7 820.1 2661.1 820.2 2662.4C820.3 2663.7 820.4 2665.1 820.5 2666.4C820.7 2667.7 820.8 2669.0 820.9 2670.4C821.0 2671.7 821.1 2673.0 821.3 2674.4C821.4 2675.7 821.5 2677.0 821.6 2678.4C821.7 2679.7 821.9 2681.0 822.0 2682.3C822.1 2683.7 822.2 2685.0 822.3 2686.3C822.4 2687.7 822.6 2689.0 822.7 2690.3C822.8 2691.7 822.9 2693.0 823.0 2694.3C823.1 2695.7 823.2 2697.0 823.4 2698.3C823.5 2699.7 823.6 2701.0 823.7 2702.3C823.8 2703.6 823.9 2705.0 824.0 2706.3C824.1 2707.6 824.2 2709.0 824.3 2710.3C824.5 2711.6 824.6 2713.0 824.7 2714.3C824.8 2715.6 824.9 2717.0 825.0 2718.3C825.1 2719.6 825.2 2721.0 825.3 2722.3C825.4 2723.6 825.5 2725.0 825.6 2726.3C825.7 2727.6 825.8 2729.0 825.9 2730.3C826.0 2731.6 826.1 2732.9 826.2 2734.3C826.3 2735.6 826.4 2736.9 826.5 2738.3C826.6 2739.6 826.7 2740.9 826.8 2742.3C826.9 2743.6 827.0 2744.9 827.1 2746.3C827.2 2747.6 827.3 2748.9 827.4 2750.3C827.5 2751.6 827.6 2752.9 827.7 2754.3C827.8 2755.6 827.9 2756.9 828.0 2758.3C828.1 2759.6 828.2 2760.9 828.3 2762.3C828.4 2763.6 828.5 2764.9 828.6 2766.3C828.7 2767.6 828.8 2768.9 828.9 2770.3C829.0 2771.6 829.1 2772.9 829.2 2774.3C829.3 2775.6 829.4 2776.9 829.5 2778.2C829.6 2779.6 829.6 2780.9 829.7 2782.2C829.8 2783.6 829.9 2784.9 830.0 2786.2C830.1 2787.6 830.2 2788.9 830.3 2790.2C830.4 2791.6 830.5 2792.9 830.6 2794.2C830.7 2795.6 830.7 2796.9 830.8 2798.2C830.9 2799.6 831.0 2800.9 831.1 2802.2C831.2 2803.6 831.3 2804.9 831.4 2806.2C831.5 2807.6 831.6 2808.9 831.6 2810.2C831.7 2811.6 831.8 2812.9 831.9 2814.2C832.0 2815.6 832.1 2816.9 832.2 2818.2C832.3 2819.6 832.3 2820.9 832.4 2822.2C832.5 2823.6 832.6 2824.9 832.7 2826.2C832.8 2827.6 832.9 2828.9 833.0 2830.2C833.0 2831.6 833.1 2832.9 833.2 2834.2C833.3 2835.6 833.4 2836.9 833.5 2838.2C833.6 2839.6 833.6 2840.9 833.7 2842.2C833.8 2843.6 833.9 2844.9 834.0 2846.2C834.1 2847.6 834.2 2848.9 834.2 2850.2C834.3 2851.6 834.4 2852.9 834.5 2854.2C834.6 2855.6 834.7 2856.9 834.8 2858.2C834.8 2859.6 834.9 2860.9 835.0 2862.2C835.1 2863.6 835.2 2864.9 835.3 2866.2C835.3 2867.6 835.4 2868.9 835.5 2870.2C835.6 2871.6 835.7 2872.9 835.8 2874.2C835.9 2875.6 835.9 2876.9 836.0 2878.2C836.1 2879.6 836.2 2880.9 836.3 2882.2C836.4 2883.6 836.4 2884.9 836.5 2886.2C836.6 2887.6 836.7 2888.9 836.8 2890.2C836.9 2891.6 836.9 2892.9 837.0 2894.2C837.1 2895.6 837.2 2896.9 837.3 2898.2C837.4 2899.6 837.5 2900.9 837.5 2902.2C837.6 2903.6 837.7 2904.9 837.8 2906.2C837.9 2907.6 838.0 2908.9 838.0 2910.2C838.1 2911.6 838.2 2912.9 838.3 2914.2C838.4 2915.6 838.5 2916.9 838.6 2918.2C838.6 2919.6 838.7 2920.9 838.8 2922.2C838.9 2923.6 839.0 2924.9 839.1 2926.2C839.2 2927.6 839.2 2928.9 839.3 2930.2C839.4 2931.6 839.5 2932.9 839.6 2934.2C839.7 2935.6 839.8 2936.9 839.8 2938.2C839.9 2939.6 840.0 2940.9 840.1 2942.2C840.2 2943.6 840.3 2944.9 840.4 2946.2C840.5 2947.6 840.5 2948.9 840.6 2950.2C840.7 2951.6 840.8 2952.9 840.9 2954.2C841.0 2955.6 841.1 2956.9 841.2 2958.2C841.2 2959.6 841.3 2960.9 841.4 2962.2C841.5 2963.6 841.6 2964.9 841.7 2966.2C841.8 2967.6 841.9 2968.9 842.0 2970.2C842.0 2971.6 842.1 2972.9 842.2 2974.2C842.3 2975.6 842.4 2976.9 842.5 2978.2C842.6 2979.6 842.7 2980.9 842.8 2982.2C842.9 2983.6 842.9 2984.9 843.0 2986.2C843.1 2987.6 843.2 2988.9 843.3 2990.2C843.4 2991.6 843.5 2992.9 843.6 2994.2C843.7 2995.6 843.8 2996.9 843.9 2998.2C844.0 2999.6 844.0 3000.9 844.1 3002.2C844.2 3003.6 844.3 3004.9 844.4 3006.2C844.5 3007.6 844.6 3008.9 844.7 3010.2C844.8 3011.5 844.9 3012.9 845.0 3014.2C845.1 3015.5 845.2 3016.9 845.2 3018.2C845.3 3019.5 845.4 3020.9 845.5 3022.2C845.6 3023.5 845.7 3024.9 845.8 3026.2C845.9 3027.5 846.0 3028.9 846.1 3030.2C846.2 3031.5 846.3 3032.9 846.4 3034.2C846.5 3035.5 846.6 3036.9 846.7 3038.2C846.8 3039.5 846.9 3040.9 847.0 3042.2C847.1 3043.5 847.1 3044.9 847.2 3046.2C847.3 3047.5 847.4 3048.9 847.5 3050.2C847.6 3051.5 847.7 3052.9 847.8 3054.2C847.9 3055.5 848.0 3056.9 848.1 3058.2C848.2 3059.5 848.3 3060.9 848.4 3062.2C848.5 3063.5 848.6 3064.9 848.7 3066.2C848.8 3067.5 848.9 3068.8 849.0 3070.2C849.1 3071.5 849.2 3072.8 849.3 3074.2C849.4 3075.5 849.5 3076.8 849.6 3078.2C849.7 3079.5 849.8 3080.8 849.9 3082.2C850.0 3083.5 850.1 3084.8 850.2 3086.2C850.3 3087.5 850.4 3088.8 850.5 3090.2C850.6 3091.5 850.7 3092.8 850.8 3094.2C850.9 3095.5 851.0 3096.8 851.1 3098.2C851.2 3099.5 851.3 3100.8 851.4 3102.2C851.5 3103.5 851.6 3104.8 851.7 3106.2C851.8 3107.5 851.9 3108.8 852.0 3110.1C852.1 3111.5 852.2 3112.8 852.3 3114.1C852.4 3115.5 852.5 3116.8 852.6 3118.1C852.7 3119.5 852.8 3120.8 852.9 3122.1C853.0 3123.5 853.1 3124.8 853.3 3126.1C853.4 3127.5 853.5 3128.8 853.6 3130.1C853.7 3131.5 853.8 3132.8 853.9 3134.1C854.0 3135.5 854.1 3136.8 854.2 3138.1C854.3 3139.5 854.4 3140.8 854.5 3142.1C854.6 3143.4 854.7 3144.8 854.8 3146.1C854.9 3147.4 855.0 3148.8 855.1 3150.1C855.3 3151.4 855.4 3152.8 855.5 3154.1C855.6 3155.4 855.7 3156.8 855.8 3158.1C855.9 3159.4 856.0 3160.8 856.1 3162.1C856.2 3163.4 856.3 3164.8 856.4 3166.1C856.5 3167.4 856.7 3168.8 856.8 3170.1C856.9 3171.4 857.0 3172.7 857.1 3174.1C857.2 3175.4 857.3 3176.7 857.4 3178.1C857.5 3179.4 857.6 3180.7 857.7 3182.1C857.9 3183.4 858.0 3184.7 858.1 3186.1C858.2 3187.4 858.3 3188.7 858.4 3190.1C858.5 3191.4 858.6 3192.7 858.7 3194.0C858.8 3195.4 859.0 3196.7 859.1 3198.0C859.2 3199.4 859.3 3200.7 859.4 3202.0C859.5 3203.4 859.6 3204.7 859.7 3206.0C859.9 3207.4 860.0 3208.7 860.1 3210.0C860.2 3211.4 860.3 3212.7 860.4 3214.0C860.5 3215.3 860.6 3216.7 860.8 3218.0C860.9 3219.3 861.0 3220.7 861.1 3222.0C861.2 3223.3 861.3 3224.7 861.4 3226.0C861.6 3227.3 861.7 3228.7 861.8 3230.0C861.9 3231.3 862.0 3232.7 862.1 3234.0C862.3 3235.3 862.4 3236.6 862.5 3238.0C862.6 3239.3 862.7 3240.6 862.8 3242.0C862.9 3243.3 863.1 3244.6 863.2 3246.0C863.3 3247.3 863.4 3248.6 863.5 3250.0C863.6 3251.3 863.8 3252.6 863.9 3253.9C864.0 3255.3 864.1 3256.6 864.2 3257.9C864.3 3259.3 864.5 3260.6 864.6 3261.9C864.7 3263.3 864.8 3264.6 864.9 3265.9C865.0 3267.3 865.1 3268.6 865.2 3269.9C865.4 3271.3 865.5 3272.6 865.6 3273.9C865.7 3275.2 865.8 3276.6 865.9 3277.9C866.0 3279.2 866.1 3280.6 866.2 3281.9C866.3 3283.2 866.4 3284.6 866.5 3285.9C866.6 3287.2 866.7 3288.6 866.8 3289.9C866.9 3291.2 867.0 3292.6 867.1 3293.9C867.2 3295.2 867.3 3296.6 867.4 3297.9C867.5 3299.2 867.6 3300.6 867.6 3301.9C867.7 3303.2 867.8 3304.6 867.9 3305.9C868.0 3307.2 868.1 3308.6 868.1 3309.9C868.2 3311.2 868.3 3312.6 868.3 3313.9C868.4 3315.2 868.5 3316.6 868.5 3317.9C868.6 3319.2 868.7 3320.6 868.7 3321.9C868.8 3323.2 868.8 3324.6 868.9 3325.9C868.9 3327.2 869.0 3328.6 869.0 3329.9C869.1 3331.3 869.2 3332.6 869.2 3333.9C869.3 3335.3 869.4 3336.6 869.5 3337.9C869.5 3339.3 869.6 3340.6 869.7 3341.9C869.9 3343.3 870.0 3344.6 870.1 3345.9C870.2 3347.2 870.4 3348.6 870.6 3349.9C870.7 3351.2 870.9 3352.5 871.1 3353.9C871.3 3355.2 871.2 3357.0 871.8 3357.8C872.1 3358.3 872.9 3358.8 873.3 3358.6C873.8 3358.4 873.7 3356.0 873.9 3354.7C874.0 3353.4 874.2 3352.0 874.3 3350.7C874.5 3349.4 874.6 3348.0 874.8 3346.7C874.9 3345.4 875.1 3344.1 875.2 3342.7C875.4 3341.4 875.5 3340.1 875.7 3338.8C875.9 3337.4 876.0 3336.1 876.2 3334.8C876.3 3333.4 876.5 3332.1 876.7 3330.8C876.8 3329.5 877.0 3328.1 877.1 3326.8C877.3 3325.5 877.4 3324.2 877.5 3322.8C877.7 3321.5 877.8 3320.2 877.9 3318.8C878.1 3317.5 878.2 3316.2 878.3 3314.8C878.4 3313.5 878.5 3312.2 878.6 3310.9C878.7 3309.5 878.8 3308.2 878.9 3306.9C879.0 3305.5 879.1 3304.2 879.2 3302.9C879.3 3301.5 879.4 3300.2 879.5 3298.9C879.6 3297.5 879.7 3296.2 879.7 3294.9C879.8 3293.5 879.9 3292.2 880.0 3290.9C880.1 3289.5 880.2 3288.2 880.3 3286.9C880.4 3285.5 880.4 3284.2 880.5 3282.9C880.6 3281.5 880.7 3280.2 880.8 3278.9C880.9 3277.5 881.0 3276.2 881.1 3274.9C881.2 3273.5 881.3 3272.2 881.4 3270.9C881.5 3269.5 881.6 3268.2 881.7 3266.9C881.8 3265.5 881.9 3264.2 882.0 3262.9C882.1 3261.5 882.2 3260.2 882.3 3258.9C882.4 3257.5 882.5 3256.2 882.6 3254.9C882.8 3253.6 882.9 3252.2 883.0 3250.9C883.1 3249.6 883.2 3248.2 883.3 3246.9C883.4 3245.6 883.5 3244.2 883.6 3242.9C883.7 3241.6 883.9 3240.2 884.0 3238.9C884.1 3237.6 884.2 3236.2 884.3 3234.9C884.4 3233.6 884.5 3232.2 884.6 3230.9C884.8 3229.6 884.9 3228.3 885.0 3226.9C885.1 3225.6 885.2 3224.3 885.3 3222.9C885.4 3221.6 885.5 3220.3 885.6 3218.9C885.7 3217.6 885.9 3216.3 886.0 3214.9C886.1 3213.6 886.2 3212.3 886.3 3210.9C886.4 3209.6 886.5 3208.3 886.6 3206.9C886.7 3205.6 886.8 3204.3 886.9 3203.0C887.0 3201.6 887.1 3200.3 887.2 3199.0C887.3 3197.6 887.4 3196.3 887.5 3195.0C887.6 3193.6 887.7 3192.3 887.8 3191.0C887.9 3189.6 888.0 3188.3 888.1 3187.0C888.2 3185.6 888.3 3184.3 888.4 3183.0C888.4 3181.6 888.5 3180.3 888.6 3179.0C888.7 3177.6 888.8 3176.3 888.9 3175.0C889.0 3173.6 889.1 3172.3 889.1 3171.0C889.2 3169.6 889.3 3168.3 889.4 3167.0C889.5 3165.6 889.6 3164.3 889.6 3163.0C889.7 3161.6 889.8 3160.3 889.9 3159.0C889.9 3157.6 890.0 3156.3 890.1 3155.0C890.2 3153.6 890.3 3152.3 890.3 3151.0C890.4 3149.6 890.5 3148.3 890.5 3147.0C890.6 3145.6 890.7 3144.3 890.8 3143.0C890.8 3141.6 890.9 3140.3 891.0 3139.0C891.0 3137.6 891.1 3136.3 891.2 3135.0C891.2 3133.6 891.3 3132.3 891.4 3130.9C891.4 3129.6 891.5 3128.3 891.6 3126.9C891.6 3125.6 891.7 3124.3 891.7 3122.9C891.8 3121.6 891.9 3120.3 891.9 3118.9C892.0 3117.6 892.1 3116.3 892.1 3114.9C892.2 3113.6 892.2 3112.3 892.3 3110.9C892.3 3109.6 892.4 3108.3 892.5 3106.9C892.5 3105.6 892.6 3104.3 892.6 3102.9C892.7 3101.6 892.7 3100.3 892.8 3098.9C892.8 3097.6 892.9 3096.2 892.9 3094.9C893.0 3093.6 893.1 3092.2 893.1 3090.9C893.2 3089.6 893.2 3088.2 893.3 3086.9C893.3 3085.6 893.4 3084.2 893.4 3082.9C893.5 3081.6 893.5 3080.2 893.5 3078.9C893.6 3077.6 893.6 3076.2 893.7 3074.9C893.7 3073.5 893.8 3072.2 893.8 3070.9C893.9 3069.5 893.9 3068.2 894.0 3066.9C894.0 3065.5 894.1 3064.2 894.1 3062.9C894.1 3061.5 894.2 3060.2 894.2 3058.9C894.3 3057.5 894.3 3056.2 894.4 3054.9C894.4 3053.5 894.5 3052.2 894.5 3050.8C894.5 3049.5 894.6 3048.2 894.6 3046.8C894.7 3045.5 894.7 3044.2 894.7 3042.8C894.8 3041.5 894.8 3040.2 894.9 3038.8C894.9 3037.5 894.9 3036.2 895.0 3034.8C895.0 3033.5 895.1 3032.2 895.1 3030.8C895.1 3029.5 895.2 3028.1 895.2 3026.8C895.3 3025.5 895.3 3024.1 895.3 3022.8C895.4 3021.5 895.4 3020.1 895.5 3018.8C895.5 3017.5 895.5 3016.1 895.6 3014.8C895.6 3013.5 895.7 3012.1 895.7 3010.8C895.7 3009.5 895.8 3008.1 895.8 3006.8C895.8 3005.4 895.9 3004.1 895.9 3002.8C896.0 3001.4 896.0 3000.1 896.0 2998.8C896.1 2997.4 896.1 2996.1 896.1 2994.8C896.2 2993.4 896.2 2992.1 896.3 2990.8C896.3 2989.4 896.3 2988.1 896.4 2986.7C896.4 2985.4 896.5 2984.1 896.5 2982.7C896.5 2981.4 896.6 2980.1 896.6 2978.7C896.6 2977.4 896.7 2976.1 896.7 2974.7C896.8 2973.4 896.8 2972.1 896.8 2970.7C896.9 2969.4 896.9 2968.1 897.0 2966.7C897.0 2965.4 897.0 2964.0 897.1 2962.7C897.1 2961.4 897.2 2960.0 897.2 2958.7C897.2 2957.4 897.3 2956.0 897.3 2954.7C897.4 2953.4 897.4 2952.0 897.4 2950.7C897.5 2949.4 897.5 2948.0 897.6 2946.7C897.6 2945.4 897.7 2944.0 897.7 2942.7C897.7 2941.3 897.8 2940.0 897.8 2938.7C897.9 2937.3 897.9 2936.0 898.0 2934.7C898.0 2933.3 898.0 2932.0 898.1 2930.7C898.1 2929.3 898.2 2928.0 898.2 2926.7C898.3 2925.3 898.3 2924.0 898.4 2922.7C898.4 2921.3 898.5 2920.0 898.5 2918.6C898.6 2917.3 898.6 2916.0 898.6 2914.6C898.7 2913.3 898.7 2912.0 898.8 2910.6C898.8 2909.3 898.9 2908.0 898.9 2906.6C899.0 2905.3 899.0 2904.0 899.1 2902.6C899.2 2901.3 899.2 2900.0 899.3 2898.6C899.3 2897.3 899.4 2895.9 899.4 2894.6C899.5 2893.3 899.5 2891.9 899.6 2890.6C899.6 2889.3 899.7 2887.9 899.7 2886.6C899.8 2885.3 899.9 2883.9 899.9 2882.6C900.0 2881.3 900.0 2879.9 900.1 2878.6C900.1 2877.3 900.2 2875.9 900.3 2874.6C900.3 2873.3 900.4 2871.9 900.4 2870.6C900.5 2869.3 900.5 2867.9 900.6 2866.6C900.7 2865.2 900.7 2863.9 900.8 2862.6C900.8 2861.2 900.9 2859.9 901.0 2858.6C901.0 2857.2 901.1 2855.9 901.2 2854.6C901.2 2853.2 901.3 2851.9 901.3 2850.6C901.4 2849.2 901.5 2847.9 901.5 2846.6C901.6 2845.2 901.7 2843.9 901.7 2842.6C901.8 2841.2 901.9 2839.9 901.9 2838.6C902.0 2837.2 902.0 2835.9 902.1 2834.6C902.2 2833.2 902.2 2831.9 902.3 2830.6C902.4 2829.2 902.4 2827.9 902.5 2826.5C902.6 2825.2 902.6 2823.9 902.7 2822.5C902.8 2821.2 902.8 2819.9 902.9 2818.5C903.0 2817.2 903.0 2815.9 903.1 2814.5C903.2 2813.2 903.3 2811.9 903.3 2810.5C903.4 2809.2 903.5 2807.9 903.5 2806.5C903.6 2805.2 903.7 2803.9 903.7 2802.5C903.8 2801.2 903.9 2799.9 903.9 2798.5C904.0 2797.2 904.1 2795.9 904.2 2794.5C904.2 2793.2 904.3 2791.9 904.4 2790.5C904.4 2789.2 904.5 2787.9 904.6 2786.5C904.7 2785.2 904.7 2783.9 904.8 2782.5C904.9 2781.2 904.9 2779.9 905.0 2778.5C905.1 2777.2 905.2 2775.8 905.2 2774.5C905.3 2773.2 905.4 2771.8 905.4 2770.5C905.5 2769.2 905.6 2767.8 905.7 2766.5C905.7 2765.2 905.8 2763.8 905.9 2762.5C906.0 2761.2 906.0 2759.8 906.1 2758.5C906.2 2757.2 906.2 2755.8 906.3 2754.5C906.4 2753.2 906.5 2751.8 906.5 2750.5C906.6 2749.2 906.7 2747.8 906.8 2746.5C906.8 2745.2 906.9 2743.8 907.0 2742.5C907.1 2741.2 907.1 2739.8 907.2 2738.5C907.3 2737.2 907.4 2735.8 907.4 2734.5C907.5 2733.2 907.6 2731.8 907.6 2730.5C907.7 2729.2 907.8 2727.8 907.9 2726.5C907.9 2725.2 908.0 2723.8 908.1 2722.5C908.2 2721.2 908.2 2719.8 908.3 2718.5C908.4 2717.2 908.5 2715.8 908.5 2714.5C908.6 2713.2 908.7 2711.8 908.8 2710.5C908.8 2709.1 908.9 2707.8 909.0 2706.5C909.0 2705.1 909.1 2703.8 909.2 2702.5C909.3 2701.1 909.3 2699.8 909.4 2698.5C909.5 2697.1 909.6 2695.8 909.6 2694.5C909.7 2693.1 909.8 2691.8 909.9 2690.5C909.9 2689.1 910.0 2687.8 910.1 2686.5C910.1 2685.1 910.2 2683.8 910.3 2682.5C910.4 2681.1 910.4 2679.8 910.5 2678.5C910.6 2677.1 910.7 2675.8 910.7 2674.5C910.8 2673.1 910.9 2671.8 910.9 2670.5C911.0 2669.1 911.1 2667.8 911.2 2666.5C911.2 2665.1 911.3 2663.8 911.4 2662.5C911.4 2661.1 911.5 2659.8 911.6 2658.5C911.7 2657.1 911.7 2655.8 911.8 2654.5C911.9 2653.1 911.9 2651.8 912.0 2650.5C912.1 2649.1 912.1 2647.8 912.2 2646.4C912.3 2645.1 912.4 2643.8 912.4 2642.4C912.5 2641.1 912.6 2639.8 912.6 2638.4C912.7 2637.1 912.8 2635.8 912.8 2634.4C912.9 2633.1 913.0 2631.8 913.0 2630.4C913.1 2629.1 913.2 2627.8 913.2 2626.4C913.3 2625.1 913.4 2623.8 913.4 2622.4C913.5 2621.1 913.6 2619.8 913.6 2618.4C913.7 2617.1 913.8 2615.8 913.8 2614.4C913.9 2613.1 914.0 2611.8 914.0 2610.4C914.1 2609.1 914.2 2607.8 914.2 2606.4C914.3 2605.1 914.4 2603.7 914.4 2602.4C914.5 2601.1 914.5 2599.7 914.6 2598.4C914.7 2597.1 914.7 2595.7 914.8 2594.4C914.9 2593.1 914.9 2591.7 915.0 2590.4C915.0 2589.1 915.1 2587.7 915.2 2586.4C915.2 2585.1 915.3 2583.7 915.4 2582.4C915.4 2581.1 915.5 2579.7 915.5 2578.4C915.6 2577.1 915.7 2575.7 915.7 2574.4C915.8 2573.1 915.8 2571.7 915.9 2570.4C916.0 2569.0 916.0 2567.7 916.1 2566.4C916.2 2565.0 916.2 2563.7 916.3 2562.4C916.3 2561.0 916.4 2559.7 916.5 2558.4C916.5 2557.0 916.6 2555.7 916.7 2554.4C916.7 2553.0 916.8 2551.7 916.9 2550.4C916.9 2549.0 917.0 2547.7 917.1 2546.4C917.1 2545.0 917.2 2543.7 917.3 2542.4C917.3 2541.0 917.4 2539.7 917.5 2538.4C917.5 2537.0 917.6 2535.7 917.7 2534.4C917.8 2533.0 917.8 2531.7 917.9 2530.4C918.0 2529.0 918.1 2527.7 918.1 2526.4C918.2 2525.0 918.3 2523.7 918.4 2522.4C918.4 2521.0 918.5 2519.7 918.6 2518.4C918.7 2517.0 918.8 2515.7 918.9 2514.4C918.9 2513.0 919.0 2511.7 919.1 2510.4C919.2 2509.0 919.3 2507.7 919.4 2506.4C919.5 2505.0 919.6 2503.7 919.6 2502.4C919.7 2501.0 919.8 2499.7 919.9 2498.4C920.0 2497.0 920.1 2495.7 920.2 2494.4C920.3 2493.0 920.4 2491.7 920.5 2490.4C920.6 2489.0 920.7 2487.7 920.8 2486.4C920.9 2485.0 921.0 2483.7 921.2 2482.4C921.3 2481.0 921.4 2479.7 921.5 2478.4C921.6 2477.0 921.7 2475.7 921.8 2474.4C922.0 2473.1 922.1 2471.7 922.2 2470.4C922.3 2469.1 922.4 2467.7 922.6 2466.4C922.7 2465.1 922.8 2463.7 923.0 2462.4C923.1 2461.1 923.2 2459.8 923.4 2458.4C923.5 2457.1 923.6 2455.8 923.8 2454.4C923.9 2453.1 924.0 2451.8 924.2 2450.4C924.3 2449.1 924.5 2447.8 924.6 2446.5C924.8 2445.1 924.9 2443.8 925.1 2442.5C925.3 2441.2 925.4 2439.8 925.6 2438.5C925.7 2437.2 925.9 2435.9 926.1 2434.5C926.2 2433.2 926.4 2431.9 926.6 2430.6C926.7 2429.2 926.9 2427.9 927.1 2426.6C927.3 2425.3 927.5 2423.9 927.6 2422.6C927.8 2421.3 928.0 2420.0 928.2 2418.6C928.4 2417.3 928.6 2416.0 928.8 2414.7C929.0 2413.4 929.2 2412.0 929.4 2410.7C929.6 2409.4 929.8 2408.1 930.0 2406.7C930.2 2405.4 930.4 2404.1 930.6 2402.8C930.9 2401.5 931.1 2400.2 931.3 2398.8C931.5 2397.5 931.8 2396.2 932.0 2394.9C932.3 2393.6 932.5 2392.3 932.8 2391.0C933.1 2389.7 933.4 2388.4 933.7 2387.1C934.0 2385.8 934.3 2384.5 934.7 2383.2C935.1 2381.9 935.5 2380.6 935.9 2379.4C936.3 2378.1 936.8 2376.8 937.3 2375.6C937.8 2374.4 938.3 2373.1 938.9 2371.9C939.5 2370.7 940.1 2369.5 940.8 2368.4C941.4 2367.2 942.2 2366.1 942.9 2365.0C943.7 2363.9 944.5 2362.8 945.3 2361.8C946.2 2360.8 947.2 2359.8 948.2 2359.0C949.2 2358.1 950.3 2357.3 951.4 2356.6C952.6 2356.0 953.8 2355.5 955.1 2355.0C956.3 2354.6 957.7 2354.4 959.0 2354.2C960.3 2354.0 961.6 2353.9 963.0 2353.8C964.3 2353.7 965.7 2353.8 967.0 2353.8C968.3 2353.8 969.7 2353.9 971.0 2354.0C972.3 2354.0 973.7 2354.1 975.0 2354.2C976.3 2354.3 977.7 2354.4 979.0 2354.5C980.3 2354.5 981.7 2354.6 983.0 2354.5C984.3 2354.5 985.7 2354.4 987.0 2354.2C988.3 2354.0 989.6 2353.8 990.9 2353.4C992.2 2352.9 993.4 2352.4 994.6 2351.7C995.7 2351.1 996.8 2350.3 997.9 2349.5C998.9 2348.7 1000.0 2347.8 1001.0 2346.9C1002.0 2346.1 1003.0 2345.2 1004.0 2344.3C1005.0 2343.4 1006.0 2342.5 1007.0 2341.6C1008.0 2340.8 1009.0 2339.9 1010.0 2339.0C1011.0 2338.1 1012.0 2337.3 1013.1 2336.4C1014.1 2335.6 1015.1 2334.7 1016.2 2333.9C1017.2 2333.0 1018.2 2332.2 1019.3 2331.4C1020.4 2330.6 1021.4 2329.8 1022.5 2329.0C1023.6 2328.2 1024.7 2327.5 1025.8 2326.7C1026.9 2326.0 1028.1 2325.3 1029.2 2324.6C1030.4 2323.9 1031.5 2323.2 1032.7 2322.6C1033.9 2322.0 1035.1 2321.4 1036.3 2320.8C1037.5 2320.2 1038.7 2319.7 1039.9 2319.1C1041.1 2318.6 1042.4 2318.1 1043.6 2317.6C1044.9 2317.1 1046.1 2316.7 1047.4 2316.2C1048.6 2315.8 1049.9 2315.3 1051.2 2314.9C1052.4 2314.5 1053.7 2314.0 1055.0 2313.6C1056.2 2313.2 1057.5 2312.8 1058.8 2312.4C1060.1 2312.0 1061.3 2311.6 1062.6 2311.2C1063.9 2310.8 1065.1 2310.4 1066.4 2309.9C1067.7 2309.5 1068.9 2309.1 1070.2 2308.7C1071.5 2308.2 1072.7 2307.8 1074.0 2307.4C1075.3 2306.9 1076.5 2306.5 1077.8 2306.0C1079.0 2305.6 1080.3 2305.1 1081.6 2304.7C1082.8 2304.2 1084.1 2303.8 1085.3 2303.3C1086.6 2302.9 1087.8 2302.4 1089.1 2302.0C1090.4 2301.5 1091.6 2301.0 1092.9 2300.6C1094.1 2300.1 1095.4 2299.6 1096.6 2299.2C1097.9 2298.7 1099.1 2298.2 1100.4 2297.8C1101.6 2297.3 1102.9 2296.8 1104.1 2296.4C1105.4 2295.9 1106.6 2295.4 1107.9 2295.0C1109.1 2294.5 1110.4 2294.1 1111.6 2293.6C1112.9 2293.1 1114.2 2292.7 1115.4 2292.2C1116.7 2291.8 1117.9 2291.3 1119.2 2290.8C1120.4 2290.4 1121.7 2289.9 1123.0 2289.5C1124.2 2289.1 1125.5 2288.6 1126.7 2288.2C1128.0 2287.7 1129.3 2287.3 1130.5 2286.9C1131.8 2286.4 1133.1 2286.0 1134.3 2285.6C1135.6 2285.2 1136.9 2284.8 1138.1 2284.4C1139.4 2284.0 1140.7 2283.5 1142.0 2283.2C1143.2 2282.8 1144.5 2282.4 1145.8 2282.0C1147.1 2281.6 1148.4 2281.2 1149.6 2280.9C1150.9 2280.5 1152.2 2280.1 1153.5 2279.8C1154.8 2279.4 1156.1 2279.1 1157.4 2278.7C1158.7 2278.4 1160.0 2278.0 1161.2 2277.7C1162.5 2277.4 1163.8 2277.1 1165.1 2276.7C1166.4 2276.4 1167.7 2276.1 1169.0 2275.8C1170.3 2275.5 1171.6 2275.2 1172.9 2274.9C1174.2 2274.6 1175.5 2274.3 1176.8 2274.0C1178.2 2273.8 1179.5 2273.5 1180.8 2273.2C1182.1 2272.9 1183.4 2272.7 1184.7 2272.4C1186.0 2272.1 1187.3 2271.9 1188.6 2271.6C1189.9 2271.4 1191.3 2271.1 1192.6 2270.9C1193.9 2270.7 1195.2 2270.4 1196.5 2270.2C1197.8 2270.0 1199.1 2269.7 1200.5 2269.5C1201.8 2269.3 1203.1 2269.1 1204.4 2268.9C1205.7 2268.7 1207.1 2268.5 1208.4 2268.3C1209.7 2268.1 1211.0 2267.9 1212.3 2267.7C1213.7 2267.5 1215.0 2267.3 1216.3 2267.1C1217.6 2266.9 1219.0 2266.7 1220.3 2266.6C1221.6 2266.4 1222.9 2266.2 1224.3 2266.1C1225.6 2265.9 1226.9 2265.7 1228.2 2265.6C1229.6 2265.4 1230.9 2265.2 1232.2 2265.1C1233.5 2264.9 1234.9 2264.8 1236.2 2264.7C1237.5 2264.5 1238.9 2264.4 1240.2 2264.2C1241.5 2264.1 1242.8 2264.0 1244.2 2263.8C1245.5 2263.7 1246.8 2263.6 1248.2 2263.5C1249.5 2263.3 1250.8 2263.2 1252.2 2263.1C1253.5 2263.0 1254.8 2262.9 1256.2 2262.8C1257.5 2262.7 1258.8 2262.6 1260.2 2262.5C1261.5 2262.4 1262.8 2262.3 1264.1 2262.2C1265.5 2262.1 1266.8 2262.0 1268.1 2261.9C1269.5 2261.8 1270.8 2261.7 1272.1 2261.7C1273.5 2261.6 1274.8 2261.5 1276.2 2261.4C1277.5 2261.4 1278.8 2261.3 1280.2 2261.2C1281.5 2261.2 1282.8 2261.1 1284.2 2261.0C1285.5 2261.0 1286.8 2260.9 1288.2 2260.9C1289.5 2260.8 1290.8 2260.8 1292.2 2260.7C1293.5 2260.7 1294.8 2260.6 1296.2 2260.6C1297.5 2260.6 1298.8 2260.5 1300.2 2260.5C1301.5 2260.4 1302.9 2260.4 1304.2 2260.4C1305.5 2260.4 1306.9 2260.3 1308.2 2260.3C1309.5 2260.3 1310.9 2260.3 1312.2 2260.3C1313.5 2260.3 1314.9 2260.2 1316.2 2260.2C1317.5 2260.2 1318.9 2260.2 1320.2 2260.2C1321.6 2260.2 1322.9 2260.2 1324.2 2260.2C1325.6 2260.2 1326.9 2260.2 1328.2 2260.3C1329.6 2260.3 1330.9 2260.3 1332.2 2260.3C1333.6 2260.3 1334.9 2260.3 1336.2 2260.4C1337.6 2260.4 1338.9 2260.4 1340.3 2260.4C1341.6 2260.5 1342.9 2260.5 1344.3 2260.5C1345.6 2260.6 1346.9 2260.6 1348.3 2260.7C1349.6 2260.7 1350.9 2260.7 1352.3 2260.8C1353.6 2260.8 1354.9 2260.9 1356.3 2260.9C1357.6 2261.0 1358.9 2261.0 1360.3 2261.1C1361.6 2261.2 1363.0 2261.2 1364.3 2261.3C1365.6 2261.4 1367.0 2261.4 1368.3 2261.5C1369.6 2261.6 1371.0 2261.6 1372.3 2261.7C1373.6 2261.8 1375.0 2261.9 1376.3 2261.9C1377.6 2262.0 1379.0 2262.1 1380.3 2262.2C1381.6 2262.3 1383.0 2262.4 1384.3 2262.5C1385.6 2262.6 1387.0 2262.7 1388.3 2262.8C1389.6 2262.8 1391.0 2262.9 1392.3 2263.1C1393.6 2263.2 1395.0 2263.3 1396.3 2263.4C1397.6 2263.5 1398.9 2263.6 1400.3 2263.7C1401.6 2263.8 1402.9 2263.9 1404.3 2264.0C1405.6 2264.2 1406.9 2264.3 1408.3 2264.4C1409.6 2264.5 1410.9 2264.6 1412.3 2264.8C1413.6 2264.9 1414.9 2265.0 1416.2 2265.1C1417.6 2265.3 1418.9 2265.4 1420.2 2265.5C1421.6 2265.7 1422.9 2265.8 1424.2 2266.0C1425.5 2266.1 1426.9 2266.2 1428.2 2266.4C1429.5 2266.5 1430.9 2266.7 1432.2 2266.8C1433.5 2267.0 1434.8 2267.1 1436.2 2267.3C1437.5 2267.4 1438.8 2267.6 1440.2 2267.7C1441.5 2267.9 1442.8 2268.0 1444.1 2268.2C1445.5 2268.3 1446.8 2268.5 1448.1 2268.6C1449.4 2268.8 1450.8 2269.0 1452.1 2269.1C1453.4 2269.3 1454.7 2269.5 1456.1 2269.6C1457.4 2269.8 1458.7 2270.0 1460.0 2270.1C1461.4 2270.3 1462.7 2270.5 1464.0 2270.6C1465.3 2270.8 1466.7 2271.0 1468.0 2271.2C1469.3 2271.3 1470.6 2271.5 1472.0 2271.7C1473.3 2271.9 1474.6 2272.1 1475.9 2272.2C1477.3 2272.4 1478.6 2272.6 1479.9 2272.8C1481.2 2273.0 1482.6 2273.1 1483.9 2273.3C1485.2 2273.5 1486.5 2273.7 1487.9 2273.9C1489.2 2274.1 1490.5 2274.3 1491.8 2274.4C1493.1 2274.6 1494.5 2274.8 1495.8 2275.0C1497.1 2275.2 1498.4 2275.4 1499.8 2275.6C1501.1 2275.8 1502.4 2276.0 1503.7 2276.2C1505.0 2276.4 1506.4 2276.6 1507.7 2276.8C1509.0 2277.0 1510.3 2277.2 1511.7 2277.3C1513.0 2277.5 1514.3 2277.7 1515.6 2277.9C1516.9 2278.1 1518.3 2278.3 1519.6 2278.5C1520.9 2278.7 1522.2 2278.8 1523.6 2279.0C1524.9 2279.2 1526.2 2279.3 1527.5 2279.5C1528.9 2279.6 1530.2 2279.7 1531.5 2279.8C1532.9 2279.9 1534.2 2280.0 1535.5 2280.1C1536.9 2280.2 1538.2 2280.2 1539.5 2280.3C1540.9 2280.3 1542.2 2280.3 1543.5 2280.3C1544.9 2280.3 1546.2 2280.2 1547.5 2280.1C1548.9 2280.1 1550.2 2280.0 1551.5 2279.8C1552.9 2279.7 1554.2 2279.5 1555.5 2279.3C1556.8 2279.1 1558.2 2278.9 1559.5 2278.7C1560.8 2278.5 1562.1 2278.2 1563.4 2277.9C1564.7 2277.7 1566.0 2277.4 1567.3 2277.1C1568.6 2276.8 1569.9 2276.5 1571.2 2276.2C1572.5 2275.8 1573.8 2275.5 1575.1 2275.2C1576.4 2274.9 1577.7 2274.6 1579.0 2274.2C1580.3 2273.9 1581.6 2273.6 1582.9 2273.3C1584.2 2273.0 1585.5 2272.6 1586.8 2272.3C1588.1 2272.0 1589.4 2271.7 1590.7 2271.5C1592.0 2271.2 1593.3 2270.9 1594.6 2270.7C1596.0 2270.4 1597.3 2270.2 1598.6 2270.0C1599.9 2269.7 1601.2 2269.5 1602.5 2269.3C1603.9 2269.1 1605.2 2269.0 1606.5 2268.8C1607.8 2268.6 1609.2 2268.4 1610.5 2268.3C1611.8 2268.1 1613.1 2268.0 1614.5 2267.9C1615.8 2267.7 1617.1 2267.6 1618.5 2267.5C1619.8 2267.4 1621.1 2267.3 1622.5 2267.2C1623.8 2267.1 1625.1 2267.0 1626.5 2266.9C1627.8 2266.8 1629.1 2266.7 1630.5 2266.6C1631.8 2266.6 1633.1 2266.5 1634.5 2266.4C1635.8 2266.4 1637.1 2266.3 1638.5 2266.3C1639.8 2266.2 1641.1 2266.2 1642.5 2266.1C1643.8 2266.1 1645.1 2266.1 1646.5 2266.0C1647.8 2266.0 1649.2 2266.0 1650.5 2266.0C1651.8 2266.0 1653.2 2266.0 1654.5 2266.0C1655.8 2266.0 1657.2 2266.1 1658.5 2266.1C1659.8 2266.1 1661.2 2266.1 1662.5 2266.2C1663.8 2266.2 1665.2 2266.2 1666.5 2266.3C1667.9 2266.3 1669.2 2266.4 1670.5 2266.4C1671.9 2266.5 1673.2 2266.5 1674.5 2266.6C1675.9 2266.7 1677.2 2266.7 1678.5 2266.8C1679.9 2266.8 1681.2 2266.9 1682.5 2267.0C1683.9 2267.1 1685.2 2267.1 1686.5 2267.2C1687.9 2267.3 1689.2 2267.3 1690.5 2267.4C1691.9 2267.5 1693.2 2267.6 1694.5 2267.6C1695.9 2267.7 1697.2 2267.8 1698.5 2267.8C1699.9 2267.9 1701.2 2268.0 1702.5 2268.1C1703.9 2268.1 1705.2 2268.2 1706.5 2268.3C1707.9 2268.3 1709.2 2268.4 1710.5 2268.5C1711.9 2268.6 1713.2 2268.6 1714.6 2268.7C1715.9 2268.8 1717.2 2268.8 1718.6 2268.9C1719.9 2269.0 1721.2 2269.1 1722.6 2269.1C1723.9 2269.2 1725.2 2269.3 1726.6 2269.4C1727.9 2269.4 1729.2 2269.5 1730.6 2269.6C1731.9 2269.7 1733.2 2269.8 1734.6 2269.8C1735.9 2269.9 1737.2 2270.0 1738.6 2270.1C1739.9 2270.2 1741.2 2270.3 1742.6 2270.3C1743.9 2270.4 1745.2 2270.5 1746.6 2270.6C1747.9 2270.7 1749.2 2270.8 1750.6 2270.9C1751.9 2271.0 1753.2 2271.1 1754.6 2271.2C1755.9 2271.3 1757.2 2271.4 1758.6 2271.5C1759.9 2271.6 1761.2 2271.7 1762.5 2271.8C1763.9 2271.9 1765.2 2272.0 1766.5 2272.2C1767.9 2272.3 1769.2 2272.4 1770.5 2272.5C1771.9 2272.6 1773.2 2272.8 1774.5 2272.9C1775.9 2273.0 1777.2 2273.1 1778.5 2273.3C1779.8 2273.4 1781.2 2273.6 1782.5 2273.7C1783.8 2273.8 1785.2 2274.0 1786.5 2274.1C1787.8 2274.3 1789.1 2274.4 1790.5 2274.6C1791.8 2274.8 1793.1 2274.9 1794.4 2275.1C1795.8 2275.2 1797.1 2275.4 1798.4 2275.6C1799.7 2275.8 1801.1 2275.9 1802.4 2276.1C1803.7 2276.3 1805.0 2276.5 1806.4 2276.7C1807.7 2276.9 1809.0 2277.1 1810.3 2277.2C1811.6 2277.4 1813.0 2277.6 1814.3 2277.8C1815.6 2278.0 1816.9 2278.2 1818.3 2278.3C1819.6 2278.5 1820.9 2278.7 1822.2 2278.8C1823.6 2279.0 1824.9 2279.1 1826.2 2279.2C1827.6 2279.4 1828.9 2279.5 1830.2 2279.6C1831.6 2279.7 1832.9 2279.8 1834.2 2279.8C1835.6 2279.9 1836.9 2279.9 1838.2 2280.0C1839.6 2280.0 1840.9 2280.0 1842.2 2280.0C1843.6 2280.1 1844.9 2280.1 1846.2 2280.2C1847.6 2280.2 1848.9 2280.3 1850.2 2280.5C1851.6 2280.7 1852.9 2280.9 1854.2 2281.1C1855.5 2281.3 1856.8 2281.6 1858.1 2281.9C1859.5 2282.1 1860.8 2282.3 1862.1 2282.5C1863.4 2282.6 1864.8 2282.7 1866.1 2282.8C1867.4 2282.8 1868.8 2282.8 1870.1 2282.7C1871.4 2282.7 1872.8 2282.6 1874.1 2282.5C1875.4 2282.4 1876.8 2282.3 1878.1 2282.2C1879.4 2282.1 1880.8 2282.0 1882.1 2282.0C1883.4 2282.0 1884.8 2282.0 1886.1 2282.1C1887.4 2282.1 1888.8 2282.3 1890.1 2282.4C1891.4 2282.5 1892.8 2282.6 1894.1 2282.8C1895.4 2282.9 1896.7 2283.1 1898.1 2283.2C1899.4 2283.3 1900.7 2283.5 1902.1 2283.6C1903.4 2283.7 1904.7 2283.8 1906.1 2283.8C1907.4 2283.9 1908.7 2283.9 1910.1 2283.9C1911.4 2283.9 1912.7 2283.8 1914.1 2283.8C1915.4 2283.7 1916.7 2283.6 1918.1 2283.6C1919.4 2283.5 1920.7 2283.4 1922.1 2283.3C1923.4 2283.2 1924.7 2283.0 1926.1 2282.9C1927.4 2282.8 1928.7 2282.7 1930.1 2282.5C1931.4 2282.4 1932.7 2282.3 1934.1 2282.2C1935.4 2282.1 1936.7 2281.9 1938.0 2281.8C1939.4 2281.7 1940.7 2281.7 1942.0 2281.6C1943.4 2281.5 1944.7 2281.5 1946.1 2281.4C1947.4 2281.4 1948.7 2281.4 1950.1 2281.4C1951.4 2281.4 1952.7 2281.5 1954.1 2281.5C1955.4 2281.6 1956.2 2281.9 1958.1 2281.9C1962.0 2281.8 1973.3 2280.1 1976.9 2279.7C1978.4 2279.6 1978.6 2279.8 1980.0 2279.5C1982.9 2279.0 1989.0 2276.9 1993.5 2275.5C1998.0 2274.0 2002.4 2272.2 2007.0 2270.8C2011.4 2269.3 2015.9 2268.0 2020.4 2266.7C2024.9 2265.5 2029.6 2263.7 2033.9 2263.3C2037.7 2263.1 2040.9 2264.5 2044.7 2264.4C2048.9 2264.3 2053.7 2262.6 2058.2 2262.3C2062.6 2262.0 2068.4 2261.8 2071.6 2262.7C2073.7 2263.3 2074.9 2264.3 2076.4 2265.4C2077.7 2266.4 2078.8 2267.6 2080.0 2268.7" fill="none" stroke="#0000fa" stroke-width="5.5" stroke-linecap="round" stroke-linejoin="round"/>
<path d="M440.9 2283.9C441.3 2282.6 441.4 2280.7 442.3 2280.1C443.1 2279.6 444.7 2279.9 445.6 2280.4C446.6 2281.0 447.2 2282.6 447.9 2283.7C448.6 2284.8 449.3 2286.0 450.0 2287.1C450.7 2288.3 451.4 2289.4 452.1 2290.5C452.8 2291.6 453.6 2292.7 454.4 2293.8C455.1 2294.9 455.9 2296.0 456.6 2297.1C457.4 2298.2 458.1 2299.3 458.9 2300.4C459.6 2301.6 460.3 2302.7 461.0 2303.8C461.7 2305.0 462.4 2306.1 463.1 2307.3C463.8 2308.4 464.4 2309.6 465.1 2310.7C465.7 2311.9 466.4 2313.1 467.0 2314.2C467.7 2315.4 468.3 2316.6 468.9 2317.8C469.5 2319.0 470.2 2320.1 470.8 2321.3C471.4 2322.5 472.0 2323.7 472.6 2324.9C473.2 2326.1 473.8 2327.3 474.5 2328.4C475.1 2329.6 475.7 2330.8 476.3 2332.0C476.9 2333.2 477.5 2334.4 478.1 2335.6C478.7 2336.8 479.3 2338.0 479.9 2339.2C480.5 2340.3 481.2 2341.5 481.8 2342.7C482.4 2343.9 483.0 2345.1 483.6 2346.3C484.2 2347.5 484.8 2348.7 485.4 2349.9C486.0 2351.1 486.6 2352.3 487.2 2353.4C487.8 2354.6 488.4 2355.8 489.0 2357.0C489.6 2358.2 490.2 2359.4 490.8 2360.6C491.4 2361.8 492.0 2363.0 492.6 2364.2C493.2 2365.4 493.8 2366.6 494.4 2367.8C495.0 2369.0 495.6 2370.2 496.2 2371.4C496.8 2372.6 497.4 2373.8 498.0 2375.0C498.5 2376.1 499.1 2377.3 499.7 2378.5C500.3 2379.7 500.9 2380.9 501.5 2382.1C502.1 2383.3 502.7 2384.5 503.3 2385.7C503.9 2386.9 504.5 2388.1 505.1 2389.3C505.6 2390.5 506.2 2391.7 506.8 2392.9C507.4 2394.1 508.0 2395.3 508.6 2396.5C509.2 2397.7 509.8 2398.9 510.3 2400.1C510.9 2401.3 511.5 2402.5 512.1 2403.7C512.7 2404.9 513.3 2406.1 513.9 2407.3C514.5 2408.5 515.1 2409.7 515.7 2410.9C516.3 2412.1 516.9 2413.3 517.5 2414.5C518.1 2415.7 518.7 2416.9 519.3 2418.0C519.9 2419.2 520.5 2420.4 521.1 2421.6C521.8 2422.8 522.4 2424.0 523.0 2425.2C523.6 2426.3 524.3 2427.5 524.9 2428.7C525.5 2429.9 526.2 2431.0 526.8 2432.2C527.5 2433.4 528.1 2434.5 528.8 2435.7C529.5 2436.9 530.1 2438.0 530.8 2439.2C531.5 2440.3 532.1 2441.5 532.8 2442.6C533.5 2443.8 534.2 2444.9 534.9 2446.0C535.6 2447.2 536.3 2448.3 537.0 2449.4C537.8 2450.6 538.4 2451.7 539.2 2452.8C540.0 2453.9 540.8 2455.0 541.9 2455.8C542.9 2456.6 544.1 2457.5 545.3 2457.8C546.5 2458.1 548.0 2458.0 549.3 2457.7C550.5 2457.4 551.8 2456.7 552.9 2456.0C553.9 2455.2 554.7 2454.0 555.5 2452.9C556.2 2451.8 556.7 2450.5 557.2 2449.3C557.8 2448.1 558.2 2446.9 558.8 2445.6C559.3 2444.4 559.8 2443.2 560.3 2441.9C560.8 2440.7 561.3 2439.5 561.8 2438.2C562.4 2437.0 562.9 2435.8 563.4 2434.5C563.9 2433.3 564.4 2432.1 564.9 2430.8C565.4 2429.6 565.9 2428.4 566.4 2427.1C567.0 2425.9 567.5 2424.6 568.0 2423.4C568.5 2422.2 569.0 2420.9 569.5 2419.7C570.0 2418.5 570.5 2417.2 571.0 2416.0C571.5 2414.8 572.0 2413.5 572.5 2412.3C573.0 2411.0 573.5 2409.8 574.0 2408.6C574.5 2407.3 575.0 2406.1 575.5 2404.8C576.0 2403.6 576.5 2402.4 577.0 2401.1C577.5 2399.9 578.0 2398.6 578.5 2397.4C579.0 2396.2 579.4 2394.9 579.9 2393.7C580.4 2392.4 580.9 2391.2 581.4 2389.9C581.9 2388.7 582.4 2387.4 582.9 2386.2C583.4 2385.0 583.9 2383.7 584.4 2382.5C584.9 2381.2 585.4 2380.0 585.9 2378.8C586.4 2377.5 586.9 2376.3 587.4 2375.1C588.0 2373.9 588.5 2372.6 589.1 2371.4C589.6 2370.2 590.2 2369.0 590.7 2367.8C591.3 2366.6 591.9 2365.4 592.5 2364.2C593.1 2363.0 593.7 2361.8 594.3 2360.6C594.9 2359.4 595.5 2358.2 596.2 2357.1C596.8 2355.9 597.5 2354.7 598.2 2353.6C598.9 2352.5 599.6 2351.3 600.3 2350.2C601.0 2349.1 601.8 2348.0 602.5 2346.9C603.3 2345.8 604.1 2344.7 604.9 2343.6C605.7 2342.5 606.5 2341.5 607.4 2340.5C608.2 2339.4 609.1 2338.4 609.9 2337.4C610.8 2336.4 611.7 2335.4 612.6 2334.4C613.4 2333.3 614.3 2332.3 615.2 2331.3C616.1 2330.3 616.9 2329.3 617.8 2328.3C618.7 2327.3 619.5 2326.2 620.3 2325.2C621.2 2324.2 622.0 2323.1 622.8 2322.0C623.6 2321.0 624.4 2319.9 625.2 2318.8C626.0 2317.7 626.8 2316.7 627.6 2315.6C628.4 2314.5 629.2 2313.5 630.0 2312.4C630.8 2311.3 631.6 2310.3 632.5 2309.3C633.3 2308.2 634.2 2307.2 635.1 2306.2C636.0 2305.2 636.9 2304.2 637.8 2303.3C638.7 2302.3 639.7 2301.3 640.6 2300.4C641.6 2299.5 642.6 2298.6 643.6 2297.7C644.6 2296.8 645.6 2295.9 646.6 2295.1C647.7 2294.3 648.7 2293.4 649.8 2292.6C650.8 2291.8 651.9 2291.0 653.0 2290.3C654.1 2289.5 655.2 2288.8 656.4 2288.1C657.5 2287.4 658.7 2286.7 659.8 2286.1C661.0 2285.4 662.2 2284.8 663.4 2284.2C664.6 2283.6 665.8 2283.1 667.0 2282.6C668.3 2282.0 669.5 2281.6 670.8 2281.1C672.1 2280.7 673.3 2280.3 674.6 2280.0C675.9 2279.6 677.2 2279.3 678.5 2279.1C679.8 2278.9 681.2 2278.7 682.5 2278.6C683.8 2278.4 685.2 2278.4 686.5 2278.4C687.8 2278.4 689.2 2278.5 690.5 2278.6C691.8 2278.8 693.2 2279.0 694.4 2279.3C695.7 2279.6 697.0 2280.0 698.3 2280.5C699.5 2280.9 700.8 2281.4 702.0 2282.0C703.2 2282.6 704.4 2283.2 705.5 2283.9C706.7 2284.5 707.8 2285.3 708.9 2286.0C710.0 2286.7 711.1 2287.5 712.2 2288.3C713.2 2289.2 714.3 2290.0 715.3 2290.9C716.3 2291.7 717.3 2292.6 718.3 2293.5C719.3 2294.4 720.2 2295.4 721.2 2296.3C722.1 2297.2 723.1 2298.2 724.0 2299.2C724.9 2300.2 725.8 2301.1 726.7 2302.1C727.6 2303.1 728.4 2304.2 729.3 2305.2C730.1 2306.2 731.0 2307.2 731.8 2308.3C732.6 2309.3 733.5 2310.4 734.3 2311.5C735.1 2312.5 735.8 2313.6 736.6 2314.7C737.4 2315.8 738.1 2316.9 738.9 2318.0C739.6 2319.1 740.4 2320.2 741.1 2321.4C741.8 2322.5 742.5 2323.6 743.2 2324.7C743.9 2325.9 744.6 2327.0 745.3 2328.2C746.0 2329.3 746.7 2330.5 747.3 2331.6C748.0 2332.8 748.6 2334.0 749.3 2335.1C749.9 2336.3 750.6 2337.5 751.2 2338.7C751.8 2339.8 752.5 2341.0 753.1 2342.2C753.7 2343.4 754.3 2344.6 754.9 2345.8C755.5 2347.0 756.0 2348.2 756.6 2349.4C757.2 2350.6 757.8 2351.8 758.3 2353.0C758.9 2354.2 759.4 2355.4 760.0 2356.7C760.5 2357.9 761.1 2359.1 761.6 2360.3C762.1 2361.6 762.6 2362.8 763.1 2364.0C763.7 2365.3 764.2 2366.5 764.6 2367.7C765.1 2369.0 765.6 2370.2 766.1 2371.5C766.6 2372.7 767.1 2374.0 767.5 2375.2C768.0 2376.5 768.4 2377.7 768.9 2379.0C769.3 2380.3 769.8 2381.5 770.2 2382.8C770.6 2384.0 771.0 2385.3 771.5 2386.6C771.9 2387.9 772.3 2389.1 772.7 2390.4C773.1 2391.7 773.5 2393.0 773.9 2394.2C774.2 2395.5 774.6 2396.8 775.0 2398.1C775.4 2399.4 775.7 2400.7 776.1 2401.9C776.4 2403.2 776.8 2404.5 777.1 2405.8C777.5 2407.1 777.8 2408.4 778.1 2409.7C778.4 2411.0 778.8 2412.3 779.1 2413.6C779.4 2414.9 779.7 2416.2 780.0 2417.5C780.3 2418.8 780.6 2420.1 780.9 2421.4C781.2 2422.7 781.5 2424.0 781.7 2425.3C782.0 2426.6 782.3 2427.9 782.6 2429.2C782.8 2430.5 783.1 2431.8 783.4 2433.2C783.6 2434.5 783.9 2435.8 784.1 2437.1C784.4 2438.4 784.6 2439.7 784.9 2441.0C785.1 2442.3 785.4 2443.7 785.6 2445.0C785.8 2446.3 786.1 2447.6 786.3 2448.9C786.5 2450.2 786.8 2451.5 787.0 2452.9C787.2 2454.2 787.4 2455.5 787.7 2456.8C787.9 2458.1 788.1 2459.5 788.3 2460.8C788.5 2462.1 788.7 2463.4 788.9 2464.7C789.1 2466.0 789.3 2467.4 789.6 2468.7C789.8 2470.0 790.0 2471.3 790.2 2472.6C790.4 2474.0 790.6 2475.3 790.8 2476.6C791.0 2477.9 791.2 2479.3 791.4 2480.6C791.6 2481.9 791.8 2483.2 792.0 2484.5C792.2 2485.9 792.4 2487.2 792.6 2488.5C792.8 2489.8 793.0 2491.1 793.1 2492.5C793.3 2493.8 793.5 2495.1 793.7 2496.4C793.9 2497.8 794.1 2499.1 794.3 2500.4C794.5 2501.7 794.7 2503.0 794.9 2504.4C795.1 2505.7 795.2 2507.0 795.4 2508.3C795.6 2509.7 795.8 2511.0 796.0 2512.3C796.2 2513.6 796.4 2514.9 796.5 2516.3C796.7 2517.6 796.9 2518.9 797.1 2520.2C797.3 2521.6 797.5 2522.9 797.6 2524.2C797.8 2525.5 798.0 2526.9 798.2 2528.2C798.4 2529.5 798.5 2530.8 798.7 2532.2C798.9 2533.5 799.1 2534.8 799.2 2536.1C799.4 2537.5 799.6 2538.8 799.8 2540.1C799.9 2541.4 800.1 2542.8 800.3 2544.1C800.4 2545.4 800.6 2546.7 800.8 2548.1C801.0 2549.4 801.1 2550.7 801.3 2552.0C801.5 2553.4 801.6 2554.7 801.8 2556.0C802.0 2557.3 802.1 2558.7 802.3 2560.0C802.4 2561.3 802.6 2562.6 802.8 2564.0C802.9 2565.3 803.1 2566.6 803.3 2567.9C803.4 2569.3 803.6 2570.6 803.7 2571.9C803.9 2573.2 804.1 2574.6 804.2 2575.9C804.4 2577.2 804.5 2578.5 804.7 2579.9C804.8 2581.2 805.0 2582.5 805.1 2583.9C805.3 2585.2 805.5 2586.5 805.6 2587.8C805.8 2589.2 805.9 2590.5 806.1 2591.8C806.2 2593.1 806.4 2594.5 806.5 2595.8C806.7 2597.1 806.8 2598.5 807.0 2599.8C807.1 2601.1 807.2 2602.4 807.4 2603.8C807.5 2605.1 807.7 2606.4 807.8 2607.8C808.0 2609.1 808.1 2610.4 808.3 2611.7C808.4 2613.1 808.5 2614.4 808.7 2615.7C808.8 2617.1 809.0 2618.4 809.1 2619.7C809.2 2621.0 809.4 2622.4 809.5 2623.7C809.6 2625.0 809.8 2626.4 809.9 2627.7C810.1 2629.0 810.2 2630.3 810.3 2631.7C810.5 2633.0 810.6 2634.3 810.7 2635.7C810.9 2637.0 811.0 2638.3 811.1 2639.6C811.2 2641.0 811.4 2642.3 811.5 2643.6C811.6 2645.0 811.8 2646.3 811.9 2647.6C812.0 2649.0 812.1 2650.3 812.3 2651.6C812.4 2652.9 812.5 2654.3 812.6 2655.6C812.8 2656.9 812.9 2658.3 813.0 2659.6C813.1 2660.9 813.3 2662.3 813.4 2663.6C813.5 2664.9 813.6 2666.2 813.8 2667.6C813.9 2668.9 814.0 2670.2 814.1 2671.6C814.2 2672.9 814.4 2674.2 814.5 2675.6C814.6 2676.9 814.7 2678.2 814.8 2679.6C814.9 2680.9 815.1 2682.2 815.2 2683.5C815.3 2684.9 815.4 2686.2 815.5 2687.5C815.6 2688.9 815.8 2690.2 815.9 2691.5C816.0 2692.9 816.1 2694.2 816.2 2695.5C816.3 2696.9 816.4 2698.2 816.5 2699.5C816.7 2700.9 816.8 2702.2 816.9 2703.5C817.0 2704.8 817.1 2706.2 817.2 2707.5C817.3 2708.8 817.4 2710.2 817.5 2711.5C817.7 2712.8 817.8 2714.2 817.9 2715.5C818.0 2716.8 818.1 2718.2 818.2 2719.5C818.3 2720.8 818.4 2722.2 818.5 2723.5C818.6 2724.8 818.7 2726.2 818.8 2727.5C818.9 2728.8 819.0 2730.1 819.1 2731.5C819.2 2732.8 819.3 2734.1 819.5 2735.5C819.6 2736.8 819.7 2738.1 819.8 2739.5C819.9 2740.8 820.0 2742.1 820.1 2743.5C820.2 2744.8 820.3 2746.1 820.4 2747.5C820.5 2748.8 820.6 2750.1 820.7 2751.5C820.8 2752.8 820.9 2754.1 821.0 2755.5C821.1 2756.8 821.2 2758.1 821.3 2759.5C821.4 2760.8 821.5 2762.1 821.6 2763.5C821.7 2764.8 821.8 2766.1 821.9 2767.4C822.0 2768.8 822.1 2770.1 822.2 2771.4C822.3 2772.8 822.4 2774.1 822.4 2775.4C822.5 2776.8 822.6 2778.1 822.7 2779.4C822.8 2780.8 822.9 2782.1 823.0 2783.4C823.1 2784.8 823.2 2786.1 823.3 2787.4C823.4 2788.8 823.5 2790.1 823.6 2791.4C823.7 2792.8 823.8 2794.1 823.9 2795.4C824.0 2796.8 824.1 2798.1 824.2 2799.4C824.3 2800.8 824.4 2802.1 824.4 2803.4C824.5 2804.8 824.6 2806.1 824.7 2807.4C824.8 2808.8 824.9 2810.1 825.0 2811.4C825.1 2812.8 825.2 2814.1 825.3 2815.4C825.4 2816.8 825.5 2818.1 825.6 2819.4C825.7 2820.8 825.8 2822.1 825.8 2823.4C825.9 2824.7 826.0 2826.1 826.1 2827.4C826.2 2828.7 826.3 2830.1 826.4 2831.4C826.5 2832.7 826.6 2834.1 826.7 2835.4C826.8 2836.7 826.9 2838.1 827.0 2839.4C827.0 2840.7 827.1 2842.1 827.2 2843.4C827.3 2844.7 827.4 2846.1 827.5 2847.4C827.6 2848.7 827.7 2850.1 827.8 2851.4C827.9 2852.7 828.0 2854.1 828.1 2855.4C828.1 2856.7 828.2 2858.1 828.3 2859.4C828.4 2860.7 828.5 2862.1 828.6 2863.4C828.7 2864.7 828.8 2866.1 828.9 2867.4C829.0 2868.7 829.1 2870.1 829.2 2871.4C829.3 2872.7 829.3 2874.1 829.4 2875.4C829.5 2876.7 829.6 2878.1 829.7 2879.4C829.8 2880.7 829.9 2882.1 830.0 2883.4C830.1 2884.7 830.2 2886.1 830.3 2887.4C830.4 2888.7 830.5 2890.1 830.6 2891.4C830.6 2892.7 830.7 2894.1 830.8 2895.4C830.9 2896.7 831.0 2898.1 831.1 2899.4C831.2 2900.7 831.3 2902.0 831.4 2903.4C831.5 2904.7 831.6 2906.0 831.7 2907.4C831.8 2908.7 831.9 2910.0 832.0 2911.4C832.1 2912.7 832.2 2914.0 832.3 2915.4C832.4 2916.7 832.4 2918.0 832.5 2919.4C832.6 2920.7 832.7 2922.0 832.8 2923.4C832.9 2924.7 833.0 2926.0 833.1 2927.4C833.2 2928.7 833.3 2930.0 833.4 2931.4C833.5 2932.7 833.6 2934.0 833.7 2935.4C833.8 2936.7 833.9 2938.0 834.0 2939.4C834.1 2940.7 834.2 2942.0 834.3 2943.4C834.4 2944.7 834.5 2946.0 834.6 2947.4C834.7 2948.7 834.8 2950.0 834.9 2951.3C835.0 2952.7 835.1 2954.0 835.2 2955.3C835.3 2956.7 835.4 2958.0 835.5 2959.3C835.6 2960.7 835.7 2962.0 835.8 2963.3C835.9 2964.7 836.0 2966.0 836.1 2967.3C836.2 2968.7 836.3 2970.0 836.5 2971.3C836.6 2972.7 836.7 2974.0 836.8 2975.3C836.9 2976.7 837.0 2978.0 837.1 2979.3C837.2 2980.7 837.3 2982.0 837.4 2983.3C837.5 2984.6 837.6 2986.0 837.7 2987.3C837.8 2988.6 837.9 2990.0 838.1 2991.3C838.2 2992.6 838.3 2994.0 838.4 2995.3C838.5 2996.6 838.6 2998.0 838.7 2999.3C838.8 3000.6 838.9 3002.0 839.1 3003.3C839.2 3004.6 839.3 3005.9 839.4 3007.3C839.5 3008.6 839.6 3009.9 839.7 3011.3C839.9 3012.6 840.0 3013.9 840.1 3015.3C840.2 3016.6 840.3 3017.9 840.4 3019.3C840.6 3020.6 840.7 3021.9 840.8 3023.2C840.9 3024.6 841.0 3025.9 841.2 3027.2C841.3 3028.6 841.4 3029.9 841.5 3031.2C841.6 3032.6 841.8 3033.9 841.9 3035.2C842.0 3036.6 842.1 3037.9 842.2 3039.2C842.4 3040.5 842.5 3041.9 842.6 3043.2C842.7 3044.5 842.9 3045.9 843.0 3047.2C843.1 3048.5 843.2 3049.9 843.4 3051.2C843.5 3052.5 843.6 3053.8 843.8 3055.2C843.9 3056.5 844.0 3057.8 844.2 3059.2C844.3 3060.5 844.4 3061.8 844.5 3063.2C844.7 3064.5 844.8 3065.8 844.9 3067.1C845.1 3068.5 845.2 3069.8 845.3 3071.1C845.5 3072.5 845.6 3073.8 845.8 3075.1C845.9 3076.4 846.0 3077.8 846.2 3079.1C846.3 3080.4 846.4 3081.8 846.6 3083.1C846.7 3084.4 846.9 3085.7 847.0 3087.1C847.1 3088.4 847.3 3089.7 847.4 3091.1C847.6 3092.4 847.7 3093.7 847.9 3095.0C848.0 3096.4 848.1 3097.7 848.3 3099.0C848.4 3100.4 848.6 3101.7 848.7 3103.0C848.9 3104.3 849.0 3105.7 849.2 3107.0C849.3 3108.3 849.5 3109.7 849.6 3111.0C849.7 3112.3 849.9 3113.6 850.0 3115.0C850.2 3116.3 850.3 3117.6 850.5 3118.9C850.6 3120.3 850.8 3121.6 850.9 3122.9C851.1 3124.3 851.2 3125.6 851.4 3126.9C851.5 3128.2 851.6 3129.6 851.8 3130.9C851.9 3132.2 852.1 3133.6 852.2 3134.9C852.4 3136.2 852.5 3137.5 852.7 3138.9C852.8 3140.2 853.0 3141.5 853.1 3142.9C853.2 3144.2 853.4 3145.5 853.5 3146.8C853.7 3148.2 853.8 3149.5 854.0 3150.8C854.1 3152.1 854.2 3153.5 854.4 3154.8C854.5 3156.1 854.7 3157.5 854.8 3158.8C855.0 3160.1 855.1 3161.4 855.2 3162.8C855.4 3164.1 855.5 3165.4 855.6 3166.8C855.8 3168.1 855.9 3169.4 856.1 3170.8C856.2 3172.1 856.3 3173.4 856.5 3174.7C856.6 3176.1 856.7 3177.4 856.9 3178.7C857.0 3180.1 857.1 3181.4 857.2 3182.7C857.4 3184.0 857.5 3185.4 857.6 3186.7C857.8 3188.0 857.9 3189.4 858.0 3190.7C858.1 3192.0 858.3 3193.4 858.4 3194.7C858.5 3196.0 858.6 3197.3 858.7 3198.7C858.9 3200.0 859.0 3201.3 859.1 3202.7C859.2 3204.0 859.3 3205.3 859.5 3206.7C859.6 3208.0 859.7 3209.3 859.8 3210.7C859.9 3212.0 860.0 3213.3 860.1 3214.6C860.2 3216.0 860.3 3217.3 860.4 3218.6C860.6 3220.0 860.7 3221.3 860.8 3222.6C860.9 3224.0 861.0 3225.3 861.1 3226.6C861.2 3228.0 861.3 3229.3 861.4 3230.6C861.5 3232.0 861.6 3233.3 861.7 3234.6C861.8 3236.0 861.9 3237.3 862.0 3238.6C862.1 3240.0 862.2 3241.3 862.3 3242.6C862.4 3244.0 862.4 3245.3 862.5 3246.6C862.6 3248.0 862.7 3249.3 862.8 3250.6C862.9 3252.0 863.0 3253.3 863.1 3254.6C863.2 3256.0 863.3 3257.3 863.4 3258.6C863.5 3259.9 863.6 3261.3 863.6 3262.6C863.7 3263.9 863.8 3265.3 863.9 3266.6C864.0 3267.9 864.1 3269.3 864.2 3270.6C864.3 3271.9 864.4 3273.3 864.5 3274.6C864.5 3275.9 864.6 3277.3 864.7 3278.6C864.8 3279.9 864.9 3281.3 865.0 3282.6C865.1 3283.9 865.2 3285.3 865.3 3286.6C865.3 3287.9 865.4 3289.3 865.5 3290.6C865.6 3291.9 865.7 3293.3 865.8 3294.6C865.9 3295.9 866.0 3297.3 866.1 3298.6C866.2 3299.9 866.2 3301.3 866.3 3302.6C866.4 3303.9 866.5 3305.3 866.6 3306.6C866.7 3307.9 866.8 3309.3 866.9 3310.6C867.0 3311.9 867.1 3313.3 867.2 3314.6C867.3 3315.9 867.4 3317.3 867.5 3318.6C867.6 3319.9 867.7 3321.3 867.8 3322.6C867.9 3323.9 868.0 3325.3 868.1 3326.6C868.2 3327.9 868.3 3329.2 868.4 3330.6C868.5 3331.9 868.6 3333.2 868.7 3334.6C868.8 3335.9 869.0 3337.2 869.1 3338.6C869.2 3339.9 869.3 3341.2 869.4 3342.6C869.5 3343.9 869.6 3345.2 869.7 3346.6C869.8 3347.9 869.8 3349.2 869.9 3350.6C870.0 3351.9 870.1 3353.2 870.2 3354.6C870.3 3355.9 870.4 3357.2 870.5 3358.6C870.6 3359.9 870.7 3361.2 870.9 3362.6C871.1 3363.9 871.1 3366.3 871.6 3366.5C872.0 3366.7 872.9 3365.7 873.3 3365.0C873.9 3364.1 874.0 3362.4 874.2 3361.1C874.5 3359.8 874.7 3358.5 874.9 3357.2C875.1 3355.9 875.3 3354.5 875.5 3353.2C875.6 3351.9 875.8 3350.6 875.9 3349.2C876.0 3347.9 876.1 3346.6 876.2 3345.2C876.3 3343.9 876.4 3342.6 876.5 3341.2C876.6 3339.9 876.7 3338.6 876.8 3337.2C876.8 3335.9 876.9 3334.6 877.0 3333.2C877.1 3331.9 877.1 3330.6 877.2 3329.2C877.3 3327.9 877.4 3326.6 877.5 3325.2C877.5 3323.9 877.6 3322.6 877.7 3321.2C877.8 3319.9 877.9 3318.6 878.0 3317.2C878.0 3315.9 878.1 3314.6 878.2 3313.2C878.3 3311.9 878.4 3310.6 878.5 3309.2C878.6 3307.9 878.7 3306.6 878.7 3305.2C878.8 3303.9 878.9 3302.6 879.0 3301.2C879.1 3299.9 879.2 3298.6 879.3 3297.2C879.4 3295.9 879.5 3294.6 879.6 3293.2C879.7 3291.9 879.8 3290.6 879.9 3289.2C879.9 3287.9 880.0 3286.6 880.1 3285.2C880.2 3283.9 880.3 3282.6 880.4 3281.3C880.5 3279.9 880.6 3278.6 880.7 3277.3C880.8 3275.9 880.9 3274.6 881.0 3273.3C881.1 3271.9 881.2 3270.6 881.3 3269.3C881.4 3267.9 881.5 3266.6 881.6 3265.3C881.7 3263.9 881.8 3262.6 881.9 3261.3C882.0 3259.9 882.1 3258.6 882.2 3257.3C882.3 3255.9 882.4 3254.6 882.5 3253.3C882.6 3251.9 882.7 3250.6 882.8 3249.3C883.0 3247.9 883.1 3246.6 883.2 3245.3C883.3 3244.0 883.4 3242.6 883.5 3241.3C883.6 3240.0 883.7 3238.6 883.8 3237.3C883.9 3236.0 884.0 3234.6 884.1 3233.3C884.2 3232.0 884.3 3230.6 884.4 3229.3C884.5 3228.0 884.6 3226.6 884.7 3225.3C884.8 3224.0 884.9 3222.6 885.0 3221.3C885.1 3220.0 885.2 3218.6 885.3 3217.3C885.4 3216.0 885.5 3214.6 885.6 3213.3C885.7 3212.0 885.8 3210.6 885.9 3209.3C886.0 3208.0 886.1 3206.7 886.2 3205.3C886.3 3204.0 886.4 3202.7 886.5 3201.3C886.6 3200.0 886.7 3198.7 886.8 3197.3C886.9 3196.0 887.0 3194.7 887.1 3193.3C887.2 3192.0 887.3 3190.7 887.4 3189.3C887.4 3188.0 887.5 3186.7 887.6 3185.3C887.7 3184.0 887.8 3182.7 887.9 3181.3C888.0 3180.0 888.1 3178.7 888.2 3177.3C888.3 3176.0 888.4 3174.7 888.4 3173.3C888.5 3172.0 888.6 3170.7 888.7 3169.3C888.8 3168.0 888.9 3166.7 889.0 3165.3C889.0 3164.0 889.1 3162.7 889.2 3161.3C889.3 3160.0 889.4 3158.7 889.4 3157.3C889.5 3156.0 889.6 3154.7 889.7 3153.3C889.8 3152.0 889.8 3150.7 889.9 3149.3C890.0 3148.0 890.1 3146.7 890.1 3145.3C890.2 3144.0 890.3 3142.7 890.4 3141.3C890.4 3140.0 890.5 3138.7 890.6 3137.3C890.6 3136.0 890.7 3134.7 890.8 3133.3C890.8 3132.0 890.9 3130.7 891.0 3129.3C891.0 3128.0 891.1 3126.7 891.2 3125.3C891.2 3124.0 891.3 3122.7 891.4 3121.3C891.4 3120.0 891.5 3118.6 891.6 3117.3C891.6 3116.0 891.7 3114.6 891.7 3113.3C891.8 3112.0 891.9 3110.6 891.9 3109.3C892.0 3108.0 892.0 3106.6 892.1 3105.3C892.2 3104.0 892.2 3102.6 892.3 3101.3C892.3 3100.0 892.4 3098.6 892.4 3097.3C892.5 3096.0 892.5 3094.6 892.6 3093.3C892.7 3092.0 892.7 3090.6 892.8 3089.3C892.8 3087.9 892.9 3086.6 892.9 3085.3C893.0 3083.9 893.0 3082.6 893.1 3081.3C893.1 3079.9 893.2 3078.6 893.2 3077.3C893.3 3075.9 893.3 3074.6 893.4 3073.3C893.4 3071.9 893.5 3070.6 893.5 3069.3C893.5 3067.9 893.6 3066.6 893.6 3065.3C893.7 3063.9 893.7 3062.6 893.8 3061.2C893.8 3059.9 893.9 3058.6 893.9 3057.2C894.0 3055.9 894.0 3054.6 894.0 3053.2C894.1 3051.9 894.1 3050.6 894.2 3049.2C894.2 3047.9 894.3 3046.6 894.3 3045.2C894.3 3043.9 894.4 3042.6 894.4 3041.2C894.5 3039.9 894.5 3038.5 894.5 3037.2C894.6 3035.9 894.6 3034.5 894.7 3033.2C894.7 3031.9 894.7 3030.5 894.8 3029.2C894.8 3027.9 894.9 3026.5 894.9 3025.2C894.9 3023.9 895.0 3022.5 895.0 3021.2C895.1 3019.9 895.1 3018.5 895.1 3017.2C895.2 3015.8 895.2 3014.5 895.3 3013.2C895.3 3011.8 895.3 3010.5 895.4 3009.2C895.4 3007.8 895.4 3006.5 895.5 3005.2C895.5 3003.8 895.6 3002.5 895.6 3001.2C895.6 2999.8 895.7 2998.5 895.7 2997.1C895.8 2995.8 895.8 2994.5 895.8 2993.1C895.9 2991.8 895.9 2990.5 895.9 2989.1C896.0 2987.8 896.0 2986.5 896.1 2985.1C896.1 2983.8 896.1 2982.5 896.2 2981.1C896.2 2979.8 896.2 2978.5 896.3 2977.1C896.3 2975.8 896.4 2974.4 896.4 2973.1C896.4 2971.8 896.5 2970.4 896.5 2969.1C896.6 2967.8 896.6 2966.4 896.6 2965.1C896.7 2963.8 896.7 2962.4 896.7 2961.1C896.8 2959.8 896.8 2958.4 896.9 2957.1C896.9 2955.8 896.9 2954.4 897.0 2953.1C897.0 2951.7 897.1 2950.4 897.1 2949.1C897.1 2947.7 897.2 2946.4 897.2 2945.1C897.3 2943.7 897.3 2942.4 897.4 2941.1C897.4 2939.7 897.4 2938.4 897.5 2937.1C897.5 2935.7 897.6 2934.4 897.6 2933.1C897.6 2931.7 897.7 2930.4 897.7 2929.0C897.8 2927.7 897.8 2926.4 897.9 2925.0C897.9 2923.7 898.0 2922.4 898.0 2921.0C898.0 2919.7 898.1 2918.4 898.1 2917.0C898.2 2915.7 898.2 2914.4 898.3 2913.0C898.3 2911.7 898.4 2910.4 898.4 2909.0C898.5 2907.7 898.5 2906.3 898.6 2905.0C898.6 2903.7 898.7 2902.3 898.7 2901.0C898.8 2899.7 898.8 2898.3 898.9 2897.0C898.9 2895.7 899.0 2894.3 899.0 2893.0C899.1 2891.7 899.1 2890.3 899.2 2889.0C899.2 2887.7 899.3 2886.3 899.3 2885.0C899.4 2883.7 899.4 2882.3 899.5 2881.0C899.6 2879.6 899.6 2878.3 899.7 2877.0C899.7 2875.6 899.8 2874.3 899.8 2873.0C899.9 2871.6 899.9 2870.3 900.0 2869.0C900.1 2867.6 900.1 2866.3 900.2 2865.0C900.2 2863.6 900.3 2862.3 900.3 2861.0C900.4 2859.6 900.5 2858.3 900.5 2857.0C900.6 2855.6 900.6 2854.3 900.7 2853.0C900.8 2851.6 900.8 2850.3 900.9 2848.9C900.9 2847.6 901.0 2846.3 901.1 2844.9C901.1 2843.6 901.2 2842.3 901.2 2840.9C901.3 2839.6 901.4 2838.3 901.4 2836.9C901.5 2835.6 901.6 2834.3 901.6 2832.9C901.7 2831.6 901.7 2830.3 901.8 2828.9C901.9 2827.6 901.9 2826.3 902.0 2824.9C902.1 2823.6 902.1 2822.3 902.2 2820.9C902.3 2819.6 902.3 2818.3 902.4 2816.9C902.5 2815.6 902.5 2814.3 902.6 2812.9C902.7 2811.6 902.7 2810.2 902.8 2808.9C902.8 2807.6 902.9 2806.2 903.0 2804.9C903.0 2803.6 903.1 2802.2 903.2 2800.9C903.2 2799.6 903.3 2798.2 903.4 2796.9C903.4 2795.6 903.5 2794.2 903.6 2792.9C903.7 2791.6 903.7 2790.2 903.8 2788.9C903.9 2787.6 903.9 2786.2 904.0 2784.9C904.1 2783.6 904.1 2782.2 904.2 2780.9C904.3 2779.6 904.3 2778.2 904.4 2776.9C904.5 2775.6 904.5 2774.2 904.6 2772.9C904.7 2771.6 904.7 2770.2 904.8 2768.9C904.9 2767.6 905.0 2766.2 905.0 2764.9C905.1 2763.6 905.2 2762.2 905.2 2760.9C905.3 2759.5 905.4 2758.2 905.4 2756.9C905.5 2755.5 905.6 2754.2 905.7 2752.9C905.7 2751.5 905.8 2750.2 905.9 2748.9C905.9 2747.5 906.0 2746.2 906.1 2744.9C906.1 2743.5 906.2 2742.2 906.3 2740.9C906.4 2739.5 906.4 2738.2 906.5 2736.9C906.6 2735.5 906.6 2734.2 906.7 2732.9C906.8 2731.5 906.8 2730.2 906.9 2728.9C907.0 2727.5 907.1 2726.2 907.1 2724.9C907.2 2723.5 907.3 2722.2 907.3 2720.9C907.4 2719.5 907.5 2718.2 907.6 2716.9C907.6 2715.5 907.7 2714.2 907.8 2712.9C907.8 2711.5 907.9 2710.2 908.0 2708.9C908.0 2707.5 908.1 2706.2 908.2 2704.9C908.3 2703.5 908.3 2702.2 908.4 2700.8C908.5 2699.5 908.5 2698.2 908.6 2696.8C908.7 2695.5 908.7 2694.2 908.8 2692.8C908.9 2691.5 909.0 2690.2 909.0 2688.8C909.1 2687.5 909.2 2686.2 909.2 2684.8C909.3 2683.5 909.4 2682.2 909.4 2680.8C909.5 2679.5 909.6 2678.2 909.7 2676.8C909.7 2675.5 909.8 2674.2 909.9 2672.8C909.9 2671.5 910.0 2670.2 910.1 2668.8C910.1 2667.5 910.2 2666.2 910.3 2664.8C910.3 2663.5 910.4 2662.2 910.5 2660.8C910.5 2659.5 910.6 2658.2 910.7 2656.8C910.7 2655.5 910.8 2654.2 910.9 2652.8C910.9 2651.5 911.0 2650.1 911.1 2648.8C911.1 2647.5 911.2 2646.1 911.3 2644.8C911.3 2643.5 911.4 2642.1 911.5 2640.8C911.5 2639.5 911.6 2638.1 911.7 2636.8C911.7 2635.5 911.8 2634.1 911.9 2632.8C911.9 2631.5 912.0 2630.1 912.1 2628.8C912.1 2627.5 912.2 2626.1 912.3 2624.8C912.3 2623.5 912.4 2622.1 912.4 2620.8C912.5 2619.5 912.6 2618.1 912.6 2616.8C912.7 2615.5 912.8 2614.1 912.8 2612.8C912.9 2611.5 912.9 2610.1 913.0 2608.8C913.1 2607.4 913.1 2606.1 913.2 2604.8C913.3 2603.4 913.3 2602.1 913.4 2600.8C913.4 2599.4 913.5 2598.1 913.6 2596.8C913.6 2595.4 913.7 2594.1 913.7 2592.8C913.8 2591.4 913.9 2590.1 913.9 2588.8C914.0 2587.4 914.0 2586.1 914.1 2584.8C914.1 2583.4 914.2 2582.1 914.3 2580.8C914.3 2579.4 914.4 2578.1 914.4 2576.8C914.5 2575.4 914.6 2574.1 914.6 2572.7C914.7 2571.4 914.7 2570.1 914.8 2568.7C914.9 2567.4 914.9 2566.1 915.0 2564.7C915.0 2563.4 915.1 2562.1 915.2 2560.7C915.2 2559.4 915.3 2558.1 915.3 2556.7C915.4 2555.4 915.5 2554.1 915.5 2552.7C915.6 2551.4 915.7 2550.1 915.7 2548.7C915.8 2547.4 915.8 2546.1 915.9 2544.7C916.0 2543.4 916.0 2542.1 916.1 2540.7C916.2 2539.4 916.2 2538.0 916.3 2536.7C916.4 2535.4 916.5 2534.0 916.5 2532.7C916.6 2531.4 916.7 2530.0 916.7 2528.7C916.8 2527.4 916.9 2526.0 917.0 2524.7C917.0 2523.4 917.1 2522.0 917.2 2520.7C917.3 2519.4 917.3 2518.0 917.4 2516.7C917.5 2515.4 917.6 2514.0 917.6 2512.7C917.7 2511.4 917.8 2510.0 917.9 2508.7C918.0 2507.4 918.1 2506.0 918.1 2504.7C918.2 2503.4 918.3 2502.0 918.4 2500.7C918.5 2499.4 918.6 2498.0 918.7 2496.7C918.8 2495.4 918.9 2494.0 919.0 2492.7C919.1 2491.4 919.2 2490.0 919.3 2488.7C919.4 2487.4 919.5 2486.0 919.6 2484.7C919.7 2483.4 919.8 2482.1 919.9 2480.7C920.0 2479.4 920.1 2478.1 920.2 2476.7C920.3 2475.4 920.4 2474.1 920.5 2472.7C920.6 2471.4 920.8 2470.1 920.9 2468.7C921.0 2467.4 921.1 2466.1 921.2 2464.7C921.4 2463.4 921.5 2462.1 921.6 2460.8C921.7 2459.4 921.9 2458.1 922.0 2456.8C922.1 2455.4 922.3 2454.1 922.4 2452.8C922.5 2451.4 922.7 2450.1 922.8 2448.8C922.9 2447.5 923.1 2446.1 923.2 2444.8C923.4 2443.5 923.5 2442.2 923.7 2440.8C923.9 2439.5 924.0 2438.2 924.2 2436.8C924.4 2435.5 924.5 2434.2 924.7 2432.9C924.9 2431.6 925.1 2430.2 925.3 2428.9C925.5 2427.6 925.7 2426.3 925.9 2424.9C926.1 2423.6 926.3 2422.3 926.5 2421.0C926.8 2419.7 927.0 2418.4 927.2 2417.0C927.5 2415.7 927.7 2414.4 928.0 2413.1C928.3 2411.8 928.5 2410.5 928.8 2409.2C929.1 2407.9 929.4 2406.6 929.7 2405.3C930.0 2404.0 930.3 2402.7 930.7 2401.4C931.0 2400.1 931.3 2398.8 931.7 2397.5C932.0 2396.2 932.4 2394.9 932.8 2393.7C933.2 2392.4 933.6 2391.1 934.0 2389.8C934.4 2388.6 934.8 2387.3 935.2 2386.0C935.7 2384.8 936.1 2383.5 936.6 2382.2C937.0 2381.0 937.5 2379.7 938.0 2378.5C938.5 2377.3 939.0 2376.0 939.6 2374.8C940.1 2373.6 940.6 2372.4 941.2 2371.1C941.7 2369.9 942.3 2368.7 942.9 2367.5C943.6 2366.4 944.2 2365.2 945.0 2364.1C945.7 2363.0 946.6 2361.9 947.5 2361.0C948.5 2360.2 949.7 2359.4 950.8 2358.8C952.0 2358.2 953.4 2357.9 954.7 2357.6C955.9 2357.3 957.3 2357.1 958.6 2357.0C960.0 2356.9 961.3 2356.9 962.6 2356.9C964.0 2356.9 965.3 2357.0 966.6 2357.1C968.0 2357.1 969.3 2357.3 970.6 2357.4C972.0 2357.5 973.3 2357.6 974.6 2357.7C976.0 2357.8 977.3 2357.9 978.6 2357.9C980.0 2357.9 981.3 2357.8 982.6 2357.7C984.0 2357.6 985.3 2357.5 986.6 2357.3C987.9 2357.1 989.2 2356.8 990.5 2356.4C991.8 2356.1 993.1 2355.6 994.3 2355.1C995.5 2354.6 996.7 2354.0 997.9 2353.3C999.0 2352.6 1000.1 2351.8 1001.2 2351.0C1002.3 2350.2 1003.3 2349.4 1004.3 2348.5C1005.2 2347.6 1006.2 2346.6 1007.1 2345.7C1008.1 2344.7 1008.9 2343.7 1009.8 2342.7C1010.7 2341.7 1011.6 2340.7 1012.4 2339.7C1013.3 2338.6 1014.1 2337.6 1015.0 2336.6C1015.8 2335.5 1016.7 2334.5 1017.6 2333.5C1018.4 2332.5 1019.3 2331.5 1020.2 2330.5C1021.1 2329.5 1022.0 2328.5 1022.9 2327.5C1023.8 2326.6 1024.8 2325.6 1025.7 2324.7C1026.7 2323.8 1027.7 2322.8 1028.7 2321.9C1029.7 2321.1 1030.7 2320.2 1031.7 2319.4C1032.7 2318.5 1033.8 2317.7 1034.9 2316.9C1036.0 2316.1 1037.1 2315.4 1038.2 2314.6C1039.3 2313.9 1040.4 2313.2 1041.6 2312.6C1042.8 2311.9 1044.0 2311.3 1045.2 2310.7C1046.4 2310.2 1047.6 2309.6 1048.9 2309.1C1050.1 2308.7 1051.4 2308.2 1052.6 2307.8C1053.9 2307.4 1055.2 2307.1 1056.5 2306.8C1057.8 2306.4 1059.1 2306.1 1060.4 2305.9C1061.7 2305.6 1063.0 2305.4 1064.4 2305.2C1065.7 2304.9 1067.0 2304.7 1068.3 2304.6C1069.6 2304.4 1071.0 2304.2 1072.3 2304.0C1073.6 2303.9 1074.9 2303.7 1076.3 2303.5C1077.6 2303.4 1078.9 2303.2 1080.2 2303.0C1081.6 2302.9 1082.9 2302.7 1084.2 2302.5C1085.5 2302.3 1086.9 2302.1 1088.2 2301.9C1089.5 2301.7 1090.8 2301.5 1092.1 2301.2C1093.4 2301.0 1094.8 2300.8 1096.1 2300.5C1097.4 2300.2 1098.7 2300.0 1100.0 2299.7C1101.3 2299.4 1102.6 2299.1 1103.9 2298.8C1105.2 2298.5 1106.5 2298.2 1107.8 2297.9C1109.1 2297.5 1110.4 2297.2 1111.7 2296.8C1113.0 2296.5 1114.3 2296.1 1115.5 2295.8C1116.8 2295.4 1118.1 2295.0 1119.4 2294.6C1120.7 2294.2 1121.9 2293.8 1123.2 2293.4C1124.5 2293.0 1125.7 2292.6 1127.0 2292.2C1128.3 2291.8 1129.6 2291.4 1130.8 2290.9C1132.1 2290.5 1133.4 2290.1 1134.6 2289.6C1135.9 2289.2 1137.1 2288.8 1138.4 2288.4C1139.7 2287.9 1140.9 2287.5 1142.2 2287.1C1143.5 2286.7 1144.8 2286.3 1146.0 2285.9C1147.3 2285.4 1148.6 2285.0 1149.9 2284.7C1151.1 2284.3 1152.4 2283.9 1153.7 2283.5C1155.0 2283.2 1156.3 2282.8 1157.6 2282.5C1158.9 2282.1 1160.2 2281.8 1161.5 2281.5C1162.8 2281.2 1164.1 2280.9 1165.4 2280.7C1166.7 2280.4 1168.0 2280.2 1169.3 2280.0C1170.6 2279.8 1172.0 2279.6 1173.3 2279.4C1174.6 2279.2 1175.9 2279.1 1177.3 2279.0C1178.6 2278.8 1179.9 2278.7 1181.3 2278.6C1182.6 2278.5 1183.9 2278.4 1185.3 2278.3C1186.6 2278.1 1187.9 2278.0 1189.2 2277.9C1190.6 2277.8 1191.9 2277.7 1193.2 2277.6C1194.6 2277.4 1195.9 2277.3 1197.2 2277.2C1198.6 2277.0 1199.9 2276.8 1201.2 2276.6C1202.5 2276.4 1203.8 2276.2 1205.2 2276.0C1206.5 2275.8 1207.8 2275.6 1209.1 2275.3C1210.4 2275.1 1211.7 2274.8 1213.0 2274.6C1214.4 2274.3 1215.7 2274.1 1217.0 2273.8C1218.3 2273.5 1219.6 2273.3 1220.9 2273.0C1222.2 2272.7 1223.5 2272.4 1224.8 2272.1C1226.1 2271.9 1227.4 2271.6 1228.7 2271.3C1230.0 2271.0 1231.4 2270.7 1232.7 2270.5C1234.0 2270.2 1235.3 2269.9 1236.6 2269.7C1237.9 2269.4 1239.2 2269.1 1240.5 2268.9C1241.8 2268.7 1243.1 2268.4 1244.5 2268.2C1245.8 2267.9 1247.1 2267.7 1248.4 2267.5C1249.7 2267.3 1251.0 2267.1 1252.4 2266.9C1253.7 2266.7 1255.0 2266.5 1256.3 2266.3C1257.7 2266.1 1259.0 2265.9 1260.3 2265.7C1261.6 2265.5 1262.9 2265.4 1264.3 2265.2C1265.6 2265.0 1266.9 2264.9 1268.3 2264.7C1269.6 2264.5 1270.9 2264.4 1272.2 2264.2C1273.6 2264.1 1274.9 2264.0 1276.2 2263.8C1277.6 2263.7 1278.9 2263.6 1280.2 2263.5C1281.5 2263.3 1282.9 2263.2 1284.2 2263.1C1285.5 2263.0 1286.9 2262.9 1288.2 2262.8C1289.5 2262.7 1290.9 2262.6 1292.2 2262.5C1293.5 2262.4 1294.9 2262.3 1296.2 2262.2C1297.5 2262.2 1298.9 2262.1 1300.2 2262.0C1301.5 2261.9 1302.9 2261.9 1304.2 2261.8C1305.5 2261.7 1306.9 2261.7 1308.2 2261.6C1309.5 2261.6 1310.9 2261.5 1312.2 2261.5C1313.5 2261.4 1314.9 2261.4 1316.2 2261.4C1317.6 2261.3 1318.9 2261.3 1320.2 2261.3C1321.6 2261.2 1322.9 2261.2 1324.2 2261.2C1325.6 2261.1 1326.9 2261.1 1328.2 2261.1C1329.6 2261.1 1330.9 2261.1 1332.2 2261.1C1333.6 2261.1 1334.9 2261.1 1336.3 2261.0C1337.6 2261.0 1338.9 2261.0 1340.3 2261.0C1341.6 2261.0 1342.9 2261.1 1344.3 2261.1C1345.6 2261.1 1346.9 2261.1 1348.3 2261.1C1349.6 2261.1 1350.9 2261.1 1352.3 2261.1C1353.6 2261.2 1355.0 2261.2 1356.3 2261.2C1357.6 2261.2 1359.0 2261.3 1360.3 2261.3C1361.6 2261.3 1363.0 2261.3 1364.3 2261.4C1365.6 2261.4 1367.0 2261.4 1368.3 2261.5C1369.6 2261.5 1371.0 2261.6 1372.3 2261.6C1373.7 2261.6 1375.0 2261.7 1376.3 2261.7C1377.7 2261.8 1379.0 2261.8 1380.3 2261.9C1381.7 2261.9 1383.0 2262.0 1384.3 2262.0C1385.7 2262.1 1387.0 2262.2 1388.3 2262.2C1389.7 2262.3 1391.0 2262.3 1392.3 2262.4C1393.7 2262.5 1395.0 2262.5 1396.3 2262.6C1397.7 2262.7 1399.0 2262.7 1400.3 2262.8C1401.7 2262.9 1403.0 2262.9 1404.3 2263.0C1405.7 2263.1 1407.0 2263.1 1408.4 2263.2C1409.7 2263.3 1411.0 2263.4 1412.4 2263.4C1413.7 2263.5 1415.0 2263.6 1416.4 2263.7C1417.7 2263.8 1419.0 2263.8 1420.4 2263.9C1421.7 2264.0 1423.0 2264.1 1424.4 2264.2C1425.7 2264.2 1427.0 2264.3 1428.4 2264.4C1429.7 2264.5 1431.0 2264.6 1432.4 2264.7C1433.7 2264.7 1435.0 2264.8 1436.4 2264.9C1437.7 2265.0 1439.0 2265.1 1440.4 2265.2C1441.7 2265.3 1443.0 2265.4 1444.4 2265.5C1445.7 2265.5 1447.0 2265.6 1448.4 2265.7C1449.7 2265.8 1451.0 2265.9 1452.4 2266.0C1453.7 2266.1 1455.0 2266.2 1456.3 2266.3C1457.7 2266.4 1459.0 2266.4 1460.3 2266.5C1461.7 2266.6 1463.0 2266.7 1464.3 2266.8C1465.7 2266.9 1467.0 2267.0 1468.3 2267.1C1469.7 2267.2 1471.0 2267.3 1472.3 2267.4C1473.7 2267.4 1475.0 2267.5 1476.3 2267.6C1477.7 2267.7 1479.0 2267.8 1480.3 2267.9C1481.7 2268.0 1483.0 2268.1 1484.3 2268.2C1485.7 2268.2 1487.0 2268.3 1488.3 2268.4C1489.7 2268.5 1491.0 2268.6 1492.3 2268.7C1493.7 2268.7 1495.0 2268.8 1496.3 2268.9C1497.7 2269.0 1499.0 2269.0 1500.3 2269.1C1501.7 2269.2 1503.0 2269.2 1504.3 2269.3C1505.7 2269.4 1507.0 2269.4 1508.4 2269.5C1509.7 2269.5 1511.0 2269.6 1512.4 2269.6C1513.7 2269.6 1515.0 2269.6 1516.4 2269.7C1517.7 2269.7 1519.0 2269.7 1520.4 2269.7C1521.7 2269.7 1523.0 2269.7 1524.4 2269.7C1525.7 2269.7 1527.1 2269.7 1528.4 2269.6C1529.7 2269.6 1531.1 2269.5 1532.4 2269.5C1533.7 2269.4 1535.1 2269.4 1536.4 2269.3C1537.7 2269.2 1539.1 2269.1 1540.4 2269.0C1541.7 2268.9 1543.1 2268.8 1544.4 2268.7C1545.7 2268.6 1547.0 2268.4 1548.4 2268.3C1549.7 2268.2 1551.0 2268.0 1552.4 2267.9C1553.7 2267.7 1555.0 2267.6 1556.3 2267.4C1557.7 2267.2 1559.0 2267.1 1560.3 2266.9C1561.6 2266.7 1563.0 2266.6 1564.3 2266.4C1565.6 2266.2 1566.9 2266.0 1568.3 2265.9C1569.6 2265.7 1570.9 2265.5 1572.2 2265.3C1573.6 2265.2 1574.9 2265.0 1576.2 2264.8C1577.5 2264.7 1578.9 2264.5 1580.2 2264.3C1581.5 2264.2 1582.8 2264.0 1584.2 2263.9C1585.5 2263.7 1586.8 2263.6 1588.2 2263.4C1589.5 2263.3 1590.8 2263.2 1592.1 2263.0C1593.5 2262.9 1594.8 2262.8 1596.1 2262.7C1597.5 2262.5 1598.8 2262.4 1600.1 2262.3C1601.5 2262.2 1602.8 2262.1 1604.1 2262.0C1605.5 2262.0 1606.8 2261.9 1608.1 2261.8C1609.5 2261.7 1610.8 2261.6 1612.1 2261.6C1613.5 2261.5 1614.8 2261.4 1616.1 2261.4C1617.5 2261.3 1618.8 2261.3 1620.1 2261.2C1621.5 2261.2 1622.8 2261.1 1624.1 2261.1C1625.5 2261.1 1626.8 2261.0 1628.2 2261.0C1629.5 2261.0 1630.8 2261.0 1632.2 2260.9C1633.5 2260.9 1634.8 2260.9 1636.2 2260.9C1637.5 2260.9 1638.8 2260.9 1640.2 2260.9C1641.5 2260.9 1642.8 2260.9 1644.2 2260.9C1645.5 2260.9 1646.9 2261.0 1648.2 2261.0C1649.5 2261.0 1650.9 2261.0 1652.2 2261.1C1653.5 2261.1 1654.9 2261.1 1656.2 2261.2C1657.5 2261.2 1658.9 2261.2 1660.2 2261.3C1661.5 2261.3 1662.9 2261.4 1664.2 2261.4C1665.5 2261.5 1666.9 2261.6 1668.2 2261.6C1669.6 2261.7 1670.9 2261.8 1672.2 2261.8C1673.6 2261.9 1674.9 2262.0 1676.2 2262.1C1677.6 2262.1 1678.9 2262.2 1680.2 2262.3C1681.6 2262.4 1682.9 2262.5 1684.2 2262.6C1685.6 2262.7 1686.9 2262.8 1688.2 2262.9C1689.6 2263.0 1690.9 2263.1 1692.2 2263.2C1693.5 2263.3 1694.9 2263.4 1696.2 2263.5C1697.5 2263.6 1698.9 2263.8 1700.2 2263.9C1701.5 2264.0 1702.9 2264.1 1704.2 2264.2C1705.5 2264.4 1706.9 2264.5 1708.2 2264.6C1709.5 2264.8 1710.8 2264.9 1712.2 2265.0C1713.5 2265.2 1714.8 2265.3 1716.2 2265.5C1717.5 2265.6 1718.8 2265.7 1720.1 2265.9C1721.5 2266.0 1722.8 2266.2 1724.1 2266.3C1725.4 2266.5 1726.8 2266.6 1728.1 2266.8C1729.4 2267.0 1730.8 2267.1 1732.1 2267.3C1733.4 2267.4 1734.7 2267.6 1736.1 2267.8C1737.4 2267.9 1738.7 2268.1 1740.0 2268.3C1741.4 2268.4 1742.7 2268.6 1744.0 2268.8C1745.3 2268.9 1746.7 2269.1 1748.0 2269.3C1749.3 2269.5 1750.6 2269.7 1752.0 2269.8C1753.3 2270.0 1754.6 2270.2 1755.9 2270.4C1757.3 2270.5 1758.6 2270.7 1759.9 2270.9C1761.2 2271.1 1762.5 2271.3 1763.9 2271.5C1765.2 2271.7 1766.5 2271.8 1767.8 2272.0C1769.2 2272.2 1770.5 2272.4 1771.8 2272.6C1773.1 2272.8 1774.4 2273.0 1775.8 2273.2C1777.1 2273.4 1778.4 2273.6 1779.7 2273.7C1781.1 2273.9 1782.4 2274.1 1783.7 2274.3C1785.0 2274.5 1786.3 2274.7 1787.7 2274.9C1789.0 2275.1 1790.3 2275.3 1791.6 2275.6C1792.9 2275.8 1794.3 2276.0 1795.6 2276.2C1796.9 2276.4 1798.2 2276.6 1799.5 2276.8C1800.9 2277.1 1802.2 2277.3 1803.5 2277.5C1804.8 2277.8 1806.1 2278.0 1807.4 2278.2C1808.7 2278.5 1810.1 2278.7 1811.4 2279.0C1812.7 2279.3 1814.0 2279.5 1815.3 2279.8C1816.6 2280.0 1817.9 2280.3 1819.2 2280.6C1820.5 2280.9 1821.8 2281.2 1823.1 2281.5C1824.4 2281.8 1825.7 2282.1 1827.0 2282.4C1828.3 2282.6 1829.6 2282.9 1831.0 2283.2C1832.3 2283.4 1833.6 2283.7 1834.9 2283.8C1836.2 2284.0 1837.6 2284.1 1838.9 2284.1C1840.2 2284.1 1841.6 2284.0 1842.9 2283.9C1844.2 2283.8 1845.6 2283.5 1846.9 2283.2C1848.2 2282.9 1849.5 2282.6 1850.8 2282.2C1852.0 2281.9 1853.3 2281.6 1854.6 2281.3C1855.9 2280.9 1857.2 2280.7 1858.6 2280.4C1859.9 2280.2 1861.2 2280.0 1862.5 2279.8C1863.8 2279.7 1865.2 2279.6 1866.5 2279.5C1867.8 2279.4 1869.2 2279.4 1870.5 2279.4C1871.9 2279.4 1873.2 2279.4 1874.5 2279.5C1875.9 2279.5 1877.2 2279.6 1878.5 2279.8C1879.8 2279.9 1881.2 2280.1 1882.5 2280.3C1883.8 2280.5 1885.1 2280.7 1886.4 2280.9C1887.8 2281.2 1889.1 2281.5 1890.4 2281.7C1891.7 2282.0 1893.0 2282.2 1894.3 2282.5C1895.6 2282.7 1896.9 2283.0 1898.3 2283.2C1899.6 2283.4 1900.9 2283.5 1902.2 2283.6C1903.6 2283.8 1904.9 2283.8 1906.2 2283.8C1907.6 2283.8 1908.9 2283.8 1910.2 2283.7C1911.6 2283.6 1912.9 2283.5 1914.2 2283.3C1915.6 2283.2 1916.9 2283.0 1918.2 2282.8C1919.5 2282.7 1920.9 2282.5 1922.2 2282.3C1923.5 2282.1 1924.8 2281.9 1926.1 2281.7C1927.5 2281.5 1928.8 2281.3 1930.1 2281.2C1931.5 2281.0 1932.8 2280.9 1934.1 2280.8C1935.4 2280.8 1936.8 2280.7 1938.1 2280.7C1939.5 2280.7 1940.8 2280.8 1942.1 2280.9C1943.5 2281.0 1944.8 2281.2 1946.1 2281.4C1947.4 2281.7 1948.1 2282.3 1950.0 2282.4C1954.2 2282.7 1964.6 2281.1 1971.5 2279.7C1978.1 2278.4 1984.7 2276.4 1990.4 2274.3C1995.3 2272.6 1999.4 2270.4 2003.9 2268.4" fill="none" stroke="#00ffff" stroke-width="5.5" stroke-linecap="round" stroke-linejoin="round"/>
<line x1="307.2" y1="2132.2" x2="307.2" y2="3580.4" stroke="#000" stroke-width="5.6" stroke-linecap="butt"/>
<line x1="2263.2" y1="2135.0" x2="2263.2" y2="3580.4" stroke="#000" stroke-width="5.6" stroke-linecap="butt"/>
<line x1="293.2" y1="3577.6" x2="2265.7" y2="3577.6" stroke="#000" stroke-width="5.6" stroke-linecap="round"/>
<line x1="293.2" y1="2135.0" x2="2266.2" y2="2135.0" stroke="#000" stroke-width="5.6" stroke-linecap="round"/>
<line x1="307.2" y1="3457.1" x2="278.8" y2="3457.1" stroke="#000" stroke-width="5.4" stroke-linecap="round"/>
<text transform="translate(257.0 3476.8) scale(1 1.040)" font-size="71.6" text-anchor="end">-10</text>
<line x1="307.2" y1="3337.0" x2="293.1" y2="3337.0" stroke="#000" stroke-width="5.4" stroke-linecap="round"/>
<line x1="307.2" y1="3216.8" x2="278.8" y2="3216.8" stroke="#000" stroke-width="5.4" stroke-linecap="round"/>
<text transform="translate(257.0 3236.5) scale(1 1.040)" font-size="71.6" text-anchor="end">-8</text>
<line x1="307.2" y1="3096.7" x2="293.1" y2="3096.7" stroke="#000" stroke-width="5.4" stroke-linecap="round"/>
<line x1="307.2" y1="2976.5" x2="278.8" y2="2976.5" stroke="#000" stroke-width="5.4" stroke-linecap="round"/>
<text transform="translate(257.0 2996.2) scale(1 1.040)" font-size="71.6" text-anchor="end">-6</text>
<line x1="307.2" y1="2856.4" x2="293.1" y2="2856.4" stroke="#000" stroke-width="5.4" stroke-linecap="round"/>
<line x1="307.2" y1="2736.3" x2="278.8" y2="2736.3" stroke="#000" stroke-width="5.4" stroke-linecap="round"/>
<text transform="translate(257.0 2756.0) scale(1 1.040)" font-size="71.6" text-anchor="end">-4</text>
<line x1="307.2" y1="2616.1" x2="293.1" y2="2616.1" stroke="#000" stroke-width="5.4" stroke-linecap="round"/>
<line x1="307.2" y1="2496.0" x2="278.8" y2="2496.0" stroke="#000" stroke-width="5.4" stroke-linecap="round"/>
<text transform="translate(257.0 2515.7) scale(1 1.040)" font-size="71.6" text-anchor="end">-2</text>
<line x1="307.2" y1="2375.8" x2="293.1" y2="2375.8" stroke="#000" stroke-width="5.4" stroke-linecap="round"/>
<line x1="307.2" y1="2255.7" x2="278.8" y2="2255.7" stroke="#000" stroke-width="5.4" stroke-linecap="round"/>
<text transform="translate(257.0 2275.4) scale(1 1.040)" font-size="71.6" text-anchor="end">0</text>
<line x1="395.8" y1="3577.6" x2="395.8" y2="3606.9" stroke="#000" stroke-width="5.4" stroke-linecap="round"/>
<text transform="translate(395.8 3683.8) scale(1 1.040)" font-size="71.6" text-anchor="middle">0</text>
<line x1="573.5" y1="3577.6" x2="573.5" y2="3591.3" stroke="#000" stroke-width="5.4" stroke-linecap="round"/>
<line x1="751.3" y1="3577.6" x2="751.3" y2="3606.9" stroke="#000" stroke-width="5.4" stroke-linecap="round"/>
<text transform="translate(751.3 3683.8) scale(1 1.040)" font-size="71.6" text-anchor="middle">200</text>
<line x1="929.0" y1="3577.6" x2="929.0" y2="3591.3" stroke="#000" stroke-width="5.4" stroke-linecap="round"/>
<line x1="1106.8" y1="3577.6" x2="1106.8" y2="3606.9" stroke="#000" stroke-width="5.4" stroke-linecap="round"/>
<text transform="translate(1106.8 3683.8) scale(1 1.040)" font-size="71.6" text-anchor="middle">400</text>
<line x1="1284.5" y1="3577.6" x2="1284.5" y2="3591.3" stroke="#000" stroke-width="5.4" stroke-linecap="round"/>
<line x1="1462.3" y1="3577.6" x2="1462.3" y2="3606.9" stroke="#000" stroke-width="5.4" stroke-linecap="round"/>
<text transform="translate(1462.3 3683.8) scale(1 1.040)" font-size="71.6" text-anchor="middle">600</text>
<line x1="1640.0" y1="3577.6" x2="1640.0" y2="3591.3" stroke="#000" stroke-width="5.4" stroke-linecap="round"/>
<line x1="1817.8" y1="3577.6" x2="1817.8" y2="3606.9" stroke="#000" stroke-width="5.4" stroke-linecap="round"/>
<text transform="translate(1817.8 3683.8) scale(1 1.040)" font-size="71.6" text-anchor="middle">800</text>
<line x1="1995.5" y1="3577.6" x2="1995.5" y2="3591.3" stroke="#000" stroke-width="5.4" stroke-linecap="round"/>
<line x1="2173.3" y1="3577.6" x2="2173.3" y2="3606.9" stroke="#000" stroke-width="5.4" stroke-linecap="round"/>
<text transform="translate(2173.3 3683.8) scale(1 1.040)" font-size="71.6" text-anchor="middle">1000</text>
<text x="1268.5" y="2085.8" font-size="118.0" text-anchor="middle">b</text>
<text x="931.6" y="3809.2" font-size="91">Temperature (<tspan font-size="63.5" dy="-49">o</tspan><tspan dy="49">C)</tspan></text>
<text transform="translate(116.4 3305.9) rotate(-90)" font-size="91">Mass loss rate (% / min)</text>
<rect x="1392.4" y="2997.6" width="873.8" height="501.1" fill="none" stroke="#000" stroke-width="4.2"/>
<line x1="1426.7" y1="3073.9" x2="1585.5" y2="3073.9" stroke="#000000" stroke-width="5.8" stroke-linecap="round"/>
<text transform="translate(1603.5 3098.3) scale(1 1.030)" font-size="71.6" text-anchor="start">IL/Na-Bent</text>
<line x1="1426.7" y1="3161.8" x2="1585.5" y2="3161.8" stroke="#ff0000" stroke-width="5.8" stroke-linecap="round"/>
<text transform="translate(1603.5 3186.2) scale(1 1.030)" font-size="71.6" text-anchor="start">IL/Na-Bent/MCC-1</text>
<line x1="1426.7" y1="3249.7" x2="1585.5" y2="3249.7" stroke="#00f96c" stroke-width="5.8" stroke-linecap="round"/>
<text transform="translate(1603.5 3274.1) scale(1 1.030)" font-size="71.6" text-anchor="start">IL/Na-Bent/MCC-2</text>
<line x1="1426.7" y1="3337.6" x2="1585.5" y2="3337.6" stroke="#0000fa" stroke-width="5.8" stroke-linecap="round"/>
<text transform="translate(1603.5 3362.0) scale(1 1.030)" font-size="71.6" text-anchor="start">IL/Na-Bent/MCC-6</text>
<line x1="1426.7" y1="3425.5" x2="1585.5" y2="3425.5" stroke="#00ffff" stroke-width="5.8" stroke-linecap="round"/>
<text transform="translate(1603.5 3449.9) scale(1 1.030)" font-size="71.6" text-anchor="start">IL/Na-Bent/MCC-10</text>
</g>
</svg></body></html>
